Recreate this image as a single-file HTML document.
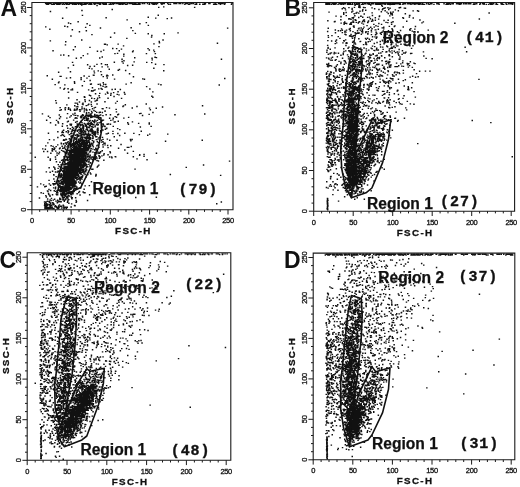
<!DOCTYPE html>
<html><head><meta charset="utf-8"><title>FSC-H / SSC-H scatter plots</title>
<style>
html,body{margin:0;padding:0;background:#fff}
svg{display:block}
text{font-family:"Liberation Sans",sans-serif;fill:#111}
.t text{font-size:7.5px;letter-spacing:-.3px;stroke:#111;stroke-width:.3px}
.ax{font-size:9.8px;font-weight:bold;letter-spacing:1.35px;stroke:#111;stroke-width:.3px}
.r{font-size:15.6px;font-weight:bold;stroke:#111;stroke-width:.25px}
.n{font-family:"Liberation Mono",monospace;font-size:15px;font-weight:bold;letter-spacing:.9px;stroke:#111;stroke-width:.35px}
.L{font-size:23px;font-weight:bold}
.d{fill:none;stroke:#111;stroke-width:1.38;stroke-linecap:square}
.g{fill:none;stroke:#111;stroke-width:1.6;stroke-linejoin:round}
</style></head><body>
<svg width="520" height="487" viewBox="0 0 520 487">
<rect width="520" height="487" fill="#fff"/>
<g fill="none" stroke="#1a1a1a" stroke-width="1.1">
<path d="M31.9 2.5V209.7H233.0V2.5Z"/>
<path stroke-width="1" d="M31.9 209.7v4.8M31.9 209.7h-4.8M39.7 209.7v2.2M31.9 201.6h-2.2M47.6 209.7v2.2M31.9 193.5h-2.2M55.4 209.7v2.2M31.9 185.4h-2.2M63.3 209.7v2.2M31.9 177.3h-2.2M71.1 209.7v4.8M31.9 169.3h-4.8M79.0 209.7v2.2M31.9 161.2h-2.2M86.8 209.7v2.2M31.9 153.1h-2.2M94.7 209.7v2.2M31.9 145.0h-2.2M102.5 209.7v2.2M31.9 136.9h-2.2M110.3 209.7v4.8M31.9 128.8h-4.8M118.2 209.7v2.2M31.9 120.7h-2.2M126.0 209.7v2.2M31.9 112.6h-2.2M133.9 209.7v2.2M31.9 104.6h-2.2M141.7 209.7v2.2M31.9 96.5h-2.2M149.6 209.7v4.8M31.9 88.4h-4.8M157.4 209.7v2.2M31.9 80.3h-2.2M165.2 209.7v2.2M31.9 72.2h-2.2M173.1 209.7v2.2M31.9 64.1h-2.2M180.9 209.7v2.2M31.9 56.0h-2.2M188.8 209.7v4.8M31.9 47.9h-4.8M196.6 209.7v2.2M31.9 39.9h-2.2M204.5 209.7v2.2M31.9 31.8h-2.2M212.3 209.7v2.2M31.9 23.7h-2.2M220.2 209.7v2.2M31.9 15.6h-2.2M228.0 209.7v4.8M31.9 7.5h-4.8"/>
</g>
<g class="t">
<text x="31.9" y="223.3" text-anchor="middle">0</text>
<text transform="translate(25.6 209.7) rotate(-90)" text-anchor="middle">0</text>
<text x="71.1" y="223.3" text-anchor="middle">50</text>
<text transform="translate(25.6 169.3) rotate(-90)" text-anchor="middle">50</text>
<text x="110.3" y="223.3" text-anchor="middle">100</text>
<text transform="translate(25.6 128.8) rotate(-90)" text-anchor="middle">100</text>
<text x="149.6" y="223.3" text-anchor="middle">150</text>
<text transform="translate(25.6 88.4) rotate(-90)" text-anchor="middle">150</text>
<text x="188.8" y="223.3" text-anchor="middle">200</text>
<text transform="translate(25.6 47.9) rotate(-90)" text-anchor="middle">200</text>
<text x="228.0" y="223.3" text-anchor="middle">250</text>
<text transform="translate(25.6 7.5) rotate(-90)" text-anchor="middle">250</text>
</g>
<text class="ax" x="133.4" y="234.3" text-anchor="middle">FSC-H</text>
<text class="ax" transform="translate(13.3 105.1) rotate(-90)" text-anchor="middle">SSC-H</text>
<path class="d" d="M81.5 170.4h.1M78.1 160.2h.1M83.7 146.9h.1M75.0 157.5h.1M68.2 172.6h.1M67.6 193.5h.1M68.2 164.6h.1M82.4 150.0h.1M84.5 160.4h.1M79.0 179.0h.1M70.5 158.8h.1M71.6 173.9h.1M76.4 166.9h.1M71.7 181.2h.1M77.4 169.3h.1M72.2 156.3h.1M66.1 189.2h.1M64.9 171.4h.1M64.9 193.7h.1M75.6 188.1h.1M61.5 191.5h.1M73.7 171.2h.1M76.0 163.5h.1M69.3 161.8h.1M81.0 150.1h.1M68.5 168.5h.1M61.1 201.8h.1M81.6 153.8h.1M71.6 167.5h.1M76.3 166.7h.1M61.6 186.8h.1M67.8 172.8h.1M76.5 158.7h.1M67.4 177.7h.1M76.5 153.2h.1M70.6 178.9h.1M70.2 166.8h.1M78.8 155.7h.1M68.5 174.7h.1M76.2 170.9h.1M73.8 165.9h.1M72.4 166.1h.1M70.3 185.2h.1M82.0 149.0h.1M79.1 158.3h.1M63.3 187.6h.1M80.4 156.7h.1M72.6 165.3h.1M65.0 174.3h.1M72.3 167.1h.1M83.1 159.2h.1M74.6 163.3h.1M70.2 165.1h.1M73.6 170.7h.1M77.6 144.0h.1M74.8 157.4h.1M71.7 167.8h.1M77.8 158.7h.1M82.5 148.6h.1M71.1 177.0h.1M70.9 174.3h.1M69.4 173.1h.1M70.8 170.5h.1M68.8 184.1h.1M70.5 175.3h.1M71.2 169.7h.1M79.4 169.5h.1M82.0 152.9h.1M75.8 170.3h.1M67.5 186.5h.1M67.0 188.6h.1M64.6 195.0h.1M74.4 174.9h.1M66.7 178.8h.1M72.3 167.7h.1M82.8 160.2h.1M76.2 160.2h.1M75.7 174.0h.1M73.6 148.4h.1M83.3 145.8h.1M72.8 173.8h.1M70.4 175.1h.1M82.0 146.5h.1M74.3 166.0h.1M67.0 168.2h.1M67.2 182.4h.1M62.1 189.6h.1M67.3 172.1h.1M74.9 174.5h.1M70.7 156.4h.1M71.0 166.9h.1M65.9 177.7h.1M74.9 173.2h.1M75.8 152.1h.1M68.4 176.9h.1M70.0 183.3h.1M59.0 182.1h.1M73.2 162.0h.1M66.0 190.8h.1M62.7 195.0h.1M68.8 170.4h.1M65.0 178.3h.1M72.3 164.5h.1M76.1 146.8h.1M68.5 165.0h.1M74.8 177.6h.1M76.3 165.3h.1M66.0 198.6h.1M70.7 174.2h.1M77.1 141.5h.1M74.7 157.1h.1M79.8 161.7h.1M69.5 181.9h.1M65.7 177.6h.1M75.6 167.7h.1M68.6 182.0h.1M73.7 163.5h.1M78.4 174.3h.1M75.6 153.2h.1M73.3 164.4h.1M70.6 169.1h.1M66.6 197.3h.1M75.7 170.1h.1M84.3 144.4h.1M67.0 182.6h.1M75.1 162.4h.1M62.5 196.3h.1M71.3 153.6h.1M60.2 189.6h.1M74.9 171.8h.1M71.7 179.8h.1M71.3 154.6h.1M75.3 166.1h.1M61.0 186.6h.1M74.0 148.4h.1M81.9 150.5h.1M74.2 168.7h.1M71.9 171.1h.1M79.4 161.0h.1M82.5 153.8h.1M76.7 163.1h.1M67.8 173.8h.1M73.5 172.6h.1M70.3 178.6h.1M72.1 176.6h.1M72.1 186.7h.1M74.5 148.4h.1M81.1 172.6h.1M81.8 152.0h.1M71.6 166.6h.1M84.8 152.1h.1M66.1 181.1h.1M66.3 173.5h.1M75.8 170.7h.1M70.9 172.3h.1M76.0 173.0h.1M64.9 185.6h.1M69.2 178.4h.1M81.0 144.7h.1M69.9 162.3h.1M66.6 181.2h.1M70.5 160.9h.1M65.4 182.8h.1M70.4 189.3h.1M71.6 170.0h.1M68.8 175.0h.1M75.4 178.4h.1M72.4 155.7h.1M64.2 192.5h.1M72.6 166.0h.1M73.0 178.9h.1M75.5 161.2h.1M69.8 174.4h.1M78.4 157.8h.1M77.3 156.3h.1M83.8 162.9h.1M73.8 151.6h.1M75.0 175.8h.1M82.8 166.3h.1M76.8 169.2h.1M74.3 174.6h.1M69.1 173.7h.1M72.0 181.8h.1M71.0 171.2h.1M82.5 153.5h.1M67.2 160.2h.1M77.4 150.7h.1M64.9 169.5h.1M82.6 154.0h.1M75.4 154.9h.1M70.1 187.5h.1M76.2 153.8h.1M73.6 159.8h.1M78.5 171.5h.1M82.7 154.9h.1M81.6 158.3h.1M83.0 158.1h.1M80.7 155.9h.1M74.7 174.9h.1M86.2 148.7h.1M67.0 184.3h.1M75.9 155.0h.1M68.5 195.9h.1M79.9 156.3h.1M76.0 160.7h.1M85.1 138.2h.1M73.6 175.2h.1M70.4 167.3h.1M74.6 155.3h.1M66.1 180.4h.1M74.2 167.9h.1M70.6 153.5h.1M64.2 173.9h.1M71.8 176.7h.1M75.3 164.1h.1M67.5 170.9h.1M75.2 171.9h.1M72.3 166.4h.1M79.4 150.9h.1M69.6 186.2h.1M73.6 170.1h.1M74.4 182.8h.1M67.4 190.6h.1M83.2 163.2h.1M69.6 152.9h.1M63.9 177.2h.1M65.8 175.2h.1M69.7 174.7h.1M65.0 179.8h.1M64.6 177.9h.1M70.9 163.5h.1M71.7 162.4h.1M73.7 177.4h.1M73.7 162.3h.1M85.5 140.6h.1M70.9 188.0h.1M73.4 180.6h.1M67.0 180.9h.1M69.7 166.3h.1M71.3 189.0h.1M68.3 162.6h.1M73.4 151.7h.1M78.7 157.6h.1M73.7 172.3h.1M72.4 171.6h.1M75.8 150.5h.1M74.8 168.3h.1M81.5 158.1h.1M67.7 179.9h.1M71.2 197.0h.1M68.8 167.7h.1M79.1 148.9h.1M71.0 165.8h.1M66.0 182.8h.1M66.3 179.4h.1M77.6 154.9h.1M77.3 166.4h.1M74.6 167.1h.1M73.6 168.3h.1M69.3 165.3h.1M61.0 184.1h.1M65.5 185.0h.1M70.4 184.6h.1M75.6 170.0h.1M78.3 156.6h.1M65.2 175.0h.1M62.8 193.5h.1M75.4 163.3h.1M75.6 170.4h.1M71.0 165.0h.1M78.1 151.9h.1M82.3 144.1h.1M80.5 147.5h.1M65.3 171.6h.1M66.9 187.8h.1M69.4 160.1h.1M68.9 166.5h.1M74.7 164.0h.1M70.1 167.2h.1M73.4 169.4h.1M75.9 170.5h.1M73.2 171.5h.1M73.2 178.7h.1M77.7 150.6h.1M75.2 162.9h.1M71.5 166.8h.1M78.2 145.6h.1M82.0 179.1h.1M70.6 172.4h.1M71.0 194.6h.1M82.2 142.1h.1M81.5 155.5h.1M78.9 151.9h.1M72.0 156.6h.1M80.2 168.2h.1M79.5 149.2h.1M73.8 167.8h.1M79.5 172.3h.1M71.6 165.9h.1M81.0 146.9h.1M78.2 160.6h.1M75.9 169.2h.1M59.3 171.2h.1M71.9 176.7h.1M89.6 143.7h.1M84.4 148.3h.1M72.3 175.1h.1M73.3 172.7h.1M72.9 170.2h.1M76.1 172.2h.1M67.8 177.5h.1M80.0 155.3h.1M77.3 172.4h.1M77.3 166.3h.1M77.7 160.4h.1M62.7 188.1h.1M70.7 170.1h.1M70.6 179.6h.1M77.9 155.4h.1M80.1 147.3h.1M69.2 157.0h.1M83.4 147.5h.1M70.4 171.2h.1M73.9 158.7h.1M71.5 183.9h.1M74.4 163.2h.1M65.9 186.9h.1M70.6 181.0h.1M81.6 139.3h.1M68.6 169.7h.1M68.9 167.9h.1M69.6 180.7h.1M77.9 153.5h.1M60.9 176.3h.1M72.1 184.0h.1M79.2 149.8h.1M71.7 162.7h.1M78.4 152.6h.1M78.8 145.9h.1M74.3 163.7h.1M73.7 159.0h.1M78.7 139.2h.1M73.4 170.5h.1M70.0 175.3h.1M67.1 186.0h.1M75.2 167.5h.1M76.5 159.7h.1M82.4 155.9h.1M66.5 178.7h.1M67.0 166.7h.1M73.1 149.8h.1M61.0 188.0h.1M74.7 175.1h.1M69.2 162.6h.1M77.6 164.4h.1M72.3 171.6h.1M60.5 183.0h.1M78.5 166.1h.1M70.2 167.6h.1M67.8 180.3h.1M82.5 144.6h.1M72.9 179.0h.1M72.4 166.2h.1M68.0 188.0h.1M71.8 160.9h.1M69.7 164.5h.1M71.5 188.5h.1M79.6 156.5h.1M78.2 158.3h.1M72.9 182.4h.1M69.1 192.3h.1M71.4 172.4h.1M71.0 177.0h.1M83.0 160.1h.1M86.7 137.4h.1M72.8 163.9h.1M81.9 158.1h.1M71.1 184.6h.1M67.7 166.2h.1M68.0 168.2h.1M78.6 171.7h.1M81.2 161.6h.1M68.7 176.7h.1M83.4 153.9h.1M79.8 153.3h.1M68.7 186.0h.1M69.2 173.2h.1M82.9 170.1h.1M89.6 148.0h.1M76.1 174.4h.1M70.7 164.3h.1M67.7 185.4h.1M83.9 158.1h.1M79.5 145.9h.1M70.1 169.2h.1M75.6 164.9h.1M79.4 155.3h.1M63.4 190.5h.1M69.2 166.1h.1M72.6 168.6h.1M73.6 161.5h.1M71.9 172.7h.1M80.1 154.0h.1M77.9 165.8h.1M74.5 162.3h.1M68.4 185.0h.1M78.5 156.8h.1M72.6 160.0h.1M80.3 143.7h.1M77.2 148.0h.1M82.2 161.4h.1M71.1 168.2h.1M80.0 156.4h.1M68.4 190.9h.1M71.1 184.0h.1M69.9 164.2h.1M69.1 170.7h.1M84.0 146.8h.1M74.5 177.8h.1M65.8 188.8h.1M67.0 190.9h.1M71.5 154.9h.1M83.7 156.0h.1M85.4 155.4h.1M79.8 153.2h.1M78.0 155.3h.1M67.9 181.6h.1M68.4 173.4h.1M61.8 177.0h.1M83.2 144.9h.1M72.9 175.5h.1M75.8 181.1h.1M71.2 171.3h.1M65.5 180.4h.1M68.1 185.4h.1M69.1 166.6h.1M77.9 155.4h.1M60.6 186.4h.1M72.4 167.0h.1M82.7 154.3h.1M68.0 189.9h.1M85.8 150.9h.1M88.7 145.4h.1M80.1 146.7h.1M70.1 167.3h.1M59.2 185.4h.1M72.7 170.7h.1M66.8 188.8h.1M84.8 148.9h.1M64.1 182.7h.1M75.2 158.8h.1M75.5 168.9h.1M65.8 181.4h.1M71.1 168.2h.1M80.5 169.2h.1M75.7 153.5h.1M68.6 179.7h.1M71.3 178.2h.1M66.6 191.5h.1M62.5 178.5h.1M59.1 190.3h.1M58.1 189.7h.1M77.4 169.8h.1M79.5 158.5h.1M62.8 187.1h.1M72.5 183.9h.1M72.5 178.6h.1M80.0 169.9h.1M68.9 159.9h.1M67.2 173.2h.1M82.6 137.8h.1M75.7 159.3h.1M71.3 178.3h.1M77.2 162.1h.1M66.6 179.9h.1M82.5 151.0h.1M64.6 178.5h.1M84.6 142.8h.1M76.5 169.1h.1M70.2 162.5h.1M82.9 143.5h.1M73.6 161.4h.1M77.9 160.3h.1M75.9 186.2h.1M66.5 180.9h.1M72.1 186.5h.1M64.7 179.9h.1M72.5 187.7h.1M89.3 145.0h.1M76.6 155.9h.1M67.3 180.0h.1M66.2 186.5h.1M76.2 173.9h.1M77.3 147.4h.1M64.8 207.8h.1M83.2 146.2h.1M71.1 183.2h.1M80.1 153.8h.1M70.1 167.5h.1M72.9 176.5h.1M64.1 187.3h.1M66.3 179.9h.1M83.7 158.7h.1M81.8 157.8h.1M68.7 185.1h.1M71.4 180.1h.1M65.1 187.3h.1M80.4 170.4h.1M71.6 165.0h.1M75.4 154.2h.1M73.7 169.0h.1M78.0 170.9h.1M73.3 168.4h.1M75.3 168.7h.1M74.9 157.6h.1M75.6 162.8h.1M70.3 168.4h.1M72.1 176.5h.1M68.1 166.5h.1M78.8 178.8h.1M80.2 160.7h.1M71.6 167.7h.1M73.8 183.7h.1M74.0 158.3h.1M84.4 151.2h.1M72.2 170.2h.1M65.7 199.5h.1M70.7 180.2h.1M76.3 158.1h.1M72.8 170.9h.1M72.2 175.5h.1M61.4 177.1h.1M73.5 167.5h.1M70.3 187.3h.1M65.2 180.2h.1M70.3 167.4h.1M66.2 174.3h.1M59.8 185.7h.1M66.7 197.0h.1M70.3 164.9h.1M78.7 140.8h.1M72.8 169.7h.1M77.5 154.1h.1M82.5 176.5h.1M70.8 181.6h.1M65.9 168.9h.1M77.2 177.4h.1M76.0 166.9h.1M66.6 183.5h.1M75.6 155.6h.1M68.5 163.4h.1M80.8 167.2h.1M70.7 175.0h.1M73.3 158.9h.1M70.0 191.9h.1M76.0 161.3h.1M74.7 143.5h.1M70.3 161.9h.1M74.7 158.4h.1M76.7 188.0h.1M72.8 171.2h.1M75.4 158.3h.1M76.8 162.0h.1M73.9 167.4h.1M55.1 184.1h.1M77.0 160.4h.1M84.2 149.1h.1M77.7 153.4h.1M75.9 164.7h.1M67.0 189.1h.1M78.6 154.8h.1M62.7 188.7h.1M60.2 201.7h.1M79.8 163.9h.1M80.9 148.9h.1M65.5 184.5h.1M72.1 176.8h.1M75.8 148.7h.1M69.6 169.7h.1M78.5 165.1h.1M81.1 143.3h.1M66.9 163.8h.1M67.5 166.9h.1M72.6 170.9h.1M69.8 168.0h.1M72.6 177.8h.1M80.9 163.6h.1M73.6 161.4h.1M73.3 165.7h.1M76.7 153.3h.1M74.7 164.8h.1M72.2 167.8h.1M79.1 158.2h.1M74.8 158.9h.1M73.1 159.7h.1M75.8 162.2h.1M69.2 170.7h.1M83.0 161.4h.1M71.4 182.2h.1M75.0 147.6h.1M59.9 185.5h.1M68.1 179.8h.1M80.9 148.6h.1M79.3 166.0h.1M70.5 172.0h.1M67.8 174.7h.1M74.6 181.2h.1M73.3 162.2h.1M63.5 189.7h.1M76.5 154.7h.1M79.5 163.8h.1M68.7 175.0h.1M78.9 169.6h.1M72.0 155.3h.1M59.4 204.9h.1M68.9 193.3h.1M71.5 158.4h.1M72.9 156.7h.1M83.9 146.5h.1M71.4 149.2h.1M78.7 164.5h.1M72.0 168.4h.1M73.3 155.2h.1M79.0 177.8h.1M69.8 166.7h.1M78.3 155.2h.1M69.2 179.7h.1M76.7 171.1h.1M72.2 167.7h.1M78.5 166.2h.1M83.7 150.5h.1M75.0 168.5h.1M72.2 185.0h.1M63.2 178.6h.1M77.4 171.8h.1M75.3 171.2h.1M78.6 157.2h.1M78.8 153.3h.1M63.3 187.0h.1M78.0 146.2h.1M76.4 163.3h.1M71.7 177.0h.1M65.9 188.2h.1M66.2 178.7h.1M73.6 159.9h.1M77.9 161.5h.1M75.2 186.0h.1M59.0 183.7h.1M69.0 169.5h.1M78.1 152.2h.1M72.7 166.2h.1M71.2 179.8h.1M80.9 158.6h.1M68.7 184.8h.1M77.7 158.6h.1M77.1 164.8h.1M74.2 182.0h.1M75.1 166.9h.1M79.9 143.9h.1M79.9 155.7h.1M70.4 176.1h.1M85.3 158.4h.1M80.3 151.3h.1M85.1 137.2h.1M87.9 141.9h.1M80.1 168.9h.1M69.0 175.5h.1M73.5 176.8h.1M71.2 168.6h.1M79.2 156.7h.1M72.0 165.1h.1M77.0 161.8h.1M80.5 165.3h.1M65.7 190.0h.1M67.6 187.5h.1M65.7 181.8h.1M68.5 186.4h.1M74.3 169.9h.1M71.6 163.5h.1M72.5 157.5h.1M69.2 171.1h.1M76.1 149.1h.1M67.6 179.0h.1M76.1 152.0h.1M65.4 180.3h.1M76.2 155.9h.1M64.8 191.1h.1M80.4 147.4h.1M73.4 141.3h.1M72.5 170.5h.1M77.9 158.3h.1M67.0 189.7h.1M68.6 181.7h.1M70.9 172.3h.1M90.2 134.5h.1M85.4 157.1h.1M72.0 168.6h.1M82.9 159.9h.1M69.3 176.5h.1M71.9 170.5h.1M67.7 171.0h.1M73.6 148.8h.1M74.7 160.3h.1M78.9 159.1h.1M72.8 182.7h.1M86.0 142.3h.1M74.1 165.8h.1M88.5 149.5h.1M73.2 167.9h.1M76.5 159.7h.1M74.5 158.0h.1M76.1 164.3h.1M76.5 158.3h.1M79.6 159.2h.1M73.6 172.8h.1M71.5 192.8h.1M68.4 180.4h.1M67.5 167.2h.1M71.4 171.8h.1M75.2 159.0h.1M71.7 183.6h.1M76.8 142.7h.1M82.4 151.9h.1M72.0 163.0h.1M78.7 152.2h.1M86.8 141.8h.1M70.0 165.9h.1M64.6 192.0h.1M68.5 179.4h.1M68.7 176.0h.1M70.5 176.4h.1M69.9 181.9h.1M62.0 194.2h.1M76.7 163.4h.1M65.9 188.0h.1M72.5 177.9h.1M78.4 170.9h.1M82.1 151.7h.1M75.0 169.1h.1M70.9 174.8h.1M66.3 174.3h.1M71.3 192.6h.1M73.0 167.7h.1M90.7 145.2h.1M72.4 182.3h.1M82.0 150.1h.1M74.1 191.2h.1M72.0 192.6h.1M75.1 161.7h.1M73.0 168.2h.1M72.6 171.6h.1M75.0 172.5h.1M64.9 167.3h.1M80.7 149.7h.1M76.3 169.8h.1M63.8 175.6h.1M69.6 171.8h.1M77.6 160.7h.1M62.7 184.1h.1M71.9 170.5h.1M73.9 159.4h.1M63.1 193.6h.1M71.7 184.0h.1M69.1 169.1h.1M77.6 154.8h.1M71.4 184.7h.1M77.1 166.2h.1M69.5 168.0h.1M81.3 150.4h.1M73.8 166.3h.1M66.0 181.2h.1M80.5 147.0h.1M69.4 196.1h.1M65.8 181.8h.1M68.4 171.4h.1M73.8 157.3h.1M70.8 157.1h.1M68.4 177.8h.1M63.0 187.9h.1M76.8 140.9h.1M73.2 171.9h.1M71.5 153.9h.1M70.1 157.9h.1M68.0 174.2h.1M61.8 179.5h.1M68.7 171.4h.1M69.3 189.1h.1M66.3 174.9h.1M74.3 162.0h.1M73.7 162.7h.1M63.7 193.0h.1M67.8 168.5h.1M74.4 159.2h.1M71.2 181.8h.1M67.3 179.4h.1M68.0 174.7h.1M71.0 182.6h.1M72.0 176.9h.1M65.2 194.9h.1M79.8 157.2h.1M71.8 168.5h.1M74.9 152.5h.1M67.4 163.6h.1M72.5 157.3h.1M70.1 165.7h.1M75.8 148.8h.1M70.9 160.0h.1M76.9 162.6h.1M67.1 177.8h.1M65.2 186.9h.1M73.2 169.9h.1M73.9 171.6h.1M69.8 183.6h.1M67.8 186.4h.1M86.1 146.8h.1M73.7 161.4h.1M67.7 184.0h.1M80.6 147.2h.1M71.0 170.9h.1M70.6 167.8h.1M78.6 160.5h.1M74.4 166.4h.1M76.2 178.3h.1M73.8 191.6h.1M76.9 179.9h.1M67.9 166.0h.1M87.0 150.9h.1M84.7 131.8h.1M63.3 179.3h.1M72.9 174.4h.1M63.6 176.8h.1M71.3 153.4h.1M76.5 149.0h.1M62.7 171.0h.1M71.2 167.1h.1M71.3 181.8h.1M67.0 179.9h.1M72.8 174.6h.1M67.8 197.8h.1M71.0 188.8h.1M69.0 154.5h.1M76.2 166.2h.1M72.7 170.1h.1M67.1 192.5h.1M74.5 163.3h.1M71.0 177.3h.1M81.5 150.3h.1M73.1 182.4h.1M74.2 181.4h.1M79.3 159.9h.1M69.6 175.0h.1M60.3 180.7h.1M79.3 140.0h.1M74.2 145.4h.1M72.9 163.9h.1M79.6 151.8h.1M75.9 175.7h.1M79.2 152.0h.1M84.2 162.2h.1M73.8 170.0h.1M80.1 131.5h.1M71.0 170.9h.1M74.1 153.5h.1M74.5 169.1h.1M78.3 169.6h.1M81.2 151.6h.1M73.1 173.2h.1M60.6 189.6h.1M58.5 186.8h.1M76.2 168.2h.1M75.3 166.4h.1M80.6 149.7h.1M76.3 163.6h.1M84.7 150.7h.1M67.7 182.4h.1M72.1 167.3h.1M82.5 138.4h.1M81.7 158.5h.1M75.2 164.2h.1M80.5 167.6h.1M79.1 141.9h.1M72.5 181.4h.1M76.4 162.7h.1M77.4 161.8h.1M79.3 158.1h.1M72.7 181.3h.1M74.0 185.7h.1M65.9 169.0h.1M73.2 165.5h.1M65.1 187.7h.1M60.3 180.3h.1M75.1 164.1h.1M75.9 154.8h.1M68.6 180.6h.1M68.1 169.2h.1M62.4 192.3h.1M80.8 144.0h.1M78.0 158.0h.1M67.2 181.5h.1M75.0 150.5h.1M92.4 138.6h.1M68.8 181.7h.1M73.9 171.0h.1M71.7 175.6h.1M81.1 168.4h.1M71.4 165.1h.1M80.0 159.0h.1M67.8 185.7h.1M80.5 153.7h.1M79.2 170.3h.1M82.1 148.8h.1M81.0 167.3h.1M73.5 177.8h.1M81.4 149.1h.1M77.1 157.4h.1M73.5 166.9h.1M67.9 184.5h.1M63.3 171.8h.1M78.6 148.6h.1M86.4 145.7h.1M72.8 176.1h.1M76.6 166.3h.1M68.0 184.4h.1M71.8 178.7h.1M79.7 159.8h.1M67.2 166.3h.1M72.4 170.0h.1M79.8 153.8h.1M67.5 186.7h.1M80.2 151.5h.1M64.8 175.8h.1M67.0 179.9h.1M75.7 148.8h.1M84.1 172.8h.1M65.9 184.7h.1M73.6 155.2h.1M71.0 152.2h.1M79.3 151.2h.1M86.9 149.7h.1M73.4 161.2h.1M79.2 158.5h.1M76.7 178.6h.1M80.8 154.2h.1M69.0 168.1h.1M66.5 173.2h.1M68.5 173.2h.1M77.5 167.9h.1M60.5 175.1h.1M74.8 176.7h.1M71.6 173.4h.1M84.2 154.2h.1M66.4 172.3h.1M67.9 177.8h.1M65.1 180.6h.1M75.6 160.4h.1M78.0 155.7h.1M68.7 178.5h.1M79.4 172.0h.1M68.3 170.5h.1M79.4 141.0h.1M83.3 144.8h.1M63.8 194.1h.1M67.2 181.3h.1M71.1 156.4h.1M75.8 156.1h.1M77.0 157.4h.1M74.9 169.1h.1M81.1 163.2h.1M78.8 159.3h.1M72.8 168.4h.1M79.4 153.8h.1M70.9 173.6h.1M73.9 157.8h.1M66.8 181.0h.1M77.2 154.0h.1M70.0 169.5h.1M68.4 179.3h.1M80.0 149.8h.1M67.2 179.2h.1M87.0 149.4h.1M62.4 183.7h.1M77.9 169.5h.1M65.9 178.9h.1M70.2 176.1h.1M64.8 178.9h.1M78.5 153.1h.1M69.9 187.7h.1M78.4 141.8h.1M75.6 159.4h.1M78.3 152.9h.1M71.4 172.0h.1M68.6 169.5h.1M64.9 181.8h.1M73.0 166.0h.1M74.5 181.7h.1M80.0 154.0h.1M71.1 172.8h.1M63.4 175.0h.1M72.0 167.1h.1M75.5 162.7h.1M71.1 160.5h.1M66.4 188.0h.1M75.3 162.7h.1M74.7 162.2h.1M73.1 185.0h.1M74.7 153.1h.1M77.8 150.5h.1M72.5 173.0h.1M73.6 179.6h.1M72.9 166.3h.1M67.0 169.5h.1M74.3 172.2h.1M68.2 193.4h.1M67.4 179.3h.1M68.1 199.7h.1M83.2 165.2h.1M68.7 185.3h.1M72.3 178.1h.1M75.0 166.1h.1M76.7 164.4h.1M75.8 157.1h.1M65.5 191.5h.1M71.8 178.5h.1M64.9 195.8h.1M65.9 180.9h.1M77.9 144.5h.1M64.9 180.6h.1M68.0 174.4h.1M85.6 170.5h.1M83.2 151.6h.1M72.9 172.2h.1M77.0 155.3h.1M82.0 161.8h.1M64.9 175.0h.1M65.1 186.9h.1M76.2 166.5h.1M68.0 180.5h.1M77.5 159.9h.1M74.9 171.8h.1M75.7 155.4h.1M81.1 151.3h.1M84.0 153.9h.1M65.8 195.3h.1M72.2 172.0h.1M84.8 148.1h.1M67.1 170.6h.1M73.3 179.6h.1M65.8 168.8h.1M74.5 154.3h.1M77.3 167.0h.1M85.0 134.0h.1M64.7 178.0h.1M68.6 182.8h.1M73.3 180.9h.1M71.0 172.8h.1M71.2 151.1h.1M74.6 180.5h.1M65.2 183.8h.1M77.7 155.3h.1M72.5 171.1h.1M72.9 173.0h.1M68.8 183.4h.1M71.7 160.6h.1M67.8 176.2h.1M69.0 190.5h.1M71.5 155.2h.1M74.9 177.7h.1M73.4 160.0h.1M82.0 141.7h.1M74.9 149.9h.1M66.4 182.6h.1M73.9 154.2h.1M79.2 151.7h.1M72.2 159.8h.1M79.3 147.3h.1M72.7 145.3h.1M69.2 186.6h.1M63.6 181.0h.1M59.8 199.6h.1M80.8 144.8h.1M78.7 159.1h.1M70.6 169.9h.1M77.2 173.2h.1M86.2 147.2h.1M69.7 169.4h.1M84.5 153.9h.1M57.6 194.7h.1M80.4 151.2h.1M79.2 148.5h.1M73.7 165.5h.1M72.9 163.8h.1M83.4 142.7h.1M71.5 176.6h.1M72.6 170.9h.1M71.3 161.3h.1M74.3 152.3h.1M76.1 145.6h.1M71.6 168.0h.1M71.7 174.1h.1M80.8 165.5h.1M83.5 132.4h.1M74.2 155.6h.1M75.9 164.9h.1M78.5 144.2h.1M74.1 150.9h.1M71.9 170.2h.1M66.8 173.5h.1M75.9 156.9h.1M77.5 175.1h.1M72.8 174.0h.1M68.8 184.3h.1M67.0 178.9h.1M72.0 180.7h.1M77.6 160.7h.1M81.9 154.5h.1M75.3 162.5h.1M69.5 177.2h.1M78.6 142.2h.1M70.8 165.6h.1M72.1 168.9h.1M70.9 171.3h.1M70.3 174.4h.1M71.1 172.2h.1M74.5 147.1h.1M82.4 170.2h.1M70.2 177.8h.1M66.9 181.6h.1M65.9 175.2h.1M78.0 166.6h.1M68.5 176.7h.1M75.9 150.7h.1M71.0 178.6h.1M74.6 185.1h.1M71.0 177.8h.1M67.7 196.3h.1M70.8 167.1h.1M75.9 169.9h.1M69.8 157.3h.1M70.7 172.9h.1M72.4 178.8h.1M83.9 143.8h.1M77.3 168.6h.1M72.0 166.8h.1M66.0 171.0h.1M86.3 134.3h.1M76.5 148.5h.1M78.6 163.4h.1M71.6 168.8h.1M62.5 171.4h.1M84.2 153.2h.1M63.7 180.2h.1M73.2 154.7h.1M75.3 182.7h.1M87.2 145.2h.1M77.3 167.4h.1M81.5 134.2h.1M76.4 163.7h.1M73.3 169.3h.1M70.0 168.7h.1M75.1 161.3h.1M77.7 152.8h.1M72.0 174.5h.1M62.7 184.2h.1M68.0 190.8h.1M62.8 177.8h.1M77.2 160.5h.1M78.5 162.1h.1M66.0 180.4h.1M69.9 171.9h.1M80.6 169.5h.1M75.0 160.3h.1M74.2 179.9h.1M75.1 171.9h.1M61.5 191.2h.1M70.7 184.2h.1M80.1 144.9h.1M63.8 197.7h.1M64.8 169.5h.1M74.8 164.5h.1M75.7 174.0h.1M75.4 174.2h.1M76.3 169.4h.1M69.8 175.6h.1M73.0 168.5h.1M60.6 191.7h.1M69.3 176.8h.1M68.7 178.9h.1M69.5 174.5h.1M68.8 181.4h.1M75.5 158.3h.1M75.0 154.2h.1M67.0 176.1h.1M75.1 168.8h.1M85.5 153.7h.1M74.3 173.7h.1M79.3 148.1h.1M86.0 160.5h.1M74.2 170.4h.1M81.4 140.5h.1M68.6 186.8h.1M78.4 166.0h.1M64.5 172.4h.1M60.5 187.5h.1M67.6 186.3h.1M64.2 177.8h.1M68.6 166.0h.1M81.8 156.8h.1M68.7 150.4h.1M76.3 169.7h.1M73.4 170.3h.1M73.2 180.2h.1M74.2 164.2h.1M76.9 172.5h.1M63.7 194.3h.1M78.2 142.2h.1M72.5 167.6h.1M71.9 174.6h.1M72.6 152.4h.1M73.3 177.7h.1M64.0 182.5h.1M81.0 150.0h.1M73.8 164.1h.1M65.8 188.1h.1M76.2 158.4h.1M80.2 149.4h.1M77.1 166.0h.1M72.1 177.4h.1M70.2 171.5h.1M79.8 151.2h.1M70.1 189.5h.1M81.8 152.2h.1M81.9 151.8h.1M79.5 151.4h.1M79.6 148.7h.1M76.4 158.3h.1M68.2 189.2h.1M75.3 162.2h.1M79.9 164.9h.1M81.8 176.4h.1M80.6 148.4h.1M77.6 174.5h.1M69.9 187.7h.1M84.9 149.3h.1M74.5 157.6h.1M78.9 166.0h.1M77.1 154.5h.1M80.5 153.6h.1M79.6 164.4h.1M86.9 148.2h.1M75.6 150.7h.1M84.3 155.6h.1M87.5 147.8h.1M90.8 124.2h.1M72.6 154.2h.1M79.6 156.5h.1M76.6 164.9h.1M70.6 157.4h.1M69.9 167.8h.1M65.9 179.1h.1M84.6 118.4h.1M67.4 202.4h.1M75.9 156.0h.1M82.4 153.9h.1M70.3 156.4h.1M63.2 179.8h.1M80.1 168.0h.1M63.8 168.4h.1M74.2 186.6h.1M67.9 160.2h.1M71.0 169.8h.1M76.3 175.2h.1M87.1 150.2h.1M69.1 184.5h.1M78.7 152.9h.1M74.9 176.2h.1M75.0 151.9h.1M84.1 163.6h.1M77.0 157.1h.1M67.8 182.3h.1M80.6 182.2h.1M66.9 179.1h.1M84.1 161.3h.1M95.8 152.2h.1M87.0 141.2h.1M72.8 173.0h.1M70.4 158.4h.1M65.9 196.6h.1M49.6 204.7h.1M60.0 176.9h.1M63.6 173.6h.1M55.5 191.4h.1M59.7 198.2h.1M82.5 152.5h.1M65.2 177.4h.1M56.7 194.8h.1M91.1 113.9h.1M77.9 159.3h.1M82.1 172.3h.1M76.1 146.9h.1M67.2 177.3h.1M94.8 132.5h.1M62.9 193.9h.1M60.9 187.8h.1M74.7 165.5h.1M64.6 176.5h.1M81.1 131.8h.1M71.9 198.8h.1M71.3 178.3h.1M73.9 156.6h.1M73.7 149.0h.1M74.0 138.9h.1M89.1 159.8h.1M91.9 117.4h.1M67.1 170.9h.1M68.9 156.4h.1M71.2 141.3h.1M78.2 171.3h.1M75.0 169.6h.1M77.8 174.6h.1M65.2 174.2h.1M74.4 188.9h.1M63.6 171.6h.1M57.7 192.7h.1M74.8 153.9h.1M76.1 200.4h.1M94.5 121.8h.1M83.1 126.2h.1M91.7 143.2h.1M74.7 167.8h.1M71.1 175.2h.1M78.7 135.8h.1M74.5 158.6h.1M77.4 150.8h.1M72.1 178.8h.1M82.8 141.0h.1M69.7 179.8h.1M71.3 159.2h.1M63.0 199.0h.1M63.7 174.2h.1M88.8 156.4h.1M64.2 169.7h.1M72.5 172.6h.1M73.9 144.3h.1M73.8 164.4h.1M79.0 135.6h.1M82.4 152.6h.1M78.1 152.5h.1M64.3 195.3h.1M63.8 189.4h.1M91.2 148.6h.1M67.8 185.5h.1M71.5 176.8h.1M84.0 152.5h.1M73.5 170.4h.1M87.7 156.7h.1M59.9 177.9h.1M74.3 156.1h.1M71.5 136.7h.1M82.5 158.4h.1M78.0 149.1h.1M85.3 165.6h.1M66.7 181.3h.1M89.5 136.0h.1M63.8 199.8h.1M87.3 124.0h.1M69.8 176.1h.1M75.4 126.7h.1M70.7 162.7h.1M72.6 193.4h.1M69.6 159.1h.1M85.4 159.3h.1M78.3 151.8h.1M90.3 144.1h.1M73.1 183.5h.1M70.6 150.2h.1M83.7 149.3h.1M76.7 170.2h.1M71.2 183.7h.1M69.5 183.6h.1M71.7 144.6h.1M87.9 149.3h.1M76.1 183.0h.1M61.3 189.5h.1M93.7 141.2h.1M65.4 196.0h.1M69.2 157.5h.1M68.8 179.8h.1M64.6 200.4h.1M80.0 162.2h.1M78.9 169.2h.1M89.2 134.9h.1M91.0 116.2h.1M65.9 164.4h.1M76.7 140.0h.1M86.1 143.0h.1M75.3 175.6h.1M64.2 179.6h.1M97.9 134.1h.1M74.8 171.7h.1M76.6 164.5h.1M79.4 171.7h.1M79.9 168.2h.1M68.2 174.9h.1M90.5 151.5h.1M89.8 139.4h.1M76.0 172.4h.1M64.1 191.5h.1M83.5 165.2h.1M57.2 191.5h.1M72.0 177.1h.1M85.7 138.5h.1M94.5 116.3h.1M81.8 157.0h.1M72.9 187.4h.1M73.9 144.7h.1M70.4 177.8h.1M80.4 129.8h.1M84.8 149.5h.1M60.8 190.3h.1M62.4 197.5h.1M86.7 147.7h.1M70.0 162.6h.1M79.5 178.8h.1M74.1 153.4h.1M76.0 177.1h.1M58.1 201.9h.1M72.7 143.7h.1M66.7 175.4h.1M71.1 185.3h.1M65.2 190.8h.1M79.1 159.0h.1M76.0 182.4h.1M86.4 152.9h.1M72.8 168.7h.1M79.9 139.9h.1M82.8 175.1h.1M70.6 176.9h.1M57.3 202.7h.1M66.2 185.7h.1M86.5 150.7h.1M91.7 98.2h.1M73.0 191.7h.1M63.4 183.3h.1M68.0 152.9h.1M90.9 158.0h.1M68.5 176.7h.1M73.8 161.0h.1M61.7 195.9h.1M77.5 171.1h.1M83.7 145.5h.1M95.7 132.8h.1M73.1 166.5h.1M70.0 167.5h.1M82.5 155.5h.1M89.0 142.6h.1M81.6 154.3h.1M69.6 178.8h.1M77.4 155.9h.1M83.0 143.7h.1M69.4 177.8h.1M73.0 193.7h.1M95.3 158.8h.1M74.2 154.5h.1M73.9 140.3h.1M84.3 164.6h.1M74.3 178.0h.1M70.1 171.7h.1M61.8 182.4h.1M64.2 181.4h.1M63.3 172.1h.1M71.9 173.4h.1M81.0 139.5h.1M63.5 187.6h.1M77.4 165.2h.1M63.6 172.8h.1M82.6 131.3h.1M71.3 155.7h.1M74.7 171.8h.1M75.1 144.3h.1M82.0 164.2h.1M69.3 172.2h.1M102.4 137.4h.1M86.6 150.8h.1M83.8 126.1h.1M86.6 140.4h.1M80.0 146.9h.1M85.9 164.0h.1M57.9 182.1h.1M77.0 147.3h.1M75.9 161.8h.1M77.8 148.4h.1M73.2 162.6h.1M61.6 174.3h.1M66.5 183.4h.1M89.3 152.0h.1M86.5 137.2h.1M65.4 166.3h.1M75.3 152.6h.1M88.1 135.6h.1M65.4 179.0h.1M72.0 169.9h.1M63.3 184.8h.1M93.6 142.3h.1M82.6 159.7h.1M67.9 171.1h.1M64.2 197.6h.1M71.8 166.0h.1M71.1 138.3h.1M74.9 169.8h.1M70.7 171.3h.1M83.4 151.1h.1M69.8 189.7h.1M76.1 162.2h.1M88.5 153.9h.1M82.0 183.6h.1M61.0 177.1h.1M77.8 158.2h.1M67.9 162.6h.1M72.8 167.6h.1M76.0 158.5h.1M73.0 157.0h.1M64.1 180.5h.1M77.5 179.3h.1M71.5 151.2h.1M89.5 142.1h.1M84.2 134.8h.1M53.7 174.8h.1M83.0 140.4h.1M71.0 143.8h.1M77.2 164.4h.1M75.3 151.6h.1M81.2 145.8h.1M86.2 125.4h.1M72.6 186.4h.1M85.3 152.6h.1M72.3 165.1h.1M83.1 170.6h.1M88.9 141.2h.1M77.6 144.7h.1M71.4 185.1h.1M78.5 170.6h.1M83.7 160.6h.1M63.9 191.5h.1M84.0 146.0h.1M73.9 164.1h.1M77.7 160.0h.1M66.8 152.0h.1M91.4 126.8h.1M87.3 166.4h.1M72.0 169.9h.1M88.3 127.2h.1M70.7 172.8h.1M81.0 177.1h.1M58.3 188.8h.1M83.6 140.8h.1M77.6 157.4h.1M88.3 156.6h.1M73.8 158.4h.1M74.8 165.8h.1M61.5 176.0h.1M72.0 179.7h.1M85.9 156.7h.1M75.5 160.0h.1M93.0 131.4h.1M67.2 177.5h.1M78.2 175.1h.1M68.5 184.0h.1M87.0 135.1h.1M66.4 188.1h.1M84.2 148.1h.1M90.9 135.1h.1M74.7 165.8h.1M84.2 149.2h.1M58.6 206.0h.1M74.1 171.3h.1M76.4 201.6h.1M77.0 159.4h.1M67.2 159.6h.1M67.9 177.8h.1M78.9 142.2h.1M75.3 154.5h.1M74.3 174.5h.1M79.5 176.1h.1M59.7 191.1h.1M67.8 164.3h.1M87.8 118.2h.1M67.6 176.4h.1M76.2 153.3h.1M71.5 174.0h.1M79.8 145.7h.1M78.6 153.7h.1M71.7 166.8h.1M67.7 201.2h.1M75.3 174.6h.1M81.0 137.0h.1M75.6 168.5h.1M94.4 155.1h.1M71.1 172.3h.1M75.0 205.8h.1M67.3 149.9h.1M73.5 154.6h.1M67.1 173.1h.1M76.6 171.7h.1M84.2 159.2h.1M72.2 175.3h.1M77.9 155.6h.1M78.4 168.5h.1M70.3 164.2h.1M67.4 173.6h.1M75.3 182.0h.1M91.1 159.1h.1M71.7 172.7h.1M83.3 153.1h.1M80.9 139.4h.1M66.8 156.3h.1M54.2 190.8h.1M68.3 177.0h.1M75.7 141.7h.1M63.8 164.4h.1M69.1 179.1h.1M73.1 163.9h.1M74.1 150.6h.1M77.5 157.4h.1M83.1 150.5h.1M73.6 181.1h.1M73.3 168.2h.1M77.1 169.1h.1M70.5 161.4h.1M61.7 206.2h.1M65.0 164.3h.1M58.3 187.5h.1M92.9 136.8h.1M80.6 128.5h.1M90.2 129.1h.1M73.4 143.1h.1M68.7 171.4h.1M82.7 143.1h.1M69.9 165.3h.1M83.1 151.3h.1M66.7 180.3h.1M68.7 173.7h.1M79.6 153.4h.1M86.3 125.5h.1M81.0 165.2h.1M88.8 115.3h.1M102.9 108.8h.1M62.2 187.4h.1M72.4 162.1h.1M64.1 180.5h.1M77.5 166.5h.1M53.7 167.0h.1M76.1 164.4h.1M81.6 142.5h.1M86.7 144.9h.1M68.9 154.1h.1M78.0 163.4h.1M70.4 158.0h.1M81.7 161.9h.1M77.7 150.1h.1M77.5 163.1h.1M73.6 150.2h.1M67.2 189.8h.1M86.2 148.1h.1M85.6 125.8h.1M83.5 161.2h.1M70.3 193.4h.1M80.8 133.2h.1M83.6 173.1h.1M75.9 167.7h.1M85.0 152.0h.1M76.7 154.0h.1M80.8 135.7h.1M83.2 150.9h.1M77.1 160.2h.1M55.9 201.1h.1M62.5 183.6h.1M76.8 158.8h.1M84.7 150.2h.1M73.0 185.4h.1M74.1 176.1h.1M74.7 151.3h.1M57.6 200.2h.1M58.9 201.5h.1M65.4 164.1h.1M78.8 157.8h.1M73.8 173.0h.1M64.3 157.9h.1M77.1 193.8h.1M78.3 148.4h.1M71.8 163.5h.1M76.7 156.8h.1M66.4 144.3h.1M64.4 170.6h.1M76.8 143.8h.1M89.5 138.8h.1M75.2 153.2h.1M87.1 135.9h.1M70.2 175.0h.1M80.7 143.2h.1M79.9 157.8h.1M64.1 181.2h.1M65.1 160.5h.1M65.1 171.0h.1M69.7 173.1h.1M86.8 164.6h.1M76.7 138.3h.1M66.5 166.5h.1M77.1 160.1h.1M66.8 193.3h.1M72.0 158.7h.1M88.3 140.4h.1M76.5 144.0h.1M84.8 154.8h.1M76.4 175.0h.1M67.7 182.2h.1M82.7 167.2h.1M65.0 189.7h.1M62.8 186.4h.1M89.6 145.7h.1M62.8 179.1h.1M91.6 126.7h.1M61.2 190.4h.1M77.0 153.0h.1M68.9 187.2h.1M79.3 159.8h.1M77.0 187.1h.1M79.3 162.9h.1M78.2 167.1h.1M62.2 168.1h.1M72.9 149.7h.1M94.1 134.2h.1M66.0 172.7h.1M80.3 143.7h.1M77.8 161.3h.1M72.1 161.9h.1M86.8 115.7h.1M62.0 207.9h.1M71.5 176.8h.1M60.5 199.0h.1M78.3 170.7h.1M72.2 166.6h.1M103.8 84.4h.1M81.4 156.6h.1M93.1 127.2h.1M82.9 135.0h.1M66.6 169.4h.1M76.6 151.7h.1M92.3 129.9h.1M71.9 157.1h.1M75.5 157.6h.1M75.3 150.7h.1M57.1 190.6h.1M74.0 180.8h.1M78.2 155.6h.1M82.4 152.3h.1M73.1 182.9h.1M61.1 164.7h.1M68.6 162.8h.1M83.9 169.0h.1M77.7 147.2h.1M78.9 161.2h.1M69.6 156.5h.1M63.9 191.1h.1M68.1 184.2h.1M76.5 155.4h.1M60.8 194.2h.1M76.7 156.7h.1M71.2 176.3h.1M69.6 179.2h.1M76.8 148.0h.1M76.3 178.5h.1M68.5 179.9h.1M70.5 176.4h.1M78.1 162.2h.1M91.2 104.5h.1M66.4 208.5h.1M76.8 163.5h.1M77.9 169.1h.1M78.9 141.7h.1M74.8 170.9h.1M82.6 134.4h.1M75.8 188.1h.1M71.8 162.7h.1M68.9 192.1h.1M68.1 185.4h.1M71.8 172.9h.1M76.6 143.2h.1M76.9 143.6h.1M60.3 171.1h.1M77.6 151.8h.1M74.8 171.1h.1M78.5 161.2h.1M72.3 158.0h.1M70.3 146.4h.1M68.3 174.4h.1M77.1 166.4h.1M74.9 157.5h.1M74.0 160.1h.1M68.7 178.8h.1M91.9 128.7h.1M85.8 177.3h.1M83.5 148.1h.1M70.3 156.2h.1M82.7 137.0h.1M90.1 120.4h.1M83.7 170.8h.1M54.2 183.7h.1M74.7 159.5h.1M98.5 118.7h.1M74.0 150.5h.1M70.0 189.5h.1M68.1 170.9h.1M84.6 135.1h.1M71.0 193.9h.1M69.6 164.9h.1M80.2 171.4h.1M83.3 115.3h.1M72.2 168.5h.1M90.5 137.8h.1M80.1 180.3h.1M59.5 175.8h.1M74.0 139.0h.1M86.6 152.4h.1M52.5 194.7h.1M78.6 149.1h.1M80.8 149.9h.1M70.7 175.4h.1M77.9 158.7h.1M68.6 154.1h.1M70.3 172.3h.1M80.9 178.5h.1M57.8 172.1h.1M67.7 166.4h.1M71.0 192.2h.1M76.5 164.3h.1M68.7 195.2h.1M75.1 161.0h.1M71.9 163.6h.1M65.7 183.4h.1M84.5 146.4h.1M93.8 124.6h.1M79.8 133.7h.1M65.1 190.9h.1M71.4 131.9h.1M81.0 159.9h.1M69.9 162.1h.1M70.0 174.8h.1M79.0 164.4h.1M77.4 131.4h.1M78.1 151.3h.1M76.8 173.0h.1M71.6 177.1h.1M65.8 169.1h.1M86.1 153.2h.1M80.8 121.5h.1M62.9 183.0h.1M76.3 163.3h.1M64.1 167.8h.1M59.1 174.5h.1M74.3 153.3h.1M77.9 151.0h.1M53.6 187.9h.1M58.5 180.8h.1M89.0 140.1h.1M78.3 156.6h.1M79.9 152.5h.1M73.3 173.8h.1M80.5 173.6h.1M73.0 151.4h.1M70.6 172.7h.1M65.9 185.2h.1M66.7 159.8h.1M84.7 145.3h.1M67.4 183.9h.1M81.1 140.5h.1M82.5 149.2h.1M68.9 180.6h.1M70.4 161.0h.1M74.5 163.6h.1M71.8 147.0h.1M84.0 150.6h.1M63.9 189.0h.1M72.9 193.3h.1M83.1 141.9h.1M79.6 161.9h.1M70.0 151.3h.1M73.0 154.3h.1M83.2 130.3h.1M55.2 183.6h.1M74.6 137.4h.1M64.5 178.0h.1M84.1 149.3h.1M93.0 138.3h.1M64.6 191.1h.1M79.8 155.2h.1M76.4 169.7h.1M74.2 169.3h.1M84.6 165.3h.1M58.3 181.1h.1M74.1 184.8h.1M83.5 150.7h.1M77.8 144.2h.1M79.9 177.7h.1M58.6 190.5h.1M86.6 113.4h.1M84.7 140.9h.1M83.6 157.6h.1M69.8 184.8h.1M81.1 178.5h.1M68.5 154.8h.1M67.3 182.2h.1M90.9 131.5h.1M81.0 161.8h.1M74.4 153.5h.1M58.4 180.6h.1M75.3 183.9h.1M72.2 180.0h.1M86.9 160.8h.1M68.9 166.7h.1M71.7 168.3h.1M64.0 151.5h.1M77.1 158.4h.1M88.3 133.4h.1M77.4 168.2h.1M62.3 181.6h.1M84.1 166.4h.1M81.3 131.3h.1M69.2 173.5h.1M78.0 162.8h.1M77.3 171.9h.1M71.6 152.2h.1M65.9 153.5h.1M71.3 180.1h.1M70.0 166.2h.1M71.6 139.9h.1M86.4 141.7h.1M83.0 144.4h.1M88.2 147.7h.1M73.1 169.8h.1M72.5 170.3h.1M84.1 144.7h.1M70.4 188.1h.1M83.5 167.2h.1M68.8 203.3h.1M77.6 172.5h.1M65.8 175.7h.1M68.8 188.3h.1M84.0 152.7h.1M65.5 176.2h.1M68.8 169.0h.1M77.2 169.5h.1M72.9 179.0h.1M81.4 132.4h.1M69.0 171.9h.1M81.1 160.4h.1M63.7 188.7h.1M71.4 172.4h.1M65.9 166.9h.1M77.5 170.7h.1M65.3 172.7h.1M73.3 158.8h.1M92.1 133.2h.1M67.6 163.1h.1M68.4 163.6h.1M79.5 173.4h.1M82.0 107.0h.1M93.4 132.3h.1M84.2 153.3h.1M81.8 149.0h.1M65.0 175.4h.1M70.2 164.5h.1M76.9 158.6h.1M67.7 157.3h.1M66.1 179.2h.1M60.9 175.5h.1M62.1 146.2h.1M75.9 155.9h.1M78.1 161.7h.1M90.4 139.1h.1M69.5 175.5h.1M76.0 157.6h.1M71.2 194.8h.1M87.7 148.2h.1M68.1 185.8h.1M66.7 188.4h.1M87.7 174.6h.1M86.5 112.5h.1M70.1 175.0h.1M65.5 188.3h.1M76.4 152.6h.1M82.5 160.2h.1M87.3 129.1h.1M59.3 186.1h.1M56.7 192.6h.1M69.7 168.0h.1M79.2 155.6h.1M82.3 157.2h.1M75.0 137.8h.1M60.7 191.8h.1M71.2 180.3h.1M86.6 170.0h.1M86.1 147.5h.1M89.7 157.1h.1M64.3 168.5h.1M66.1 182.9h.1M85.7 146.3h.1M83.4 144.0h.1M79.4 102.0h.1M66.2 163.6h.1M94.7 132.6h.1M66.6 187.4h.1M78.1 176.3h.1M80.1 180.1h.1M70.3 171.6h.1M53.9 175.1h.1M61.5 170.2h.1M74.1 163.6h.1M73.7 172.6h.1M78.4 148.8h.1M68.0 162.1h.1M83.5 165.8h.1M96.8 136.8h.1M65.8 152.1h.1M74.2 158.9h.1M65.0 159.5h.1M73.8 160.8h.1M70.1 147.8h.1M72.5 180.2h.1M80.2 138.3h.1M77.0 127.4h.1M77.1 137.0h.1M73.9 173.6h.1M57.7 192.9h.1M75.6 172.9h.1M84.5 162.6h.1M77.7 144.7h.1M65.0 163.2h.1M67.4 166.9h.1M93.6 134.6h.1M64.6 174.3h.1M78.5 139.5h.1M84.2 145.3h.1M80.0 195.0h.1M70.7 154.7h.1M65.3 171.9h.1M64.8 180.7h.1M71.6 203.9h.1M72.2 197.6h.1M71.7 152.0h.1M67.1 168.7h.1M73.8 156.0h.1M68.4 184.7h.1M70.0 168.2h.1M76.1 169.3h.1M65.3 194.6h.1M67.8 198.2h.1M76.5 153.1h.1M78.4 160.5h.1M62.1 179.4h.1M69.7 163.1h.1M84.6 151.0h.1M77.1 121.5h.1M75.1 183.1h.1M76.6 149.1h.1M83.8 117.3h.1M67.5 158.4h.1M99.0 137.8h.1M78.0 130.6h.1M66.0 159.6h.1M74.5 205.5h.1M84.6 148.3h.1M83.1 141.6h.1M86.4 139.1h.1M75.5 135.3h.1M78.7 164.7h.1M61.8 175.0h.1M68.0 170.7h.1M83.4 166.5h.1M83.8 156.6h.1M74.1 173.4h.1M74.5 161.4h.1M75.2 142.6h.1M78.3 156.4h.1M86.2 114.1h.1M100.3 122.4h.1M84.9 192.7h.1M72.6 174.9h.1M62.3 188.1h.1M68.4 187.0h.1M66.3 175.1h.1M107.6 145.5h.1M99.7 93.4h.1M87.0 154.2h.1M81.2 172.0h.1M62.4 168.2h.1M60.1 76.4h.1M75.7 147.6h.1M80.5 128.4h.1M94.7 114.4h.1M101.2 121.7h.1M66.9 172.5h.1M72.8 114.1h.1M87.5 123.7h.1M75.1 130.2h.1M94.4 121.2h.1M43.7 151.5h.1M99.4 158.2h.1M67.4 159.9h.1M82.3 124.4h.1M69.8 165.0h.1M98.2 142.6h.1M81.8 184.1h.1M81.8 152.7h.1M75.1 157.7h.1M93.7 157.2h.1M94.7 149.6h.1M71.6 150.5h.1M65.5 149.2h.1M63.9 208.5h.1M101.2 120.8h.1M82.2 169.0h.1M47.8 142.9h.1M65.2 168.8h.1M92.4 120.7h.1M58.1 168.4h.1M58.4 123.0h.1M79.5 109.7h.1M116.1 109.4h.1M94.8 115.5h.1M92.3 132.9h.1M71.1 183.1h.1M109.6 118.2h.1M98.5 117.0h.1M103.0 130.1h.1M85.4 124.2h.1M80.8 145.8h.1M91.8 169.3h.1M113.2 126.4h.1M100.6 115.0h.1M61.0 173.7h.1M84.8 120.2h.1M84.1 141.5h.1M130.4 139.5h.1M89.6 142.8h.1M102.0 120.7h.1M96.1 121.1h.1M105.3 129.3h.1M70.4 188.2h.1M97.9 128.3h.1M48.4 133.2h.1M59.5 175.6h.1M90.9 129.2h.1M65.9 185.9h.1M92.1 123.6h.1M97.3 100.0h.1M79.9 163.7h.1M91.2 122.4h.1M73.3 130.2h.1M77.9 125.7h.1M61.8 183.6h.1M71.4 124.3h.1M79.5 142.9h.1M100.8 132.0h.1M101.9 155.9h.1M101.4 120.7h.1M84.5 140.3h.1M83.5 126.9h.1M83.0 104.5h.1M89.7 145.3h.1M101.6 124.0h.1M74.0 137.5h.1M72.4 127.3h.1M80.7 164.3h.1M85.3 124.4h.1M77.8 106.9h.1M76.0 148.1h.1M90.3 125.8h.1M110.7 145.8h.1M52.5 171.3h.1M77.0 134.5h.1M93.9 110.5h.1M81.1 163.0h.1M76.1 202.4h.1M84.3 142.2h.1M75.0 165.5h.1M88.6 89.9h.1M95.0 154.3h.1M63.4 140.4h.1M73.5 164.3h.1M69.3 134.6h.1M86.3 167.5h.1M66.7 170.3h.1M65.4 143.0h.1M70.5 168.9h.1M113.2 118.3h.1M72.0 180.8h.1M73.6 146.6h.1M90.2 172.9h.1M83.1 192.0h.1M96.4 100.6h.1M88.7 104.2h.1M79.5 191.5h.1M104.1 153.7h.1M115.2 89.2h.1M39.4 198.0h.1M76.2 188.9h.1M95.4 111.4h.1M79.8 141.3h.1M86.3 166.8h.1M67.3 142.8h.1M68.1 172.7h.1M76.8 141.7h.1M117.7 114.7h.1M97.8 166.2h.1M115.7 156.9h.1M96.4 115.3h.1M105.5 94.1h.1M65.7 159.7h.1M66.2 131.8h.1M77.7 163.8h.1M77.0 166.1h.1M71.0 155.9h.1M55.4 157.0h.1M71.7 198.4h.1M51.4 198.4h.1M75.8 168.3h.1M86.3 145.2h.1M84.4 110.1h.1M84.5 165.5h.1M91.9 157.0h.1M80.1 125.9h.1M89.3 127.1h.1M82.8 151.6h.1M81.9 149.3h.1M95.5 93.7h.1M81.6 158.1h.1M66.2 156.8h.1M57.9 189.5h.1M67.7 128.2h.1M62.7 148.2h.1M91.5 91.0h.1M79.6 157.3h.1M88.3 124.5h.1M98.2 124.7h.1M64.6 88.4h.1M69.1 184.0h.1M91.3 101.9h.1M64.6 140.2h.1M96.1 156.7h.1M87.4 159.7h.1M81.2 159.9h.1M89.0 161.4h.1M92.6 135.8h.1M65.9 139.2h.1M61.6 169.5h.1M79.7 148.7h.1M105.7 84.5h.1M105.0 144.9h.1M68.1 154.3h.1M94.4 98.6h.1M85.1 174.1h.1M76.6 150.4h.1M77.0 163.2h.1M84.4 156.1h.1M100.7 132.1h.1M95.3 134.7h.1M84.1 171.7h.1M73.8 148.5h.1M77.3 143.1h.1M72.4 156.7h.1M82.6 149.1h.1M77.8 168.8h.1M48.1 157.2h.1M103.7 155.1h.1M55.0 169.4h.1M81.1 134.2h.1M77.8 152.2h.1M76.8 174.7h.1M76.7 164.9h.1M89.8 166.0h.1M95.7 158.4h.1M83.3 144.7h.1M98.4 161.0h.1M61.1 166.7h.1M82.9 103.1h.1M132.1 139.5h.1M100.6 151.8h.1M87.8 120.2h.1M81.7 137.4h.1M76.5 153.7h.1M76.5 142.9h.1M100.8 71.6h.1M81.1 116.2h.1M70.5 110.4h.1M76.0 157.8h.1M76.8 126.9h.1M124.9 94.2h.1M86.9 136.4h.1M107.1 124.2h.1M77.6 106.5h.1M59.5 118.5h.1M91.3 102.1h.1M98.8 147.4h.1M87.4 134.4h.1M73.4 164.1h.1M107.0 75.1h.1M70.8 133.8h.1M70.3 139.7h.1M127.7 122.7h.1M58.8 153.8h.1M86.6 149.9h.1M78.8 171.1h.1M63.8 139.8h.1M79.6 159.1h.1M103.0 139.4h.1M95.2 157.2h.1M73.4 163.2h.1M66.5 150.8h.1M61.2 143.2h.1M77.1 162.0h.1M96.4 124.4h.1M68.3 121.3h.1M87.7 145.7h.1M50.1 172.3h.1M83.4 132.3h.1M63.8 180.6h.1M85.4 143.5h.1M77.5 144.6h.1M79.8 165.5h.1M79.8 173.0h.1M74.7 166.7h.1M110.7 95.3h.1M74.0 153.0h.1M77.3 152.5h.1M94.2 122.8h.1M87.5 137.1h.1M94.8 120.0h.1M46.3 171.9h.1M68.9 176.7h.1M123.9 60.8h.1M83.7 149.9h.1M69.5 151.9h.1M84.7 144.0h.1M93.2 121.5h.1M70.8 180.6h.1M81.7 139.0h.1M75.6 146.2h.1M82.5 127.1h.1M102.2 150.7h.1M87.7 166.8h.1M102.9 183.4h.1M77.8 115.7h.1M49.0 180.4h.1M74.5 157.5h.1M84.8 97.2h.1M76.5 158.8h.1M88.7 131.6h.1M96.9 160.5h.1M97.6 132.5h.1M88.0 149.5h.1M64.0 156.6h.1M75.2 103.1h.1M83.4 156.8h.1M61.6 181.4h.1M73.7 154.8h.1M95.7 136.7h.1M89.3 185.6h.1M98.2 130.0h.1M106.2 133.9h.1M107.3 92.2h.1M75.4 165.2h.1M89.9 130.6h.1M64.6 192.9h.1M70.3 156.2h.1M92.9 149.1h.1M74.3 132.2h.1M100.1 157.0h.1M78.9 149.5h.1M69.3 161.9h.1M85.3 163.2h.1M103.1 147.0h.1M79.0 129.4h.1M95.6 133.6h.1M81.9 117.0h.1M84.2 111.9h.1M61.2 195.6h.1M75.0 161.4h.1M67.0 146.9h.1M69.1 162.8h.1M103.1 124.0h.1M86.7 126.6h.1M72.8 147.6h.1M79.5 143.2h.1M92.0 112.8h.1M78.6 157.4h.1M78.7 156.4h.1M101.6 127.8h.1M102.9 141.8h.1M82.4 104.1h.1M92.3 140.6h.1M86.0 126.4h.1M92.8 169.2h.1M68.6 171.7h.1M90.5 151.7h.1M97.2 141.5h.1M102.7 126.2h.1M70.1 140.8h.1M64.6 147.8h.1M117.6 128.6h.1M77.1 147.3h.1M80.6 117.0h.1M118.9 94.9h.1M80.2 124.8h.1M97.1 125.0h.1M97.9 139.1h.1M87.5 142.4h.1M89.1 142.3h.1M98.0 152.3h.1M65.5 107.7h.1M68.7 192.6h.1M86.7 158.1h.1M77.5 125.8h.1M72.4 170.2h.1M63.5 143.7h.1M76.4 167.2h.1M81.2 134.0h.1M88.8 124.0h.1M94.3 107.9h.1M88.5 135.0h.1M74.2 167.0h.1M63.3 132.6h.1M94.9 135.6h.1M102.3 112.5h.1M61.7 206.1h.1M77.8 134.8h.1M56.2 194.1h.1M77.1 123.9h.1M101.5 142.1h.1M82.9 132.9h.1M92.3 124.7h.1M88.2 138.5h.1M71.7 163.8h.1M108.0 147.6h.1M90.3 114.2h.1M77.7 149.8h.1M98.0 153.6h.1M68.8 180.1h.1M74.6 109.1h.1M79.9 162.7h.1M65.6 164.3h.1M78.5 160.4h.1M81.1 174.2h.1M88.9 158.5h.1M99.1 115.4h.1M73.6 120.1h.1M86.2 105.6h.1M105.0 111.3h.1M59.1 166.4h.1M87.3 135.3h.1M105.0 110.9h.1M100.1 84.3h.1M76.3 189.4h.1M84.1 192.8h.1M70.2 128.7h.1M98.8 165.1h.1M63.5 171.2h.1M102.9 144.7h.1M72.5 168.5h.1M58.6 208.6h.1M85.6 150.2h.1M108.0 154.7h.1M88.7 131.1h.1M91.1 122.7h.1M93.3 146.9h.1M78.9 154.1h.1M61.6 160.4h.1M71.5 194.7h.1M72.8 157.9h.1M105.0 126.5h.1M83.0 128.4h.1M95.0 89.9h.1M49.4 139.6h.1M50.6 190.5h.1M84.3 123.5h.1M74.9 113.2h.1M79.9 183.3h.1M50.5 185.2h.1M88.7 146.1h.1M95.5 131.6h.1M55.5 172.0h.1M74.1 155.4h.1M56.4 161.8h.1M85.1 185.9h.1M63.2 181.2h.1M88.3 146.4h.1M79.7 158.8h.1M96.0 174.5h.1M96.7 100.2h.1M82.1 177.4h.1M95.0 157.7h.1M78.6 182.0h.1M67.9 130.8h.1M65.4 188.2h.1M85.4 146.7h.1M72.5 150.3h.1M90.1 123.2h.1M65.9 175.6h.1M64.6 161.3h.1M73.9 152.3h.1M92.4 87.8h.1M78.7 192.5h.1M82.7 139.6h.1M77.5 166.8h.1M82.4 138.9h.1M87.8 130.5h.1M89.3 147.0h.1M87.3 142.4h.1M72.1 135.8h.1M80.5 166.0h.1M92.7 159.4h.1M55.4 188.9h.1M64.9 152.5h.1M75.2 169.4h.1M76.0 153.9h.1M98.0 132.2h.1M86.7 138.6h.1M72.2 130.0h.1M82.5 114.6h.1M88.0 137.7h.1M99.2 156.2h.1M75.4 148.9h.1M60.7 180.3h.1M73.6 128.2h.1M68.6 107.7h.1M86.7 118.7h.1M67.9 145.5h.1M100.1 136.2h.1M75.8 117.6h.1M89.4 95.3h.1M77.2 108.8h.1M73.6 140.8h.1M75.7 143.2h.1M64.4 136.4h.1M90.3 145.0h.1M67.1 158.0h.1M75.6 122.2h.1M81.9 170.0h.1M85.0 174.6h.1M78.7 136.4h.1M72.4 162.5h.1M70.2 151.4h.1M50.1 199.9h.1M97.5 130.4h.1M75.9 146.4h.1M65.3 145.9h.1M89.1 137.3h.1M85.5 143.6h.1M85.7 171.8h.1M91.8 90.8h.1M52.1 150.5h.1M106.5 128.5h.1M90.6 95.7h.1M62.6 160.0h.1M87.5 148.0h.1M75.5 171.3h.1M103.4 124.9h.1M85.5 160.5h.1M66.1 176.3h.1M86.3 109.8h.1M88.3 122.9h.1M60.3 167.4h.1M90.1 115.5h.1M95.7 148.2h.1M91.9 68.9h.1M84.3 96.7h.1M82.2 166.0h.1M56.1 146.6h.1M64.9 168.9h.1M79.7 143.7h.1M57.8 137.5h.1M117.0 140.2h.1M99.6 153.2h.1M55.7 183.5h.1M74.0 170.6h.1M106.1 114.8h.1M74.4 110.0h.1M72.3 149.8h.1M93.3 157.5h.1M85.7 155.5h.1M70.0 143.3h.1M40.7 183.9h.1M112.9 133.6h.1M69.7 164.1h.1M85.8 145.8h.1M84.2 142.4h.1M112.9 119.9h.1M77.0 99.8h.1M78.7 132.9h.1M62.6 163.6h.1M55.6 187.1h.1M88.0 115.3h.1M71.0 136.3h.1M99.7 137.6h.1M81.0 156.8h.1M61.1 165.0h.1M97.5 128.2h.1M74.5 175.3h.1M75.1 118.2h.1M43.6 184.9h.1M76.8 175.3h.1M73.6 190.3h.1M86.8 110.3h.1M57.6 193.1h.1M75.3 181.3h.1M79.6 127.4h.1M75.5 139.1h.1M102.1 89.2h.1M64.8 84.9h.1M70.2 124.9h.1M77.4 125.6h.1M47.9 191.5h.1M35.2 157.2h.1M63.1 151.3h.1M86.1 156.0h.1M61.0 182.9h.1M68.6 172.2h.1M77.1 173.0h.1M87.9 118.3h.1M81.1 135.3h.1M76.6 156.9h.1M82.3 157.5h.1M72.9 136.1h.1M90.8 174.0h.1M67.0 150.9h.1M60.9 193.6h.1M83.5 128.7h.1M117.8 133.5h.1M63.6 130.2h.1M105.0 143.3h.1M93.6 142.2h.1M93.8 90.4h.1M88.8 145.3h.1M70.1 184.9h.1M94.5 186.3h.1M92.3 130.9h.1M88.4 118.4h.1M79.8 124.1h.1M91.9 126.8h.1M78.9 141.8h.1M58.3 185.4h.1M79.8 169.9h.1M68.8 199.6h.1M52.2 148.8h.1M74.8 188.2h.1M65.9 139.4h.1M76.8 152.0h.1M41.1 192.8h.1M94.9 131.4h.1M81.5 125.1h.1M60.5 183.4h.1M83.7 145.1h.1M83.5 127.3h.1M85.4 159.3h.1M89.6 125.5h.1M86.2 144.8h.1M82.0 115.7h.1M82.5 143.4h.1M94.1 159.0h.1M89.3 136.1h.1M89.0 127.5h.1M92.7 145.6h.1M58.8 153.6h.1M66.1 167.2h.1M65.4 154.0h.1M82.2 167.0h.1M86.3 144.5h.1M69.3 138.7h.1M95.3 157.2h.1M75.0 146.4h.1M80.1 143.1h.1M102.2 108.6h.1M91.3 115.5h.1M85.8 168.7h.1M81.2 135.8h.1M90.1 162.8h.1M93.3 156.9h.1M60.1 148.0h.1M80.8 168.3h.1M89.6 194.7h.1M90.6 146.5h.1M133.8 133.4h.1M70.2 172.8h.1M73.8 130.2h.1M70.9 156.9h.1M61.9 132.5h.1M72.0 170.5h.1M69.7 151.6h.1M90.0 156.0h.1M63.5 135.2h.1M71.8 149.6h.1M109.7 140.3h.1M83.3 151.0h.1M96.7 149.0h.1M73.9 134.9h.1M83.5 163.1h.1M63.3 175.5h.1M86.2 165.1h.1M52.2 150.8h.1M117.2 94.4h.1M97.6 98.2h.1M42.7 148.9h.1M72.1 158.5h.1M93.0 143.9h.1M78.0 130.3h.1M59.9 162.3h.1M58.0 171.2h.1M123.5 105.9h.1M88.1 119.0h.1M87.5 200.5h.1M37.4 186.9h.1M69.3 170.4h.1M87.0 144.8h.1M77.1 130.5h.1M69.6 155.3h.1M75.6 197.7h.1M62.2 134.8h.1M88.6 133.5h.1M100.0 157.0h.1M57.1 155.2h.1M67.1 125.7h.1M63.6 144.1h.1M60.3 176.2h.1M90.7 150.3h.1M53.8 179.0h.1M67.5 113.6h.1M74.5 132.0h.1M49.1 167.8h.1M90.6 146.6h.1M80.6 109.9h.1M44.5 202.0h.1M95.3 159.5h.1M116.4 111.9h.1M70.7 194.0h.1M76.3 152.7h.1M58.1 185.0h.1M81.0 151.5h.1M62.6 193.1h.1M72.1 162.7h.1M73.6 142.0h.1M77.3 135.9h.1M84.4 137.3h.1M88.5 116.2h.1M92.1 131.8h.1M77.6 124.7h.1M74.3 177.6h.1M57.7 144.9h.1M114.3 62.2h.1M100.6 85.6h.1M97.2 129.7h.1M91.3 130.1h.1M87.9 120.9h.1M74.4 159.5h.1M108.0 98.2h.1M88.8 164.4h.1M77.6 150.6h.1M101.1 88.5h.1M49.5 202.6h.1M68.1 132.7h.1M63.8 197.1h.1M95.7 176.0h.1M79.7 151.8h.1M97.2 167.1h.1M96.3 150.0h.1M58.2 164.6h.1M71.1 148.7h.1M73.6 184.1h.1M82.3 162.2h.1M64.7 186.9h.1M107.3 139.1h.1M58.9 181.7h.1M90.9 131.3h.1M52.4 151.0h.1M88.3 162.0h.1M80.0 111.4h.1M88.4 148.9h.1M45.8 195.6h.1M96.3 139.6h.1M87.2 143.4h.1M84.4 163.6h.1M65.3 187.7h.1M74.2 144.1h.1M70.7 155.1h.1M82.3 85.8h.1M64.3 156.6h.1M132.2 108.0h.1M99.2 112.5h.1M96.1 175.0h.1M74.5 172.9h.1M86.2 109.2h.1M93.5 158.8h.1M94.9 149.9h.1M74.4 154.9h.1M69.0 183.3h.1M55.8 151.1h.1M64.4 173.4h.1M55.5 188.2h.1M54.7 148.2h.1M104.9 101.8h.1M97.0 104.0h.1M90.2 155.1h.1M77.4 143.6h.1M72.3 129.4h.1M77.7 104.4h.1M83.0 139.9h.1M82.2 165.2h.1M83.8 163.1h.1M108.4 124.0h.1M106.6 76.0h.1M55.6 159.2h.1M114.2 136.7h.1M61.3 143.8h.1M99.9 152.5h.1M88.8 112.7h.1M94.8 152.8h.1M54.7 181.4h.1M47.6 199.0h.1M76.4 149.0h.1M56.1 176.6h.1M81.6 140.2h.1M57.9 181.1h.1M53.0 149.4h.1M49.2 183.9h.1M82.8 161.8h.1M83.6 164.8h.1M88.4 133.2h.1M96.7 112.4h.1M76.0 153.2h.1M76.5 175.3h.1M92.9 91.1h.1M82.5 138.2h.1M81.4 129.8h.1M85.6 131.5h.1M87.8 105.1h.1M104.6 126.3h.1M67.4 121.9h.1M83.3 125.5h.1M63.8 170.0h.1M64.7 162.3h.1M64.6 146.1h.1M71.0 142.2h.1M76.2 146.7h.1M84.5 140.7h.1M98.9 155.6h.1M71.5 159.2h.1M64.4 194.9h.1M92.0 126.7h.1M56.5 120.4h.1M91.4 181.8h.1M83.7 134.3h.1M68.6 131.5h.1M68.1 141.7h.1M43.3 193.4h.1M80.6 188.0h.1M83.6 169.7h.1M89.4 100.5h.1M72.7 173.6h.1M54.3 149.6h.1M63.6 178.1h.1M70.9 161.0h.1M77.3 136.7h.1M58.8 207.2h.1M94.3 133.2h.1M79.6 147.5h.1M77.8 167.5h.1M86.5 120.2h.1M106.7 128.3h.1M71.3 150.7h.1M88.4 116.4h.1M82.8 171.6h.1M77.9 158.1h.1M102.0 126.9h.1M51.1 145.8h.1M84.1 189.2h.1M50.3 159.0h.1M73.7 189.1h.1M79.8 130.9h.1M62.5 197.5h.1M94.5 122.3h.1M48.9 189.5h.1M69.3 143.1h.1M65.7 190.5h.1M86.1 161.5h.1M65.2 109.8h.1M74.3 110.3h.1M91.6 111.4h.1M81.2 152.2h.1M76.3 143.9h.1M80.3 141.4h.1M71.1 125.4h.1M85.8 164.1h.1M90.7 117.6h.1M91.7 143.1h.1M75.7 110.1h.1M62.3 126.2h.1M87.3 129.9h.1M63.9 166.0h.1M57.0 153.0h.1M67.7 185.7h.1M86.6 161.1h.1M64.1 148.1h.1M81.9 122.6h.1M67.0 184.3h.1M97.4 51.2h.1M74.4 150.5h.1M114.2 122.0h.1M86.1 117.7h.1M53.0 146.4h.1M95.4 107.4h.1M82.0 124.8h.1M65.4 172.6h.1M90.3 168.1h.1M90.5 84.2h.1M100.2 112.2h.1M149.3 50.0h.1M163.7 6.9h.1M76.0 139.5h.1M42.4 113.9h.1M77.9 126.5h.1M60.1 107.6h.1M76.9 118.2h.1M139.6 113.6h.1M116.6 48.6h.1M87.9 155.2h.1M91.8 169.4h.1M80.5 178.8h.1M91.9 34.6h.1M156.4 57.6h.1M78.9 162.3h.1M45.3 149.3h.1M91.3 84.0h.1M153.8 68.2h.1M123.7 56.1h.1M113.6 92.6h.1M118.2 70.2h.1M93.9 75.3h.1M98.9 122.9h.1M146.3 22.6h.1M74.4 81.7h.1M109.6 157.0h.1M97.1 117.5h.1M59.4 152.2h.1M122.9 106.5h.1M134.7 57.8h.1M97.0 158.1h.1M121.4 49.1h.1M155.7 18.1h.1M94.4 72.9h.1M57.8 131.7h.1M81.5 128.9h.1M100.1 112.3h.1M68.7 143.9h.1M72.9 144.5h.1M116.5 117.2h.1M77.5 92.4h.1M109.2 69.2h.1M61.0 135.6h.1M164.2 33.8h.1M107.2 44.9h.1M81.7 40.0h.1M75.7 115.4h.1M163.0 40.0h.1M92.5 108.7h.1M139.8 23.8h.1M119.2 50.7h.1M85.6 133.2h.1M82.0 108.7h.1M148.3 25.4h.1M117.5 53.4h.1M109.4 108.1h.1M103.0 86.3h.1M86.9 78.1h.1M92.8 130.8h.1M84.3 97.0h.1M102.3 130.0h.1M98.0 116.0h.1M114.5 79.1h.1M58.0 121.7h.1M129.5 73.8h.1M81.1 79.5h.1M142.7 78.9h.1M122.1 61.5h.1M110.6 37.2h.1M101.4 63.8h.1M133.4 76.8h.1M118.5 114.2h.1M96.9 64.4h.1M103.9 143.2h.1M84.9 99.7h.1M125.6 70.5h.1M99.6 97.6h.1M68.6 55.7h.1M50.5 122.8h.1M114.5 33.0h.1M112.9 131.4h.1M103.2 76.6h.1M99.1 95.8h.1M122.0 59.2h.1M68.6 98.0h.1M110.0 151.6h.1M54.7 168.0h.1M91.8 106.4h.1M88.6 150.1h.1M81.0 57.8h.1M153.7 50.1h.1M52.9 183.8h.1M71.8 146.0h.1M146.2 104.0h.1M152.2 59.9h.1M124.3 92.5h.1M93.3 75.1h.1M94.4 66.3h.1M102.1 66.9h.1M131.1 27.7h.1M152.8 91.9h.1M70.4 142.9h.1M99.7 119.2h.1M84.1 76.0h.1M59.3 115.0h.1M55.1 84.6h.1M76.8 109.7h.1M71.1 115.7h.1M66.5 78.1h.1M156.2 108.3h.1M149.8 89.0h.1M126.8 38.4h.1M121.5 98.4h.1M148.2 33.7h.1M132.6 51.7h.1M136.9 106.5h.1M72.5 89.9h.1M152.9 112.5h.1M89.6 121.2h.1M68.3 67.9h.1M111.0 93.5h.1M149.2 123.0h.1M74.6 83.3h.1M74.7 105.7h.1M69.3 150.1h.1M73.4 65.3h.1M61.2 109.8h.1M68.5 23.0h.1M132.8 30.6h.1M74.7 149.8h.1M107.0 133.9h.1M101.5 74.8h.1M130.8 140.8h.1M73.4 49.7h.1M144.4 79.3h.1M148.2 17.2h.1M55.6 125.0h.1M61.0 76.4h.1M107.8 93.3h.1M70.4 77.7h.1M106.1 17.8h.1M93.3 124.9h.1M85.4 137.5h.1M114.9 53.6h.1M45.7 145.9h.1M77.0 103.2h.1M70.6 23.6h.1M105.4 44.3h.1M47.2 75.8h.1M93.1 160.2h.1M112.2 9.5h.1M149.1 114.4h.1M62.5 131.3h.1M71.2 154.7h.1M78.1 146.6h.1M111.6 156.9h.1M85.2 101.5h.1M132.4 121.9h.1M84.6 130.9h.1M133.2 50.9h.1M50.8 153.3h.1M50.0 117.6h.1M87.6 53.9h.1M148.0 48.6h.1M58.6 72.3h.1M76.4 106.9h.1M97.5 145.1h.1M97.4 120.4h.1M89.3 68.4h.1M76.3 58.2h.1M118.0 91.7h.1M86.3 30.7h.1M55.7 100.6h.1M118.1 44.1h.1M49.8 29.2h.1M70.3 144.1h.1M131.2 146.5h.1M158.7 7.4h.1M90.6 130.8h.1M110.4 114.8h.1M128.6 117.4h.1M153.9 43.9h.1M50.2 160.4h.1M59.9 110.4h.1M140.9 113.4h.1M133.3 151.4h.1M74.1 115.1h.1M151.5 37.1h.1M144.0 156.3h.1M119.6 135.5h.1M68.5 92.2h.1M125.3 104.8h.1M146.7 62.4h.1M95.2 125.9h.1M59.5 148.8h.1M97.2 123.0h.1M112.7 48.5h.1M48.4 116.2h.1M46.6 120.2h.1M99.7 58.0h.1M114.0 96.5h.1M127.3 147.4h.1M115.3 121.9h.1M100.4 28.0h.1M85.5 158.6h.1M134.1 61.9h.1M86.1 129.5h.1M105.4 64.6h.1M121.0 144.5h.1M58.5 82.7h.1M50.3 40.9h.1M139.7 154.8h.1M82.4 15.4h.1M69.1 150.6h.1M103.8 160.3h.1M103.6 50.1h.1M65.0 108.1h.1M94.0 158.0h.1M103.2 82.8h.1M84.2 108.5h.1M97.0 5.6h.1M81.9 10.5h.1M70.9 36.0h.1M162.5 107.0h.1M53.0 50.8h.1M107.8 66.9h.1M85.4 133.2h.1M107.2 64.7h.1M100.7 130.8h.1M81.1 117.8h.1M156.4 153.3h.1M128.8 147.4h.1M76.9 109.3h.1M158.9 46.6h.1M83.2 55.6h.1M70.4 145.3h.1M66.8 104.9h.1M119.8 129.6h.1M101.5 140.3h.1M138.6 123.4h.1M107.2 78.0h.1M87.1 23.8h.1M47.5 151.5h.1M97.4 131.1h.1M163.9 64.6h.1M89.6 109.7h.1M118.2 121.2h.1M123.8 54.2h.1M147.0 159.8h.1M62.6 18.3h.1M108.3 133.3h.1M104.5 44.3h.1M89.9 47.4h.1M75.2 46.7h.1M71.0 89.9h.1M126.1 84.1h.1M133.3 156.7h.1M69.8 117.1h.1M68.0 88.7h.1M124.8 133.2h.1M81.1 77.8h.1M56.3 103.0h.1M90.1 80.5h.1M65.7 41.8h.1M95.0 126.7h.1M72.4 88.9h.1M115.2 156.6h.1M63.7 55.0h.1M101.0 51.5h.1M89.0 76.4h.1M107.7 75.8h.1M117.2 101.4h.1M86.7 127.7h.1M60.8 55.1h.1M54.0 147.9h.1M152.8 97.3h.1M66.4 150.4h.1M132.6 65.2h.1M70.2 109.2h.1M105.1 87.1h.1M86.9 143.9h.1M87.2 118.2h.1M59.0 81.9h.1M102.9 115.6h.1M119.4 69.5h.1M110.3 152.8h.1M110.4 124.2h.1M61.6 150.4h.1M90.0 66.5h.1M110.8 120.4h.1M87.6 64.7h.1M123.2 63.1h.1M111.9 157.7h.1M112.1 89.5h.1M155.3 53.6h.1M64.8 26.3h.1M96.2 152.4h.1M92.9 152.1h.1M97.1 115.3h.1M155.5 64.2h.1M124.8 150.0h.1M81.7 5.1h.1M70.4 71.7h.1M82.0 160.2h.1M127.6 65.5h.1M60.5 116.8h.1M83.7 143.3h.1M84.3 81.4h.1M94.1 71.1h.1M120.3 89.5h.1M147.7 135.2h.1M67.1 142.7h.1M139.6 155.4h.1M92.0 144.2h.1M149.2 124.0h.1M151.1 126.4h.1M144.0 154.4h.1M65.4 44.9h.1M75.8 142.2h.1M127.5 153.3h.1M53.9 139.9h.1M142.5 115.5h.1M98.7 88.9h.1M66.3 153.2h.1M96.7 145.9h.1M137.0 158.9h.1M103.4 120.1h.1M58.7 4.4h.1M152.0 58.2h.1M159.4 42.7h.1M67.5 26.8h.1M87.6 138.6h.1M98.2 84.4h.1M66.8 118.1h.1M62.6 123.7h.1M151.7 62.6h.1M95.1 101.1h.1M63.9 89.3h.1M71.8 133.4h.1M127.1 19.9h.1M131.1 82.7h.1M60.2 87.9h.1M72.5 62.4h.1M45.7 26.9h.1M85.6 143.3h.1M149.7 134.1h.1M50.4 11.5h.1M52.3 79.2h.1M135.3 33.4h.1M140.3 127.0h.1M66.5 7.8h.1M115.1 116.6h.1M146.4 53.6h.1M85.6 27.4h.1M106.5 107.6h.1M123.8 118.1h.1M150.3 109.7h.1M118.5 148.2h.1M174.9 114.7h.1M221.3 202.0h.1M178.0 32.9h.1M78.5 150.9h.1M149.5 108.1h.1M216.7 203.7h.1M106.5 86.7h.1M75.1 170.4h.1M70.1 124.3h.1M203.5 165.0h.1M220.6 175.4h.1M139.3 134.6h.1M112.7 75.0h.1M128.4 124.2h.1M90.6 163.0h.1M135.0 169.1h.1M141.2 131.3h.1M151.8 96.2h.1M78.1 21.8h.1M227.6 28.1h.1M167.7 134.1h.1M158.5 84.1h.1M202.2 140.3h.1M68.4 109.2h.1M160.9 84.8h.1M123.5 45.9h.1M170.3 174.5h.1M221.4 59.3h.1M72.0 131.2h.1M89.8 25.4h.1M120.4 197.7h.1M151.8 35.5h.1M202.5 105.8h.1M186.2 167.4h.1M154.4 51.6h.1M93.2 134.0h.1M146.6 86.6h.1M135.7 197.5h.1M79.4 31.8h.1M217.4 43.3h.1M204.7 114.0h.1M165.5 141.3h.1M102.5 120.2h.1M159.2 41.5h.1M115.6 103.1h.1M171.5 18.0h.1M66.4 139.6h.1M163.7 70.8h.1M156.3 197.2h.1M219.2 85.0h.1M158.2 15.3h.1M194.6 7.4h.1M98.2 70.9h.1M155.0 57.3h.1M115.7 195.1h.1M229.5 161.1h.1M224.7 78.5h.1M102.2 57.0h.1M167.2 18.6h.1M72.3 29.7h.1M49.0 207.9h.1M46.0 205.0h.1M48.9 208.5h.1M57.7 207.6h.1M55.5 205.7h.1M46.8 206.1h.1M60.6 206.3h.1M46.8 206.8h.1M56.2 206.7h.1M47.6 207.6h.1M46.3 206.5h.1M46.7 203.6h.1M44.8 204.2h.1M46.2 207.8h.1M53.1 203.3h.1M49.4 201.8h.1M45.6 208.6h.1M65.6 207.2h.1M46.7 204.3h.1M46.3 208.2h.1M52.2 207.9h.1M49.4 202.6h.1M44.9 208.2h.1M52.0 207.0h.1M45.2 203.9h.1M46.6 208.6h.1M44.9 206.4h.1M51.4 205.2h.1M46.3 207.2h.1M47.2 207.6h.1M67.1 207.4h.1M44.9 207.2h.1M45.0 206.8h.1M53.9 208.5h.1M45.2 207.6h.1M54.9 206.5h.1M48.3 208.5h.1M44.5 205.4h.1M46.2 201.9h.1M46.3 207.2h.1M61.5 208.1h.1M63.8 207.6h.1M71.1 207.0h.1M53.2 200.1h.1M49.9 205.3h.1M58.5 201.2h.1M50.5 207.9h.1M45.1 208.2h.1M49.2 208.3h.1M46.6 206.7h.1M46.1 208.3h.1M49.2 201.5h.1M49.3 207.2h.1M47.6 207.7h.1M45.7 208.5h.1M49.8 207.0h.1M46.7 204.9h.1M45.4 207.8h.1M46.7 204.8h.1M50.4 207.8h.1M51.8 208.1h.1M44.9 208.3h.1M54.0 204.3h.1M47.4 208.4h.1M46.0 207.0h.1M46.7 208.5h.1M46.4 206.7h.1M45.6 205.4h.1M47.6 201.4h.1M46.0 207.7h.1M45.6 208.3h.1M47.5 205.4h.1M48.1 208.0h.1M46.0 205.1h.1M50.8 208.3h.1M50.4 207.3h.1M56.8 207.2h.1M57.2 208.6h.1M64.2 201.3h.1M53.7 184.9h.1M45.0 208.6h.1M46.2 201.9h.1M66.1 207.3h.1M44.9 204.8h.1M54.6 199.3h.1M56.5 206.9h.1M63.2 205.1h.1M64.2 191.7h.1M57.3 172.1h.1M45.7 202.2h.1M46.1 186.3h.1M53.3 204.0h.1M49.9 195.4h.1M47.4 190.9h.1M50.9 207.5h.1M63.8 206.2h.1M50.0 196.4h.1M59.1 207.0h.1M51.1 200.5h.1M61.3 194.1h.1M62.8 199.9h.1M60.4 201.8h.1M46.6 206.6h.1M47.2 208.4h.1M45.3 208.5h.1M68.4 195.6h.1M44.7 203.8h.1M47.4 201.3h.1M46.8 205.7h.1M50.5 203.5h.1M48.8 194.5h.1M53.0 204.8h.1M44.8 186.7h.1M64.5 192.0h.1M52.7 202.8h.1M49.8 204.6h.1M57.9 207.6h.1M46.3 197.0h.1M48.4 207.6h.1M57.4 202.2h.1M48.0 204.5h.1M53.0 208.6h.1M48.8 208.0h.1M46.3 206.5h.1M60.7 199.6h.1M67.2 207.3h.1M48.5 208.2h.1M55.5 206.7h.1M50.8 202.9h.1M50.4 206.4h.1M48.5 193.5h.1M54.0 204.5h.1M120.2 3.6h.1M117.8 3.6h.1M109.1 4.3h.1M116.5 3.6h.1M85.7 3.6h.1M59.8 3.6h.1M95.2 3.6h.1M88.9 4.3h.1M59.1 3.6h.1M111.1 4.3h.1M87.2 3.6h.1M109.2 4.3h.1M63.2 3.6h.1M67.2 3.6h.1M54.0 3.6h.1M131.2 3.6h.1M110.6 3.6h.1M74.3 4.3h.1M49.9 3.6h.1M77.0 3.6h.1M119.1 4.3h.1M130.4 3.6h.1M60.8 3.6h.1M132.8 4.3h.1M64.2 4.3h.1M48.3 4.3h.1M57.6 4.3h.1M46.8 4.3h.1M67.9 4.3h.1M118.1 3.6h.1M90.5 4.3h.1M120.3 3.6h.1M53.8 3.6h.1M116.1 3.6h.1M58.0 3.6h.1M75.7 4.3h.1M133.8 4.3h.1M114.4 3.6h.1M114.4 3.6h.1M106.3 3.6h.1M79.9 3.6h.1M104.6 4.3h.1M85.9 3.6h.1M120.1 4.3h.1M109.1 4.3h.1M129.5 3.6h.1M124.5 3.6h.1M124.7 3.6h.1M54.0 3.6h.1M47.0 3.6h.1M81.3 3.6h.1M134.8 3.6h.1M102.6 3.6h.1M99.9 3.6h.1M123.4 3.6h.1M105.2 4.3h.1M55.7 3.6h.1M90.0 3.6h.1M127.4 3.6h.1M121.6 3.6h.1M50.9 3.6h.1M139.9 3.6h.1M94.5 3.6h.1M72.5 3.6h.1M85.9 4.3h.1M134.6 4.3h.1M130.1 3.6h.1M78.8 3.6h.1M105.6 3.6h.1M51.8 4.3h.1M120.3 3.6h.1M52.2 4.3h.1M113.1 4.3h.1M75.1 3.6h.1M59.4 4.3h.1M58.7 3.6h.1M137.4 4.3h.1M66.1 3.6h.1M89.6 3.6h.1M59.8 4.3h.1M91.6 3.6h.1M122.9 4.3h.1M68.7 4.3h.1M112.8 3.6h.1M78.8 3.6h.1M56.8 4.3h.1M122.2 3.6h.1M77.7 3.6h.1M105.7 3.6h.1M135.5 3.6h.1M113.7 3.6h.1M76.4 4.3h.1M103.4 4.3h.1M116.2 3.6h.1M65.5 3.6h.1M135.7 3.6h.1M66.6 3.6h.1M48.5 3.6h.1M95.6 3.6h.1M90.0 3.6h.1M59.7 3.6h.1M90.9 3.6h.1M70.8 3.6h.1M122.3 4.3h.1M91.7 4.3h.1M94.8 4.3h.1M58.7 4.3h.1M134.9 4.3h.1M69.1 4.3h.1M100.4 3.6h.1M118.8 3.6h.1M94.4 4.3h.1M75.4 3.6h.1M106.1 3.6h.1M113.2 3.6h.1M58.2 3.6h.1M69.3 3.6h.1M62.4 4.3h.1M47.2 3.6h.1M104.0 3.6h.1M139.9 4.3h.1M70.9 3.6h.1M134.1 3.6h.1M81.6 3.6h.1M131.8 3.6h.1M53.9 4.3h.1M75.2 4.3h.1M125.4 4.3h.1M131.3 3.6h.1M121.2 3.6h.1M109.8 4.3h.1M74.5 3.6h.1M138.6 3.6h.1M99.5 4.3h.1M122.8 3.6h.1M82.9 4.3h.1M134.1 4.3h.1M104.2 4.3h.1M112.6 3.6h.1M58.6 3.6h.1M84.3 3.6h.1M54.2 4.3h.1M78.7 4.3h.1M98.9 3.6h.1M72.6 4.3h.1M45.6 3.6h.1M85.9 4.3h.1M117.0 3.6h.1M81.0 3.6h.1M118.8 3.6h.1M81.9 3.6h.1M97.2 3.6h.1M73.7 3.6h.1M53.2 4.3h.1M119.2 4.3h.1M93.8 3.6h.1M120.5 4.3h.1M119.5 4.3h.1M119.0 3.6h.1M81.2 4.3h.1M72.9 3.6h.1M66.4 3.6h.1M89.5 3.6h.1M102.3 3.6h.1M126.9 4.3h.1M139.8 4.3h.1M114.3 3.6h.1M98.9 3.6h.1M72.4 3.6h.1M100.4 4.3h.1M72.0 3.6h.1M127.7 3.6h.1M66.6 3.6h.1M83.9 4.3h.1M66.3 4.3h.1M65.7 3.6h.1M117.6 3.6h.1M64.2 4.3h.1M75.5 4.3h.1M49.1 3.6h.1M131.5 3.6h.1M130.4 3.6h.1M80.7 4.3h.1M132.4 3.6h.1M66.7 3.6h.1M69.0 4.3h.1M97.8 3.6h.1M65.6 3.6h.1M131.1 3.6h.1M137.2 4.3h.1M56.6 3.6h.1M87.5 3.6h.1M85.3 4.3h.1M138.9 4.3h.1M138.7 3.6h.1M50.9 3.6h.1M135.7 4.3h.1M106.4 4.3h.1M89.8 3.6h.1M86.5 3.6h.1M218.7 3.6h.1M151.8 3.6h.1M176.6 3.6h.1M149.2 4.3h.1M176.5 3.6h.1M213.6 4.3h.1M216.6 4.3h.1M153.0 4.3h.1M162.9 3.6h.1M204.5 3.6h.1M155.9 3.6h.1M144.6 3.6h.1M219.8 3.6h.1M142.2 3.6h.1M222.0 3.6h.1M195.1 4.3h.1M176.4 3.6h.1M167.6 3.6h.1M176.1 3.6h.1M222.5 3.6h.1M193.3 3.6h.1M153.3 3.6h.1M191.7 3.6h.1M168.7 4.3h.1M223.0 3.6h.1M154.7 3.6h.1M185.6 3.6h.1M142.2 3.6h.1M164.3 3.6h.1M205.2 3.6h.1M196.5 3.6h.1M224.5 4.3h.1M154.3 3.6h.1M182.8 3.6h.1M149.4 4.3h.1M204.0 4.3h.1M149.6 3.6h.1M225.0 3.6h.1M184.8 4.3h.1M189.6 4.3h.1M173.9 3.6h.1M176.7 3.6h.1M220.4 4.3h.1M209.9 3.6h.1M175.7 3.6h.1M215.1 3.6h.1M174.8 3.6h.1M147.4 3.6h.1M161.0 3.6h.1M179.0 3.6h.1M180.7 3.6h.1M156.1 4.3h.1M204.8 4.3h.1M161.9 4.3h.1M199.8 4.3h.1M188.5 4.3h.1M199.6 4.3h.1M222.1 3.6h.1M205.4 3.6h.1M196.6 4.3h.1M202.8 4.3h.1M187.5 3.6h.1M231.4 4.3h.1M215.1 4.3h.1M154.5 3.6h.1M154.2 4.3h.1M180.1 3.6h.1M224.8 3.6h.1M153.2 3.6h.1M161.9 3.6h.1M232.0 3.6h.1M208.8 3.6h.1M190.1 3.6h.1M155.3 3.6h.1M142.9 3.6h.1M170.4 4.3h.1M157.5 3.6h.1M221.3 3.6h.1M187.6 3.6h.1M186.5 3.6h.1"/>
<polygon class="g" points="86,115.4 100.9,117.7 101.6,130.7 98.5,147.2 90.2,168.5 80.8,187.4 65.4,194.5 56.5,182.7 60.7,168.5 69,144.9 77.2,126"/>
<text class="r" x="92.6" y="193.9">Region 1</text>
<text class="n" x="178.6" y="193.9">(79)</text>
<text class="L" x="0.6" y="16.3">A</text>
<g fill="none" stroke="#1a1a1a" stroke-width="1.1">
<path d="M313.7 2.5V211.2H514.6V2.5Z"/>
<path stroke-width="1" d="M313.7 211.2v4.8M313.7 211.2h-4.8M321.6 211.2v2.2M313.7 203.1h-2.2M329.5 211.2v2.2M313.7 194.9h-2.2M337.4 211.2v2.2M313.7 186.8h-2.2M345.3 211.2v2.2M313.7 178.7h-2.2M353.2 211.2v4.8M313.7 170.5h-4.8M361.1 211.2v2.2M313.7 162.4h-2.2M369.0 211.2v2.2M313.7 154.2h-2.2M376.9 211.2v2.2M313.7 146.1h-2.2M384.8 211.2v2.2M313.7 138.0h-2.2M392.7 211.2v4.8M313.7 129.8h-4.8M400.6 211.2v2.2M313.7 121.7h-2.2M408.5 211.2v2.2M313.7 113.6h-2.2M416.4 211.2v2.2M313.7 105.4h-2.2M424.3 211.2v2.2M313.7 97.3h-2.2M432.2 211.2v4.8M313.7 89.2h-4.8M440.1 211.2v2.2M313.7 81.0h-2.2M448.0 211.2v2.2M313.7 72.9h-2.2M455.9 211.2v2.2M313.7 64.8h-2.2M463.8 211.2v2.2M313.7 56.6h-2.2M471.7 211.2v4.8M313.7 48.5h-4.8M479.6 211.2v2.2M313.7 40.3h-2.2M487.5 211.2v2.2M313.7 32.2h-2.2M495.4 211.2v2.2M313.7 24.1h-2.2M503.3 211.2v2.2M313.7 15.9h-2.2M511.2 211.2v4.8M313.7 7.8h-4.8"/>
</g>
<g class="t">
<text x="313.7" y="224.8" text-anchor="middle">0</text>
<text transform="translate(307.4 211.2) rotate(-90)" text-anchor="middle">0</text>
<text x="353.2" y="224.8" text-anchor="middle">50</text>
<text transform="translate(307.4 170.5) rotate(-90)" text-anchor="middle">50</text>
<text x="392.7" y="224.8" text-anchor="middle">100</text>
<text transform="translate(307.4 129.8) rotate(-90)" text-anchor="middle">100</text>
<text x="432.2" y="224.8" text-anchor="middle">150</text>
<text transform="translate(307.4 89.2) rotate(-90)" text-anchor="middle">150</text>
<text x="471.7" y="224.8" text-anchor="middle">200</text>
<text transform="translate(307.4 48.5) rotate(-90)" text-anchor="middle">200</text>
<text x="511.2" y="224.8" text-anchor="middle">250</text>
<text transform="translate(307.4 7.8) rotate(-90)" text-anchor="middle">250</text>
</g>
<text class="ax" x="415.1" y="235.8" text-anchor="middle">FSC-H</text>
<text class="ax" transform="translate(295.1 105.8) rotate(-90)" text-anchor="middle">SSC-H</text>
<path class="d" d="M349.0 139.4h.1M350.3 91.5h.1M357.5 157.9h.1M355.8 162.1h.1M356.5 87.3h.1M353.1 84.9h.1M350.2 139.0h.1M351.1 184.9h.1M347.9 171.9h.1M354.3 156.0h.1M349.9 129.3h.1M351.2 184.1h.1M354.3 137.6h.1M356.2 92.4h.1M352.6 149.8h.1M352.7 82.2h.1M347.4 175.2h.1M350.9 140.5h.1M347.2 163.0h.1M356.2 173.9h.1M347.8 167.9h.1M346.2 168.1h.1M352.6 167.6h.1M349.3 128.2h.1M358.7 61.8h.1M350.8 112.0h.1M352.3 154.7h.1M358.4 120.2h.1M351.3 190.1h.1M356.5 120.1h.1M346.0 160.2h.1M348.9 89.0h.1M355.5 135.6h.1M354.6 169.2h.1M356.3 179.6h.1M358.6 76.6h.1M351.6 169.4h.1M347.7 186.1h.1M360.3 59.5h.1M351.7 170.3h.1M359.3 67.2h.1M352.6 157.3h.1M353.7 190.5h.1M358.1 80.2h.1M351.9 163.8h.1M352.5 86.3h.1M347.0 148.4h.1M357.3 123.8h.1M353.4 145.9h.1M355.4 164.9h.1M350.3 102.7h.1M348.2 118.1h.1M356.5 87.5h.1M356.8 130.6h.1M353.4 79.0h.1M352.9 61.8h.1M355.2 162.5h.1M358.3 159.8h.1M359.7 61.9h.1M349.5 155.0h.1M349.5 157.0h.1M353.8 123.5h.1M352.2 117.4h.1M355.3 108.5h.1M353.8 150.2h.1M358.0 91.3h.1M353.0 145.0h.1M350.6 130.4h.1M351.3 141.5h.1M348.1 165.0h.1M352.7 107.8h.1M352.4 119.8h.1M351.5 138.3h.1M357.5 121.3h.1M350.6 157.7h.1M351.8 93.2h.1M355.7 180.2h.1M349.4 183.1h.1M345.7 89.8h.1M356.0 138.9h.1M352.1 123.7h.1M352.5 123.5h.1M353.6 103.8h.1M347.6 144.0h.1M353.1 169.2h.1M348.6 109.6h.1M353.6 167.4h.1M345.5 164.0h.1M348.3 152.8h.1M357.6 177.4h.1M354.2 150.1h.1M349.0 168.9h.1M349.6 184.7h.1M356.0 174.2h.1M345.2 147.7h.1M353.1 117.1h.1M356.1 150.3h.1M355.2 161.4h.1M353.4 161.2h.1M347.5 129.5h.1M354.4 164.1h.1M358.6 122.1h.1M353.2 90.2h.1M355.8 185.1h.1M352.1 180.4h.1M348.9 132.3h.1M354.8 145.2h.1M357.6 56.0h.1M334.8 184.3h.1M361.7 124.6h.1M357.4 151.0h.1M349.1 91.7h.1M356.6 92.4h.1M353.9 148.7h.1M355.2 156.9h.1M352.6 188.5h.1M347.7 159.4h.1M355.2 151.0h.1M348.9 150.4h.1M359.8 114.9h.1M354.3 126.4h.1M353.9 152.3h.1M351.6 91.9h.1M354.3 118.4h.1M352.8 98.2h.1M359.1 64.7h.1M349.9 135.2h.1M356.5 126.8h.1M347.6 146.1h.1M355.4 129.6h.1M354.8 76.8h.1M353.0 174.8h.1M355.4 65.9h.1M361.9 58.8h.1M357.1 59.1h.1M348.2 167.9h.1M355.3 126.2h.1M351.4 183.5h.1M351.5 120.2h.1M354.4 130.7h.1M355.8 159.3h.1M357.3 183.7h.1M357.2 179.9h.1M347.9 127.1h.1M352.8 157.5h.1M354.4 73.3h.1M353.8 147.3h.1M352.9 154.3h.1M348.8 115.2h.1M356.9 155.2h.1M351.8 118.9h.1M348.9 165.7h.1M353.3 76.5h.1M349.3 142.4h.1M347.7 184.0h.1M353.7 152.7h.1M352.9 182.8h.1M350.4 183.6h.1M354.0 165.4h.1M349.4 169.3h.1M349.5 162.7h.1M356.9 141.3h.1M351.6 167.9h.1M356.7 167.8h.1M350.9 174.9h.1M353.1 51.7h.1M354.1 64.9h.1M347.3 136.5h.1M349.3 161.1h.1M350.7 131.8h.1M356.5 127.7h.1M361.1 58.2h.1M355.4 150.6h.1M346.5 184.7h.1M346.2 151.4h.1M347.5 110.8h.1M351.1 153.3h.1M349.6 126.4h.1M351.8 126.0h.1M349.6 71.7h.1M346.2 160.7h.1M353.2 48.1h.1M355.9 172.8h.1M353.4 51.4h.1M350.4 166.9h.1M349.6 124.1h.1M352.5 124.1h.1M346.3 139.2h.1M351.3 101.2h.1M354.9 105.0h.1M356.1 160.7h.1M357.2 179.5h.1M349.8 92.8h.1M351.8 114.9h.1M352.8 189.0h.1M346.6 158.2h.1M353.3 180.3h.1M348.7 128.2h.1M350.9 165.9h.1M348.1 160.4h.1M354.2 163.6h.1M352.5 137.8h.1M351.5 117.3h.1M350.9 125.8h.1M353.1 93.4h.1M352.4 78.4h.1M355.9 127.6h.1M350.5 174.4h.1M349.0 121.9h.1M356.7 146.2h.1M348.0 171.2h.1M350.3 85.1h.1M349.4 126.5h.1M350.2 126.4h.1M355.7 160.5h.1M353.2 179.0h.1M359.5 52.0h.1M352.8 144.6h.1M355.5 49.5h.1M352.5 118.2h.1M353.1 129.7h.1M348.0 115.7h.1M354.4 131.1h.1M354.3 125.5h.1M352.3 140.1h.1M354.5 111.5h.1M347.3 128.7h.1M353.9 106.9h.1M353.4 131.9h.1M350.5 160.2h.1M358.9 62.5h.1M347.4 194.7h.1M355.9 94.5h.1M347.7 168.2h.1M350.7 116.6h.1M355.6 76.3h.1M352.5 167.9h.1M349.8 146.6h.1M356.9 113.3h.1M352.5 127.6h.1M355.6 175.1h.1M351.0 160.0h.1M350.4 115.4h.1M355.0 109.6h.1M350.4 146.7h.1M352.9 88.6h.1M353.2 108.4h.1M353.7 169.5h.1M348.2 161.8h.1M356.8 60.5h.1M351.1 134.8h.1M350.0 129.6h.1M360.1 163.1h.1M357.7 132.5h.1M351.9 108.1h.1M357.8 173.0h.1M351.8 102.7h.1M356.5 154.4h.1M347.1 115.9h.1M351.2 151.7h.1M352.3 99.0h.1M349.5 176.3h.1M354.0 126.4h.1M348.1 157.5h.1M350.5 164.1h.1M351.3 136.9h.1M347.5 144.1h.1M354.6 88.2h.1M353.8 144.3h.1M349.0 143.4h.1M350.9 178.1h.1M350.1 124.4h.1M351.4 95.3h.1M349.1 130.4h.1M355.4 167.5h.1M353.4 54.0h.1M354.1 64.7h.1M350.7 194.8h.1M357.6 145.7h.1M353.5 161.1h.1M356.0 136.7h.1M351.8 103.0h.1M353.2 156.3h.1M351.1 110.2h.1M357.4 135.3h.1M348.5 105.5h.1M349.8 179.4h.1M358.6 129.0h.1M356.8 158.9h.1M352.8 100.8h.1M354.6 150.8h.1M353.4 117.6h.1M351.9 88.2h.1M354.7 120.2h.1M355.5 74.2h.1M353.2 150.2h.1M346.2 145.7h.1M349.5 174.1h.1M361.5 61.1h.1M350.0 130.6h.1M350.8 189.7h.1M353.3 123.8h.1M350.5 72.5h.1M350.3 168.9h.1M355.4 82.2h.1M348.9 160.7h.1M350.9 142.8h.1M355.1 176.4h.1M347.7 141.6h.1M353.3 157.4h.1M356.8 112.5h.1M352.4 189.4h.1M349.4 105.3h.1M346.4 172.5h.1M345.2 157.7h.1M348.8 138.4h.1M351.3 126.8h.1M352.8 80.2h.1M354.8 168.3h.1M350.4 108.2h.1M355.4 175.9h.1M352.5 177.4h.1M352.5 105.5h.1M355.5 117.0h.1M354.3 160.4h.1M346.0 165.5h.1M354.0 69.3h.1M357.2 171.4h.1M353.3 170.5h.1M348.6 152.1h.1M348.9 177.8h.1M356.9 187.9h.1M352.2 104.6h.1M347.7 183.1h.1M350.7 174.9h.1M350.2 148.8h.1M350.0 86.3h.1M354.6 185.6h.1M351.8 163.5h.1M349.5 126.4h.1M349.8 120.9h.1M358.2 184.1h.1M351.7 108.7h.1M356.7 170.9h.1M355.1 134.4h.1M349.3 159.1h.1M347.9 171.0h.1M353.9 83.7h.1M355.9 112.9h.1M356.2 87.1h.1M348.8 130.0h.1M355.9 93.1h.1M354.8 180.1h.1M350.4 167.8h.1M349.8 148.2h.1M349.6 102.3h.1M357.8 105.5h.1M346.4 149.2h.1M353.7 179.4h.1M350.0 181.9h.1M350.2 181.5h.1M349.7 121.0h.1M350.3 159.2h.1M348.5 142.1h.1M353.2 145.7h.1M351.7 157.2h.1M356.3 117.5h.1M351.5 113.9h.1M351.3 131.1h.1M356.0 109.0h.1M348.5 174.8h.1M355.8 126.0h.1M358.4 65.6h.1M348.9 153.0h.1M349.2 190.1h.1M345.9 145.1h.1M352.3 116.0h.1M347.1 178.8h.1M356.0 152.7h.1M349.6 151.7h.1M348.5 136.2h.1M355.6 166.2h.1M354.8 156.6h.1M353.9 144.8h.1M352.2 122.3h.1M352.0 167.4h.1M350.1 179.7h.1M352.6 81.7h.1M352.6 60.7h.1M355.8 83.7h.1M351.8 176.0h.1M348.5 151.6h.1M350.3 129.5h.1M350.7 187.8h.1M357.0 183.3h.1M356.2 132.3h.1M347.6 126.4h.1M356.3 143.5h.1M346.8 149.2h.1M350.9 173.0h.1M348.2 176.5h.1M351.9 116.2h.1M353.1 174.2h.1M346.6 78.0h.1M357.7 105.2h.1M352.1 131.9h.1M359.4 77.6h.1M351.8 123.8h.1M361.4 61.2h.1M350.6 169.5h.1M353.3 157.1h.1M350.7 112.9h.1M355.9 142.5h.1M349.6 128.6h.1M345.5 170.8h.1M352.0 117.4h.1M353.6 109.5h.1M348.9 166.7h.1M355.1 164.8h.1M353.0 159.7h.1M352.8 74.2h.1M354.5 66.6h.1M356.7 181.6h.1M350.7 187.3h.1M351.5 104.6h.1M349.5 139.4h.1M348.7 136.5h.1M356.2 116.1h.1M356.3 78.4h.1M351.5 111.9h.1M352.5 185.5h.1M354.1 134.3h.1M357.2 104.8h.1M360.8 77.6h.1M353.1 154.3h.1M348.9 172.8h.1M355.8 111.7h.1M355.8 164.6h.1M361.0 58.8h.1M357.6 90.5h.1M351.0 153.6h.1M354.0 82.4h.1M350.6 136.6h.1M349.7 138.7h.1M350.5 61.5h.1M353.1 171.1h.1M346.6 163.0h.1M354.9 168.1h.1M354.0 154.9h.1M352.7 115.8h.1M355.7 158.9h.1M348.8 147.2h.1M353.3 152.2h.1M353.8 164.4h.1M352.0 116.8h.1M357.6 180.0h.1M353.1 136.3h.1M356.6 120.1h.1M354.9 143.0h.1M349.5 187.4h.1M358.2 159.8h.1M349.2 82.7h.1M349.3 115.0h.1M348.5 156.9h.1M349.0 185.0h.1M352.1 144.1h.1M350.7 144.3h.1M360.7 48.1h.1M349.9 95.3h.1M354.0 169.5h.1M353.0 110.3h.1M346.6 143.8h.1M350.5 157.8h.1M349.2 149.5h.1M348.1 165.7h.1M348.4 154.1h.1M349.4 119.4h.1M360.4 148.6h.1M357.3 159.0h.1M355.2 75.8h.1M361.7 186.2h.1M350.2 151.8h.1M358.0 187.8h.1M349.5 175.0h.1M356.6 62.8h.1M358.7 79.4h.1M349.3 174.3h.1M356.2 110.9h.1M348.8 179.8h.1M349.9 188.6h.1M348.2 166.0h.1M352.7 152.3h.1M356.9 133.9h.1M357.5 179.5h.1M348.8 152.7h.1M354.7 82.3h.1M352.5 161.9h.1M350.7 122.0h.1M351.6 91.8h.1M350.0 126.0h.1M348.1 174.6h.1M353.4 163.4h.1M355.5 127.6h.1M350.5 171.2h.1M356.7 146.1h.1M350.9 122.9h.1M354.7 84.4h.1M354.7 157.7h.1M352.5 111.2h.1M352.4 140.8h.1M353.0 110.0h.1M355.9 152.9h.1M350.5 72.6h.1M347.6 115.4h.1M354.0 152.3h.1M354.3 173.1h.1M353.1 162.2h.1M349.7 116.6h.1M354.9 129.5h.1M352.0 140.3h.1M352.5 183.5h.1M347.4 99.9h.1M354.2 167.9h.1M354.8 87.0h.1M349.1 172.7h.1M353.0 86.4h.1M348.0 127.8h.1M358.9 126.4h.1M354.8 156.3h.1M358.2 120.2h.1M351.6 169.5h.1M350.1 189.9h.1M357.3 161.1h.1M358.4 58.6h.1M349.0 82.9h.1M346.5 169.3h.1M354.9 130.7h.1M354.1 141.5h.1M346.8 173.3h.1M352.0 160.7h.1M348.5 142.9h.1M354.8 118.2h.1M361.6 78.9h.1M349.5 86.9h.1M358.4 70.7h.1M350.0 129.7h.1M355.4 183.7h.1M352.5 86.3h.1M347.1 141.7h.1M356.8 151.4h.1M351.9 182.9h.1M350.2 192.7h.1M351.4 155.2h.1M358.8 148.0h.1M349.3 160.1h.1M347.3 133.6h.1M350.9 167.1h.1M352.2 172.5h.1M347.7 106.2h.1M351.7 143.1h.1M351.2 119.8h.1M349.6 89.6h.1M342.9 132.0h.1M351.0 150.4h.1M348.1 142.0h.1M348.7 128.0h.1M356.3 145.7h.1M349.2 140.7h.1M360.3 61.2h.1M351.0 158.4h.1M350.7 167.9h.1M349.3 136.3h.1M348.5 154.8h.1M349.3 110.3h.1M349.7 162.2h.1M350.5 135.6h.1M355.1 153.8h.1M350.3 156.8h.1M353.1 133.2h.1M351.0 101.7h.1M356.3 182.5h.1M354.3 171.7h.1M352.7 127.9h.1M349.2 127.4h.1M351.4 173.5h.1M356.0 164.4h.1M351.2 115.2h.1M347.4 171.0h.1M349.8 122.9h.1M348.1 173.0h.1M355.3 86.3h.1M352.8 183.7h.1M352.6 126.0h.1M352.6 180.7h.1M351.2 111.0h.1M352.9 126.8h.1M353.7 112.0h.1M354.1 148.7h.1M352.6 112.0h.1M356.3 157.0h.1M346.6 157.5h.1M346.9 165.8h.1M348.8 135.4h.1M347.2 132.8h.1M355.6 111.5h.1M348.2 138.8h.1M351.1 143.0h.1M347.4 115.2h.1M348.2 145.9h.1M356.8 98.9h.1M351.7 131.7h.1M351.8 121.2h.1M354.3 143.6h.1M352.6 166.6h.1M355.4 62.7h.1M355.7 134.0h.1M351.5 84.0h.1M354.3 124.7h.1M350.2 162.8h.1M350.3 153.3h.1M350.0 161.0h.1M355.9 170.3h.1M347.4 123.0h.1M354.9 126.8h.1M343.7 101.8h.1M356.6 121.6h.1M351.2 151.6h.1M348.5 156.6h.1M352.1 160.3h.1M358.8 143.9h.1M359.8 69.9h.1M344.7 154.2h.1M352.7 173.5h.1M349.2 176.0h.1M357.9 59.3h.1M349.0 127.2h.1M349.2 139.3h.1M355.6 152.2h.1M353.6 168.6h.1M360.0 61.3h.1M353.3 178.6h.1M349.2 133.6h.1M346.7 186.3h.1M353.0 167.9h.1M351.9 129.4h.1M347.7 184.1h.1M355.6 136.6h.1M358.7 85.9h.1M341.8 103.9h.1M347.3 143.8h.1M349.4 165.0h.1M349.3 119.5h.1M353.3 182.5h.1M349.3 112.4h.1M344.6 188.2h.1M351.5 154.5h.1M356.2 162.7h.1M353.8 128.3h.1M351.0 143.4h.1M351.5 124.5h.1M353.1 140.7h.1M360.7 173.0h.1M351.9 165.8h.1M347.7 171.3h.1M356.5 131.1h.1M350.8 117.8h.1M353.9 149.2h.1M350.0 184.3h.1M352.0 159.9h.1M354.1 108.9h.1M350.6 168.2h.1M354.7 177.2h.1M349.5 162.9h.1M351.5 161.8h.1M349.7 157.2h.1M352.1 146.7h.1M352.5 129.1h.1M349.9 161.1h.1M349.9 132.0h.1M352.5 99.9h.1M347.3 178.2h.1M355.5 180.2h.1M358.6 89.7h.1M351.5 169.4h.1M356.2 151.9h.1M357.2 121.9h.1M350.2 121.8h.1M348.2 93.9h.1M356.4 134.7h.1M350.8 105.8h.1M354.8 156.8h.1M355.7 183.4h.1M351.5 117.8h.1M351.8 112.6h.1M351.3 142.4h.1M353.8 87.5h.1M349.6 93.1h.1M353.2 99.9h.1M349.9 171.7h.1M351.9 140.5h.1M353.9 167.7h.1M348.8 172.1h.1M349.5 118.4h.1M354.3 99.5h.1M353.2 73.1h.1M354.0 162.6h.1M348.9 144.0h.1M356.6 173.9h.1M355.3 155.2h.1M354.3 98.5h.1M349.6 138.7h.1M355.1 130.4h.1M356.2 88.5h.1M353.8 93.0h.1M353.0 159.9h.1M347.1 155.7h.1M356.7 131.9h.1M356.7 89.5h.1M356.1 112.5h.1M347.1 134.0h.1M350.3 163.1h.1M350.7 131.4h.1M349.6 164.6h.1M345.8 125.8h.1M354.2 150.2h.1M348.7 164.0h.1M350.9 131.8h.1M353.8 137.1h.1M357.4 71.1h.1M347.7 86.8h.1M352.9 157.6h.1M353.6 83.0h.1M350.2 101.8h.1M348.3 138.7h.1M350.9 181.4h.1M350.9 193.7h.1M356.0 166.5h.1M356.4 125.5h.1M350.2 100.0h.1M349.6 130.6h.1M358.2 73.9h.1M352.3 116.2h.1M350.0 160.1h.1M362.5 151.7h.1M352.3 181.6h.1M350.5 119.9h.1M351.1 131.6h.1M349.0 162.7h.1M346.7 111.7h.1M356.9 110.0h.1M347.5 188.4h.1M350.7 123.9h.1M348.6 176.3h.1M349.8 130.1h.1M356.1 178.5h.1M355.4 171.7h.1M353.2 117.3h.1M353.5 69.8h.1M355.2 156.0h.1M355.7 123.1h.1M351.5 121.8h.1M347.6 160.9h.1M358.2 131.0h.1M353.3 115.2h.1M350.5 174.8h.1M349.3 168.5h.1M354.8 169.6h.1M352.3 121.4h.1M353.6 188.2h.1M346.0 141.3h.1M346.9 120.1h.1M356.0 92.5h.1M352.5 169.9h.1M353.7 159.9h.1M350.9 182.4h.1M355.1 82.2h.1M355.6 71.3h.1M345.6 177.6h.1M355.2 111.7h.1M351.4 122.0h.1M357.0 90.0h.1M346.1 140.4h.1M354.3 104.9h.1M350.5 72.9h.1M352.6 184.6h.1M358.6 92.4h.1M350.0 126.1h.1M349.6 103.9h.1M349.1 171.2h.1M349.2 167.1h.1M352.0 180.5h.1M356.9 137.7h.1M350.8 167.7h.1M351.2 170.0h.1M350.0 172.7h.1M356.6 96.0h.1M355.4 139.3h.1M344.9 155.1h.1M356.7 118.9h.1M349.8 167.5h.1M351.6 153.3h.1M347.7 169.2h.1M349.7 163.6h.1M355.6 133.6h.1M350.3 87.7h.1M353.9 110.3h.1M357.2 139.8h.1M354.4 184.3h.1M350.4 105.0h.1M354.0 170.5h.1M350.9 112.4h.1M355.4 148.8h.1M355.6 178.7h.1M357.0 134.9h.1M351.1 107.0h.1M356.0 119.4h.1M352.1 163.8h.1M356.7 156.5h.1M352.0 152.5h.1M350.7 105.9h.1M355.5 164.6h.1M354.8 172.6h.1M353.2 136.3h.1M357.4 114.9h.1M349.7 150.7h.1M355.4 167.6h.1M350.1 135.6h.1M346.7 146.2h.1M355.4 164.0h.1M355.7 180.3h.1M361.0 78.6h.1M351.1 158.3h.1M348.6 74.1h.1M355.2 114.1h.1M349.7 157.6h.1M354.9 99.4h.1M354.4 156.1h.1M348.0 167.3h.1M351.6 157.6h.1M349.2 171.2h.1M354.4 150.9h.1M355.9 140.5h.1M356.1 190.1h.1M356.6 123.1h.1M351.2 98.9h.1M349.9 139.7h.1M350.3 148.6h.1M352.8 125.5h.1M354.1 184.4h.1M346.2 122.1h.1M348.2 101.5h.1M355.0 143.8h.1M348.3 107.4h.1M353.9 152.6h.1M352.8 117.1h.1M357.0 126.0h.1M345.1 158.1h.1M356.7 157.4h.1M350.6 68.9h.1M357.7 146.6h.1M353.8 146.7h.1M350.6 125.3h.1M355.7 126.4h.1M348.2 150.5h.1M354.8 167.2h.1M354.1 167.1h.1M358.6 173.3h.1M355.3 143.4h.1M356.7 112.5h.1M358.0 162.5h.1M348.6 97.5h.1M350.3 57.8h.1M349.1 92.5h.1M357.0 71.0h.1M346.1 132.2h.1M351.7 129.3h.1M346.7 186.0h.1M354.3 174.0h.1M351.4 171.6h.1M353.7 162.8h.1M349.7 100.6h.1M348.4 95.8h.1M351.0 170.9h.1M350.3 165.3h.1M357.2 69.1h.1M356.0 131.4h.1M355.5 114.3h.1M347.6 145.5h.1M354.3 135.3h.1M349.5 136.8h.1M347.4 151.9h.1M347.3 166.5h.1M353.6 177.6h.1M348.4 138.7h.1M356.8 127.3h.1M353.1 174.3h.1M354.9 60.0h.1M356.2 166.1h.1M359.1 71.2h.1M350.3 117.6h.1M352.7 180.9h.1M349.7 119.5h.1M352.8 69.4h.1M355.0 89.9h.1M356.5 184.9h.1M354.3 130.8h.1M353.0 126.2h.1M345.6 179.1h.1M352.6 173.6h.1M357.4 111.0h.1M353.5 88.5h.1M349.2 178.1h.1M353.0 127.7h.1M350.2 136.2h.1M350.8 96.2h.1M344.6 130.9h.1M353.7 178.0h.1M351.2 179.5h.1M351.7 102.1h.1M356.9 153.9h.1M350.6 93.0h.1M356.9 140.8h.1M352.5 167.4h.1M355.7 112.7h.1M358.5 148.9h.1M353.5 102.9h.1M347.9 115.5h.1M348.8 153.8h.1M354.1 122.6h.1M354.9 106.6h.1M345.6 120.8h.1M344.7 165.3h.1M351.3 131.6h.1M360.1 150.0h.1M350.0 112.9h.1M353.5 152.2h.1M357.3 67.0h.1M350.3 72.0h.1M348.0 106.6h.1M355.6 168.0h.1M351.6 99.5h.1M348.5 131.9h.1M355.4 192.2h.1M351.7 109.0h.1M353.0 94.0h.1M352.7 115.1h.1M353.4 143.4h.1M347.9 178.3h.1M356.3 62.9h.1M355.7 143.4h.1M360.7 57.0h.1M354.0 191.6h.1M357.2 135.8h.1M351.5 157.1h.1M347.6 112.6h.1M351.6 137.6h.1M354.1 171.2h.1M354.9 88.0h.1M355.6 106.2h.1M355.0 118.6h.1M347.2 171.0h.1M347.2 178.6h.1M357.8 164.1h.1M348.5 110.8h.1M356.2 120.1h.1M350.2 162.8h.1M355.2 134.5h.1M344.5 123.9h.1M355.4 193.4h.1M352.7 112.4h.1M358.7 167.0h.1M353.6 99.7h.1M356.1 179.8h.1M361.0 116.2h.1M348.7 180.7h.1M346.6 160.4h.1M348.9 176.1h.1M350.1 153.4h.1M348.9 84.6h.1M354.0 129.4h.1M352.1 188.6h.1M353.8 89.4h.1M355.7 143.4h.1M352.4 142.4h.1M349.9 133.7h.1M351.3 115.7h.1M348.9 119.2h.1M347.0 104.4h.1M351.0 113.2h.1M359.2 65.1h.1M357.9 164.1h.1M352.7 178.0h.1M357.1 107.1h.1M356.8 72.2h.1M353.8 128.0h.1M352.6 85.8h.1M353.7 132.6h.1M353.5 112.2h.1M353.8 147.7h.1M349.4 163.4h.1M350.3 176.3h.1M355.7 160.9h.1M354.6 171.6h.1M355.5 192.8h.1M355.5 129.9h.1M352.4 96.0h.1M348.3 98.6h.1M354.5 136.6h.1M352.1 158.8h.1M348.3 172.0h.1M357.6 97.8h.1M348.7 142.6h.1M352.7 77.8h.1M348.7 147.4h.1M356.7 175.2h.1M352.3 123.5h.1M355.7 157.3h.1M350.6 153.0h.1M348.1 156.0h.1M350.0 100.8h.1M354.2 141.2h.1M356.7 71.4h.1M354.1 131.1h.1M351.0 70.9h.1M349.1 186.1h.1M356.8 123.7h.1M351.6 111.2h.1M354.8 178.9h.1M352.6 133.2h.1M354.5 141.4h.1M349.8 175.5h.1M354.7 142.5h.1M352.3 128.9h.1M352.4 163.0h.1M345.2 118.3h.1M353.6 95.0h.1M346.2 161.1h.1M350.1 140.0h.1M353.9 193.9h.1M351.2 144.8h.1M349.7 178.3h.1M354.4 67.2h.1M353.3 59.5h.1M353.8 124.3h.1M352.2 172.3h.1M348.3 137.7h.1M358.9 150.8h.1M349.7 125.6h.1M346.7 123.6h.1M355.7 121.9h.1M350.5 116.1h.1M355.4 64.7h.1M355.6 157.2h.1M353.0 119.2h.1M355.1 180.4h.1M353.2 149.0h.1M359.2 95.8h.1M356.5 117.4h.1M346.8 100.7h.1M348.3 164.6h.1M352.5 111.9h.1M351.3 146.0h.1M348.4 133.3h.1M352.8 126.2h.1M348.6 175.4h.1M356.4 141.4h.1M351.1 119.4h.1M349.7 98.6h.1M350.8 117.9h.1M352.4 102.0h.1M349.2 156.0h.1M348.4 163.5h.1M350.6 149.6h.1M352.0 160.5h.1M347.1 164.0h.1M351.9 147.4h.1M352.1 101.9h.1M353.7 153.7h.1M353.4 59.8h.1M353.5 137.8h.1M355.0 96.8h.1M353.5 159.1h.1M344.8 156.3h.1M358.5 122.0h.1M354.5 148.5h.1M357.5 160.5h.1M349.9 141.3h.1M352.4 112.1h.1M355.4 86.9h.1M353.3 175.8h.1M352.6 80.9h.1M352.6 103.6h.1M353.7 167.0h.1M350.4 69.6h.1M347.4 93.4h.1M349.0 126.6h.1M353.6 94.9h.1M355.3 66.4h.1M346.3 166.6h.1M358.0 99.1h.1M357.3 180.0h.1M357.3 69.5h.1M352.3 114.7h.1M350.5 147.2h.1M350.6 83.8h.1M347.0 138.0h.1M351.9 138.9h.1M353.3 149.9h.1M350.1 181.2h.1M348.2 130.7h.1M353.1 179.5h.1M354.8 106.8h.1M348.2 155.0h.1M348.8 132.8h.1M346.8 166.6h.1M352.9 142.3h.1M354.2 174.1h.1M356.5 95.7h.1M348.7 113.4h.1M349.1 144.6h.1M355.0 153.2h.1M354.4 127.4h.1M351.7 169.3h.1M350.7 127.4h.1M353.2 182.0h.1M353.0 181.7h.1M355.2 67.1h.1M355.7 153.8h.1M353.9 174.8h.1M350.4 69.9h.1M353.3 163.0h.1M354.0 148.3h.1M351.0 141.9h.1M349.3 114.7h.1M351.2 162.7h.1M354.9 107.1h.1M352.6 100.8h.1M352.6 124.1h.1M356.4 191.5h.1M353.3 130.4h.1M349.9 93.3h.1M351.9 129.7h.1M355.3 165.6h.1M354.5 152.2h.1M355.4 161.1h.1M352.5 171.5h.1M349.0 117.0h.1M354.7 123.8h.1M355.5 174.5h.1M356.1 127.8h.1M355.8 141.5h.1M350.3 172.1h.1M354.9 152.7h.1M353.4 179.9h.1M356.7 55.6h.1M350.3 151.8h.1M351.1 141.2h.1M351.9 130.9h.1M346.3 117.7h.1M351.4 127.2h.1M350.5 170.7h.1M346.8 137.8h.1M350.1 107.0h.1M352.1 158.8h.1M346.9 170.8h.1M351.0 130.4h.1M338.9 90.7h.1M354.1 163.6h.1M354.8 158.5h.1M352.0 158.8h.1M356.3 55.4h.1M356.1 88.4h.1M348.5 186.4h.1M356.8 145.6h.1M353.4 112.9h.1M359.6 69.6h.1M350.1 137.7h.1M352.5 121.1h.1M357.6 95.8h.1M347.3 153.5h.1M359.5 100.3h.1M354.4 183.7h.1M357.3 108.9h.1M353.2 177.5h.1M349.8 124.7h.1M352.1 117.2h.1M350.2 165.0h.1M352.5 140.8h.1M355.9 92.8h.1M354.9 172.8h.1M355.2 145.2h.1M351.2 147.0h.1M351.2 127.3h.1M352.6 171.4h.1M352.2 151.3h.1M356.9 77.0h.1M353.5 177.1h.1M356.7 146.7h.1M350.7 114.6h.1M353.9 66.6h.1M351.4 66.8h.1M352.1 89.0h.1M353.5 112.5h.1M347.2 143.0h.1M348.1 107.9h.1M349.4 167.8h.1M354.5 142.9h.1M357.6 132.8h.1M349.4 132.9h.1M347.2 110.1h.1M350.7 144.0h.1M355.4 109.0h.1M354.2 121.0h.1M348.7 141.3h.1M354.8 153.2h.1M347.7 121.6h.1M355.3 161.4h.1M351.2 125.0h.1M347.7 180.1h.1M347.4 94.5h.1M354.7 147.8h.1M350.5 124.7h.1M357.1 135.6h.1M351.1 87.5h.1M354.0 122.8h.1M355.1 101.9h.1M348.3 157.1h.1M353.7 166.6h.1M357.1 167.6h.1M350.2 179.8h.1M352.2 127.8h.1M359.6 153.7h.1M337.2 184.8h.1M357.4 140.2h.1M352.6 142.2h.1M353.6 155.2h.1M350.8 62.4h.1M357.3 173.7h.1M356.8 131.5h.1M347.5 164.6h.1M359.9 91.2h.1M353.5 139.4h.1M354.4 147.0h.1M347.5 166.3h.1M346.3 149.6h.1M349.2 152.0h.1M352.9 181.0h.1M356.3 114.3h.1M349.4 134.9h.1M353.7 176.8h.1M357.7 135.8h.1M352.4 149.2h.1M353.1 140.8h.1M347.9 187.6h.1M350.1 157.4h.1M356.3 166.4h.1M353.6 63.1h.1M359.4 129.2h.1M352.9 163.9h.1M355.7 98.2h.1M355.7 167.0h.1M350.9 180.7h.1M356.3 165.2h.1M356.1 161.6h.1M356.6 114.9h.1M357.7 88.7h.1M345.7 182.6h.1M351.8 132.1h.1M356.1 178.8h.1M358.0 156.3h.1M352.8 181.8h.1M354.7 60.4h.1M355.0 168.9h.1M355.1 163.1h.1M355.0 146.4h.1M360.1 97.2h.1M346.8 104.4h.1M355.5 181.5h.1M350.6 128.6h.1M358.2 164.4h.1M357.0 187.9h.1M357.9 108.3h.1M352.6 75.0h.1M352.8 64.4h.1M346.8 133.1h.1M357.9 171.3h.1M352.1 168.9h.1M349.7 149.0h.1M358.4 49.3h.1M355.3 111.0h.1M348.9 94.4h.1M351.5 96.0h.1M354.1 91.2h.1M358.3 64.1h.1M348.5 140.6h.1M350.6 123.2h.1M356.5 124.5h.1M355.6 115.0h.1M351.8 168.1h.1M351.8 116.9h.1M358.5 96.1h.1M362.1 115.9h.1M354.2 111.3h.1M350.0 123.8h.1M348.1 127.5h.1M346.6 108.2h.1M348.9 152.6h.1M359.6 95.7h.1M349.8 179.5h.1M349.6 177.0h.1M354.5 139.6h.1M349.5 162.3h.1M347.4 106.1h.1M357.2 117.1h.1M356.1 179.4h.1M353.3 137.5h.1M348.5 163.3h.1M357.4 170.1h.1M351.6 159.6h.1M355.0 135.4h.1M348.4 127.5h.1M356.4 73.0h.1M356.3 175.2h.1M350.4 158.7h.1M354.0 73.8h.1M354.5 172.2h.1M354.4 116.2h.1M347.2 173.9h.1M350.0 94.7h.1M351.8 59.0h.1M352.6 174.6h.1M348.5 177.6h.1M352.8 139.5h.1M345.3 179.9h.1M351.1 81.2h.1M359.3 94.7h.1M354.0 187.1h.1M350.4 182.7h.1M359.0 158.9h.1M355.4 122.4h.1M349.3 160.7h.1M355.9 48.0h.1M355.2 124.7h.1M353.3 174.0h.1M354.5 108.3h.1M358.0 90.4h.1M352.5 139.3h.1M353.5 156.9h.1M353.3 119.5h.1M348.2 170.7h.1M354.0 179.3h.1M354.5 106.5h.1M353.2 128.1h.1M353.6 172.3h.1M348.2 140.5h.1M348.0 163.8h.1M356.7 119.8h.1M350.7 170.7h.1M350.8 172.3h.1M353.5 166.6h.1M350.4 176.6h.1M355.9 128.8h.1M352.5 141.9h.1M349.8 169.6h.1M353.5 161.6h.1M352.9 143.9h.1M359.7 64.4h.1M349.4 106.6h.1M352.1 135.5h.1M353.5 164.4h.1M355.3 179.1h.1M350.5 190.2h.1M347.4 128.1h.1M356.9 186.3h.1M348.6 127.7h.1M351.6 100.7h.1M354.1 181.5h.1M360.4 85.2h.1M356.4 137.8h.1M351.9 166.6h.1M353.4 152.4h.1M348.6 173.8h.1M349.0 143.3h.1M355.4 134.6h.1M357.0 122.8h.1M348.6 152.1h.1M351.7 146.6h.1M350.5 141.1h.1M348.5 157.5h.1M356.7 140.8h.1M346.0 158.8h.1M356.6 140.2h.1M353.7 166.6h.1M354.2 104.4h.1M356.3 125.3h.1M353.4 118.8h.1M358.0 176.5h.1M352.0 148.1h.1M352.8 182.9h.1M353.8 145.9h.1M345.9 182.3h.1M354.6 163.1h.1M351.3 178.0h.1M351.8 118.0h.1M349.8 193.0h.1M357.0 118.2h.1M355.2 164.0h.1M348.7 151.8h.1M352.0 124.8h.1M350.1 84.8h.1M362.0 68.0h.1M352.7 53.6h.1M356.7 145.3h.1M348.9 146.2h.1M349.3 85.9h.1M351.7 65.5h.1M355.3 57.8h.1M346.7 148.0h.1M348.6 164.5h.1M348.4 178.5h.1M351.4 137.0h.1M353.7 163.4h.1M352.5 109.7h.1M355.7 69.3h.1M351.3 147.6h.1M353.9 121.3h.1M349.3 129.9h.1M351.0 87.3h.1M356.3 158.6h.1M352.7 177.0h.1M354.7 163.4h.1M350.8 91.9h.1M351.4 114.5h.1M356.4 103.2h.1M354.6 191.3h.1M349.8 128.6h.1M350.0 94.1h.1M354.7 170.3h.1M354.6 105.8h.1M359.1 78.4h.1M350.1 126.6h.1M359.8 65.0h.1M350.8 136.0h.1M356.6 133.6h.1M349.9 119.7h.1M354.5 145.8h.1M356.2 167.8h.1M349.1 123.2h.1M346.9 114.5h.1M346.9 153.4h.1M348.9 131.9h.1M359.2 112.8h.1M357.4 183.4h.1M349.3 105.4h.1M352.6 129.6h.1M355.3 117.1h.1M349.0 169.8h.1M349.0 156.0h.1M355.7 179.5h.1M353.6 114.3h.1M355.0 171.3h.1M355.2 156.3h.1M354.7 86.8h.1M346.0 111.6h.1M348.0 172.7h.1M352.0 133.5h.1M348.7 97.0h.1M354.4 90.7h.1M353.8 117.1h.1M348.1 154.4h.1M353.1 91.6h.1M355.8 96.0h.1M352.1 174.2h.1M355.7 113.4h.1M354.6 157.6h.1M350.7 172.1h.1M355.7 163.9h.1M349.7 152.5h.1M351.7 135.1h.1M353.6 159.8h.1M351.8 125.9h.1M352.9 165.4h.1M355.5 159.2h.1M354.7 87.1h.1M350.4 51.7h.1M350.6 156.0h.1M348.6 137.8h.1M356.8 150.7h.1M355.2 156.1h.1M355.9 137.0h.1M347.9 91.0h.1M352.6 148.1h.1M354.7 116.8h.1M354.7 140.3h.1M352.1 61.7h.1M351.0 185.3h.1M348.4 100.8h.1M346.4 192.0h.1M356.4 168.3h.1M353.4 128.2h.1M353.7 146.7h.1M349.8 106.8h.1M357.4 54.7h.1M352.9 139.6h.1M355.4 76.0h.1M354.9 99.9h.1M356.6 74.6h.1M358.1 145.4h.1M350.7 156.3h.1M350.9 185.5h.1M357.2 110.6h.1M354.8 172.6h.1M355.4 148.8h.1M361.8 54.9h.1M349.4 125.9h.1M358.1 188.7h.1M355.8 162.4h.1M353.9 156.5h.1M353.7 159.4h.1M351.1 185.0h.1M351.5 144.0h.1M353.2 91.9h.1M355.7 69.9h.1M352.3 146.9h.1M355.5 99.9h.1M346.4 182.2h.1M349.0 188.0h.1M350.4 146.6h.1M352.0 151.0h.1M352.0 90.6h.1M355.9 170.0h.1M351.8 132.5h.1M354.0 164.6h.1M346.0 132.8h.1M352.7 169.2h.1M357.2 88.8h.1M358.6 187.6h.1M350.9 157.9h.1M352.7 123.6h.1M351.0 131.0h.1M348.9 106.2h.1M351.8 141.2h.1M356.0 178.1h.1M347.1 137.9h.1M354.6 122.1h.1M356.9 136.4h.1M349.9 131.5h.1M353.1 132.3h.1M350.7 141.9h.1M347.1 161.2h.1M350.1 161.0h.1M354.4 61.5h.1M353.3 182.8h.1M348.1 124.5h.1M350.8 134.0h.1M352.0 141.8h.1M349.9 179.4h.1M352.5 66.6h.1M354.4 173.2h.1M347.0 157.3h.1M355.8 143.8h.1M362.6 130.1h.1M356.7 143.8h.1M351.8 159.5h.1M357.8 135.2h.1M352.5 181.2h.1M350.6 146.9h.1M351.6 135.9h.1M348.7 179.4h.1M353.7 61.4h.1M356.7 178.7h.1M354.0 138.9h.1M351.6 92.5h.1M355.4 158.9h.1M360.0 111.7h.1M350.0 138.1h.1M355.2 143.9h.1M350.2 186.9h.1M350.2 157.6h.1M346.7 135.4h.1M353.3 154.7h.1M354.1 155.1h.1M357.8 94.6h.1M350.9 127.9h.1M347.3 99.6h.1M353.0 88.1h.1M347.5 122.2h.1M352.8 65.5h.1M353.5 101.5h.1M351.6 101.2h.1M350.9 144.5h.1M352.4 132.6h.1M353.0 86.1h.1M351.6 192.7h.1M351.6 164.3h.1M356.8 158.0h.1M350.5 154.2h.1M349.3 162.2h.1M352.1 103.2h.1M356.5 162.2h.1M357.9 126.2h.1M348.3 104.3h.1M351.1 117.3h.1M347.9 171.7h.1M358.2 131.1h.1M356.9 176.4h.1M355.8 192.9h.1M351.9 182.8h.1M360.2 138.3h.1M353.7 146.7h.1M353.8 150.4h.1M354.9 81.9h.1M348.5 165.0h.1M352.7 169.4h.1M353.4 104.2h.1M348.1 123.1h.1M351.7 153.3h.1M348.1 184.8h.1M356.0 125.3h.1M356.1 176.7h.1M354.0 76.0h.1M353.3 145.2h.1M353.9 118.3h.1M356.7 175.1h.1M347.0 101.9h.1M353.7 82.9h.1M353.1 127.8h.1M356.5 164.9h.1M350.5 162.8h.1M346.6 123.4h.1M349.3 162.2h.1M353.5 94.8h.1M343.1 135.1h.1M348.5 176.4h.1M354.2 97.5h.1M356.2 110.5h.1M353.0 125.4h.1M350.9 106.2h.1M346.7 143.4h.1M354.5 132.1h.1M358.1 149.6h.1M355.5 58.3h.1M347.7 170.4h.1M356.4 129.5h.1M350.6 75.6h.1M356.0 151.9h.1M356.4 99.7h.1M353.0 106.4h.1M355.8 164.8h.1M356.3 76.8h.1M364.4 153.7h.1M373.5 150.5h.1M373.8 161.4h.1M370.6 153.2h.1M351.2 192.7h.1M378.6 141.1h.1M358.0 167.2h.1M381.1 133.6h.1M370.7 155.8h.1M365.8 166.0h.1M359.3 151.2h.1M360.6 162.9h.1M358.8 173.4h.1M364.7 176.5h.1M371.2 160.8h.1M366.8 166.6h.1M362.4 147.4h.1M359.5 158.7h.1M365.8 157.9h.1M363.8 174.7h.1M370.1 172.5h.1M360.1 180.9h.1M367.2 149.3h.1M354.1 182.9h.1M366.8 152.2h.1M377.9 137.9h.1M364.0 157.9h.1M360.2 176.7h.1M362.7 156.3h.1M363.8 161.7h.1M367.8 144.5h.1M365.9 155.3h.1M363.8 171.6h.1M360.9 156.9h.1M376.4 146.2h.1M355.2 178.7h.1M364.2 170.1h.1M357.5 186.6h.1M357.5 177.9h.1M365.5 167.7h.1M366.6 171.6h.1M366.2 171.4h.1M372.6 157.4h.1M362.2 168.9h.1M357.1 178.4h.1M362.6 169.4h.1M378.3 148.1h.1M373.2 138.8h.1M373.9 126.3h.1M357.2 197.7h.1M368.3 165.4h.1M366.2 146.5h.1M369.8 151.8h.1M366.0 145.0h.1M377.5 134.1h.1M365.0 181.3h.1M358.1 180.5h.1M357.4 182.4h.1M363.9 160.8h.1M361.9 181.3h.1M369.1 157.6h.1M354.9 161.0h.1M362.2 176.8h.1M356.6 162.6h.1M372.1 158.5h.1M359.0 174.6h.1M352.4 189.9h.1M356.5 172.5h.1M372.5 142.4h.1M374.8 145.2h.1M361.9 168.7h.1M372.3 162.7h.1M377.9 161.8h.1M361.4 192.0h.1M360.6 152.5h.1M357.3 171.0h.1M347.0 184.1h.1M354.1 183.9h.1M365.1 181.3h.1M374.7 149.9h.1M374.9 132.0h.1M361.6 182.0h.1M364.6 175.6h.1M375.1 150.0h.1M363.3 176.7h.1M384.0 138.0h.1M364.3 158.3h.1M358.3 189.1h.1M373.5 123.1h.1M354.4 167.7h.1M358.1 181.0h.1M366.2 145.1h.1M355.7 171.6h.1M369.9 146.6h.1M375.1 138.1h.1M359.8 158.4h.1M369.2 142.4h.1M370.4 150.2h.1M357.6 188.0h.1M373.2 140.6h.1M372.2 130.7h.1M367.7 145.9h.1M365.2 169.3h.1M361.6 172.8h.1M357.4 179.7h.1M359.4 182.0h.1M362.3 170.2h.1M374.1 151.2h.1M374.5 147.9h.1M366.5 154.3h.1M369.5 147.0h.1M357.0 186.9h.1M360.5 145.0h.1M368.5 155.2h.1M363.3 157.1h.1M354.0 186.8h.1M369.8 155.7h.1M365.7 151.2h.1M356.4 169.8h.1M362.2 169.2h.1M356.9 176.5h.1M347.3 170.6h.1M368.5 164.4h.1M366.0 162.1h.1M354.6 181.4h.1M363.2 166.5h.1M362.6 179.0h.1M363.5 172.1h.1M360.0 178.0h.1M366.7 161.2h.1M369.2 150.3h.1M349.6 181.2h.1M364.4 160.4h.1M373.5 144.7h.1M364.4 154.3h.1M364.4 154.8h.1M368.9 165.8h.1M372.6 150.2h.1M366.3 173.0h.1M359.7 171.2h.1M363.2 155.1h.1M371.4 148.2h.1M360.2 158.2h.1M363.1 174.4h.1M363.7 169.4h.1M375.8 134.6h.1M369.7 147.3h.1M352.1 173.5h.1M383.4 128.4h.1M354.6 181.6h.1M361.6 169.7h.1M360.3 158.5h.1M371.3 163.0h.1M379.7 138.8h.1M347.1 186.1h.1M353.2 176.1h.1M359.3 162.4h.1M370.8 148.4h.1M363.3 152.4h.1M361.3 171.3h.1M361.6 184.8h.1M361.5 172.6h.1M366.5 161.5h.1M380.2 135.7h.1M373.1 148.2h.1M368.4 162.1h.1M355.1 180.9h.1M357.8 167.9h.1M369.2 136.2h.1M361.6 156.4h.1M370.1 162.4h.1M359.7 168.0h.1M355.3 176.3h.1M368.6 147.1h.1M368.1 166.1h.1M379.3 162.8h.1M372.0 141.4h.1M377.5 140.3h.1M355.9 173.8h.1M372.7 161.1h.1M362.5 161.1h.1M361.4 176.8h.1M364.8 179.7h.1M364.4 169.3h.1M356.3 186.6h.1M365.3 150.2h.1M362.6 157.7h.1M366.2 142.6h.1M359.6 166.1h.1M367.1 162.3h.1M370.9 152.2h.1M379.2 122.8h.1M369.4 154.9h.1M363.0 188.9h.1M382.0 144.6h.1M361.3 161.6h.1M377.5 127.8h.1M346.0 185.5h.1M364.3 170.3h.1M365.0 148.3h.1M363.1 165.0h.1M368.7 146.0h.1M368.5 151.8h.1M363.7 150.7h.1M373.7 132.4h.1M366.6 164.0h.1M359.9 176.5h.1M361.0 175.4h.1M358.1 178.8h.1M358.6 175.6h.1M363.7 170.9h.1M370.8 154.3h.1M356.3 184.6h.1M368.8 175.2h.1M358.8 172.7h.1M361.0 167.4h.1M376.9 171.6h.1M369.2 165.3h.1M362.1 169.8h.1M377.7 158.3h.1M371.3 139.9h.1M348.8 191.1h.1M366.6 151.7h.1M367.4 143.2h.1M368.3 154.7h.1M367.9 143.1h.1M374.1 129.0h.1M358.1 181.7h.1M372.8 140.4h.1M378.8 147.8h.1M367.6 172.9h.1M361.9 156.8h.1M367.5 141.8h.1M373.3 151.1h.1M379.2 145.0h.1M379.3 150.7h.1M350.8 183.9h.1M367.4 151.3h.1M362.2 144.1h.1M351.5 180.4h.1M361.3 145.1h.1M350.2 189.6h.1M367.7 162.3h.1M363.1 171.4h.1M350.7 184.7h.1M377.2 149.1h.1M367.8 147.2h.1M371.2 151.2h.1M359.2 160.3h.1M372.7 149.3h.1M357.6 190.9h.1M354.3 177.3h.1M374.0 181.0h.1M351.7 182.6h.1M370.1 144.8h.1M363.6 173.6h.1M374.0 129.9h.1M370.7 153.6h.1M359.1 169.2h.1M360.3 173.1h.1M369.7 140.0h.1M380.3 134.8h.1M364.6 172.0h.1M351.7 172.6h.1M373.0 137.2h.1M361.0 174.8h.1M367.0 168.7h.1M365.9 166.6h.1M357.7 178.1h.1M364.0 180.5h.1M372.5 143.2h.1M364.3 167.2h.1M363.4 192.2h.1M363.8 165.3h.1M368.0 138.1h.1M366.4 164.2h.1M368.5 155.9h.1M372.9 138.1h.1M374.0 146.6h.1M373.9 161.9h.1M369.7 149.4h.1M366.8 163.3h.1M364.5 171.9h.1M359.8 157.4h.1M370.0 147.6h.1M378.4 137.1h.1M369.6 159.1h.1M361.4 150.5h.1M371.7 134.1h.1M377.0 154.4h.1M365.7 152.4h.1M357.2 189.1h.1M372.2 151.2h.1M360.7 158.5h.1M358.9 168.5h.1M362.0 181.1h.1M365.8 160.2h.1M372.5 134.1h.1M367.1 158.4h.1M358.5 173.6h.1M377.3 139.3h.1M358.9 160.9h.1M349.1 184.6h.1M361.5 180.0h.1M361.9 188.9h.1M373.2 147.0h.1M353.2 181.4h.1M372.1 141.0h.1M363.1 167.8h.1M371.4 143.2h.1M367.0 176.4h.1M373.2 141.3h.1M376.9 132.4h.1M370.2 156.9h.1M355.8 175.7h.1M366.8 166.2h.1M375.7 142.6h.1M353.6 182.7h.1M367.3 147.9h.1M364.9 161.4h.1M371.0 143.4h.1M353.8 186.2h.1M355.2 183.1h.1M366.0 172.3h.1M365.7 149.3h.1M348.5 178.7h.1M360.0 170.2h.1M370.0 152.5h.1M361.3 156.3h.1M362.5 160.3h.1M381.6 128.6h.1M359.6 177.3h.1M365.2 169.2h.1M364.9 148.9h.1M373.7 156.6h.1M354.3 173.5h.1M364.0 173.5h.1M355.4 183.1h.1M360.6 179.3h.1M364.0 159.7h.1M366.9 141.9h.1M374.0 130.4h.1M374.1 154.3h.1M361.9 173.6h.1M370.4 146.3h.1M362.7 143.3h.1M367.6 162.1h.1M361.2 177.2h.1M371.9 154.3h.1M366.6 158.6h.1M373.8 130.5h.1M368.3 166.6h.1M344.6 196.8h.1M363.6 149.1h.1M356.3 174.1h.1M353.1 184.9h.1M344.5 183.2h.1M375.7 148.2h.1M360.5 181.0h.1M365.4 132.8h.1M368.1 170.1h.1M361.0 168.2h.1M366.0 161.7h.1M364.9 174.6h.1M366.5 170.6h.1M373.6 142.6h.1M373.7 135.8h.1M360.2 168.1h.1M355.6 178.7h.1M368.3 152.6h.1M362.1 169.3h.1M355.6 178.6h.1M359.7 184.2h.1M360.0 192.8h.1M375.3 124.1h.1M374.1 165.8h.1M357.2 174.9h.1M354.8 171.8h.1M373.1 157.4h.1M367.5 185.0h.1M370.1 160.0h.1M371.5 141.1h.1M373.3 153.4h.1M356.8 169.7h.1M374.0 130.2h.1M364.5 176.4h.1M359.5 166.3h.1M365.8 178.9h.1M358.8 184.2h.1M372.4 139.8h.1M372.3 125.5h.1M352.8 183.4h.1M349.6 182.5h.1M377.0 150.1h.1M347.4 165.5h.1M374.1 150.2h.1M361.1 168.6h.1M358.1 159.4h.1M371.2 139.3h.1M355.7 170.3h.1M373.1 157.3h.1M379.3 139.7h.1M365.5 166.8h.1M372.3 150.6h.1M372.2 141.8h.1M377.9 132.9h.1M371.9 159.7h.1M355.6 183.8h.1M366.3 177.3h.1M368.8 161.5h.1M361.5 167.0h.1M371.2 157.9h.1M369.9 149.7h.1M360.5 165.1h.1M357.9 161.1h.1M369.8 133.8h.1M358.3 167.9h.1M369.7 143.3h.1M381.4 136.0h.1M366.9 168.6h.1M363.4 177.8h.1M369.4 157.9h.1M360.0 177.1h.1M357.7 194.0h.1M372.0 149.8h.1M366.6 143.4h.1M372.8 147.8h.1M380.2 148.3h.1M359.4 180.5h.1M369.2 153.1h.1M367.0 161.7h.1M363.7 137.2h.1M365.6 148.5h.1M351.2 175.8h.1M374.8 144.9h.1M371.6 135.0h.1M371.4 142.2h.1M358.0 181.6h.1M364.9 173.6h.1M364.1 161.8h.1M368.0 180.1h.1M362.8 155.3h.1M363.6 129.1h.1M360.0 155.6h.1M384.1 140.3h.1M364.9 160.1h.1M372.7 152.1h.1M371.9 152.4h.1M362.9 171.5h.1M363.0 152.1h.1M360.1 165.3h.1M364.0 176.2h.1M361.6 163.8h.1M364.3 162.3h.1M367.7 128.5h.1M371.3 165.4h.1M373.0 143.2h.1M368.6 165.5h.1M361.1 173.1h.1M371.1 173.2h.1M367.5 168.3h.1M362.4 170.8h.1M360.1 183.1h.1M373.2 152.7h.1M365.3 163.3h.1M378.5 134.8h.1M373.8 151.8h.1M360.5 177.4h.1M364.8 162.7h.1M359.3 173.1h.1M383.8 136.4h.1M365.0 167.8h.1M357.4 166.7h.1M364.4 183.2h.1M366.1 157.9h.1M369.9 156.3h.1M357.7 167.2h.1M352.9 177.8h.1M355.6 183.6h.1M358.0 187.2h.1M383.8 134.3h.1M361.8 177.8h.1M380.0 134.4h.1M360.1 174.8h.1M361.1 152.2h.1M364.5 138.8h.1M369.8 146.0h.1M356.0 184.2h.1M369.4 152.6h.1M355.8 182.6h.1M376.0 136.6h.1M367.8 132.1h.1M374.7 146.9h.1M358.9 176.8h.1M365.0 170.6h.1M358.1 168.0h.1M349.4 179.3h.1M355.8 177.6h.1M358.0 178.1h.1M363.5 165.5h.1M363.1 159.7h.1M363.0 173.7h.1M360.5 152.4h.1M353.6 168.9h.1M356.0 172.5h.1M355.8 175.4h.1M364.8 168.0h.1M358.7 154.6h.1M373.2 158.8h.1M361.8 179.9h.1M359.9 147.7h.1M367.7 160.5h.1M365.3 172.0h.1M370.5 169.4h.1M369.9 135.9h.1M368.1 138.5h.1M360.7 170.5h.1M377.0 151.9h.1M363.0 168.4h.1M378.7 136.6h.1M360.3 162.5h.1M360.5 154.5h.1M371.6 138.9h.1M372.3 137.4h.1M354.1 170.2h.1M364.4 141.4h.1M374.0 154.0h.1M372.6 136.2h.1M382.9 130.4h.1M372.9 151.1h.1M358.6 163.5h.1M373.4 154.5h.1M362.1 171.5h.1M358.5 162.3h.1M367.8 148.6h.1M370.0 170.0h.1M368.6 153.6h.1M362.6 170.9h.1M369.8 161.0h.1M367.2 129.2h.1M372.4 141.5h.1M364.8 161.3h.1M357.5 167.8h.1M369.4 147.9h.1M379.7 140.4h.1M359.7 175.4h.1M371.5 139.0h.1M372.3 140.4h.1M359.7 161.6h.1M352.1 183.7h.1M367.2 148.9h.1M372.6 143.6h.1M360.5 172.5h.1M352.2 169.5h.1M378.3 148.0h.1M362.5 153.3h.1M354.5 182.8h.1M364.2 172.4h.1M363.7 164.8h.1M359.1 168.6h.1M369.7 167.2h.1M370.6 144.5h.1M362.4 160.5h.1M363.3 177.3h.1M364.9 159.7h.1M359.5 157.3h.1M356.4 181.1h.1M369.0 161.8h.1M364.2 183.7h.1M374.4 159.4h.1M370.7 133.6h.1M368.4 154.9h.1M372.0 144.1h.1M361.0 174.4h.1M371.2 154.5h.1M349.8 177.9h.1M372.0 133.9h.1M372.5 122.4h.1M381.0 135.1h.1M366.9 148.4h.1M369.3 141.3h.1M374.3 151.6h.1M360.4 184.4h.1M375.0 145.7h.1M359.3 162.8h.1M362.2 165.5h.1M376.1 141.4h.1M360.8 163.2h.1M369.8 157.2h.1M359.7 173.3h.1M368.4 153.2h.1M364.2 174.2h.1M351.8 183.3h.1M371.3 144.1h.1M375.0 164.7h.1M373.0 142.6h.1M358.7 158.1h.1M381.9 146.1h.1M365.9 147.1h.1M369.2 147.2h.1M360.0 177.6h.1M373.1 154.7h.1M368.6 178.9h.1M357.2 183.6h.1M368.1 143.4h.1M369.5 146.3h.1M347.1 186.0h.1M367.2 164.4h.1M367.1 151.3h.1M361.8 186.5h.1M389.5 135.5h.1M359.2 166.1h.1M374.8 145.7h.1M369.5 137.9h.1M365.4 173.1h.1M381.3 149.5h.1M375.5 152.5h.1M373.7 145.2h.1M369.8 163.1h.1M378.0 133.7h.1M370.7 136.8h.1M380.7 121.5h.1M373.9 129.8h.1M359.2 180.3h.1M368.8 165.7h.1M378.4 146.3h.1M390.7 137.9h.1M359.5 165.2h.1M361.7 149.6h.1M377.5 148.8h.1M374.1 157.1h.1M382.1 134.4h.1M358.9 171.8h.1M372.1 142.1h.1M364.1 169.2h.1M372.4 144.1h.1M372.4 175.4h.1M367.4 158.6h.1M377.2 134.4h.1M358.2 170.7h.1M374.0 152.9h.1M377.2 141.0h.1M366.5 154.3h.1M349.3 151.4h.1M372.7 153.9h.1M348.7 165.4h.1M380.6 139.7h.1M374.0 137.9h.1M388.2 119.9h.1M362.1 143.5h.1M376.3 130.3h.1M363.6 162.1h.1M365.8 140.3h.1M353.2 167.8h.1M374.8 149.3h.1M364.6 158.3h.1M379.3 134.5h.1M345.5 190.5h.1M381.0 161.2h.1M352.2 153.2h.1M375.3 139.8h.1M376.6 172.1h.1M363.6 160.4h.1M383.8 129.3h.1M363.6 165.1h.1M364.9 160.0h.1M370.5 127.0h.1M364.3 199.3h.1M369.2 143.5h.1M363.8 142.8h.1M379.1 150.6h.1M350.1 186.5h.1M352.5 179.0h.1M365.8 170.5h.1M374.5 174.5h.1M372.8 138.8h.1M368.3 162.6h.1M369.5 120.2h.1M370.0 153.7h.1M368.8 138.5h.1M361.3 165.0h.1M362.8 164.0h.1M380.0 147.0h.1M380.1 136.8h.1M362.9 165.5h.1M379.1 127.0h.1M367.5 157.6h.1M375.7 119.3h.1M358.9 177.1h.1M361.3 157.7h.1M373.1 139.3h.1M365.7 153.0h.1M367.6 165.4h.1M383.3 143.3h.1M370.4 131.5h.1M360.0 158.4h.1M370.3 135.6h.1M370.6 163.1h.1M355.4 165.6h.1M377.9 126.5h.1M363.2 163.4h.1M369.2 164.0h.1M377.7 138.5h.1M365.2 173.7h.1M359.0 170.5h.1M371.1 159.4h.1M369.5 150.8h.1M379.3 135.3h.1M375.5 159.5h.1M363.3 165.4h.1M358.0 177.9h.1M365.7 158.8h.1M384.2 169.2h.1M370.4 127.9h.1M356.3 184.8h.1M361.2 190.5h.1M341.9 185.2h.1M366.6 157.4h.1M367.2 142.1h.1M380.2 120.0h.1M371.1 190.8h.1M362.0 146.6h.1M371.2 167.9h.1M374.0 117.6h.1M372.1 146.2h.1M385.8 124.4h.1M384.2 159.4h.1M379.8 132.5h.1M377.8 148.1h.1M363.5 165.5h.1M382.9 136.7h.1M361.6 157.2h.1M354.7 199.2h.1M370.7 156.0h.1M346.3 172.5h.1M367.5 140.3h.1M384.6 123.6h.1M368.5 145.9h.1M383.3 145.7h.1M363.9 179.4h.1M363.6 169.2h.1M368.8 166.5h.1M390.1 116.0h.1M361.2 159.7h.1M374.6 148.8h.1M359.6 191.8h.1M368.5 164.5h.1M373.7 152.1h.1M362.4 153.8h.1M364.4 158.1h.1M381.6 147.9h.1M363.7 139.9h.1M352.3 174.6h.1M360.1 180.5h.1M379.2 144.2h.1M374.6 136.7h.1M361.7 181.8h.1M370.4 138.1h.1M358.0 181.3h.1M359.1 153.3h.1M388.8 131.4h.1M359.9 187.5h.1M366.7 152.5h.1M370.0 158.7h.1M362.4 177.0h.1M381.8 140.6h.1M349.0 167.4h.1M364.5 167.1h.1M355.5 173.7h.1M376.9 146.3h.1M375.8 143.1h.1M379.5 125.9h.1M356.0 154.1h.1M353.3 166.6h.1M366.7 118.0h.1M353.9 162.0h.1M364.2 135.9h.1M382.3 121.2h.1M379.0 139.0h.1M345.9 186.9h.1M364.9 176.2h.1M358.9 167.9h.1M378.8 137.9h.1M369.1 171.7h.1M374.0 137.7h.1M375.8 151.2h.1M371.6 150.9h.1M362.6 151.8h.1M363.7 169.2h.1M372.6 123.4h.1M372.2 152.1h.1M377.8 122.2h.1M367.7 174.5h.1M346.7 184.7h.1M392.3 130.2h.1M357.4 176.6h.1M365.6 150.0h.1M382.0 167.7h.1M377.6 160.9h.1M375.4 164.2h.1M360.3 176.3h.1M360.6 178.8h.1M372.1 150.4h.1M358.8 166.9h.1M367.1 113.4h.1M375.3 154.8h.1M376.8 124.7h.1M364.2 163.5h.1M367.5 135.1h.1M377.1 171.4h.1M371.2 177.1h.1M373.2 161.6h.1M373.6 160.8h.1M386.9 100.7h.1M360.8 182.4h.1M375.9 172.4h.1M378.5 141.5h.1M377.2 161.5h.1M374.2 153.1h.1M375.4 138.9h.1M405.3 13.7h.1M346.4 91.5h.1M397.0 72.2h.1M354.0 137.2h.1M387.0 34.0h.1M374.9 36.9h.1M352.5 111.5h.1M345.0 87.3h.1M352.2 159.2h.1M399.1 35.8h.1M357.3 135.8h.1M370.2 137.3h.1M345.7 90.3h.1M334.4 21.7h.1M366.9 137.3h.1M332.4 129.0h.1M343.4 96.1h.1M356.3 66.9h.1M335.6 164.9h.1M372.5 101.0h.1M359.5 123.5h.1M354.5 125.4h.1M356.1 124.3h.1M374.4 67.6h.1M360.9 131.8h.1M382.2 128.7h.1M391.8 47.2h.1M358.7 13.1h.1M369.3 85.9h.1M379.5 16.0h.1M425.4 71.1h.1M391.0 119.6h.1M354.1 13.8h.1M386.7 132.1h.1M335.4 32.8h.1M403.2 27.0h.1M331.6 107.2h.1M359.5 167.4h.1M363.1 28.6h.1M363.8 87.2h.1M377.2 110.4h.1M351.3 75.1h.1M349.0 18.6h.1M390.1 51.9h.1M353.4 41.1h.1M399.5 73.6h.1M367.8 100.4h.1M349.3 29.2h.1M359.2 89.9h.1M361.3 67.2h.1M390.3 117.3h.1M379.3 58.6h.1M342.0 105.5h.1M331.6 41.0h.1M372.1 12.9h.1M399.1 72.6h.1M337.2 102.4h.1M405.7 107.9h.1M377.3 155.6h.1M394.9 106.7h.1M372.5 111.6h.1M339.9 112.4h.1M353.8 102.6h.1M350.0 123.5h.1M393.6 46.9h.1M352.3 88.0h.1M349.4 51.0h.1M348.5 145.2h.1M383.7 28.9h.1M352.8 126.2h.1M349.6 117.3h.1M360.1 62.0h.1M374.3 43.5h.1M407.9 64.5h.1M388.4 81.2h.1M346.1 123.8h.1M329.3 141.6h.1M374.3 119.9h.1M345.9 129.7h.1M385.3 81.9h.1M357.2 57.2h.1M378.6 64.5h.1M342.9 123.9h.1M345.7 82.9h.1M375.9 25.7h.1M328.9 79.3h.1M364.1 131.3h.1M387.9 42.4h.1M364.2 116.7h.1M358.2 23.0h.1M392.1 53.0h.1M383.8 134.2h.1M341.2 148.3h.1M348.7 116.5h.1M342.2 8.7h.1M342.0 79.9h.1M332.5 138.1h.1M361.0 89.0h.1M376.8 33.5h.1M335.3 78.2h.1M327.2 150.8h.1M351.2 83.4h.1M400.5 7.5h.1M358.2 149.4h.1M331.6 121.9h.1M409.2 41.2h.1M351.9 56.2h.1M356.0 20.4h.1M365.2 140.3h.1M329.1 86.0h.1M389.5 80.7h.1M412.6 76.3h.1M334.3 138.2h.1M369.5 17.1h.1M349.2 113.1h.1M392.8 17.9h.1M371.9 84.4h.1M389.5 55.7h.1M395.7 40.5h.1M362.6 31.2h.1M379.2 86.6h.1M374.9 125.8h.1M361.0 119.2h.1M346.3 134.8h.1M332.4 165.9h.1M393.1 12.0h.1M401.7 66.1h.1M349.9 119.4h.1M372.3 107.9h.1M377.0 130.6h.1M340.8 19.8h.1M366.8 105.5h.1M393.0 21.8h.1M336.1 143.9h.1M351.3 122.8h.1M328.2 147.3h.1M342.7 105.2h.1M378.8 53.3h.1M340.9 133.7h.1M376.6 64.5h.1M368.9 59.1h.1M362.6 32.9h.1M385.1 10.8h.1M354.7 138.0h.1M360.7 132.6h.1M380.7 111.7h.1M337.5 83.5h.1M387.7 41.0h.1M397.4 31.7h.1M341.0 16.7h.1M352.1 120.8h.1M389.6 87.5h.1M358.9 6.3h.1M390.7 81.9h.1M350.3 52.1h.1M360.5 41.4h.1M370.0 129.1h.1M389.3 66.0h.1M360.2 112.0h.1M358.0 87.3h.1M359.9 11.2h.1M370.7 113.2h.1M350.3 30.4h.1M409.5 65.6h.1M352.8 185.7h.1M373.7 138.5h.1M339.4 88.1h.1M340.9 62.2h.1M366.1 31.7h.1M400.1 103.8h.1M364.3 97.4h.1M375.3 20.2h.1M334.8 145.4h.1M362.2 78.5h.1M348.0 48.2h.1M383.9 116.7h.1M412.2 31.1h.1M407.5 64.9h.1M336.6 125.3h.1M399.2 59.2h.1M331.6 154.4h.1M349.9 123.3h.1M376.6 145.5h.1M370.9 135.1h.1M383.1 49.4h.1M341.9 99.7h.1M375.4 135.3h.1M379.5 69.0h.1M343.8 146.6h.1M356.4 127.5h.1M403.6 53.0h.1M371.8 103.0h.1M377.8 151.2h.1M345.9 132.6h.1M354.2 93.6h.1M352.2 92.4h.1M423.8 56.0h.1M388.9 61.4h.1M343.8 104.7h.1M381.3 11.8h.1M385.1 106.0h.1M381.2 121.6h.1M347.6 153.4h.1M328.6 85.4h.1M403.3 70.4h.1M343.2 54.6h.1M402.6 62.8h.1M359.5 51.7h.1M363.4 20.6h.1M371.4 77.2h.1M404.3 8.1h.1M352.2 47.8h.1M343.9 137.8h.1M353.4 100.2h.1M348.5 58.9h.1M367.0 129.7h.1M362.2 29.8h.1M384.0 43.8h.1M366.2 71.1h.1M329.9 124.9h.1M352.1 69.1h.1M353.6 35.6h.1M387.9 62.8h.1M386.9 123.7h.1M388.7 9.5h.1M404.2 86.0h.1M383.7 37.5h.1M357.5 30.7h.1M404.4 118.2h.1M335.2 162.8h.1M345.9 34.7h.1M336.2 66.3h.1M342.3 114.3h.1M368.3 115.5h.1M357.0 88.7h.1M353.0 21.0h.1M352.9 133.7h.1M351.0 19.4h.1M338.3 105.2h.1M389.1 35.7h.1M333.7 120.8h.1M389.1 62.3h.1M394.4 72.8h.1M352.9 31.6h.1M405.4 8.3h.1M344.3 64.2h.1M395.2 47.6h.1M396.1 112.1h.1M357.9 129.0h.1M415.0 63.6h.1M351.8 135.4h.1M333.4 125.4h.1M376.9 72.6h.1M379.9 146.9h.1M354.1 142.9h.1M361.1 63.5h.1M348.4 88.9h.1M340.6 140.2h.1M337.3 76.2h.1M374.0 50.4h.1M332.7 90.4h.1M330.4 141.2h.1M344.7 131.4h.1M371.1 48.1h.1M363.1 136.4h.1M345.5 9.9h.1M346.6 23.5h.1M381.8 123.5h.1M371.0 120.0h.1M345.0 8.4h.1M342.3 32.6h.1M343.5 7.7h.1M377.7 57.8h.1M370.9 84.9h.1M354.2 114.1h.1M373.8 137.3h.1M410.3 61.7h.1M341.7 112.1h.1M370.0 55.7h.1M369.4 57.7h.1M351.8 101.6h.1M332.2 147.2h.1M365.1 7.6h.1M341.8 70.6h.1M331.0 153.9h.1M368.8 71.3h.1M357.5 81.9h.1M378.9 102.4h.1M350.4 63.0h.1M351.2 24.2h.1M391.5 22.5h.1M346.6 143.9h.1M362.4 144.0h.1M359.3 107.8h.1M348.4 56.8h.1M381.0 140.5h.1M352.2 129.6h.1M332.2 121.3h.1M363.8 84.8h.1M419.9 20.0h.1M387.7 67.5h.1M343.2 82.2h.1M412.3 82.7h.1M358.5 70.4h.1M327.0 50.2h.1M383.8 94.4h.1M336.0 70.3h.1M372.5 46.1h.1M353.7 109.1h.1M331.5 105.5h.1M341.1 145.9h.1M379.7 128.1h.1M360.5 73.4h.1M367.9 33.9h.1M368.1 98.1h.1M383.9 81.3h.1M357.2 64.7h.1M384.8 93.7h.1M353.1 51.6h.1M343.2 137.9h.1M374.2 137.5h.1M356.9 12.5h.1M398.7 65.7h.1M368.2 172.2h.1M368.1 85.1h.1M376.1 34.1h.1M345.9 32.1h.1M358.0 95.0h.1M348.3 146.4h.1M369.2 28.4h.1M413.1 10.9h.1M344.5 145.6h.1M348.4 121.1h.1M345.5 115.2h.1M360.1 112.2h.1M367.7 34.1h.1M339.9 111.6h.1M351.5 162.5h.1M386.7 51.7h.1M369.0 87.3h.1M352.6 42.2h.1M352.9 65.4h.1M362.5 11.0h.1M345.2 88.9h.1M346.3 87.9h.1M409.8 15.5h.1M383.1 133.0h.1M389.6 104.9h.1M365.7 10.2h.1M372.0 7.9h.1M347.1 43.1h.1M377.2 60.4h.1M371.9 39.8h.1M368.2 29.4h.1M344.2 69.0h.1M358.4 90.4h.1M369.6 84.0h.1M344.8 114.6h.1M365.4 105.7h.1M377.9 160.1h.1M390.9 31.7h.1M335.3 119.0h.1M375.7 76.9h.1M387.5 132.7h.1M377.0 42.5h.1M360.7 51.9h.1M356.2 132.5h.1M346.6 90.8h.1M391.3 87.8h.1M380.2 75.0h.1M331.9 164.2h.1M382.7 47.1h.1M335.2 60.2h.1M360.8 71.8h.1M335.8 109.5h.1M343.9 70.6h.1M347.4 77.0h.1M335.6 119.6h.1M407.3 101.4h.1M358.7 17.5h.1M385.5 115.9h.1M363.1 89.6h.1M357.7 109.7h.1M369.4 64.1h.1M362.8 103.0h.1M351.9 22.4h.1M371.8 138.1h.1M353.7 116.8h.1M369.0 65.7h.1M398.8 55.3h.1M331.6 94.9h.1M334.3 155.0h.1M362.8 160.0h.1M330.2 49.2h.1M417.5 10.7h.1M383.9 91.4h.1M377.6 58.0h.1M340.6 111.0h.1M423.4 51.9h.1M351.2 121.1h.1M339.2 105.8h.1M390.9 48.3h.1M411.6 87.7h.1M359.5 85.8h.1M366.4 165.5h.1M339.1 115.8h.1M337.0 122.2h.1M359.1 98.8h.1M358.7 134.2h.1M423.3 21.9h.1M380.2 41.5h.1M391.1 44.8h.1M368.7 101.6h.1M348.6 67.6h.1M336.6 110.7h.1M344.9 119.2h.1M381.5 24.4h.1M380.6 47.0h.1M358.2 33.4h.1M357.9 69.2h.1M386.3 63.7h.1M390.0 8.2h.1M367.1 77.7h.1M336.5 120.9h.1M387.3 129.8h.1M391.4 22.6h.1M331.8 130.1h.1M339.4 155.5h.1M390.4 78.3h.1M328.5 148.1h.1M394.3 93.7h.1M349.3 114.7h.1M342.2 111.7h.1M394.3 51.2h.1M342.4 112.0h.1M386.8 41.7h.1M376.8 37.0h.1M370.1 120.8h.1M359.0 111.0h.1M381.6 120.8h.1M394.0 101.3h.1M363.2 118.1h.1M389.3 102.7h.1M352.2 70.7h.1M392.5 74.6h.1M402.4 50.8h.1M365.5 38.4h.1M340.3 104.7h.1M378.0 26.4h.1M346.1 102.0h.1M378.8 128.0h.1M337.5 103.8h.1M380.9 119.5h.1M381.3 123.1h.1M366.9 144.4h.1M400.5 30.5h.1M363.1 124.3h.1M394.3 26.5h.1M373.8 24.4h.1M375.8 108.9h.1M349.4 167.1h.1M357.3 47.8h.1M394.0 46.1h.1M344.1 24.3h.1M349.7 84.4h.1M405.2 35.8h.1M347.1 113.1h.1M337.0 156.9h.1M342.8 126.6h.1M326.8 52.3h.1M349.2 137.9h.1M341.7 110.6h.1M350.2 92.2h.1M367.7 22.5h.1M344.2 41.0h.1M362.5 126.4h.1M339.2 122.5h.1M349.8 24.3h.1M397.2 52.0h.1M410.3 103.9h.1M332.8 133.5h.1M353.4 165.4h.1M378.6 19.1h.1M352.2 144.0h.1M338.9 175.0h.1M368.2 41.7h.1M362.0 91.8h.1M371.6 21.2h.1M332.6 92.2h.1M376.8 69.2h.1M374.8 95.2h.1M345.7 83.9h.1M356.6 122.8h.1M358.7 148.9h.1M397.6 90.1h.1M344.8 92.5h.1M356.6 69.0h.1M377.6 146.2h.1M356.5 120.4h.1M337.7 145.7h.1M339.0 175.2h.1M373.0 122.3h.1M337.1 143.7h.1M357.8 131.1h.1M398.4 79.2h.1M347.3 83.5h.1M359.0 118.8h.1M343.8 167.6h.1M376.1 110.4h.1M377.5 72.4h.1M334.3 139.5h.1M372.8 67.1h.1M341.0 131.4h.1M352.5 85.0h.1M375.3 17.8h.1M374.7 50.6h.1M348.4 118.8h.1M365.7 32.5h.1M343.0 117.7h.1M355.2 61.3h.1M355.3 124.5h.1M382.0 32.2h.1M333.4 140.4h.1M335.4 129.2h.1M367.6 67.7h.1M346.3 161.3h.1M411.7 53.4h.1M348.9 112.5h.1M391.7 36.7h.1M371.7 119.0h.1M362.8 68.2h.1M363.8 85.2h.1M390.6 42.5h.1M384.7 118.8h.1M347.0 165.1h.1M363.4 24.1h.1M345.9 120.3h.1M353.1 36.0h.1M347.7 111.0h.1M364.2 113.5h.1M330.5 120.2h.1M345.1 136.6h.1M375.1 62.4h.1M378.1 90.9h.1M358.2 81.8h.1M350.9 36.1h.1M331.0 176.5h.1M369.9 62.7h.1M387.5 74.9h.1M348.1 123.1h.1M339.0 175.3h.1M377.2 74.6h.1M355.0 5.3h.1M366.5 76.7h.1M396.2 102.6h.1M414.1 69.8h.1M329.9 131.1h.1M382.9 8.8h.1M359.0 111.2h.1M330.7 91.4h.1M337.9 81.6h.1M333.0 141.7h.1M338.4 123.6h.1M381.1 111.5h.1M374.6 116.1h.1M357.7 166.2h.1M392.7 30.6h.1M334.2 119.8h.1M356.0 173.4h.1M354.6 72.8h.1M367.0 92.8h.1M336.2 144.3h.1M372.0 28.7h.1M354.0 72.6h.1M355.5 44.1h.1M370.5 145.1h.1M398.4 99.4h.1M365.6 69.0h.1M338.7 99.9h.1M343.7 40.6h.1M353.2 18.9h.1M354.3 47.9h.1M360.1 107.3h.1M388.6 103.0h.1M388.5 82.3h.1M354.3 140.7h.1M394.9 72.0h.1M331.4 52.9h.1M336.4 151.1h.1M366.5 50.9h.1M370.1 69.8h.1M361.8 56.9h.1M382.9 138.1h.1M359.6 58.1h.1M367.8 128.8h.1M349.9 97.5h.1M410.0 30.3h.1M432.1 58.8h.1M377.6 103.5h.1M351.3 24.0h.1M329.1 143.8h.1M353.8 141.1h.1M354.9 43.0h.1M329.8 107.3h.1M361.8 49.8h.1M337.4 160.0h.1M332.5 151.8h.1M397.2 91.0h.1M345.2 100.9h.1M407.2 63.4h.1M351.7 81.5h.1M394.9 25.9h.1M362.4 182.9h.1M351.4 98.8h.1M375.3 66.1h.1M356.5 156.3h.1M382.2 27.9h.1M363.4 58.3h.1M360.9 98.5h.1M381.2 70.9h.1M365.0 121.6h.1M354.3 91.1h.1M384.2 134.5h.1M335.2 159.5h.1M352.0 130.9h.1M399.1 49.5h.1M352.3 112.9h.1M374.2 27.1h.1M342.8 137.8h.1M360.9 56.9h.1M361.0 96.6h.1M384.1 68.4h.1M341.1 23.1h.1M348.9 47.1h.1M336.5 40.0h.1M334.7 135.9h.1M382.5 40.9h.1M403.4 18.3h.1M366.5 44.6h.1M339.9 38.4h.1M380.1 79.1h.1M350.0 18.9h.1M350.8 53.2h.1M366.3 147.8h.1M351.4 107.3h.1M335.7 144.5h.1M356.2 22.4h.1M343.2 187.5h.1M343.7 88.2h.1M376.7 58.9h.1M346.4 100.1h.1M345.3 23.4h.1M379.6 110.6h.1M356.7 105.1h.1M376.2 125.9h.1M361.3 34.2h.1M388.0 70.8h.1M369.7 54.5h.1M367.9 74.1h.1M339.5 99.4h.1M340.8 177.2h.1M389.1 50.8h.1M392.3 15.0h.1M352.2 129.7h.1M334.5 67.5h.1M330.0 159.7h.1M361.0 81.3h.1M367.2 64.3h.1M370.1 41.2h.1M388.6 83.6h.1M337.9 190.2h.1M339.7 84.7h.1M362.7 17.3h.1M356.3 83.4h.1M384.0 67.0h.1M344.5 176.5h.1M382.3 40.1h.1M328.2 107.8h.1M345.5 148.2h.1M381.3 32.6h.1M332.1 114.9h.1M392.5 29.6h.1M337.0 112.8h.1M353.0 130.9h.1M350.1 172.4h.1M343.0 94.6h.1M384.7 69.4h.1M352.7 17.7h.1M392.8 80.1h.1M362.5 94.0h.1M371.2 123.1h.1M383.3 117.6h.1M343.5 120.5h.1M330.4 90.7h.1M341.3 153.0h.1M391.5 41.1h.1M353.9 26.0h.1M413.9 104.3h.1M364.0 65.7h.1M346.1 12.5h.1M412.9 45.7h.1M335.5 89.9h.1M381.7 151.7h.1M360.8 102.4h.1M360.3 123.2h.1M344.9 152.4h.1M346.0 144.7h.1M359.1 87.3h.1M399.9 57.0h.1M334.6 162.9h.1M384.5 122.9h.1M369.8 151.8h.1M357.3 59.5h.1M362.2 62.0h.1M360.0 131.4h.1M384.7 57.7h.1M387.0 92.4h.1M361.5 31.5h.1M356.4 33.5h.1M352.0 36.7h.1M381.7 56.1h.1M381.7 5.4h.1M347.6 71.9h.1M396.5 63.1h.1M368.7 156.0h.1M354.4 87.2h.1M402.1 54.4h.1M327.7 141.2h.1M388.2 13.5h.1M355.5 117.7h.1M353.8 134.5h.1M328.4 171.6h.1M384.6 115.8h.1M358.8 38.7h.1M360.3 165.6h.1M378.7 101.5h.1M368.6 90.2h.1M355.4 49.9h.1M369.9 67.9h.1M332.3 126.1h.1M368.5 61.0h.1M373.1 77.6h.1M354.9 152.5h.1M344.2 60.8h.1M352.4 66.3h.1M351.0 34.5h.1M429.9 71.1h.1M409.8 45.7h.1M331.4 110.1h.1M371.4 61.3h.1M360.1 171.2h.1M350.6 58.0h.1M333.2 189.9h.1M364.0 78.2h.1M372.2 82.7h.1M372.9 147.8h.1M374.1 99.9h.1M372.4 127.3h.1M364.0 48.0h.1M353.3 101.6h.1M350.5 86.2h.1M344.3 145.7h.1M390.6 66.9h.1M378.9 122.4h.1M345.0 34.3h.1M366.2 39.4h.1M371.1 152.8h.1M383.4 127.5h.1M333.8 145.6h.1M350.2 28.5h.1M408.8 63.6h.1M345.9 169.5h.1M396.1 74.7h.1M356.9 53.1h.1M354.0 170.5h.1M362.4 128.9h.1M370.0 129.4h.1M344.9 139.6h.1M341.0 146.5h.1M381.3 71.1h.1M347.3 139.9h.1M402.8 60.9h.1M369.1 95.4h.1M353.6 139.9h.1M377.1 90.3h.1M370.7 27.2h.1M383.7 27.2h.1M374.6 8.7h.1M339.3 77.4h.1M382.2 139.9h.1M368.3 136.6h.1M387.5 46.8h.1M392.8 78.6h.1M350.7 22.9h.1M375.8 29.9h.1M346.1 63.1h.1M354.5 37.8h.1M388.2 86.6h.1M386.0 22.4h.1M369.1 89.1h.1M367.0 74.5h.1M348.9 7.6h.1M400.9 44.3h.1M349.4 77.1h.1M331.3 136.9h.1M360.5 139.6h.1M392.0 28.7h.1M332.9 181.8h.1M365.8 70.1h.1M391.0 64.9h.1M406.6 109.9h.1M337.1 127.9h.1M339.9 75.0h.1M386.9 12.1h.1M408.2 86.8h.1M363.1 69.5h.1M354.8 98.8h.1M366.2 125.9h.1M372.2 70.3h.1M371.4 55.1h.1M371.4 82.7h.1M376.1 32.3h.1M358.8 7.2h.1M340.1 140.8h.1M375.7 120.7h.1M333.7 79.7h.1M341.5 151.4h.1M330.7 106.9h.1M362.4 109.4h.1M343.7 14.3h.1M367.4 143.8h.1M378.3 29.2h.1M370.3 18.7h.1M374.7 111.2h.1M352.1 81.5h.1M338.3 77.4h.1M352.2 17.8h.1M391.1 121.5h.1M385.5 83.4h.1M329.9 95.1h.1M415.4 26.5h.1M327.3 133.2h.1M403.3 73.1h.1M362.3 79.0h.1M339.9 139.9h.1M361.1 90.4h.1M335.7 137.2h.1M332.3 121.7h.1M346.0 96.2h.1M333.4 147.2h.1M398.1 120.4h.1M347.2 109.3h.1M362.7 166.0h.1M367.0 25.6h.1M392.1 13.5h.1M359.2 63.0h.1M376.4 49.5h.1M372.4 134.3h.1M334.6 89.4h.1M354.0 160.3h.1M356.8 125.9h.1M332.4 151.9h.1M384.1 43.7h.1M340.5 30.7h.1M344.6 136.8h.1M371.8 147.9h.1M351.8 142.5h.1M364.3 19.9h.1M397.6 121.3h.1M387.4 99.8h.1M428.2 30.1h.1M358.6 180.0h.1M357.6 75.6h.1M388.1 85.6h.1M345.6 135.3h.1M419.6 71.3h.1M375.5 34.7h.1M362.8 138.2h.1M363.4 138.0h.1M369.4 78.0h.1M375.5 55.9h.1M366.3 43.1h.1M351.7 12.0h.1M349.9 35.7h.1M371.2 86.3h.1M331.3 88.7h.1M362.9 80.6h.1M348.2 102.7h.1M365.7 42.2h.1M339.9 142.4h.1M380.8 53.0h.1M365.4 140.4h.1M349.6 120.6h.1M353.6 89.6h.1M387.8 22.6h.1M409.5 15.4h.1M360.1 41.6h.1M386.8 82.2h.1M360.3 63.4h.1M347.8 135.8h.1M342.3 69.4h.1M350.2 30.9h.1M339.0 70.0h.1M354.9 89.5h.1M333.7 108.9h.1M384.1 97.9h.1M341.3 102.7h.1M364.4 78.6h.1M348.6 103.4h.1M341.2 83.9h.1M338.4 53.3h.1M389.1 129.9h.1M368.9 72.8h.1M386.7 46.0h.1M360.1 58.0h.1M366.2 168.9h.1M395.4 118.3h.1M328.8 170.9h.1M378.9 64.1h.1M372.2 73.9h.1M376.2 38.4h.1M363.9 27.1h.1M339.2 112.8h.1M349.5 36.1h.1M336.9 85.8h.1M327.8 20.7h.1M344.9 157.1h.1M334.0 139.9h.1M369.2 64.7h.1M371.0 136.3h.1M337.3 64.8h.1M342.1 141.1h.1M414.4 33.9h.1M395.9 83.2h.1M351.4 166.3h.1M332.8 116.2h.1M407.8 89.5h.1M379.4 57.5h.1M373.3 118.5h.1M389.8 59.4h.1M377.0 64.8h.1M342.3 30.3h.1M362.3 103.2h.1M339.3 143.0h.1M362.0 127.9h.1M426.3 41.6h.1M356.2 89.7h.1M342.2 78.5h.1M334.8 113.7h.1M345.6 39.9h.1M335.1 158.4h.1M359.8 6.0h.1M350.3 52.4h.1M374.3 127.6h.1M332.1 60.3h.1M355.8 125.6h.1M373.0 119.4h.1M392.9 75.9h.1M403.2 80.6h.1M380.3 44.5h.1M361.0 65.1h.1M344.6 196.9h.1M354.6 135.2h.1M343.3 174.1h.1M392.3 56.8h.1M372.4 15.5h.1M335.2 81.9h.1M362.5 71.0h.1M370.7 60.9h.1M356.3 128.7h.1M327.5 99.0h.1M389.8 61.9h.1M390.1 99.8h.1M384.0 82.4h.1M333.7 173.4h.1M336.4 105.1h.1M369.3 101.8h.1M378.3 50.0h.1M399.9 59.0h.1M339.9 92.3h.1M368.7 63.5h.1M389.8 88.9h.1M337.4 96.4h.1M345.9 108.9h.1M380.3 33.2h.1M363.6 123.5h.1M340.7 151.7h.1M365.8 167.1h.1M331.2 119.8h.1M343.6 159.8h.1M405.2 53.0h.1M337.8 137.2h.1M354.2 121.1h.1M330.5 60.1h.1M398.9 32.8h.1M391.9 50.9h.1M354.3 68.7h.1M359.4 57.4h.1M382.5 113.7h.1M356.0 13.2h.1M354.6 99.2h.1M400.8 63.9h.1M333.7 87.5h.1M339.9 99.1h.1M359.4 129.3h.1M418.5 11.3h.1M408.3 67.1h.1M353.0 79.8h.1M344.6 111.3h.1M352.5 81.7h.1M351.6 70.9h.1M355.9 108.6h.1M332.2 162.5h.1M357.8 32.9h.1M332.5 113.6h.1M372.4 19.4h.1M371.4 31.9h.1M327.3 156.6h.1M365.7 76.4h.1M367.1 142.2h.1M379.0 69.8h.1M355.9 33.5h.1M414.6 43.7h.1M351.1 36.2h.1M339.9 137.3h.1M405.3 79.7h.1M349.1 99.3h.1M366.8 60.6h.1M348.8 50.8h.1M354.9 54.8h.1M370.7 5.0h.1M372.9 81.6h.1M389.6 35.2h.1M349.7 68.4h.1M348.8 65.0h.1M344.8 144.1h.1M363.7 55.8h.1M391.6 44.0h.1M352.8 118.1h.1M342.7 69.7h.1M368.0 150.4h.1M347.5 107.7h.1M398.1 53.7h.1M335.0 138.4h.1M335.6 92.7h.1M366.2 66.1h.1M364.1 66.6h.1M376.8 125.9h.1M342.8 100.6h.1M426.1 58.4h.1M358.4 72.9h.1M372.0 48.8h.1M377.2 69.6h.1M386.0 52.0h.1M373.8 112.9h.1M360.7 62.4h.1M357.8 50.6h.1M399.1 98.6h.1M368.8 142.0h.1M352.3 67.6h.1M391.4 78.7h.1M354.4 124.7h.1M403.4 66.4h.1M347.3 129.2h.1M417.9 32.4h.1M366.5 146.6h.1M414.8 29.1h.1M335.8 183.7h.1M355.1 32.8h.1M330.8 130.9h.1M337.4 147.2h.1M369.5 132.1h.1M382.4 51.6h.1M362.8 145.6h.1M371.8 103.0h.1M344.1 126.2h.1M364.9 54.1h.1M340.4 71.4h.1M344.7 22.0h.1M344.9 60.9h.1M379.3 16.5h.1M336.4 127.6h.1M360.8 148.4h.1M368.3 108.3h.1M352.9 63.7h.1M328.1 124.9h.1M372.5 36.8h.1M366.0 118.6h.1M364.5 141.5h.1M371.3 30.4h.1M354.9 128.4h.1M345.8 136.3h.1M357.0 56.7h.1M368.7 50.1h.1M367.3 84.5h.1M357.1 107.6h.1M378.9 9.5h.1M365.4 161.1h.1M340.1 69.3h.1M363.3 130.1h.1M345.5 100.2h.1M368.9 106.2h.1M370.9 108.8h.1M361.2 122.7h.1M377.1 55.3h.1M336.7 77.4h.1M383.2 31.0h.1M395.5 52.6h.1M398.4 94.5h.1M346.4 78.2h.1M387.9 40.8h.1M375.8 142.4h.1M347.4 187.7h.1M352.9 86.6h.1M361.0 93.4h.1M378.8 76.3h.1M342.6 82.4h.1M353.8 128.5h.1M378.8 23.5h.1M361.0 16.2h.1M354.1 124.3h.1M335.3 105.1h.1M362.6 21.5h.1M418.1 76.8h.1M355.0 76.4h.1M417.9 31.7h.1M364.4 132.2h.1M347.5 138.5h.1M362.9 65.2h.1M383.4 101.4h.1M343.7 124.0h.1M350.9 134.7h.1M326.5 128.7h.1M376.0 102.6h.1M351.6 141.7h.1M332.3 116.6h.1M344.5 135.7h.1M355.6 20.2h.1M361.2 122.7h.1M329.2 107.7h.1M388.9 103.1h.1M348.9 182.3h.1M345.2 113.9h.1M343.9 104.6h.1M363.2 114.7h.1M382.7 130.3h.1M346.9 93.6h.1M406.7 21.3h.1M399.2 7.8h.1M397.8 90.5h.1M346.4 42.8h.1M331.4 127.2h.1M388.4 30.6h.1M342.1 76.4h.1M355.4 112.7h.1M389.0 55.5h.1M352.0 80.2h.1M365.1 98.2h.1M352.3 80.3h.1M359.1 5.3h.1M381.1 114.3h.1M384.8 126.2h.1M346.8 71.3h.1M339.6 71.2h.1M355.9 127.5h.1M341.1 110.2h.1M399.2 102.2h.1M394.8 118.4h.1M338.5 201.1h.1M356.5 165.5h.1M355.0 116.8h.1M367.9 22.3h.1M386.6 78.4h.1M391.6 24.4h.1M343.5 86.9h.1M410.1 77.1h.1M382.7 102.1h.1M389.2 54.6h.1M412.3 67.4h.1M337.4 154.0h.1M342.9 108.7h.1M375.6 83.7h.1M408.4 88.3h.1M338.9 159.7h.1M356.9 115.2h.1M353.1 57.5h.1M376.8 98.6h.1M352.7 45.7h.1M335.9 121.9h.1M366.2 61.7h.1M331.8 160.5h.1M389.4 49.0h.1M382.9 80.3h.1M384.1 8.2h.1M379.7 76.6h.1M347.1 81.2h.1M348.8 137.8h.1M359.1 28.1h.1M370.3 135.1h.1M334.6 100.4h.1M389.8 15.9h.1M371.2 145.4h.1M394.7 35.3h.1M386.2 61.6h.1M381.3 141.4h.1M385.1 73.1h.1M346.2 15.6h.1M327.7 139.3h.1M387.9 7.7h.1M357.1 139.5h.1M396.1 44.1h.1M338.8 98.6h.1M330.5 95.2h.1M366.1 160.3h.1M387.2 112.4h.1M363.8 58.5h.1M375.2 29.9h.1M356.3 109.6h.1M336.1 59.6h.1M349.4 110.2h.1M352.4 38.4h.1M385.3 7.9h.1M370.8 128.2h.1M353.4 41.9h.1M336.0 16.1h.1M333.8 105.3h.1M340.1 143.7h.1M382.1 76.0h.1M374.7 60.1h.1M354.6 116.9h.1M342.6 184.6h.1M345.3 75.4h.1M383.0 134.8h.1M359.2 105.4h.1M373.1 53.7h.1M336.4 140.5h.1M345.9 85.4h.1M336.5 130.3h.1M397.5 66.6h.1M337.6 97.1h.1M335.6 68.2h.1M362.8 122.3h.1M376.7 64.6h.1M373.6 142.9h.1M369.8 74.5h.1M330.7 163.3h.1M385.6 61.5h.1M333.5 75.8h.1M349.8 91.3h.1M359.5 21.7h.1M335.8 53.1h.1M374.7 67.6h.1M338.2 106.8h.1M360.7 16.1h.1M361.1 28.0h.1M355.6 120.5h.1M341.7 132.8h.1M337.9 88.3h.1M354.6 35.4h.1M343.3 155.4h.1M328.6 58.2h.1M357.4 96.6h.1M397.2 40.8h.1M329.7 167.0h.1M377.3 117.4h.1M331.5 66.1h.1M337.9 152.4h.1M360.0 7.5h.1M388.1 20.2h.1M356.1 105.3h.1M373.0 95.1h.1M355.1 19.8h.1M355.1 53.6h.1M367.2 89.0h.1M366.9 144.6h.1M338.1 120.3h.1M353.4 68.7h.1M365.3 133.1h.1M395.0 66.6h.1M351.9 102.9h.1M414.7 35.4h.1M337.2 148.2h.1M344.9 163.6h.1M361.9 54.4h.1M359.5 145.6h.1M367.5 38.2h.1M372.8 20.7h.1M386.7 61.3h.1M350.4 65.5h.1M363.6 20.2h.1M348.8 19.0h.1M369.1 156.2h.1M334.5 150.7h.1M358.7 163.4h.1M350.4 59.4h.1M363.5 7.5h.1M367.8 33.8h.1M362.9 136.7h.1M352.1 8.5h.1M368.1 31.8h.1M373.8 142.5h.1M389.7 125.3h.1M338.6 146.2h.1M377.0 50.1h.1M335.3 30.0h.1M332.5 128.7h.1M384.0 20.5h.1M365.3 102.6h.1M343.2 53.2h.1M413.9 63.1h.1M341.9 115.8h.1M354.0 27.3h.1M349.9 117.4h.1M359.1 33.0h.1M352.4 112.5h.1M344.4 116.1h.1M386.8 140.1h.1M388.5 97.8h.1M345.5 79.8h.1M349.4 101.9h.1M369.3 39.3h.1M390.6 12.3h.1M378.7 136.1h.1M384.8 68.9h.1M334.5 153.4h.1M338.3 30.8h.1M356.7 129.9h.1M335.8 100.3h.1M346.9 123.4h.1M384.4 116.5h.1M371.4 34.6h.1M337.9 116.2h.1M357.9 125.0h.1M376.6 37.6h.1M333.2 89.2h.1M362.0 54.5h.1M345.3 61.7h.1M327.5 151.4h.1M337.3 56.7h.1M353.6 163.4h.1M390.5 65.3h.1M340.9 55.3h.1M367.6 69.9h.1M373.1 78.3h.1M354.6 49.6h.1M341.5 28.9h.1M333.4 112.2h.1M352.8 54.4h.1M370.4 57.7h.1M330.0 94.7h.1M345.0 31.3h.1M354.4 7.4h.1M351.6 94.8h.1M388.4 101.0h.1M410.6 53.5h.1M348.6 159.8h.1M346.1 43.3h.1M331.3 132.8h.1M360.2 30.1h.1M355.3 156.2h.1M349.2 73.5h.1M334.1 186.1h.1M333.0 88.5h.1M359.1 95.9h.1M364.2 14.0h.1M361.8 23.1h.1M389.8 67.4h.1M392.9 76.1h.1M410.8 28.6h.1M383.5 81.4h.1M363.0 94.8h.1M346.4 155.0h.1M381.2 34.4h.1M331.5 92.7h.1M355.7 126.3h.1M361.4 138.1h.1M329.8 107.4h.1M353.7 76.9h.1M397.5 42.0h.1M348.0 99.3h.1M353.6 17.4h.1M343.4 183.7h.1M403.0 98.4h.1M376.1 141.5h.1M332.4 123.2h.1M341.4 148.7h.1M353.4 26.2h.1M339.0 121.2h.1M384.3 85.9h.1M365.3 131.9h.1M340.7 116.9h.1M346.5 30.1h.1M339.2 115.6h.1M359.0 129.6h.1M354.9 128.5h.1M359.0 52.6h.1M377.7 134.1h.1M386.9 101.8h.1M333.0 130.0h.1M366.3 48.9h.1M348.5 173.1h.1M364.1 84.5h.1M328.1 165.0h.1M361.3 122.9h.1M344.3 107.2h.1M339.0 61.4h.1M396.3 45.9h.1M360.2 70.7h.1M383.3 72.3h.1M388.8 64.0h.1M350.4 88.0h.1M333.1 82.9h.1M365.8 53.3h.1M363.2 101.9h.1M358.6 153.9h.1M405.9 52.1h.1M383.4 68.3h.1M370.5 83.3h.1M346.7 167.9h.1M376.7 48.2h.1M353.8 74.2h.1M358.7 22.1h.1M339.5 126.0h.1M392.3 48.2h.1M348.4 115.4h.1M415.5 77.3h.1M355.9 125.7h.1M382.4 95.4h.1M388.2 119.6h.1M370.3 73.3h.1M356.9 90.4h.1M396.1 66.6h.1M383.0 112.8h.1M398.9 52.1h.1M381.6 154.7h.1M335.0 80.5h.1M339.3 130.1h.1M358.2 129.6h.1M358.8 120.9h.1M358.1 113.6h.1M387.4 90.7h.1M348.4 125.9h.1M335.3 98.9h.1M357.3 57.2h.1M349.9 129.8h.1M374.5 114.8h.1M338.2 36.6h.1M345.9 45.5h.1M345.2 115.6h.1M347.5 54.9h.1M382.0 60.8h.1M377.6 64.2h.1M342.9 42.9h.1M327.7 146.4h.1M366.4 130.6h.1M362.8 9.6h.1M389.3 94.8h.1M329.8 152.6h.1M354.0 63.2h.1M330.0 162.4h.1M351.8 148.3h.1M416.5 73.6h.1M378.4 88.5h.1M365.1 152.8h.1M395.3 9.9h.1M361.7 131.0h.1M377.8 70.5h.1M345.0 169.4h.1M355.4 96.4h.1M413.2 18.0h.1M341.5 118.0h.1M365.3 157.7h.1M345.8 117.4h.1M376.4 68.4h.1M377.7 118.8h.1M343.7 159.6h.1M345.2 105.4h.1M342.6 81.3h.1M362.9 129.9h.1M342.0 144.6h.1M333.6 139.8h.1M342.5 58.3h.1M344.1 104.7h.1M347.8 131.8h.1M339.8 128.2h.1M347.6 137.8h.1M353.6 124.9h.1M397.4 72.9h.1M368.5 21.0h.1M376.4 87.6h.1M338.5 152.8h.1M355.7 54.1h.1M382.5 76.1h.1M384.5 136.1h.1M349.0 150.2h.1M337.3 179.3h.1M390.1 4.6h.1M330.8 74.1h.1M348.4 141.3h.1M367.6 17.4h.1M392.2 107.4h.1M388.3 71.6h.1M380.3 103.2h.1M374.7 46.6h.1M345.0 139.1h.1M373.8 63.3h.1M371.7 60.8h.1M402.8 17.6h.1M399.1 82.8h.1M379.3 102.8h.1M329.5 102.8h.1M392.8 31.5h.1M353.3 100.2h.1M358.7 78.7h.1M343.4 151.0h.1M390.8 14.0h.1M346.7 116.6h.1M388.2 41.3h.1M367.0 164.8h.1M408.6 35.0h.1M350.9 164.8h.1M384.5 98.0h.1M382.9 119.9h.1M358.1 88.5h.1M366.6 105.8h.1M343.2 67.3h.1M382.3 6.4h.1M358.4 28.9h.1M359.8 70.9h.1M376.8 55.7h.1M341.6 87.9h.1M373.2 54.4h.1M334.1 160.6h.1M394.2 76.1h.1M389.7 107.8h.1M382.5 91.4h.1M345.5 116.3h.1M404.0 95.7h.1M421.9 22.9h.1M354.8 15.8h.1M384.6 139.3h.1M386.3 119.4h.1M352.8 11.1h.1M339.3 143.5h.1M342.7 138.1h.1M369.9 98.9h.1M361.0 79.9h.1M363.4 106.4h.1M361.3 121.3h.1M373.8 127.5h.1M340.2 143.5h.1M358.6 139.1h.1M340.8 63.6h.1M414.0 91.6h.1M340.9 16.5h.1M363.5 44.6h.1M350.1 140.4h.1M356.2 177.7h.1M359.4 70.0h.1M352.1 9.5h.1M378.0 136.2h.1M350.7 91.4h.1M344.7 143.0h.1M350.0 67.1h.1M350.2 51.1h.1M343.7 48.7h.1M365.6 44.0h.1M336.3 168.8h.1M378.7 120.2h.1M330.9 148.1h.1M340.6 97.0h.1M346.5 136.8h.1M351.8 97.8h.1M354.6 137.8h.1M340.5 158.8h.1M352.9 155.3h.1M382.4 65.2h.1M367.8 89.0h.1M343.7 12.8h.1M368.3 56.8h.1M354.5 55.4h.1M356.6 95.6h.1M355.7 151.9h.1M345.7 50.9h.1M409.3 17.1h.1M381.6 75.5h.1M361.6 122.9h.1M335.0 47.9h.1M356.9 81.1h.1M326.9 138.0h.1M355.3 51.8h.1M357.2 81.9h.1M357.7 51.3h.1M408.7 89.7h.1M343.9 51.5h.1M358.6 112.5h.1M334.3 52.5h.1M359.4 141.0h.1M363.1 137.1h.1M330.3 53.1h.1M390.6 13.1h.1M339.2 154.9h.1M349.1 147.2h.1M389.3 26.4h.1M380.1 82.2h.1M331.4 101.9h.1M336.4 93.5h.1M377.0 64.4h.1M371.6 150.4h.1M364.5 21.5h.1M386.8 103.0h.1M349.8 109.0h.1M389.3 92.6h.1M359.8 79.9h.1M341.1 167.5h.1M343.1 119.6h.1M374.0 58.4h.1M358.1 120.6h.1M353.6 22.3h.1M397.8 45.9h.1M327.7 136.0h.1M384.0 125.8h.1M370.0 85.9h.1M364.3 104.8h.1M417.7 143.6h.1M401.9 104.2h.1M512.2 156.7h.1M472.2 120.5h.1M381.5 55.6h.1M454.8 23.2h.1M388.7 107.5h.1M489.1 13.0h.1M411.5 48.4h.1M409.7 29.4h.1M348.4 119.5h.1M398.3 10.7h.1M373.6 147.6h.1M465.1 47.3h.1M478.9 79.4h.1M415.3 97.1h.1M479.3 19.0h.1M490.8 122.6h.1M365.9 31.9h.1M466.6 51.7h.1M344.7 32.1h.1M382.4 9.7h.1M328.5 105.7h.1M326.5 138.4h.1M330.8 89.5h.1M328.4 118.9h.1M327.8 142.8h.1M326.3 143.1h.1M334.8 127.0h.1M326.5 123.8h.1M329.0 105.8h.1M329.6 74.7h.1M338.0 128.4h.1M326.6 90.9h.1M328.0 90.0h.1M329.2 139.6h.1M332.5 117.2h.1M331.8 110.2h.1M333.8 73.0h.1M328.3 97.3h.1M335.1 127.1h.1M328.7 105.8h.1M333.7 76.6h.1M330.4 106.9h.1M330.5 97.2h.1M326.5 107.8h.1M328.7 161.8h.1M332.1 108.8h.1M334.7 133.8h.1M332.0 106.4h.1M330.4 184.6h.1M334.0 92.9h.1M329.0 110.6h.1M328.4 124.8h.1M334.6 133.1h.1M328.8 83.4h.1M332.7 106.7h.1M332.0 92.3h.1M326.6 102.6h.1M333.5 136.9h.1M329.3 107.7h.1M329.6 88.3h.1M333.4 136.0h.1M327.0 101.7h.1M329.7 113.9h.1M330.5 72.0h.1M338.7 119.1h.1M334.4 122.9h.1M331.1 145.1h.1M329.0 140.3h.1M329.5 103.9h.1M326.7 76.7h.1M343.2 179.6h.1M326.8 137.9h.1M330.0 108.4h.1M327.4 100.5h.1M326.4 147.4h.1M332.5 153.9h.1M332.6 126.8h.1M326.7 99.6h.1M331.8 101.4h.1M328.3 136.6h.1M332.4 104.7h.1M340.0 131.0h.1M329.7 130.5h.1M330.5 88.4h.1M327.8 119.7h.1M326.8 94.5h.1M327.1 100.2h.1M332.8 134.2h.1M326.8 141.0h.1M334.9 112.1h.1M336.6 121.2h.1M328.1 64.6h.1M329.8 104.9h.1M329.4 114.5h.1M340.2 157.6h.1M327.9 132.4h.1M330.3 96.9h.1M327.0 169.4h.1M328.8 166.5h.1M327.3 98.6h.1M332.3 102.4h.1M329.2 138.9h.1M333.7 120.9h.1M327.2 136.8h.1M327.2 122.9h.1M349.2 84.4h.1M327.9 90.6h.1M328.4 37.4h.1M329.3 65.4h.1M330.0 103.9h.1M329.4 125.2h.1M328.4 81.3h.1M332.5 106.3h.1M332.1 107.4h.1M327.3 90.2h.1M327.2 116.8h.1M332.5 139.5h.1M327.0 98.1h.1M334.6 129.8h.1M328.7 141.5h.1M327.7 96.0h.1M328.1 152.6h.1M333.4 164.7h.1M328.0 48.3h.1M332.7 89.8h.1M333.6 127.6h.1M327.4 107.8h.1M330.5 116.9h.1M334.8 142.6h.1M328.6 142.8h.1M338.9 161.2h.1M327.2 101.3h.1M335.9 71.1h.1M330.6 65.6h.1M331.9 111.0h.1M326.8 64.2h.1M341.9 110.8h.1M327.3 76.9h.1M328.6 63.5h.1M331.7 131.2h.1M335.1 109.3h.1M328.5 122.5h.1M329.3 138.6h.1M332.1 110.3h.1M329.4 73.9h.1M327.9 64.9h.1M331.2 134.3h.1M326.7 115.8h.1M328.1 47.5h.1M328.5 135.4h.1M329.1 119.4h.1M336.6 42.9h.1M327.9 122.4h.1M331.3 86.8h.1M328.3 117.9h.1M327.8 170.4h.1M336.5 94.2h.1M330.5 178.5h.1M330.5 169.7h.1M335.9 69.7h.1M329.7 90.9h.1M333.6 120.2h.1M335.2 81.4h.1M327.7 71.4h.1M336.3 101.1h.1M332.1 161.6h.1M327.9 154.1h.1M334.7 77.0h.1M326.4 118.2h.1M331.3 72.2h.1M336.4 149.8h.1M331.5 93.5h.1M326.7 181.8h.1M327.9 92.0h.1M336.2 102.8h.1M328.9 75.4h.1M329.5 186.1h.1M329.0 162.3h.1M335.7 142.4h.1M334.3 100.6h.1M326.5 57.9h.1M326.3 74.3h.1M331.9 166.2h.1M332.2 135.0h.1M327.4 66.2h.1M337.8 91.7h.1M331.2 164.9h.1M330.5 94.5h.1M330.3 94.4h.1M333.1 85.8h.1M327.8 114.6h.1M329.6 101.9h.1M329.1 80.1h.1M327.5 103.8h.1M326.7 77.4h.1M328.2 85.1h.1M329.0 90.1h.1M331.2 128.2h.1M335.3 90.2h.1M329.4 81.6h.1M333.7 135.8h.1M334.9 148.0h.1M326.9 99.2h.1M328.0 91.8h.1M328.1 143.5h.1M327.7 101.9h.1M335.6 41.3h.1M326.4 187.5h.1M330.1 101.2h.1M332.7 107.1h.1M326.4 113.3h.1M327.4 118.4h.1M326.7 100.2h.1M329.0 120.4h.1M326.7 133.4h.1M333.5 88.4h.1M327.6 45.4h.1M337.5 121.1h.1M333.2 88.7h.1M326.5 72.9h.1M331.1 155.2h.1M328.4 129.5h.1M333.5 144.0h.1M330.1 124.2h.1M327.0 78.7h.1M334.0 142.0h.1M339.3 69.0h.1M327.8 40.6h.1M329.2 144.1h.1M338.3 108.9h.1M327.7 88.3h.1M328.5 157.3h.1M335.0 187.8h.1M328.3 115.6h.1M335.4 149.1h.1M328.1 115.2h.1M330.1 145.1h.1M330.4 135.2h.1M328.7 139.7h.1M330.9 113.5h.1M327.4 84.3h.1M329.9 112.6h.1M328.7 100.6h.1M331.2 159.7h.1M329.0 59.1h.1M329.1 76.6h.1M331.3 58.1h.1M327.4 118.0h.1M330.7 143.5h.1M332.0 98.8h.1M330.0 157.2h.1M329.9 119.2h.1M331.0 125.3h.1M333.8 124.9h.1M337.3 173.8h.1M330.8 87.9h.1M328.1 167.4h.1M328.2 114.9h.1M327.5 125.0h.1M328.1 188.1h.1M327.2 93.7h.1M327.2 118.6h.1M334.1 53.7h.1M330.0 53.8h.1M326.9 148.9h.1M328.1 119.5h.1M330.0 86.2h.1M326.8 125.7h.1M328.2 54.3h.1M329.4 114.3h.1M333.4 145.2h.1M328.3 127.8h.1M326.9 112.2h.1M330.8 79.5h.1M327.2 138.9h.1M335.5 117.1h.1M328.9 94.2h.1M328.6 131.0h.1M329.5 115.2h.1M328.9 86.1h.1M332.8 100.4h.1M327.5 91.1h.1M329.7 139.0h.1M327.9 170.7h.1M328.1 151.5h.1M331.0 134.0h.1M339.0 101.3h.1M333.7 134.6h.1M331.2 147.6h.1M328.2 135.5h.1M328.2 108.1h.1M327.6 135.3h.1M330.0 79.6h.1M331.1 98.2h.1M329.1 108.2h.1M328.3 142.4h.1M332.5 57.2h.1M331.6 105.5h.1M328.2 84.1h.1M335.1 99.5h.1M338.9 133.7h.1M328.8 133.1h.1M334.7 131.7h.1M329.8 89.3h.1M335.7 101.6h.1M330.5 178.9h.1M329.2 98.1h.1M330.6 176.8h.1M335.0 21.5h.1M329.0 78.5h.1M331.1 122.7h.1M332.1 160.8h.1M328.2 28.3h.1M327.1 132.6h.1M332.8 194.6h.1M327.6 31.5h.1M334.1 87.3h.1M328.0 112.0h.1M331.9 35.6h.1M344.1 22.8h.1M331.3 149.3h.1M329.0 66.0h.1M326.4 140.2h.1M330.9 102.5h.1M335.0 127.5h.1M328.1 66.9h.1M329.0 12.1h.1M328.2 35.6h.1M332.4 141.0h.1M329.7 85.9h.1M334.4 132.7h.1M335.2 43.6h.1M329.3 146.9h.1M327.7 149.7h.1M327.5 109.8h.1M331.5 87.2h.1M326.7 73.5h.1M331.3 186.3h.1M328.4 119.0h.1M327.3 115.8h.1M327.8 206.0h.1M327.3 201.6h.1M327.4 198.4h.1M327.4 206.5h.1M327.5 209.3h.1M327.5 207.6h.1M327.4 207.7h.1M327.7 204.5h.1M327.6 198.8h.1M327.7 203.8h.1M327.4 206.8h.1M327.4 204.5h.1M327.5 209.4h.1M327.7 204.7h.1M327.5 208.3h.1M327.7 209.9h.1M327.9 200.5h.1M327.6 208.6h.1M327.2 201.5h.1M327.5 206.8h.1M327.9 205.9h.1M327.4 202.9h.1M327.6 209.1h.1M327.4 207.1h.1M327.6 206.2h.1M327.1 208.6h.1M327.3 203.2h.1M327.4 200.0h.1M327.6 202.8h.1M327.5 200.5h.1M327.3 208.3h.1M327.4 204.0h.1M327.2 208.9h.1M327.3 200.6h.1M327.4 207.4h.1M369.0 3.7h.1M352.2 4.4h.1M387.6 3.7h.1M372.2 3.7h.1M325.9 3.7h.1M365.5 3.7h.1M418.8 3.7h.1M412.0 3.7h.1M358.1 3.7h.1M383.5 3.7h.1M428.3 3.7h.1M370.6 4.4h.1M350.2 3.7h.1M420.7 3.7h.1M397.8 3.7h.1M400.1 4.4h.1M377.9 3.7h.1M383.8 3.7h.1M388.6 4.4h.1M357.4 4.4h.1M428.4 3.7h.1M405.6 3.7h.1M348.5 4.4h.1M338.0 4.4h.1M393.3 3.7h.1M430.8 3.7h.1M429.0 4.4h.1M375.9 4.4h.1M365.5 3.7h.1M334.7 3.7h.1M332.2 3.7h.1M328.9 3.7h.1M361.4 4.4h.1M410.9 4.4h.1M392.3 3.7h.1M348.4 4.4h.1M349.6 4.4h.1M414.6 3.7h.1M426.5 3.7h.1M331.3 4.4h.1M422.1 4.4h.1M385.8 3.7h.1M345.6 3.7h.1M385.0 4.4h.1M362.8 4.4h.1M400.5 4.4h.1M354.6 3.7h.1M333.7 4.4h.1M393.2 4.4h.1M419.8 3.7h.1M407.7 3.7h.1M376.0 3.7h.1M368.2 3.7h.1M384.7 3.7h.1M327.7 4.4h.1M408.3 3.7h.1M348.0 3.7h.1M393.4 3.7h.1M341.1 3.7h.1M334.4 3.7h.1M405.6 3.7h.1M383.2 3.7h.1M422.6 3.7h.1M334.7 3.7h.1M399.1 3.7h.1M379.4 4.4h.1M378.6 4.4h.1M430.5 3.7h.1M371.7 3.7h.1M349.6 4.4h.1M410.3 3.7h.1M389.8 3.7h.1M394.0 3.7h.1M384.0 3.7h.1M390.7 3.7h.1M389.3 4.4h.1M395.6 3.7h.1M347.6 4.4h.1M373.6 3.7h.1M412.8 3.7h.1M419.8 4.4h.1M414.1 3.7h.1M327.1 3.7h.1M356.5 3.7h.1M355.6 4.4h.1M342.4 3.7h.1M327.6 3.7h.1M388.1 3.7h.1M335.0 4.4h.1M349.4 3.7h.1M403.4 3.7h.1M429.2 4.4h.1M325.9 4.4h.1M340.3 3.7h.1M409.5 3.7h.1M381.8 3.7h.1M377.4 3.7h.1M379.1 3.7h.1M392.0 4.4h.1M380.0 3.7h.1M329.3 4.4h.1M380.6 4.4h.1M431.8 3.7h.1M336.1 3.7h.1M423.1 4.4h.1M345.2 3.7h.1M343.3 3.7h.1M356.2 4.4h.1M387.5 3.7h.1M431.6 3.7h.1M418.6 4.4h.1M365.0 3.7h.1M373.2 3.7h.1M385.1 4.4h.1M377.3 4.4h.1M396.4 3.7h.1M326.1 3.7h.1M368.9 4.4h.1M333.1 3.7h.1M339.7 3.7h.1M390.5 4.4h.1M394.1 3.7h.1M377.6 3.7h.1M363.1 4.4h.1M409.9 3.7h.1M378.4 3.7h.1M399.8 3.7h.1M329.7 3.7h.1M388.9 3.7h.1M395.7 3.7h.1M418.0 3.7h.1M367.3 3.7h.1M382.8 3.7h.1M352.6 4.4h.1M404.6 3.7h.1M376.4 3.7h.1M343.5 4.4h.1M379.5 4.4h.1M404.6 3.7h.1M402.8 4.4h.1M380.5 3.7h.1M410.2 3.7h.1M403.6 3.7h.1M414.8 4.4h.1M381.4 3.7h.1M359.4 3.7h.1M348.5 4.4h.1M364.5 3.7h.1M350.6 4.4h.1M399.8 3.7h.1M327.6 4.4h.1M342.2 3.7h.1M342.0 3.7h.1M429.5 4.4h.1M416.8 3.7h.1M326.9 4.4h.1M347.6 3.7h.1M398.0 3.7h.1M370.3 4.4h.1M399.6 4.4h.1M394.4 4.4h.1M412.7 3.7h.1M332.4 3.7h.1M370.4 4.4h.1M377.6 3.7h.1M375.6 3.7h.1M416.2 3.7h.1M397.1 3.7h.1M344.8 3.7h.1M369.3 4.4h.1M418.0 3.7h.1M409.4 3.7h.1M328.1 3.7h.1M328.2 3.7h.1M390.6 3.7h.1M423.5 4.4h.1M362.7 3.7h.1M342.4 3.7h.1M378.5 4.4h.1M389.2 3.7h.1M414.5 3.7h.1M339.1 3.7h.1M333.6 3.7h.1M424.4 4.4h.1M430.7 3.7h.1M403.1 3.7h.1M341.6 4.4h.1M358.9 3.7h.1M385.1 3.7h.1M326.7 3.7h.1M340.9 4.4h.1M369.6 3.7h.1M415.4 3.7h.1M394.3 3.7h.1M387.8 4.4h.1M424.4 4.4h.1M352.4 3.7h.1M400.1 3.7h.1M408.8 3.7h.1M409.7 3.7h.1M446.8 3.7h.1M459.6 3.7h.1M506.7 4.4h.1M468.2 3.7h.1M466.0 3.7h.1M510.3 3.7h.1M476.7 3.7h.1M506.0 3.7h.1M470.0 3.7h.1M488.5 4.4h.1M461.5 3.7h.1M463.7 3.7h.1M480.2 3.7h.1M511.5 3.7h.1M492.1 4.4h.1M483.8 3.7h.1M460.0 4.4h.1M503.6 4.4h.1M451.9 3.7h.1M484.0 4.4h.1M501.0 3.7h.1M447.1 3.7h.1M501.9 4.4h.1M484.2 3.7h.1M469.0 3.7h.1M446.0 4.4h.1M449.9 3.7h.1M511.8 3.7h.1M436.8 3.7h.1M493.0 3.7h.1M491.4 3.7h.1M453.2 3.7h.1M465.4 3.7h.1M460.2 3.7h.1M482.4 3.7h.1M503.0 4.4h.1M491.2 3.7h.1M474.0 3.7h.1M460.7 3.7h.1M501.1 3.7h.1M496.2 3.7h.1M479.7 4.4h.1M466.4 3.7h.1M448.1 4.4h.1M438.7 3.7h.1M490.7 4.4h.1M470.7 3.7h.1M510.6 3.7h.1M450.3 4.4h.1M433.9 4.4h.1M496.0 4.4h.1M493.6 3.7h.1M456.5 3.7h.1M501.7 3.7h.1M444.0 3.7h.1M497.5 4.4h.1M446.7 4.4h.1M439.1 4.4h.1M475.9 3.7h.1M502.1 3.7h.1M489.9 3.7h.1M473.4 4.4h.1M510.1 3.7h.1M459.3 4.4h.1M448.5 3.7h.1M473.3 4.4h.1M512.8 3.7h.1M512.4 4.4h.1M469.3 3.7h.1M474.6 4.4h.1M486.2 4.4h.1M458.0 3.7h.1M459.3 3.7h.1M508.5 3.7h.1M437.4 3.7h.1"/>
<polygon class="g" points="353.4,46.6 361.2,49.5 362.2,65 359.2,94.3 357.3,121.6 355.3,154.8 353.6,175 351.4,197.7 345.6,188 341.7,168.5 340.7,149 343.3,123.6 344,108 346.6,80.7 349.5,61.2"/>
<polygon class="g" points="372.9,118.2 376.8,124 390.8,119.7 388.5,139.2 382.6,162.6 371.9,188 366,192.8 351.4,197.7 353.6,175 355.3,154.8 363.1,139.2"/>
<polyline class="g" style="stroke-width:1" points="353.6,46.6 354.8,38 356,33.5 358.5,33.2"/>
<text class="r" x="382.7" y="42.5">Region 2</text>
<text class="n" x="465.0" y="42.3">(41)</text>
<text class="r" x="367.0" y="208.6">Region 1</text>
<text class="n" x="440.1" y="205.8">(27)</text>
<text class="L" x="284.4" y="16.3">B</text>
<g fill="none" stroke="#1a1a1a" stroke-width="1.1">
<path d="M27.2 252.7V460.3H230.8V252.7Z"/>
<path stroke-width="1" d="M27.2 460.3v4.8M27.2 460.3h-4.8M35.2 460.3v2.2M27.2 452.2h-2.2M43.1 460.3v2.2M27.2 444.1h-2.2M51.1 460.3v2.2M27.2 435.9h-2.2M59.0 460.3v2.2M27.2 427.8h-2.2M67.0 460.3v4.8M27.2 419.7h-4.8M75.0 460.3v2.2M27.2 411.6h-2.2M82.9 460.3v2.2M27.2 403.4h-2.2M90.9 460.3v2.2M27.2 395.3h-2.2M98.8 460.3v2.2M27.2 387.2h-2.2M106.8 460.3v4.8M27.2 379.1h-4.8M114.8 460.3v2.2M27.2 370.9h-2.2M122.7 460.3v2.2M27.2 362.8h-2.2M130.7 460.3v2.2M27.2 354.7h-2.2M138.6 460.3v2.2M27.2 346.6h-2.2M146.6 460.3v4.8M27.2 338.4h-4.8M154.6 460.3v2.2M27.2 330.3h-2.2M162.5 460.3v2.2M27.2 322.2h-2.2M170.5 460.3v2.2M27.2 314.1h-2.2M178.4 460.3v2.2M27.2 305.9h-2.2M186.4 460.3v4.8M27.2 297.8h-4.8M194.4 460.3v2.2M27.2 289.7h-2.2M202.3 460.3v2.2M27.2 281.6h-2.2M210.3 460.3v2.2M27.2 273.4h-2.2M218.2 460.3v2.2M27.2 265.3h-2.2M226.2 460.3v4.8M27.2 257.2h-4.8"/>
</g>
<g class="t">
<text x="27.2" y="473.9" text-anchor="middle">0</text>
<text transform="translate(20.9 460.3) rotate(-90)" text-anchor="middle">0</text>
<text x="67.0" y="473.9" text-anchor="middle">50</text>
<text transform="translate(20.9 419.7) rotate(-90)" text-anchor="middle">50</text>
<text x="106.8" y="473.9" text-anchor="middle">100</text>
<text transform="translate(20.9 379.1) rotate(-90)" text-anchor="middle">100</text>
<text x="146.6" y="473.9" text-anchor="middle">150</text>
<text transform="translate(20.9 338.4) rotate(-90)" text-anchor="middle">150</text>
<text x="186.4" y="473.9" text-anchor="middle">200</text>
<text transform="translate(20.9 297.8) rotate(-90)" text-anchor="middle">200</text>
<text x="226.2" y="473.9" text-anchor="middle">250</text>
<text transform="translate(20.9 257.2) rotate(-90)" text-anchor="middle">250</text>
</g>
<text class="ax" x="130.0" y="484.9" text-anchor="middle">FSC-H</text>
<text class="ax" transform="translate(8.6 355.5) rotate(-90)" text-anchor="middle">SSC-H</text>
<path class="d" d="M65.1 362.6h.1M69.8 366.1h.1M59.4 412.1h.1M69.4 316.7h.1M55.0 419.5h.1M72.2 362.1h.1M63.6 418.3h.1M65.9 335.8h.1M68.4 379.7h.1M63.2 381.0h.1M62.8 360.8h.1M63.4 389.5h.1M71.5 381.6h.1M65.3 350.9h.1M71.3 309.4h.1M67.2 336.1h.1M68.2 393.0h.1M66.4 308.9h.1M65.5 355.2h.1M65.2 352.6h.1M68.4 360.4h.1M63.9 366.0h.1M67.7 358.3h.1M62.7 359.8h.1M66.8 378.3h.1M63.5 417.8h.1M66.9 403.7h.1M79.6 298.3h.1M71.1 314.9h.1M61.7 408.5h.1M67.4 381.8h.1M72.8 307.7h.1M65.4 327.5h.1M69.0 349.5h.1M72.8 327.9h.1M61.5 354.1h.1M62.5 342.2h.1M61.2 408.7h.1M71.1 331.1h.1M72.4 323.5h.1M68.2 324.7h.1M65.0 388.3h.1M66.8 375.4h.1M58.6 419.3h.1M67.1 363.3h.1M70.8 311.2h.1M61.3 392.0h.1M64.9 334.9h.1M61.4 391.6h.1M67.5 401.3h.1M71.7 308.0h.1M70.2 306.2h.1M53.4 422.2h.1M65.5 403.4h.1M61.2 398.3h.1M70.3 369.1h.1M61.9 372.0h.1M63.5 400.8h.1M73.7 325.1h.1M64.8 396.6h.1M58.9 391.6h.1M64.5 342.7h.1M72.7 305.1h.1M64.8 396.0h.1M67.8 325.9h.1M58.4 417.3h.1M79.1 337.6h.1M64.4 367.2h.1M55.6 420.4h.1M74.1 309.8h.1M65.2 408.5h.1M56.1 410.9h.1M63.2 312.3h.1M67.7 375.7h.1M62.9 391.5h.1M64.1 383.4h.1M72.4 307.5h.1M64.9 329.6h.1M62.9 347.1h.1M62.7 412.7h.1M76.2 313.5h.1M59.7 418.7h.1M71.0 319.1h.1M69.9 301.4h.1M74.9 331.8h.1M64.3 325.4h.1M64.7 376.5h.1M63.1 404.6h.1M74.6 339.4h.1M65.2 390.2h.1M69.6 304.3h.1M74.5 299.3h.1M62.2 362.6h.1M72.6 310.7h.1M66.8 345.4h.1M65.5 330.1h.1M69.4 334.7h.1M75.4 323.8h.1M59.1 415.8h.1M70.7 339.4h.1M69.1 338.7h.1M72.6 367.5h.1M67.8 374.6h.1M71.3 359.7h.1M70.7 330.3h.1M70.3 325.6h.1M74.2 320.2h.1M70.5 303.9h.1M57.5 402.6h.1M68.7 310.5h.1M65.2 416.0h.1M60.2 399.1h.1M63.8 398.9h.1M61.4 351.8h.1M72.5 314.9h.1M59.0 391.0h.1M62.8 345.5h.1M67.5 402.5h.1M72.1 344.7h.1M65.4 335.7h.1M67.9 333.9h.1M64.0 314.0h.1M62.9 417.3h.1M68.3 319.4h.1M78.2 313.6h.1M74.4 345.9h.1M67.9 385.6h.1M62.2 413.4h.1M62.7 416.6h.1M63.7 338.7h.1M67.3 363.1h.1M61.5 372.6h.1M57.6 402.0h.1M65.3 379.8h.1M61.7 380.8h.1M61.5 403.4h.1M61.8 369.7h.1M70.1 347.2h.1M66.1 412.1h.1M65.2 385.6h.1M60.0 421.2h.1M54.1 421.3h.1M65.3 356.4h.1M58.0 409.9h.1M68.4 300.2h.1M66.0 378.9h.1M61.6 423.6h.1M68.0 380.7h.1M68.2 337.8h.1M66.5 333.3h.1M80.9 365.6h.1M64.7 312.4h.1M73.6 300.4h.1M62.2 355.6h.1M67.3 346.0h.1M67.2 370.2h.1M68.0 350.8h.1M69.7 335.2h.1M61.5 412.9h.1M64.8 312.3h.1M69.0 328.5h.1M74.1 313.2h.1M63.7 418.8h.1M61.8 367.4h.1M65.9 379.5h.1M69.6 338.1h.1M66.9 349.4h.1M63.4 396.1h.1M67.4 382.0h.1M68.9 327.9h.1M65.6 389.3h.1M65.4 313.9h.1M72.1 307.2h.1M75.7 300.1h.1M66.3 353.2h.1M63.5 407.3h.1M66.4 409.0h.1M71.8 319.4h.1M65.3 361.0h.1M53.9 412.0h.1M65.0 325.1h.1M71.0 324.2h.1M61.0 409.0h.1M67.5 355.2h.1M76.5 378.3h.1M64.3 404.0h.1M74.5 315.0h.1M63.7 355.3h.1M82.4 316.2h.1M69.6 338.7h.1M68.0 365.3h.1M72.0 324.2h.1M71.2 343.4h.1M70.3 351.2h.1M70.3 327.0h.1M72.7 326.8h.1M59.4 405.4h.1M59.3 401.7h.1M67.1 368.7h.1M64.4 412.9h.1M70.1 322.1h.1M60.7 415.1h.1M70.7 328.8h.1M60.6 366.7h.1M63.6 412.4h.1M65.0 311.9h.1M69.1 299.8h.1M67.5 375.2h.1M63.0 419.1h.1M58.6 399.7h.1M71.1 332.5h.1M62.3 369.2h.1M60.7 417.0h.1M59.4 396.1h.1M68.3 354.5h.1M63.1 396.9h.1M72.1 357.4h.1M59.4 400.5h.1M67.1 354.9h.1M66.5 318.4h.1M72.8 317.0h.1M75.9 299.2h.1M65.1 337.9h.1M66.0 386.7h.1M67.5 336.6h.1M70.4 374.8h.1M66.2 320.3h.1M70.6 328.0h.1M59.3 386.2h.1M56.7 424.5h.1M68.0 398.4h.1M60.8 389.2h.1M66.1 320.7h.1M67.8 333.8h.1M59.5 417.5h.1M67.7 344.0h.1M64.6 417.9h.1M68.7 321.0h.1M70.2 337.5h.1M61.1 379.1h.1M65.1 332.6h.1M67.1 310.7h.1M57.2 381.7h.1M66.9 329.4h.1M69.7 338.6h.1M69.4 312.7h.1M60.9 387.2h.1M63.9 304.2h.1M75.1 324.1h.1M72.8 345.7h.1M64.2 387.6h.1M67.7 350.5h.1M68.9 392.2h.1M61.4 380.3h.1M71.1 320.7h.1M64.2 347.2h.1M58.0 401.1h.1M69.8 376.7h.1M69.7 364.4h.1M71.4 305.1h.1M71.8 412.2h.1M69.6 384.8h.1M62.9 331.7h.1M58.1 418.4h.1M73.6 355.1h.1M71.8 311.2h.1M75.6 355.5h.1M64.9 349.4h.1M64.8 382.5h.1M74.8 333.9h.1M70.8 326.4h.1M64.8 395.6h.1M72.6 311.6h.1M61.9 363.5h.1M74.0 338.1h.1M72.0 342.2h.1M70.3 304.5h.1M61.6 407.0h.1M68.1 335.5h.1M60.6 405.3h.1M67.2 338.3h.1M56.4 425.4h.1M65.7 401.9h.1M71.9 348.4h.1M60.2 380.3h.1M63.5 388.2h.1M63.4 379.8h.1M65.3 400.9h.1M73.2 313.0h.1M65.6 398.3h.1M67.0 400.1h.1M62.1 409.4h.1M67.2 331.3h.1M66.0 400.9h.1M67.1 318.1h.1M60.6 381.9h.1M71.4 303.6h.1M62.7 379.5h.1M61.8 417.4h.1M68.1 383.4h.1M74.3 343.0h.1M67.5 321.0h.1M62.9 401.7h.1M69.8 338.9h.1M64.3 369.3h.1M61.6 402.3h.1M62.3 339.3h.1M66.7 406.8h.1M65.8 367.8h.1M68.0 337.9h.1M70.5 345.0h.1M72.6 332.9h.1M74.5 303.6h.1M66.4 391.5h.1M69.8 353.0h.1M63.6 351.6h.1M66.2 363.8h.1M67.2 344.4h.1M65.3 384.3h.1M66.8 369.8h.1M60.2 412.9h.1M61.6 339.2h.1M67.7 342.8h.1M63.8 352.2h.1M66.3 343.3h.1M69.0 311.0h.1M66.6 392.5h.1M63.6 345.9h.1M62.0 398.6h.1M72.4 333.5h.1M71.7 310.0h.1M64.5 368.0h.1M67.2 363.2h.1M65.1 367.8h.1M57.8 386.2h.1M65.3 377.6h.1M69.1 358.9h.1M53.8 416.8h.1M64.0 361.3h.1M70.6 320.6h.1M60.4 407.1h.1M63.6 385.3h.1M70.0 355.9h.1M66.9 373.5h.1M67.1 332.5h.1M77.9 305.1h.1M69.7 322.3h.1M68.8 375.8h.1M62.5 346.7h.1M75.3 302.0h.1M69.2 315.5h.1M73.2 344.9h.1M70.8 304.2h.1M67.2 362.2h.1M64.5 383.9h.1M76.1 326.5h.1M69.2 410.2h.1M64.2 363.9h.1M70.9 369.7h.1M56.4 396.6h.1M63.5 390.1h.1M71.9 351.2h.1M67.2 354.7h.1M61.9 382.8h.1M65.3 322.7h.1M61.7 409.7h.1M64.5 357.2h.1M65.1 345.6h.1M67.7 363.5h.1M65.8 374.6h.1M61.6 406.4h.1M65.2 338.1h.1M67.3 410.9h.1M65.9 371.2h.1M57.1 408.5h.1M68.4 378.1h.1M67.8 398.6h.1M75.5 304.8h.1M63.9 356.2h.1M68.7 324.6h.1M62.7 324.8h.1M65.9 371.3h.1M72.4 299.4h.1M66.2 298.8h.1M65.0 378.7h.1M69.6 323.8h.1M64.2 382.5h.1M69.3 356.2h.1M57.6 408.3h.1M64.0 386.9h.1M61.4 366.9h.1M67.7 328.3h.1M59.6 408.9h.1M66.2 353.8h.1M64.9 422.1h.1M70.9 338.4h.1M82.4 350.6h.1M69.2 384.6h.1M66.9 326.4h.1M73.6 302.9h.1M63.3 367.5h.1M64.9 329.2h.1M65.0 400.7h.1M63.5 376.8h.1M63.6 332.0h.1M66.6 365.9h.1M57.3 410.0h.1M67.6 369.5h.1M66.1 366.2h.1M66.1 301.2h.1M67.6 380.7h.1M65.5 364.7h.1M68.3 381.8h.1M73.4 339.3h.1M58.1 416.5h.1M54.4 412.7h.1M73.1 339.1h.1M62.3 355.4h.1M67.8 370.6h.1M68.3 381.9h.1M73.3 323.1h.1M62.8 400.6h.1M61.0 418.2h.1M84.3 338.1h.1M73.7 323.2h.1M63.0 361.5h.1M60.3 383.3h.1M65.2 421.2h.1M61.0 358.3h.1M56.3 417.0h.1M65.8 321.2h.1M70.7 327.7h.1M62.0 414.5h.1M64.4 416.9h.1M70.1 298.3h.1M62.7 367.2h.1M63.6 389.0h.1M68.2 391.6h.1M60.6 375.4h.1M70.3 351.2h.1M62.5 350.2h.1M72.0 329.1h.1M69.0 356.3h.1M67.0 353.6h.1M49.3 320.9h.1M56.3 425.2h.1M68.4 352.4h.1M66.5 316.8h.1M61.1 384.2h.1M58.2 386.9h.1M58.2 407.0h.1M72.5 349.7h.1M64.8 413.4h.1M61.6 409.9h.1M58.8 404.8h.1M68.9 359.8h.1M53.8 415.4h.1M63.3 404.2h.1M58.8 394.3h.1M72.8 325.3h.1M65.2 364.0h.1M62.7 341.6h.1M63.6 414.0h.1M72.6 299.7h.1M64.9 390.3h.1M73.0 351.8h.1M66.9 407.3h.1M61.5 389.8h.1M65.9 298.5h.1M66.9 315.1h.1M70.7 311.2h.1M63.9 365.1h.1M66.6 347.6h.1M61.3 402.2h.1M61.3 396.7h.1M69.3 346.4h.1M59.6 398.2h.1M62.3 398.0h.1M66.6 394.4h.1M73.8 319.5h.1M57.1 393.4h.1M63.1 387.6h.1M66.9 378.5h.1M64.7 351.7h.1M63.3 403.3h.1M69.8 373.8h.1M63.1 342.4h.1M64.4 391.2h.1M72.6 316.0h.1M64.3 365.5h.1M70.2 344.3h.1M63.4 370.6h.1M66.8 402.8h.1M65.8 327.0h.1M60.0 412.4h.1M64.1 400.3h.1M68.9 305.7h.1M70.2 316.1h.1M65.6 317.0h.1M60.6 395.3h.1M60.3 386.9h.1M56.6 409.9h.1M59.8 388.5h.1M66.8 407.1h.1M72.3 360.9h.1M67.2 360.1h.1M65.5 370.5h.1M65.4 334.1h.1M73.0 327.8h.1M69.2 365.6h.1M54.6 424.2h.1M65.7 347.9h.1M63.5 394.7h.1M62.1 373.7h.1M59.2 416.1h.1M65.4 375.5h.1M66.9 321.3h.1M67.5 405.6h.1M73.1 340.2h.1M58.0 383.8h.1M75.8 315.1h.1M61.0 352.0h.1M59.7 382.9h.1M64.2 358.5h.1M66.6 351.5h.1M67.6 364.8h.1M70.3 348.9h.1M57.5 417.3h.1M66.2 387.2h.1M60.1 409.7h.1M61.3 401.5h.1M62.0 418.3h.1M56.8 413.9h.1M65.1 392.7h.1M69.6 319.8h.1M61.5 401.2h.1M61.8 388.0h.1M66.3 405.0h.1M58.1 413.4h.1M67.7 300.2h.1M64.9 377.9h.1M68.9 318.4h.1M70.3 314.4h.1M60.6 365.9h.1M75.5 304.6h.1M72.4 329.0h.1M65.9 368.5h.1M66.8 392.7h.1M69.8 328.1h.1M69.8 376.9h.1M65.5 377.4h.1M65.3 302.1h.1M62.5 350.7h.1M67.2 312.6h.1M64.4 327.1h.1M61.4 323.9h.1M71.5 314.5h.1M71.5 334.2h.1M70.3 339.9h.1M64.2 384.4h.1M66.2 359.0h.1M69.5 373.9h.1M63.1 393.8h.1M74.2 319.3h.1M67.9 330.4h.1M73.0 322.1h.1M76.4 308.0h.1M67.3 364.1h.1M60.2 416.2h.1M56.4 395.7h.1M67.0 411.4h.1M75.2 311.9h.1M60.0 395.1h.1M76.1 309.6h.1M61.4 397.1h.1M68.0 320.5h.1M70.1 336.6h.1M59.0 382.9h.1M64.7 334.5h.1M63.9 340.7h.1M75.1 305.5h.1M61.6 405.9h.1M68.4 317.8h.1M60.2 377.8h.1M64.3 376.5h.1M35.2 383.3h.1M69.9 319.4h.1M67.4 384.9h.1M68.0 380.1h.1M64.0 362.1h.1M65.6 344.3h.1M64.8 422.0h.1M71.2 338.1h.1M73.2 345.4h.1M70.3 316.1h.1M66.8 326.8h.1M72.5 346.3h.1M66.4 338.2h.1M66.7 349.2h.1M76.1 319.0h.1M61.2 379.8h.1M69.6 388.2h.1M74.0 303.9h.1M63.3 364.9h.1M60.3 405.5h.1M76.9 309.7h.1M61.9 330.3h.1M61.8 370.2h.1M70.1 320.5h.1M60.7 336.4h.1M67.5 347.4h.1M55.0 383.3h.1M65.5 382.7h.1M63.9 330.0h.1M56.1 395.1h.1M63.0 367.4h.1M65.2 351.3h.1M58.9 408.4h.1M73.2 323.2h.1M69.8 322.5h.1M67.4 387.5h.1M66.4 323.8h.1M69.5 325.4h.1M66.6 356.9h.1M66.2 316.6h.1M68.2 376.9h.1M70.2 377.6h.1M66.8 316.6h.1M71.8 313.8h.1M68.7 334.8h.1M58.4 314.4h.1M62.0 423.2h.1M73.1 384.7h.1M64.4 382.4h.1M63.7 405.1h.1M59.9 388.6h.1M69.1 378.3h.1M68.8 323.8h.1M65.4 384.3h.1M61.7 393.0h.1M66.8 324.8h.1M66.4 313.5h.1M71.3 324.2h.1M69.1 384.0h.1M70.3 358.6h.1M73.7 369.6h.1M62.3 393.9h.1M58.3 412.6h.1M64.0 386.4h.1M72.6 360.8h.1M68.4 371.3h.1M66.8 332.7h.1M62.5 372.9h.1M66.0 391.3h.1M64.9 400.0h.1M67.8 377.2h.1M55.6 417.2h.1M64.9 373.6h.1M50.4 406.9h.1M68.7 317.8h.1M76.4 419.3h.1M84.3 417.6h.1M77.5 416.2h.1M58.3 428.3h.1M73.3 436.0h.1M93.8 385.7h.1M65.0 427.5h.1M69.6 410.7h.1M68.9 425.8h.1M76.9 398.1h.1M70.3 429.9h.1M83.5 398.6h.1M89.9 393.8h.1M90.3 407.3h.1M72.3 419.8h.1M86.6 418.7h.1M73.1 402.6h.1M82.5 381.6h.1M71.5 411.6h.1M75.4 425.4h.1M92.8 388.5h.1M64.7 431.3h.1M59.7 433.0h.1M90.3 392.8h.1M82.0 409.3h.1M72.3 419.9h.1M60.5 429.4h.1M90.9 393.7h.1M57.4 433.4h.1M78.5 409.8h.1M77.0 419.3h.1M90.5 391.5h.1M81.5 412.0h.1M66.3 430.4h.1M69.8 429.9h.1M96.9 386.5h.1M64.1 434.5h.1M91.1 394.9h.1M82.2 405.4h.1M83.0 393.2h.1M80.4 398.5h.1M77.4 412.7h.1M80.2 407.1h.1M70.6 425.8h.1M98.4 407.5h.1M86.6 402.1h.1M87.1 399.0h.1M69.6 419.2h.1M65.8 421.3h.1M81.6 410.1h.1M67.8 439.0h.1M89.4 405.2h.1M83.1 398.5h.1M66.8 426.1h.1M86.2 403.7h.1M66.2 422.3h.1M64.6 425.9h.1M72.9 423.0h.1M74.7 421.5h.1M93.2 389.0h.1M71.8 422.2h.1M87.1 418.0h.1M100.0 390.5h.1M71.7 425.9h.1M90.6 386.5h.1M70.3 415.4h.1M97.9 400.2h.1M75.0 403.2h.1M74.5 437.6h.1M74.1 414.6h.1M67.6 428.8h.1M86.9 410.3h.1M76.0 412.9h.1M72.0 425.6h.1M90.0 392.9h.1M78.0 410.5h.1M79.2 422.8h.1M93.9 395.1h.1M99.9 390.9h.1M72.6 416.3h.1M72.7 416.8h.1M71.6 433.9h.1M76.4 426.5h.1M84.6 400.5h.1M82.4 413.6h.1M73.4 417.0h.1M78.6 404.3h.1M76.3 428.1h.1M75.8 415.3h.1M77.5 418.9h.1M66.1 425.1h.1M91.3 407.5h.1M63.1 427.9h.1M84.2 403.4h.1M63.6 437.5h.1M71.3 429.8h.1M95.6 401.4h.1M75.8 413.8h.1M79.5 399.4h.1M67.3 423.1h.1M81.4 406.9h.1M96.5 392.6h.1M83.8 417.2h.1M64.1 429.4h.1M81.6 407.1h.1M83.9 399.1h.1M74.2 423.7h.1M84.5 408.6h.1M86.6 392.5h.1M79.6 422.4h.1M67.4 422.2h.1M85.3 395.6h.1M69.9 419.2h.1M83.2 397.2h.1M79.5 396.5h.1M82.4 405.2h.1M76.9 407.0h.1M82.0 400.1h.1M77.1 409.5h.1M84.0 401.3h.1M82.5 417.4h.1M83.5 391.7h.1M59.8 427.7h.1M77.5 409.0h.1M60.0 433.6h.1M83.2 405.8h.1M71.9 437.3h.1M52.1 439.0h.1M81.6 405.2h.1M91.2 397.5h.1M60.2 439.2h.1M81.6 415.1h.1M78.1 403.5h.1M73.4 412.9h.1M70.5 427.6h.1M75.2 411.6h.1M73.5 433.3h.1M88.1 385.4h.1M72.5 422.6h.1M81.5 414.5h.1M68.2 427.4h.1M77.4 415.5h.1M83.9 398.9h.1M83.7 393.3h.1M82.5 399.6h.1M68.4 430.2h.1M89.7 392.3h.1M75.1 417.7h.1M80.6 397.7h.1M72.5 437.5h.1M87.3 389.3h.1M87.6 391.4h.1M78.1 430.2h.1M86.4 402.2h.1M67.2 431.4h.1M64.4 422.3h.1M77.9 410.0h.1M84.8 405.5h.1M77.7 408.7h.1M65.1 430.0h.1M87.1 391.1h.1M58.2 421.8h.1M87.9 391.2h.1M79.3 422.8h.1M74.8 406.4h.1M87.7 402.8h.1M68.1 410.5h.1M65.1 428.9h.1M81.9 406.2h.1M82.3 403.5h.1M69.5 424.7h.1M61.7 428.7h.1M76.2 406.8h.1M68.6 426.4h.1M92.4 395.9h.1M81.7 402.9h.1M69.5 418.4h.1M63.5 435.8h.1M87.5 397.0h.1M67.4 442.0h.1M67.4 410.8h.1M80.5 406.5h.1M90.1 389.1h.1M70.4 424.9h.1M88.4 397.3h.1M91.0 395.1h.1M59.4 421.0h.1M70.5 434.9h.1M62.2 444.6h.1M97.3 390.9h.1M74.0 421.5h.1M75.5 412.5h.1M93.2 388.2h.1M70.3 409.2h.1M74.6 407.8h.1M76.4 420.2h.1M75.9 424.7h.1M80.8 387.6h.1M79.7 412.1h.1M74.3 419.8h.1M72.1 409.2h.1M80.7 396.2h.1M85.1 398.3h.1M75.0 414.4h.1M68.7 427.6h.1M81.7 403.9h.1M78.7 414.9h.1M66.5 422.9h.1M83.0 400.5h.1M75.3 412.7h.1M90.8 391.2h.1M76.7 424.3h.1M71.1 413.4h.1M76.6 411.0h.1M70.0 432.0h.1M59.5 443.3h.1M86.8 413.4h.1M76.3 415.4h.1M81.3 395.2h.1M84.7 395.0h.1M82.9 406.0h.1M68.1 430.9h.1M68.1 432.9h.1M89.6 392.6h.1M81.7 406.2h.1M83.0 416.8h.1M92.1 395.5h.1M85.7 397.7h.1M70.1 425.1h.1M84.2 392.3h.1M68.6 424.7h.1M80.7 405.2h.1M93.2 396.2h.1M54.3 447.0h.1M88.6 408.2h.1M77.1 418.6h.1M80.6 405.7h.1M69.1 436.4h.1M80.3 397.0h.1M59.5 433.4h.1M89.8 400.7h.1M84.8 409.5h.1M70.7 422.0h.1M66.4 432.8h.1M84.0 379.5h.1M83.8 393.6h.1M56.5 427.2h.1M79.9 421.9h.1M90.2 400.9h.1M78.7 419.0h.1M96.3 391.6h.1M74.0 431.1h.1M77.0 396.2h.1M69.5 422.8h.1M83.5 392.1h.1M66.4 425.7h.1M75.9 415.2h.1M76.1 421.0h.1M72.8 411.4h.1M67.9 412.8h.1M81.7 421.7h.1M75.9 402.1h.1M81.0 400.0h.1M88.3 401.2h.1M82.2 416.2h.1M84.8 399.2h.1M72.2 425.2h.1M69.0 422.0h.1M88.5 393.6h.1M82.9 415.0h.1M71.9 421.7h.1M73.0 425.6h.1M61.2 430.8h.1M73.0 409.4h.1M68.1 425.3h.1M54.8 442.7h.1M86.4 396.3h.1M85.5 399.7h.1M78.3 389.8h.1M70.9 442.0h.1M73.7 409.3h.1M74.0 398.3h.1M76.8 400.2h.1M79.8 414.7h.1M71.3 412.6h.1M76.5 412.7h.1M74.0 413.1h.1M67.8 434.4h.1M65.9 436.6h.1M75.6 403.5h.1M79.0 416.9h.1M95.5 391.1h.1M77.5 421.7h.1M82.5 416.5h.1M65.0 429.7h.1M61.2 426.2h.1M58.7 428.0h.1M81.0 426.3h.1M77.6 418.8h.1M69.1 420.7h.1M82.1 398.5h.1M71.9 423.1h.1M62.4 427.5h.1M62.7 429.6h.1M72.4 424.3h.1M99.9 390.5h.1M70.6 426.7h.1M85.3 390.8h.1M78.3 404.8h.1M58.8 436.9h.1M61.8 434.8h.1M93.2 404.8h.1M72.5 433.3h.1M70.2 409.2h.1M82.2 394.0h.1M67.0 420.2h.1M72.6 409.5h.1M83.9 402.4h.1M60.2 432.8h.1M87.3 402.0h.1M80.0 400.9h.1M90.0 389.5h.1M87.4 407.6h.1M78.5 428.3h.1M68.1 440.8h.1M83.5 396.3h.1M83.9 398.7h.1M88.2 394.3h.1M87.2 395.8h.1M72.5 420.2h.1M66.3 415.0h.1M81.4 408.7h.1M73.6 429.1h.1M93.8 384.6h.1M75.7 425.1h.1M75.6 407.4h.1M77.8 408.5h.1M71.3 420.7h.1M84.9 389.8h.1M78.1 423.0h.1M100.5 378.9h.1M84.2 403.2h.1M72.9 431.4h.1M92.0 385.1h.1M67.1 442.4h.1M88.0 404.7h.1M66.3 442.8h.1M65.8 422.8h.1M80.5 396.4h.1M72.9 409.0h.1M76.2 408.8h.1M87.1 390.1h.1M80.8 409.2h.1M71.5 425.3h.1M81.7 403.8h.1M62.5 429.4h.1M76.7 433.4h.1M78.0 400.7h.1M80.3 397.0h.1M70.3 425.2h.1M79.1 391.2h.1M68.9 420.3h.1M77.9 409.0h.1M73.0 418.4h.1M72.5 412.7h.1M92.8 393.3h.1M51.5 443.8h.1M96.9 396.7h.1M94.7 387.8h.1M76.2 414.1h.1M90.3 395.7h.1M92.3 403.2h.1M84.2 389.7h.1M89.4 416.9h.1M61.3 433.0h.1M64.8 437.0h.1M83.1 399.0h.1M66.7 426.1h.1M93.1 397.8h.1M87.5 401.1h.1M80.1 433.0h.1M80.1 429.1h.1M87.7 391.8h.1M79.3 388.1h.1M68.6 425.5h.1M71.0 430.6h.1M62.3 431.2h.1M65.2 429.2h.1M55.5 440.4h.1M72.5 406.9h.1M66.6 424.2h.1M62.4 437.4h.1M80.8 422.3h.1M66.9 436.2h.1M79.5 412.6h.1M88.2 397.5h.1M64.2 431.5h.1M79.4 407.3h.1M87.1 401.6h.1M74.3 410.2h.1M63.0 436.9h.1M75.5 423.0h.1M73.5 415.5h.1M80.6 410.3h.1M76.6 407.8h.1M72.6 406.9h.1M78.5 425.8h.1M66.2 430.6h.1M88.5 395.0h.1M85.3 394.1h.1M61.9 426.9h.1M81.5 384.6h.1M87.1 394.6h.1M85.8 404.5h.1M53.7 435.2h.1M81.0 396.1h.1M74.2 414.2h.1M81.9 391.9h.1M68.1 439.3h.1M73.8 410.1h.1M74.7 411.5h.1M72.8 418.7h.1M70.3 435.2h.1M84.2 394.6h.1M58.9 420.1h.1M85.2 412.9h.1M65.1 418.4h.1M72.0 417.9h.1M86.3 388.7h.1M81.9 407.8h.1M50.1 437.4h.1M84.6 397.5h.1M73.7 423.7h.1M79.4 413.6h.1M80.9 394.7h.1M62.9 425.7h.1M90.1 407.3h.1M72.9 433.9h.1M95.6 384.7h.1M94.8 406.4h.1M78.3 418.6h.1M83.7 408.1h.1M74.2 410.2h.1M75.1 403.8h.1M87.2 396.6h.1M66.0 423.1h.1M93.0 411.8h.1M79.6 414.5h.1M88.1 400.5h.1M70.2 420.5h.1M81.3 406.8h.1M64.0 422.5h.1M68.5 431.7h.1M79.2 410.1h.1M94.7 396.1h.1M88.1 379.3h.1M90.4 401.5h.1M51.2 442.0h.1M65.8 432.3h.1M66.1 412.5h.1M74.0 408.7h.1M91.0 401.7h.1M75.9 418.2h.1M77.2 419.7h.1M87.3 402.3h.1M71.0 423.0h.1M64.6 433.7h.1M79.0 415.8h.1M89.5 398.1h.1M84.4 392.4h.1M63.1 440.0h.1M77.7 414.5h.1M76.2 393.2h.1M81.2 403.7h.1M81.7 408.6h.1M68.8 423.7h.1M63.1 429.5h.1M79.0 400.7h.1M75.9 413.6h.1M92.0 399.3h.1M83.7 398.9h.1M85.6 377.5h.1M67.2 430.4h.1M86.5 395.6h.1M89.4 401.6h.1M70.3 431.5h.1M86.1 399.6h.1M92.8 394.5h.1M85.9 391.1h.1M81.0 411.6h.1M96.5 391.6h.1M90.8 400.7h.1M84.8 401.0h.1M81.7 432.5h.1M71.1 406.9h.1M71.4 414.0h.1M79.7 406.2h.1M87.2 404.1h.1M70.6 434.4h.1M75.6 420.6h.1M83.8 383.9h.1M70.1 420.6h.1M61.0 432.6h.1M74.3 406.1h.1M93.4 394.6h.1M88.2 410.3h.1M83.6 403.9h.1M93.2 396.9h.1M65.5 429.9h.1M70.8 425.3h.1M90.9 387.1h.1M72.3 425.7h.1M86.8 405.5h.1M88.3 387.5h.1M83.6 410.6h.1M82.2 401.6h.1M81.2 420.8h.1M95.1 390.3h.1M82.2 410.3h.1M73.8 408.2h.1M60.2 426.3h.1M80.6 404.3h.1M57.3 437.9h.1M68.8 425.6h.1M68.5 411.7h.1M90.6 403.9h.1M77.1 414.8h.1M73.7 413.7h.1M61.9 428.0h.1M88.7 397.8h.1M76.8 422.8h.1M63.5 438.8h.1M85.8 405.5h.1M72.2 435.1h.1M92.0 401.1h.1M77.7 419.1h.1M83.0 395.3h.1M76.0 410.6h.1M77.3 410.0h.1M86.5 391.6h.1M73.9 424.2h.1M78.7 397.4h.1M81.4 417.3h.1M83.1 409.0h.1M86.3 396.9h.1M78.5 430.5h.1M88.4 392.3h.1M62.8 421.7h.1M72.1 422.0h.1M70.5 416.6h.1M69.0 434.8h.1M92.5 386.8h.1M87.1 404.3h.1M70.8 431.1h.1M85.7 420.3h.1M70.2 414.1h.1M77.4 401.1h.1M87.1 392.3h.1M67.1 427.4h.1M84.9 397.0h.1M72.4 416.0h.1M69.7 417.5h.1M61.4 428.9h.1M76.5 416.4h.1M81.7 405.5h.1M86.0 386.5h.1M74.3 415.3h.1M79.3 401.0h.1M71.3 419.0h.1M88.1 385.4h.1M83.1 407.6h.1M82.4 406.0h.1M92.0 388.6h.1M78.6 411.3h.1M71.7 410.7h.1M83.8 399.9h.1M74.2 411.3h.1M72.3 415.9h.1M65.7 424.6h.1M68.5 404.8h.1M76.7 414.2h.1M76.7 422.7h.1M85.1 406.0h.1M77.5 412.9h.1M86.2 386.0h.1M74.7 423.8h.1M72.2 419.3h.1M66.3 434.6h.1M74.3 430.8h.1M90.2 403.7h.1M85.4 410.4h.1M83.8 404.6h.1M62.2 435.3h.1M70.7 429.4h.1M67.2 413.6h.1M83.1 405.0h.1M78.1 415.2h.1M90.2 400.3h.1M79.4 408.5h.1M84.6 395.8h.1M82.2 394.9h.1M78.5 408.8h.1M83.0 402.1h.1M78.3 411.4h.1M80.2 396.2h.1M82.6 412.7h.1M83.3 414.7h.1M79.3 421.0h.1M86.3 402.9h.1M74.4 406.1h.1M82.1 399.6h.1M82.9 394.0h.1M81.1 398.5h.1M90.2 390.5h.1M62.4 424.4h.1M82.2 414.2h.1M88.3 392.7h.1M68.2 432.3h.1M83.7 410.3h.1M79.3 412.8h.1M71.9 419.3h.1M78.8 404.7h.1M62.9 425.1h.1M88.6 403.6h.1M86.4 401.0h.1M68.4 421.7h.1M81.9 404.6h.1M84.1 391.9h.1M96.7 393.8h.1M86.1 391.3h.1M79.4 409.9h.1M66.4 431.8h.1M80.7 398.9h.1M76.3 417.3h.1M99.3 387.0h.1M89.4 396.2h.1M74.3 429.7h.1M62.2 419.9h.1M96.3 397.4h.1M75.9 411.1h.1M83.4 415.1h.1M69.9 420.8h.1M73.3 427.6h.1M77.9 428.4h.1M69.6 432.1h.1M59.9 436.2h.1M68.3 413.0h.1M62.3 421.6h.1M77.3 390.8h.1M76.5 411.9h.1M67.2 425.2h.1M78.1 408.1h.1M88.8 391.8h.1M56.1 457.4h.1M72.7 423.0h.1M66.3 430.8h.1M77.0 423.3h.1M77.6 418.5h.1M68.5 437.7h.1M64.9 432.0h.1M81.2 405.3h.1M89.7 387.1h.1M76.1 412.4h.1M83.9 394.2h.1M79.2 422.3h.1M85.7 402.2h.1M65.5 433.7h.1M76.8 394.6h.1M93.3 399.4h.1M90.0 390.8h.1M89.6 408.0h.1M62.8 426.6h.1M67.7 434.3h.1M93.5 382.9h.1M71.3 422.0h.1M83.1 401.4h.1M71.5 416.0h.1M62.4 429.4h.1M68.4 417.9h.1M92.8 398.6h.1M76.5 426.9h.1M68.0 428.6h.1M84.1 398.9h.1M84.6 393.0h.1M80.7 416.9h.1M75.4 417.6h.1M77.0 419.2h.1M78.7 406.1h.1M68.8 432.9h.1M74.6 398.8h.1M76.0 413.3h.1M86.5 398.9h.1M88.6 390.1h.1M62.8 425.0h.1M69.0 432.3h.1M76.6 425.6h.1M72.0 418.6h.1M64.9 432.2h.1M66.5 435.4h.1M81.2 399.7h.1M69.2 417.4h.1M83.1 400.8h.1M55.6 426.9h.1M67.7 434.5h.1M88.0 395.5h.1M98.8 389.6h.1M57.5 432.0h.1M68.4 419.0h.1M66.1 424.2h.1M91.8 395.4h.1M77.1 392.3h.1M60.0 419.8h.1M73.3 420.0h.1M96.5 396.0h.1M83.9 395.7h.1M69.7 436.5h.1M89.6 393.2h.1M67.9 416.4h.1M69.5 430.5h.1M74.1 410.9h.1M86.0 392.1h.1M65.4 426.2h.1M65.1 427.1h.1M70.4 424.2h.1M72.5 423.3h.1M88.5 393.6h.1M68.8 445.3h.1M65.4 425.0h.1M99.3 380.4h.1M89.4 396.4h.1M92.6 398.8h.1M72.6 423.0h.1M71.8 431.5h.1M67.8 425.7h.1M89.6 397.7h.1M87.7 388.8h.1M72.1 424.2h.1M77.2 410.5h.1M85.0 411.4h.1M70.9 422.7h.1M77.0 427.2h.1M65.4 434.1h.1M71.2 442.1h.1M76.3 415.0h.1M72.8 421.1h.1M68.8 420.7h.1M67.5 429.1h.1M72.5 415.1h.1M66.7 425.9h.1M75.3 425.2h.1M69.6 431.3h.1M87.2 420.9h.1M60.5 435.7h.1M77.1 398.3h.1M87.5 408.3h.1M71.0 425.4h.1M92.2 386.5h.1M98.5 383.5h.1M70.9 431.5h.1M75.6 406.6h.1M83.3 406.3h.1M75.3 413.1h.1M71.3 430.5h.1M75.1 424.8h.1M61.1 429.8h.1M95.2 391.5h.1M77.3 412.6h.1M75.8 412.9h.1M91.6 387.8h.1M78.9 383.7h.1M85.4 405.8h.1M81.3 404.2h.1M84.6 410.8h.1M68.3 427.7h.1M95.9 402.8h.1M75.0 427.9h.1M91.3 400.5h.1M88.6 386.8h.1M72.7 427.0h.1M58.6 435.2h.1M100.0 401.7h.1M65.2 434.4h.1M84.8 410.0h.1M88.1 397.2h.1M87.1 388.0h.1M77.2 411.2h.1M90.1 386.3h.1M79.7 417.1h.1M61.4 448.2h.1M88.9 388.2h.1M74.2 428.6h.1M64.9 437.1h.1M85.0 394.9h.1M67.9 427.0h.1M80.2 416.1h.1M88.6 393.4h.1M79.7 414.3h.1M75.0 425.2h.1M74.1 413.0h.1M65.1 435.0h.1M74.6 410.9h.1M66.5 414.1h.1M92.4 385.7h.1M75.8 400.9h.1M90.2 388.4h.1M77.3 416.5h.1M81.7 396.8h.1M77.2 412.6h.1M77.1 416.9h.1M69.3 418.5h.1M91.8 391.1h.1M92.1 384.2h.1M69.9 418.6h.1M83.2 409.2h.1M80.9 408.4h.1M83.5 406.7h.1M90.0 405.3h.1M67.6 433.5h.1M90.9 400.7h.1M82.7 420.1h.1M73.6 420.2h.1M79.1 415.7h.1M81.3 407.0h.1M72.7 423.0h.1M67.0 423.2h.1M67.0 418.5h.1M82.2 397.1h.1M91.6 385.6h.1M66.8 426.5h.1M93.2 401.2h.1M72.5 416.4h.1M88.6 388.8h.1M59.5 442.7h.1M68.0 436.0h.1M78.2 405.7h.1M66.9 420.0h.1M81.3 418.3h.1M70.6 423.0h.1M91.6 398.3h.1M87.6 413.8h.1M79.7 410.1h.1M85.9 395.6h.1M81.9 403.9h.1M82.0 406.1h.1M77.2 409.9h.1M75.4 409.3h.1M82.3 415.9h.1M78.3 425.3h.1M90.6 389.5h.1M77.0 404.4h.1M58.9 434.7h.1M81.2 413.6h.1M71.7 429.9h.1M75.3 402.0h.1M87.4 385.5h.1M87.0 393.4h.1M83.2 403.6h.1M81.0 405.6h.1M91.6 394.8h.1M53.0 429.0h.1M66.0 438.1h.1M91.5 396.9h.1M71.0 425.9h.1M65.7 424.3h.1M68.6 431.1h.1M84.4 416.7h.1M65.8 424.6h.1M93.3 386.7h.1M70.6 416.3h.1M71.1 430.9h.1M87.0 392.7h.1M84.1 387.2h.1M72.3 415.1h.1M77.3 401.4h.1M77.1 415.5h.1M65.0 429.9h.1M90.1 388.2h.1M87.7 400.2h.1M82.6 392.6h.1M73.3 417.1h.1M92.5 400.1h.1M84.3 412.2h.1M79.7 398.3h.1M86.2 393.2h.1M86.1 403.2h.1M60.3 436.0h.1M93.5 388.1h.1M85.9 400.2h.1M76.6 409.3h.1M54.4 446.5h.1M65.8 414.0h.1M81.9 389.2h.1M78.4 407.8h.1M85.3 404.7h.1M82.6 398.9h.1M63.9 435.7h.1M68.9 409.6h.1M63.6 428.2h.1M77.3 418.5h.1M83.3 411.1h.1M61.0 432.0h.1M64.0 423.1h.1M85.3 397.2h.1M59.5 456.3h.1M71.4 427.8h.1M69.5 426.4h.1M80.4 413.6h.1M82.4 416.8h.1M85.5 409.8h.1M66.1 422.3h.1M92.5 398.5h.1M70.8 419.2h.1M70.1 438.5h.1M95.4 398.6h.1M92.7 396.5h.1M77.7 406.2h.1M76.9 398.9h.1M82.5 410.9h.1M76.2 435.5h.1M80.4 387.8h.1M78.9 402.7h.1M77.3 399.5h.1M84.7 412.0h.1M83.2 394.5h.1M95.0 391.3h.1M71.7 409.5h.1M77.0 416.6h.1M71.4 430.9h.1M89.0 403.0h.1M65.7 424.6h.1M77.1 422.3h.1M73.7 430.2h.1M85.4 401.4h.1M82.2 407.1h.1M78.2 420.7h.1M71.7 407.4h.1M65.1 424.0h.1M73.0 410.5h.1M82.6 423.6h.1M75.2 434.8h.1M91.4 403.5h.1M83.5 403.0h.1M83.1 403.1h.1M67.8 419.6h.1M70.9 426.3h.1M76.6 392.3h.1M78.3 412.6h.1M76.2 399.8h.1M93.8 390.1h.1M92.6 398.4h.1M91.0 386.5h.1M72.6 416.9h.1M79.6 407.4h.1M81.7 399.4h.1M61.2 434.9h.1M80.2 405.9h.1M74.0 422.1h.1M60.4 431.3h.1M88.4 397.7h.1M75.2 417.9h.1M59.9 446.1h.1M77.4 429.4h.1M83.7 400.9h.1M71.0 433.2h.1M72.4 424.7h.1M62.9 442.3h.1M65.6 431.5h.1M69.8 412.3h.1M82.9 393.2h.1M70.7 422.0h.1M76.2 402.4h.1M83.4 415.7h.1M72.5 413.1h.1M69.1 411.8h.1M71.2 434.2h.1M58.6 439.1h.1M68.8 437.3h.1M87.3 398.8h.1M89.4 390.4h.1M65.1 434.3h.1M69.7 428.5h.1M87.0 410.3h.1M85.3 403.7h.1M63.9 429.9h.1M73.6 419.8h.1M78.5 408.1h.1M81.0 426.0h.1M104.6 371.6h.1M75.9 399.6h.1M68.6 413.3h.1M74.3 418.4h.1M81.0 420.1h.1M92.3 388.0h.1M66.9 419.9h.1M92.5 385.5h.1M86.9 387.6h.1M75.8 429.1h.1M89.2 388.4h.1M68.1 423.7h.1M81.2 411.1h.1M77.4 419.7h.1M71.0 411.1h.1M63.2 440.1h.1M78.4 413.8h.1M93.0 387.8h.1M81.9 404.3h.1M71.4 436.2h.1M80.2 412.2h.1M75.1 400.9h.1M65.7 437.2h.1M62.5 430.5h.1M81.5 402.1h.1M79.3 409.7h.1M80.0 400.5h.1M65.8 425.6h.1M77.3 404.9h.1M82.8 408.2h.1M87.5 393.9h.1M65.7 426.1h.1M92.7 389.6h.1M81.5 384.0h.1M79.9 424.2h.1M94.8 391.8h.1M79.8 418.9h.1M78.1 406.2h.1M77.6 416.9h.1M70.8 415.4h.1M89.6 394.1h.1M91.5 393.2h.1M89.1 397.5h.1M86.0 395.2h.1M68.5 414.0h.1M77.4 415.8h.1M79.9 404.9h.1M70.0 432.5h.1M77.3 416.2h.1M64.6 430.1h.1M59.6 437.0h.1M74.1 426.7h.1M83.1 408.7h.1M65.3 419.9h.1M87.5 408.3h.1M66.3 427.9h.1M92.0 394.6h.1M74.3 411.8h.1M82.4 386.4h.1M89.6 397.8h.1M71.1 418.7h.1M93.3 394.8h.1M86.5 391.6h.1M83.5 397.0h.1M76.5 413.2h.1M75.9 408.3h.1M85.2 396.1h.1M87.0 390.8h.1M82.5 403.8h.1M98.1 401.9h.1M87.6 408.9h.1M62.6 437.1h.1M74.8 413.0h.1M82.0 403.8h.1M63.3 424.4h.1M70.3 428.1h.1M87.0 400.7h.1M85.5 402.4h.1M84.9 387.2h.1M68.8 420.7h.1M72.9 398.9h.1M73.0 411.4h.1M58.6 431.6h.1M95.7 386.7h.1M77.9 397.9h.1M73.4 422.9h.1M73.3 416.5h.1M72.2 420.4h.1M91.3 384.5h.1M67.4 430.7h.1M83.4 403.4h.1M81.0 413.6h.1M71.3 423.0h.1M75.4 403.1h.1M77.9 403.3h.1M77.8 418.6h.1M68.9 410.2h.1M76.9 414.7h.1M84.8 414.9h.1M79.8 418.8h.1M81.4 425.7h.1M73.1 412.7h.1M69.4 426.1h.1M72.6 425.0h.1M74.9 415.0h.1M73.5 418.7h.1M70.8 407.2h.1M98.8 382.2h.1M88.1 392.8h.1M70.2 427.2h.1M68.2 414.0h.1M76.7 424.1h.1M80.7 404.0h.1M81.6 399.0h.1M83.6 408.1h.1M84.1 401.1h.1M83.9 406.1h.1M65.1 420.5h.1M85.4 404.9h.1M79.3 396.4h.1M69.8 428.9h.1M81.2 418.6h.1M68.9 426.5h.1M82.0 415.4h.1M82.1 414.3h.1M84.3 392.6h.1M71.8 416.2h.1M77.0 394.7h.1M69.9 426.5h.1M74.9 419.5h.1M78.9 416.7h.1M82.3 393.3h.1M84.0 406.0h.1M78.0 412.9h.1M75.3 414.5h.1M75.5 434.2h.1M84.0 402.4h.1M79.0 407.8h.1M59.8 439.3h.1M73.6 427.4h.1M57.4 444.2h.1M100.5 396.2h.1M92.4 390.0h.1M63.5 435.0h.1M61.6 432.3h.1M76.1 398.8h.1M90.1 382.7h.1M89.4 392.0h.1M80.8 399.4h.1M68.8 411.3h.1M86.7 392.5h.1M81.0 396.7h.1M59.1 433.9h.1M81.6 415.9h.1M79.5 412.4h.1M87.7 393.1h.1M86.6 407.0h.1M70.0 428.5h.1M82.3 390.0h.1M76.3 412.3h.1M73.6 420.3h.1M80.7 410.1h.1M85.7 393.4h.1M82.0 405.1h.1M71.5 433.4h.1M69.3 423.0h.1M71.1 437.8h.1M76.2 424.0h.1M78.1 399.3h.1M86.4 396.4h.1M73.0 413.9h.1M80.1 409.4h.1M89.8 404.1h.1M73.4 419.7h.1M73.2 437.8h.1M71.0 400.2h.1M103.2 380.6h.1M69.5 421.7h.1M87.6 396.2h.1M76.4 427.0h.1M67.0 422.6h.1M73.0 423.1h.1M89.1 400.9h.1M82.3 428.1h.1M67.8 433.0h.1M55.6 433.4h.1M61.1 427.9h.1M77.6 427.3h.1M58.9 434.0h.1M88.3 390.6h.1M85.9 392.5h.1M70.6 413.2h.1M86.9 407.7h.1M70.5 431.9h.1M77.2 394.7h.1M67.3 434.4h.1M78.0 414.5h.1M82.9 415.8h.1M76.8 414.5h.1M84.7 391.1h.1M64.0 418.3h.1M75.0 409.0h.1M78.4 410.7h.1M75.4 418.6h.1M74.6 408.0h.1M78.6 410.4h.1M79.6 411.3h.1M80.8 425.6h.1M66.2 440.4h.1M72.4 423.4h.1M84.6 401.7h.1M70.7 425.5h.1M80.2 395.9h.1M56.7 451.9h.1M84.4 396.9h.1M78.0 406.8h.1M58.4 440.6h.1M93.4 403.6h.1M79.6 406.3h.1M58.4 441.5h.1M90.6 408.8h.1M85.2 396.3h.1M75.6 410.9h.1M98.4 399.4h.1M60.1 411.8h.1M79.5 401.2h.1M72.3 400.7h.1M88.3 394.5h.1M66.2 427.6h.1M114.4 357.9h.1M65.3 436.4h.1M98.5 374.9h.1M78.5 399.8h.1M71.5 397.7h.1M104.8 387.6h.1M73.4 421.1h.1M56.7 429.6h.1M94.8 382.2h.1M112.6 367.3h.1M101.8 344.4h.1M77.5 384.5h.1M46.0 453.5h.1M84.9 392.2h.1M90.6 385.1h.1M86.9 397.2h.1M84.5 385.6h.1M85.9 379.4h.1M96.6 393.8h.1M70.9 402.3h.1M67.7 433.3h.1M71.5 416.2h.1M89.5 389.9h.1M92.6 376.6h.1M96.6 373.1h.1M76.4 387.9h.1M72.8 425.5h.1M85.6 389.0h.1M61.6 422.5h.1M79.7 385.8h.1M79.9 430.0h.1M80.0 381.6h.1M81.5 384.8h.1M68.9 412.5h.1M90.4 395.2h.1M99.7 398.0h.1M76.6 410.0h.1M80.8 398.2h.1M91.6 410.3h.1M63.1 439.7h.1M77.5 413.8h.1M110.0 352.3h.1M78.7 387.8h.1M71.7 447.0h.1M87.7 395.5h.1M92.8 393.4h.1M78.8 395.6h.1M79.7 382.5h.1M83.6 374.1h.1M106.4 361.1h.1M83.0 364.3h.1M81.9 397.1h.1M45.6 430.2h.1M69.1 442.6h.1M96.3 390.3h.1M85.8 397.2h.1M83.9 405.2h.1M110.7 380.6h.1M67.5 426.5h.1M81.9 436.5h.1M77.1 421.6h.1M81.0 398.3h.1M77.3 430.7h.1M82.2 402.8h.1M80.6 411.7h.1M83.5 408.9h.1M74.2 406.3h.1M70.1 439.6h.1M81.9 386.3h.1M101.0 389.4h.1M57.3 439.3h.1M77.7 416.8h.1M85.7 394.4h.1M90.3 403.0h.1M65.8 438.4h.1M83.4 405.1h.1M72.9 419.8h.1M97.1 377.2h.1M78.2 382.5h.1M97.1 372.2h.1M80.9 424.3h.1M81.2 386.6h.1M67.6 415.3h.1M99.5 395.7h.1M68.8 400.5h.1M69.0 425.2h.1M71.4 417.3h.1M81.3 409.1h.1M92.1 388.0h.1M65.3 432.7h.1M107.4 350.8h.1M76.8 390.3h.1M77.9 397.1h.1M81.5 395.0h.1M76.9 412.1h.1M86.8 409.0h.1M100.5 377.4h.1M58.6 430.0h.1M82.5 394.6h.1M96.8 385.7h.1M96.2 376.6h.1M52.0 431.5h.1M81.1 393.7h.1M57.2 439.4h.1M65.7 409.7h.1M81.4 400.5h.1M89.6 406.8h.1M78.5 410.2h.1M90.0 391.8h.1M86.8 382.5h.1M85.1 399.6h.1M73.7 420.7h.1M76.9 411.6h.1M89.9 398.1h.1M94.9 393.0h.1M92.6 406.1h.1M62.8 427.7h.1M74.7 414.1h.1M85.0 400.0h.1M62.0 430.7h.1M75.4 408.2h.1M90.0 421.5h.1M93.0 387.2h.1M106.4 388.3h.1M58.6 418.8h.1M104.8 377.8h.1M91.0 365.8h.1M80.2 416.3h.1M82.2 409.4h.1M80.8 419.7h.1M84.9 426.4h.1M54.9 430.4h.1M85.3 402.5h.1M103.4 371.8h.1M67.8 429.3h.1M79.9 387.4h.1M85.0 424.5h.1M82.0 401.1h.1M82.7 411.3h.1M85.0 393.2h.1M88.2 393.8h.1M92.9 393.8h.1M82.1 382.5h.1M95.6 375.8h.1M70.4 427.2h.1M75.3 416.2h.1M96.7 381.9h.1M67.2 421.5h.1M91.9 382.0h.1M85.0 402.1h.1M98.5 381.3h.1M96.8 405.9h.1M87.1 409.1h.1M81.1 401.7h.1M61.2 437.7h.1M91.6 396.1h.1M72.4 395.8h.1M86.4 378.4h.1M91.7 395.1h.1M64.6 420.7h.1M89.1 407.7h.1M84.3 391.5h.1M82.9 402.7h.1M104.0 389.8h.1M74.5 397.4h.1M95.1 406.2h.1M62.2 432.7h.1M91.1 388.1h.1M88.9 374.7h.1M68.3 412.7h.1M68.8 422.3h.1M98.1 420.5h.1M110.5 368.3h.1M86.1 355.6h.1M78.5 397.3h.1M76.1 427.0h.1M65.7 413.3h.1M58.4 424.2h.1M71.2 423.3h.1M84.5 390.2h.1M78.5 394.3h.1M63.3 406.1h.1M91.2 397.5h.1M85.0 392.0h.1M111.3 371.6h.1M67.4 416.2h.1M103.5 369.0h.1M110.2 386.7h.1M68.5 413.4h.1M82.3 386.4h.1M63.7 405.3h.1M93.7 376.2h.1M97.9 399.5h.1M86.5 416.5h.1M86.9 372.9h.1M84.6 396.1h.1M80.0 423.9h.1M82.9 404.2h.1M97.4 382.4h.1M76.9 392.0h.1M70.2 410.1h.1M86.8 410.0h.1M87.9 385.5h.1M91.8 367.5h.1M79.5 414.8h.1M89.9 390.0h.1M98.1 389.3h.1M90.4 377.2h.1M109.4 376.0h.1M72.7 424.3h.1M82.6 402.2h.1M87.6 397.3h.1M86.2 386.7h.1M92.9 380.8h.1M87.6 382.2h.1M65.4 415.0h.1M61.6 421.6h.1M65.1 392.5h.1M91.9 392.2h.1M56.9 428.1h.1M83.0 411.7h.1M89.0 398.9h.1M87.1 403.0h.1M89.4 379.8h.1M74.3 425.3h.1M88.8 396.9h.1M81.2 407.1h.1M105.6 361.1h.1M49.1 430.2h.1M95.1 378.7h.1M65.7 436.7h.1M86.8 392.6h.1M88.7 402.2h.1M72.9 431.8h.1M71.6 419.7h.1M80.1 396.4h.1M94.6 386.2h.1M88.9 398.3h.1M61.0 425.3h.1M86.8 419.0h.1M108.5 374.3h.1M78.9 407.7h.1M43.3 440.8h.1M74.6 421.7h.1M54.6 427.4h.1M66.7 431.7h.1M108.4 387.8h.1M63.7 410.6h.1M69.0 412.6h.1M86.3 404.1h.1M79.9 413.1h.1M65.7 411.2h.1M61.8 437.7h.1M64.5 417.1h.1M81.7 390.1h.1M88.0 395.4h.1M76.2 416.7h.1M60.9 426.8h.1M56.0 415.7h.1M84.4 394.1h.1M83.7 420.0h.1M77.0 406.5h.1M99.3 391.0h.1M65.7 431.5h.1M68.1 421.3h.1M73.8 423.5h.1M100.8 376.8h.1M79.8 414.5h.1M73.9 410.0h.1M58.7 435.0h.1M89.9 388.9h.1M85.0 402.3h.1M92.6 408.1h.1M92.2 416.1h.1M61.6 443.7h.1M80.1 393.9h.1M105.4 388.1h.1M74.1 413.4h.1M80.0 402.2h.1M83.0 388.5h.1M66.3 416.2h.1M81.6 402.4h.1M86.1 369.7h.1M65.1 429.7h.1M111.0 370.1h.1M94.0 384.6h.1M63.2 435.1h.1M58.4 429.0h.1M84.7 394.4h.1M81.2 399.7h.1M79.9 423.8h.1M98.8 377.1h.1M89.5 380.4h.1M103.4 391.0h.1M57.0 436.5h.1M72.6 409.7h.1M109.5 361.3h.1M60.9 433.0h.1M78.6 395.2h.1M82.2 389.4h.1M83.4 383.4h.1M80.5 415.6h.1M64.4 440.5h.1M82.2 417.6h.1M105.9 388.4h.1M86.3 383.7h.1M73.0 413.5h.1M96.5 396.9h.1M86.6 383.3h.1M69.3 417.5h.1M74.6 421.5h.1M102.7 419.8h.1M84.6 400.8h.1M105.5 366.4h.1M79.8 392.6h.1M79.2 408.8h.1M100.9 378.2h.1M70.4 412.9h.1M64.1 421.7h.1M72.7 399.2h.1M62.4 424.0h.1M63.2 459.3h.1M86.4 397.9h.1M65.0 425.1h.1M79.5 429.9h.1M87.9 405.4h.1M101.4 382.4h.1M79.1 401.1h.1M84.2 415.3h.1M57.0 430.4h.1M71.4 413.0h.1M73.1 399.2h.1M92.4 384.4h.1M87.9 381.3h.1M97.9 389.7h.1M81.6 413.8h.1M68.4 421.6h.1M69.0 424.1h.1M80.1 394.8h.1M62.9 428.9h.1M75.8 408.5h.1M103.3 398.4h.1M74.1 391.5h.1M86.4 406.6h.1M61.5 423.4h.1M91.9 400.0h.1M80.2 393.0h.1M82.2 387.2h.1M80.4 411.8h.1M79.0 414.3h.1M75.6 433.2h.1M67.5 436.0h.1M83.2 403.0h.1M85.4 408.0h.1M85.5 414.1h.1M85.4 431.1h.1M101.4 375.8h.1M65.1 432.2h.1M76.7 387.6h.1M82.0 417.4h.1M91.1 408.0h.1M82.0 404.0h.1M72.4 421.0h.1M80.4 382.8h.1M74.8 399.9h.1M80.3 401.5h.1M78.4 404.1h.1M71.2 422.0h.1M106.2 349.2h.1M68.0 408.2h.1M91.7 425.6h.1M110.3 357.2h.1M62.6 424.4h.1M96.1 394.9h.1M118.2 362.5h.1M81.6 393.7h.1M92.9 400.0h.1M89.5 399.3h.1M60.9 436.1h.1M81.4 382.9h.1M102.5 384.9h.1M76.7 399.6h.1M71.3 422.5h.1M93.1 395.3h.1M94.2 374.4h.1M87.1 401.1h.1M73.7 421.3h.1M70.1 391.5h.1M69.5 419.1h.1M59.3 438.9h.1M80.1 388.5h.1M84.2 427.9h.1M50.4 436.4h.1M81.9 396.6h.1M79.1 405.6h.1M87.7 404.7h.1M83.8 385.4h.1M79.2 414.7h.1M88.3 402.8h.1M95.8 400.8h.1M81.8 383.9h.1M75.4 426.0h.1M75.5 421.9h.1M89.8 382.5h.1M98.3 364.1h.1M73.6 393.5h.1M87.0 402.1h.1M68.9 444.9h.1M97.9 379.9h.1M89.9 401.7h.1M78.2 421.5h.1M94.4 396.0h.1M73.0 413.1h.1M72.3 405.8h.1M77.4 402.1h.1M101.4 400.0h.1M115.7 371.4h.1M75.4 398.1h.1M80.6 427.5h.1M79.0 394.6h.1M79.5 421.7h.1M71.5 427.1h.1M52.3 417.6h.1M70.4 414.2h.1M58.3 451.6h.1M69.2 395.7h.1M75.2 421.4h.1M96.5 386.6h.1M62.4 430.1h.1M67.8 406.3h.1M61.4 429.2h.1M67.5 402.3h.1M67.0 409.2h.1M80.9 384.2h.1M81.6 398.6h.1M87.0 398.1h.1M75.8 424.3h.1M78.7 409.8h.1M74.8 424.6h.1M73.3 422.1h.1M80.4 431.9h.1M85.7 424.6h.1M59.9 401.6h.1M50.1 435.4h.1M82.3 400.2h.1M69.6 410.1h.1M73.2 406.2h.1M98.0 374.7h.1M124.7 343.7h.1M49.8 442.9h.1M68.9 417.8h.1M83.9 416.3h.1M64.6 423.4h.1M84.6 400.8h.1M64.5 400.2h.1M98.6 409.1h.1M82.2 394.6h.1M94.9 393.5h.1M84.7 397.4h.1M94.6 407.8h.1M73.4 414.6h.1M84.8 400.1h.1M100.7 394.1h.1M63.7 361.2h.1M108.7 286.3h.1M66.6 380.4h.1M118.9 302.2h.1M100.7 367.2h.1M65.2 446.4h.1M72.6 390.5h.1M76.5 396.5h.1M64.2 423.0h.1M60.5 360.4h.1M109.8 294.6h.1M75.3 395.9h.1M68.7 363.0h.1M158.5 264.9h.1M128.6 275.0h.1M72.8 346.6h.1M101.4 377.3h.1M84.8 293.1h.1M54.6 379.3h.1M156.8 270.9h.1M83.7 412.7h.1M105.3 258.4h.1M54.1 363.5h.1M51.3 292.4h.1M98.8 288.8h.1M63.5 408.6h.1M59.2 410.1h.1M68.4 374.3h.1M46.4 408.6h.1M73.2 323.1h.1M141.7 310.3h.1M84.0 406.7h.1M107.1 311.4h.1M44.9 396.0h.1M62.0 390.7h.1M85.8 364.3h.1M72.5 336.9h.1M106.7 317.8h.1M111.2 343.7h.1M64.7 348.2h.1M112.7 354.2h.1M74.7 340.2h.1M127.8 312.4h.1M71.9 364.0h.1M75.6 386.5h.1M113.3 295.2h.1M149.9 288.2h.1M69.7 407.1h.1M80.0 348.8h.1M65.2 445.1h.1M70.9 403.0h.1M107.9 264.6h.1M116.3 292.0h.1M158.5 269.3h.1M123.3 292.1h.1M110.7 347.6h.1M50.4 433.8h.1M104.8 319.7h.1M114.7 314.8h.1M57.6 370.9h.1M85.0 345.0h.1M47.6 279.3h.1M69.1 257.7h.1M46.7 326.9h.1M117.5 316.4h.1M159.2 309.2h.1M49.1 259.4h.1M87.3 395.0h.1M51.1 331.5h.1M76.7 315.8h.1M59.1 354.3h.1M41.4 370.5h.1M107.7 347.0h.1M65.0 296.6h.1M71.7 407.4h.1M74.5 430.9h.1M94.3 315.0h.1M81.1 319.1h.1M90.2 367.3h.1M89.4 295.8h.1M99.5 368.2h.1M96.3 317.7h.1M115.5 371.2h.1M47.4 301.0h.1M74.4 371.2h.1M68.4 269.5h.1M57.6 416.7h.1M101.1 387.0h.1M55.7 317.4h.1M109.8 310.8h.1M77.1 342.9h.1M103.3 298.4h.1M124.6 286.0h.1M63.9 301.6h.1M67.0 400.4h.1M58.3 372.1h.1M111.8 329.0h.1M103.3 258.4h.1M132.7 333.2h.1M100.9 260.6h.1M104.8 260.9h.1M89.5 376.3h.1M48.9 289.9h.1M47.3 366.7h.1M144.6 275.5h.1M139.3 272.7h.1M83.9 334.4h.1M94.9 272.6h.1M101.7 376.9h.1M95.6 318.6h.1M66.8 333.9h.1M81.2 363.6h.1M59.6 347.9h.1M61.1 349.7h.1M136.9 320.8h.1M89.9 389.8h.1M74.0 264.5h.1M58.0 369.7h.1M70.5 337.7h.1M46.6 254.9h.1M77.9 302.7h.1M121.9 298.0h.1M83.6 410.9h.1M73.9 284.6h.1M64.8 350.6h.1M78.1 279.1h.1M85.5 349.6h.1M94.0 388.6h.1M61.9 366.7h.1M75.4 294.2h.1M114.0 361.9h.1M69.0 383.0h.1M124.1 280.5h.1M91.3 324.7h.1M113.9 352.8h.1M68.6 370.4h.1M59.8 354.7h.1M55.2 327.8h.1M96.3 347.5h.1M57.9 410.3h.1M77.5 271.6h.1M58.2 331.5h.1M148.0 330.5h.1M55.9 377.6h.1M60.9 300.0h.1M69.8 393.2h.1M83.6 346.9h.1M69.0 315.2h.1M93.2 378.5h.1M66.0 346.4h.1M92.3 380.4h.1M52.4 304.7h.1M113.7 272.9h.1M97.6 401.9h.1M57.0 356.3h.1M131.2 300.1h.1M66.7 375.8h.1M96.2 393.4h.1M100.4 357.0h.1M91.4 365.5h.1M94.0 288.6h.1M96.8 261.5h.1M69.7 421.7h.1M130.6 274.7h.1M121.7 348.6h.1M87.3 405.8h.1M87.8 340.5h.1M69.6 403.6h.1M51.9 353.2h.1M45.1 264.9h.1M57.4 343.8h.1M54.0 358.8h.1M67.4 375.3h.1M117.1 303.4h.1M71.0 379.0h.1M88.7 326.7h.1M84.7 381.1h.1M114.9 281.5h.1M87.7 336.8h.1M90.9 377.5h.1M58.6 413.0h.1M129.8 326.3h.1M54.7 345.9h.1M97.5 341.5h.1M119.8 316.4h.1M50.7 308.4h.1M110.0 280.2h.1M70.3 356.9h.1M42.4 302.8h.1M70.3 340.9h.1M56.4 366.8h.1M68.7 386.8h.1M43.3 263.3h.1M57.1 289.1h.1M122.0 313.0h.1M58.3 271.0h.1M83.9 391.9h.1M58.8 338.3h.1M63.5 297.7h.1M59.6 368.8h.1M125.3 309.1h.1M101.7 310.4h.1M89.3 265.8h.1M63.2 371.1h.1M56.3 361.5h.1M80.1 337.5h.1M60.4 375.9h.1M69.9 320.9h.1M67.1 296.4h.1M44.9 359.9h.1M48.0 356.7h.1M59.7 372.5h.1M81.4 368.9h.1M68.3 343.8h.1M50.9 332.5h.1M56.8 404.7h.1M62.4 339.5h.1M55.0 368.1h.1M109.5 313.1h.1M68.6 311.3h.1M43.9 369.8h.1M104.3 341.7h.1M59.2 360.3h.1M62.2 367.0h.1M59.3 359.5h.1M68.5 343.3h.1M67.7 341.6h.1M70.9 417.4h.1M126.7 323.2h.1M85.7 352.4h.1M113.0 256.4h.1M55.4 309.6h.1M51.0 338.0h.1M62.3 402.3h.1M60.0 404.7h.1M52.5 290.1h.1M94.4 328.2h.1M79.6 297.3h.1M75.7 359.2h.1M75.8 395.1h.1M124.5 331.8h.1M155.5 310.1h.1M73.6 375.3h.1M51.9 405.1h.1M100.6 338.3h.1M132.2 321.5h.1M118.9 305.5h.1M152.2 280.0h.1M103.1 270.0h.1M86.9 373.0h.1M84.8 276.7h.1M80.2 372.3h.1M57.8 337.3h.1M57.8 427.1h.1M86.7 419.2h.1M120.5 338.1h.1M74.9 384.9h.1M64.9 337.9h.1M71.2 388.0h.1M72.6 407.8h.1M57.2 359.5h.1M54.9 357.2h.1M62.1 361.0h.1M68.5 387.0h.1M130.8 298.5h.1M79.4 320.5h.1M95.8 277.7h.1M41.9 302.8h.1M62.4 271.4h.1M92.1 381.2h.1M52.8 284.6h.1M60.0 396.4h.1M49.4 355.6h.1M68.1 425.6h.1M75.6 351.1h.1M76.8 260.9h.1M43.8 386.9h.1M87.8 402.2h.1M76.9 375.6h.1M86.5 367.9h.1M64.1 275.9h.1M41.4 435.6h.1M109.2 351.4h.1M63.8 441.9h.1M107.9 343.1h.1M48.6 362.6h.1M56.6 384.3h.1M50.9 304.2h.1M124.9 329.5h.1M58.3 405.3h.1M64.7 351.9h.1M103.3 281.6h.1M76.2 297.5h.1M123.8 319.9h.1M66.2 353.6h.1M82.5 327.0h.1M48.5 325.1h.1M69.6 401.0h.1M49.7 350.8h.1M52.5 312.1h.1M100.2 284.9h.1M141.3 280.8h.1M48.5 298.4h.1M52.0 386.1h.1M117.6 358.3h.1M69.5 413.6h.1M134.5 268.2h.1M97.0 345.7h.1M101.5 268.7h.1M120.3 350.8h.1M91.1 297.5h.1M77.2 266.3h.1M48.6 372.3h.1M77.0 408.2h.1M105.2 278.7h.1M80.4 341.8h.1M48.5 360.4h.1M116.9 334.1h.1M128.0 286.4h.1M74.1 340.7h.1M94.3 255.7h.1M105.7 257.9h.1M85.4 340.2h.1M70.4 319.4h.1M52.1 339.4h.1M46.9 424.9h.1M113.5 327.5h.1M72.5 293.7h.1M60.8 352.5h.1M47.5 409.6h.1M56.5 389.5h.1M118.9 264.6h.1M105.7 310.9h.1M102.2 373.3h.1M43.2 262.3h.1M80.5 257.7h.1M126.5 259.9h.1M64.4 259.8h.1M50.1 365.2h.1M159.1 267.0h.1M105.7 254.9h.1M70.8 331.0h.1M43.0 273.2h.1M70.6 268.2h.1M57.1 388.1h.1M53.5 384.9h.1M59.4 384.8h.1M73.4 306.2h.1M78.6 325.1h.1M74.5 314.8h.1M72.0 352.2h.1M48.5 255.2h.1M57.8 365.5h.1M95.5 383.9h.1M133.0 316.9h.1M99.0 275.2h.1M49.9 401.2h.1M115.8 319.1h.1M93.5 343.0h.1M80.2 375.7h.1M69.2 260.3h.1M62.6 295.9h.1M160.2 261.5h.1M56.4 290.8h.1M51.2 287.4h.1M49.5 322.4h.1M86.6 339.3h.1M123.9 261.0h.1M63.6 405.7h.1M42.6 282.2h.1M97.4 320.2h.1M47.4 327.1h.1M139.5 259.0h.1M66.1 259.5h.1M82.0 273.8h.1M95.2 315.8h.1M52.6 417.1h.1M47.6 406.4h.1M78.8 358.7h.1M103.9 364.2h.1M82.6 414.1h.1M75.2 260.4h.1M44.3 375.4h.1M52.4 364.5h.1M91.3 267.9h.1M61.7 397.9h.1M64.1 340.0h.1M73.5 284.6h.1M64.0 378.2h.1M71.0 300.8h.1M89.7 372.7h.1M85.2 289.0h.1M138.0 343.2h.1M83.0 309.8h.1M122.7 270.2h.1M86.2 362.6h.1M142.5 281.3h.1M48.7 361.4h.1M52.8 443.6h.1M77.8 382.5h.1M69.0 380.7h.1M75.2 354.1h.1M53.2 352.9h.1M89.7 373.6h.1M59.3 367.8h.1M79.2 274.9h.1M84.1 270.2h.1M73.7 299.5h.1M52.5 285.5h.1M112.2 375.2h.1M72.6 397.4h.1M86.9 379.5h.1M94.2 296.8h.1M69.7 284.3h.1M90.1 378.9h.1M64.8 322.3h.1M166.2 271.8h.1M69.1 318.0h.1M107.0 328.2h.1M57.7 295.4h.1M76.9 417.1h.1M48.7 383.1h.1M127.4 340.9h.1M49.0 271.9h.1M113.3 260.0h.1M75.2 400.4h.1M103.5 282.5h.1M44.4 405.9h.1M65.7 400.0h.1M130.8 277.4h.1M58.0 309.9h.1M48.6 418.6h.1M105.3 293.5h.1M46.1 402.1h.1M56.2 398.4h.1M83.6 336.9h.1M69.2 370.9h.1M127.8 258.0h.1M84.7 266.4h.1M66.7 303.6h.1M69.6 275.9h.1M61.8 398.6h.1M100.6 314.7h.1M57.7 302.6h.1M45.8 372.0h.1M74.3 283.0h.1M81.7 319.8h.1M107.3 338.1h.1M90.2 334.8h.1M51.5 354.8h.1M78.2 282.7h.1M47.4 413.9h.1M102.8 395.4h.1M47.3 264.6h.1M63.9 371.1h.1M107.5 332.8h.1M49.5 366.5h.1M149.7 273.8h.1M76.7 279.2h.1M140.2 307.7h.1M55.9 295.9h.1M68.2 310.9h.1M123.6 272.1h.1M84.0 344.9h.1M86.2 308.7h.1M59.6 397.2h.1M47.0 257.1h.1M47.9 308.1h.1M49.3 280.1h.1M103.5 311.5h.1M63.2 374.3h.1M116.9 332.2h.1M80.3 380.2h.1M72.2 342.9h.1M79.3 274.6h.1M146.0 296.7h.1M97.7 259.2h.1M87.3 341.7h.1M53.0 339.6h.1M55.8 289.7h.1M143.9 295.3h.1M112.5 289.7h.1M51.8 324.8h.1M61.7 266.1h.1M107.5 324.9h.1M47.3 290.1h.1M43.8 364.8h.1M114.6 268.2h.1M119.2 282.4h.1M102.5 351.9h.1M68.2 412.2h.1M84.4 386.1h.1M45.3 387.8h.1M46.4 295.4h.1M62.7 368.4h.1M111.6 295.1h.1M78.4 386.9h.1M78.6 304.5h.1M105.8 292.9h.1M68.0 291.3h.1M62.2 380.1h.1M47.8 325.1h.1M114.2 271.6h.1M100.9 293.5h.1M128.3 363.4h.1M83.5 301.3h.1M107.7 308.0h.1M58.6 382.7h.1M58.5 388.4h.1M60.4 275.9h.1M110.9 288.5h.1M81.0 376.1h.1M96.5 265.5h.1M92.8 290.9h.1M55.0 351.6h.1M68.7 320.1h.1M111.1 319.1h.1M90.0 358.6h.1M78.4 327.9h.1M51.6 255.8h.1M55.1 360.4h.1M69.7 285.6h.1M134.5 268.6h.1M100.3 329.7h.1M93.9 391.2h.1M58.0 388.3h.1M80.8 280.5h.1M117.8 258.5h.1M94.6 381.5h.1M112.4 290.9h.1M110.4 263.5h.1M89.3 298.9h.1M99.6 323.2h.1M110.5 356.0h.1M92.5 288.2h.1M80.3 292.0h.1M58.7 360.0h.1M49.9 301.9h.1M76.2 355.0h.1M97.1 275.2h.1M69.6 413.0h.1M132.6 306.7h.1M90.3 331.9h.1M48.8 321.0h.1M51.2 417.3h.1M103.0 356.9h.1M47.6 284.8h.1M76.2 314.8h.1M63.4 291.5h.1M52.5 433.3h.1M76.7 383.7h.1M51.5 302.3h.1M106.7 301.3h.1M106.2 277.4h.1M57.1 391.0h.1M78.2 398.9h.1M79.4 362.6h.1M87.6 293.9h.1M61.5 329.0h.1M113.7 322.8h.1M71.2 275.3h.1M85.6 374.4h.1M51.3 420.6h.1M91.0 277.0h.1M57.5 341.4h.1M101.9 321.5h.1M109.4 313.0h.1M107.0 267.2h.1M82.1 388.6h.1M121.0 299.7h.1M106.6 385.6h.1M84.4 357.3h.1M57.7 256.3h.1M63.7 362.2h.1M106.8 285.3h.1M43.5 403.6h.1M129.1 294.2h.1M56.8 421.0h.1M108.3 371.5h.1M49.2 373.3h.1M83.7 375.6h.1M110.2 364.5h.1M90.3 369.3h.1M69.0 303.1h.1M55.7 378.4h.1M87.0 350.0h.1M55.1 387.4h.1M56.6 404.6h.1M115.4 363.4h.1M54.3 325.2h.1M132.4 269.5h.1M96.0 358.4h.1M60.7 269.8h.1M63.6 378.7h.1M63.9 287.4h.1M62.7 310.4h.1M65.4 263.9h.1M148.9 315.5h.1M96.0 294.1h.1M95.9 359.8h.1M138.0 276.0h.1M67.7 355.3h.1M90.7 257.2h.1M136.5 285.4h.1M47.7 392.8h.1M65.4 350.7h.1M104.9 345.7h.1M102.0 259.1h.1M78.2 416.2h.1M111.1 330.4h.1M54.5 418.0h.1M136.3 264.9h.1M72.5 398.5h.1M81.0 292.7h.1M69.6 265.6h.1M59.5 294.8h.1M92.9 303.3h.1M53.3 311.9h.1M74.6 339.4h.1M48.1 371.1h.1M59.3 372.9h.1M105.1 262.6h.1M142.9 308.8h.1M85.4 337.4h.1M68.4 297.0h.1M71.7 323.0h.1M58.1 319.9h.1M57.7 360.1h.1M97.4 357.1h.1M110.5 287.0h.1M96.2 381.9h.1M47.9 382.6h.1M85.7 314.2h.1M44.5 267.7h.1M47.2 382.4h.1M60.9 298.8h.1M99.1 293.5h.1M60.9 269.5h.1M50.5 415.8h.1M93.4 256.4h.1M67.9 331.4h.1M69.2 323.6h.1M93.3 392.1h.1M82.1 335.6h.1M57.4 280.8h.1M76.2 289.7h.1M59.3 265.6h.1M114.3 361.5h.1M56.4 307.6h.1M122.7 361.4h.1M51.8 382.6h.1M92.4 294.2h.1M54.1 362.6h.1M73.2 353.4h.1M51.4 255.5h.1M80.3 346.0h.1M122.6 331.6h.1M99.9 291.6h.1M90.1 305.9h.1M144.1 315.5h.1M127.7 355.5h.1M60.7 398.0h.1M101.8 298.0h.1M69.3 275.8h.1M67.3 298.8h.1M142.8 297.2h.1M78.0 335.6h.1M138.8 340.8h.1M102.4 400.3h.1M48.8 379.8h.1M80.3 407.8h.1M81.2 371.1h.1M74.6 380.1h.1M86.9 304.6h.1M87.5 345.7h.1M53.2 389.4h.1M83.8 407.3h.1M65.3 266.7h.1M73.3 353.9h.1M134.8 274.0h.1M57.3 255.2h.1M89.8 371.5h.1M77.5 357.1h.1M101.7 254.6h.1M95.4 371.3h.1M64.8 296.9h.1M69.4 387.5h.1M139.7 329.8h.1M64.3 433.8h.1M89.1 401.8h.1M77.1 344.6h.1M42.6 413.6h.1M59.3 364.5h.1M42.3 388.6h.1M63.0 395.8h.1M110.1 337.6h.1M49.5 391.4h.1M57.4 414.9h.1M86.2 295.0h.1M55.6 284.2h.1M51.2 382.3h.1M52.8 264.5h.1M70.6 366.3h.1M97.3 316.5h.1M73.6 343.6h.1M75.2 382.2h.1M81.4 263.3h.1M135.5 358.9h.1M86.2 418.1h.1M112.5 262.0h.1M100.0 254.3h.1M98.1 275.5h.1M60.1 383.0h.1M47.5 349.9h.1M67.6 339.7h.1M94.0 275.5h.1M97.4 317.4h.1M129.2 317.2h.1M56.9 317.1h.1M100.9 272.0h.1M70.7 342.5h.1M140.6 269.9h.1M171.3 296.3h.1M64.8 409.0h.1M96.6 278.2h.1M60.6 271.6h.1M72.7 362.9h.1M130.1 302.8h.1M82.0 399.1h.1M95.7 322.6h.1M95.1 373.3h.1M56.9 294.2h.1M84.4 320.3h.1M129.7 335.3h.1M68.0 373.4h.1M55.1 302.4h.1M89.9 329.0h.1M119.7 341.7h.1M131.6 335.3h.1M65.7 349.4h.1M55.4 456.2h.1M56.2 256.8h.1M124.0 273.9h.1M142.8 322.0h.1M81.0 411.7h.1M111.1 324.7h.1M65.9 285.4h.1M61.9 291.5h.1M82.1 405.9h.1M59.5 268.6h.1M60.4 296.6h.1M96.9 298.5h.1M58.0 382.6h.1M103.3 270.4h.1M129.9 293.5h.1M99.8 301.6h.1M87.4 344.6h.1M119.3 261.9h.1M80.0 267.7h.1M60.0 368.6h.1M100.9 380.6h.1M121.1 298.4h.1M86.4 367.1h.1M79.9 331.7h.1M78.2 411.0h.1M41.4 365.3h.1M132.8 277.9h.1M60.5 366.4h.1M59.4 446.7h.1M98.0 325.9h.1M59.7 346.0h.1M88.8 272.5h.1M137.5 288.4h.1M118.5 300.5h.1M74.3 256.6h.1M115.6 272.2h.1M56.6 405.4h.1M63.5 367.4h.1M78.8 324.0h.1M71.5 347.6h.1M84.4 301.1h.1M68.8 391.7h.1M64.5 257.3h.1M84.9 404.5h.1M105.8 360.8h.1M128.8 308.7h.1M76.4 310.2h.1M93.2 323.4h.1M104.6 335.8h.1M54.2 307.7h.1M71.7 291.7h.1M134.2 286.1h.1M48.3 348.1h.1M123.3 324.0h.1M101.4 256.3h.1M40.3 359.9h.1M64.3 275.0h.1M138.3 288.5h.1M49.0 360.5h.1M44.4 272.2h.1M49.3 280.1h.1M78.7 319.9h.1M147.5 308.0h.1M92.5 349.8h.1M54.8 330.2h.1M134.1 286.7h.1M65.5 347.8h.1M85.7 328.4h.1M71.7 345.9h.1M57.9 356.7h.1M58.8 419.9h.1M52.8 420.4h.1M104.9 290.9h.1M49.3 305.0h.1M44.8 350.6h.1M102.0 400.3h.1M91.3 356.9h.1M124.9 258.6h.1M93.5 393.9h.1M96.7 314.4h.1M68.4 368.9h.1M75.1 376.2h.1M115.6 312.8h.1M99.2 254.0h.1M116.6 321.4h.1M83.7 386.2h.1M131.9 325.5h.1M84.3 371.7h.1M50.2 372.2h.1M86.3 267.0h.1M60.7 277.3h.1M62.4 308.9h.1M65.8 325.8h.1M72.4 376.0h.1M40.2 355.9h.1M64.5 403.8h.1M74.6 390.4h.1M79.0 382.6h.1M95.4 380.0h.1M144.6 256.1h.1M92.4 309.1h.1M75.7 324.9h.1M54.2 390.4h.1M78.6 376.1h.1M102.5 313.9h.1M52.6 307.4h.1M45.9 405.0h.1M99.8 329.0h.1M66.8 272.7h.1M65.4 300.8h.1M65.5 330.5h.1M47.0 432.7h.1M91.1 268.2h.1M56.3 278.3h.1M82.7 269.5h.1M64.5 427.0h.1M79.8 351.9h.1M72.0 305.6h.1M58.0 396.0h.1M72.2 330.0h.1M68.8 384.5h.1M42.4 312.6h.1M74.2 399.3h.1M123.7 287.4h.1M76.0 385.2h.1M132.4 262.5h.1M83.2 260.3h.1M85.2 301.0h.1M90.1 281.2h.1M103.0 337.2h.1M78.4 375.2h.1M85.0 342.4h.1M57.2 397.4h.1M118.8 325.3h.1M78.0 295.6h.1M137.4 351.9h.1M54.8 311.3h.1M84.5 386.8h.1M75.0 355.7h.1M80.8 305.3h.1M77.8 357.8h.1M87.2 291.2h.1M98.6 316.8h.1M91.9 279.6h.1M57.8 292.4h.1M42.6 306.5h.1M105.6 304.6h.1M98.3 307.4h.1M55.1 340.3h.1M47.1 365.5h.1M88.2 309.8h.1M63.3 273.3h.1M76.3 351.6h.1M82.3 265.8h.1M111.5 358.6h.1M108.4 310.7h.1M94.3 360.1h.1M71.8 272.6h.1M93.6 317.1h.1M74.0 366.7h.1M60.6 405.4h.1M51.0 388.3h.1M120.1 259.5h.1M69.6 268.5h.1M56.5 311.0h.1M128.2 295.9h.1M47.2 352.2h.1M130.9 314.5h.1M116.3 256.6h.1M110.1 312.1h.1M52.9 263.8h.1M74.2 359.5h.1M50.3 400.1h.1M68.0 283.7h.1M109.1 336.3h.1M150.2 265.8h.1M106.5 278.8h.1M42.0 289.2h.1M53.2 410.3h.1M109.5 351.5h.1M74.6 271.0h.1M140.0 319.7h.1M53.4 378.8h.1M104.1 306.0h.1M91.8 300.6h.1M123.2 281.1h.1M85.4 360.9h.1M106.7 265.7h.1M73.7 388.1h.1M118.5 264.7h.1M110.8 260.8h.1M154.9 257.0h.1M51.2 425.7h.1M88.1 284.9h.1M60.1 358.3h.1M52.5 348.5h.1M152.0 287.9h.1M111.4 313.2h.1M48.3 382.9h.1M136.7 268.1h.1M76.8 385.3h.1M148.9 267.6h.1M86.4 263.8h.1M103.8 388.8h.1M85.6 372.6h.1M62.5 376.7h.1M68.4 347.6h.1M121.4 292.4h.1M58.8 407.3h.1M68.0 286.4h.1M43.4 399.6h.1M107.2 300.2h.1M68.3 268.4h.1M69.8 309.2h.1M80.0 362.7h.1M71.0 391.1h.1M106.6 304.9h.1M132.6 303.1h.1M106.5 282.7h.1M64.3 307.0h.1M116.8 274.2h.1M67.3 350.0h.1M46.9 344.1h.1M59.7 270.6h.1M50.6 289.5h.1M55.2 262.3h.1M76.2 278.7h.1M73.8 414.8h.1M71.2 304.2h.1M97.2 380.0h.1M72.3 398.1h.1M62.2 343.9h.1M60.1 344.0h.1M167.6 266.1h.1M84.8 395.5h.1M94.6 378.0h.1M92.9 255.2h.1M84.8 334.7h.1M66.8 395.6h.1M71.9 315.3h.1M85.9 311.3h.1M139.4 268.3h.1M114.6 294.8h.1M46.0 341.5h.1M42.4 255.8h.1M46.2 411.0h.1M111.9 262.0h.1M127.1 318.2h.1M70.4 393.8h.1M68.5 263.6h.1M62.9 262.1h.1M67.3 291.3h.1M84.9 364.9h.1M118.8 379.8h.1M162.1 302.8h.1M98.6 309.9h.1M169.1 304.1h.1M86.1 399.6h.1M91.0 328.3h.1M52.2 354.6h.1M61.6 319.0h.1M124.1 303.2h.1M86.0 355.4h.1M70.8 257.6h.1M89.4 333.8h.1M138.2 285.6h.1M53.4 277.1h.1M69.7 269.9h.1M73.1 377.2h.1M59.8 352.3h.1M112.7 308.9h.1M47.1 378.7h.1M81.4 310.1h.1M64.1 318.7h.1M102.9 315.4h.1M70.2 362.3h.1M143.8 312.8h.1M56.4 273.6h.1M119.1 268.5h.1M95.4 336.4h.1M97.4 356.8h.1M49.7 331.7h.1M98.0 255.7h.1M73.7 361.7h.1M53.3 402.8h.1M147.2 311.4h.1M85.4 309.8h.1M109.5 364.0h.1M99.5 301.2h.1M85.2 266.3h.1M63.6 352.9h.1M57.5 391.9h.1M68.6 371.2h.1M93.9 362.1h.1M50.9 305.3h.1M134.9 309.1h.1M79.4 304.6h.1M78.2 273.1h.1M52.7 256.9h.1M69.4 282.5h.1M100.4 318.0h.1M73.1 302.3h.1M82.6 281.3h.1M110.9 373.2h.1M113.2 318.3h.1M83.9 292.3h.1M91.5 286.4h.1M46.1 367.3h.1M98.3 344.3h.1M54.9 312.9h.1M69.6 327.6h.1M43.9 259.2h.1M71.2 353.6h.1M87.5 416.2h.1M69.8 363.8h.1M84.4 322.2h.1M98.0 330.5h.1M76.4 372.0h.1M72.1 274.2h.1M111.7 273.1h.1M135.1 262.4h.1M124.9 262.1h.1M46.0 362.2h.1M79.4 300.6h.1M51.9 325.0h.1M60.5 276.0h.1M80.1 399.9h.1M87.9 403.7h.1M110.8 378.3h.1M104.7 319.8h.1M82.9 295.9h.1M65.2 308.4h.1M142.9 280.8h.1M74.6 291.7h.1M50.9 358.8h.1M49.0 365.4h.1M77.5 298.2h.1M98.0 389.7h.1M64.7 294.4h.1M82.7 383.5h.1M142.4 315.2h.1M101.7 263.8h.1M119.7 299.6h.1M61.2 303.9h.1M71.5 259.0h.1M96.7 320.0h.1M117.1 276.0h.1M55.5 320.7h.1M136.8 277.3h.1M120.6 299.8h.1M61.5 360.3h.1M69.5 366.0h.1M90.6 268.1h.1M63.3 281.4h.1M72.0 270.5h.1M90.4 359.2h.1M57.1 390.4h.1M74.7 366.6h.1M61.8 325.1h.1M52.5 377.8h.1M101.7 281.9h.1M64.3 408.8h.1M77.9 279.8h.1M89.7 338.0h.1M76.1 313.3h.1M54.4 313.2h.1M78.0 339.6h.1M101.2 274.0h.1M57.0 364.4h.1M147.8 297.6h.1M116.4 261.9h.1M51.7 378.5h.1M64.7 355.1h.1M110.1 337.7h.1M63.2 332.7h.1M63.7 297.6h.1M43.7 297.2h.1M64.4 339.4h.1M90.3 261.9h.1M61.3 334.9h.1M56.4 304.3h.1M73.9 392.6h.1M41.5 347.6h.1M46.8 390.7h.1M60.9 315.7h.1M70.6 361.4h.1M90.2 401.0h.1M133.4 275.8h.1M102.9 381.7h.1M41.2 411.8h.1M81.9 352.2h.1M67.8 349.9h.1M76.0 353.0h.1M116.5 360.3h.1M62.3 297.7h.1M130.0 280.5h.1M70.2 378.8h.1M54.3 421.3h.1M48.2 410.7h.1M135.2 340.7h.1M83.6 286.2h.1M123.0 272.0h.1M83.3 286.2h.1M137.0 341.6h.1M65.3 346.5h.1M122.4 291.3h.1M42.7 315.0h.1M97.1 342.5h.1M119.0 375.7h.1M63.2 363.4h.1M59.7 366.6h.1M64.9 375.6h.1M60.7 390.1h.1M87.9 289.1h.1M136.3 261.6h.1M95.9 388.2h.1M111.2 322.0h.1M61.9 380.1h.1M87.9 337.3h.1M110.2 260.8h.1M92.2 342.6h.1M128.9 297.3h.1M46.1 298.3h.1M124.0 263.1h.1M51.4 316.3h.1M60.3 411.3h.1M126.5 316.6h.1M51.5 382.1h.1M54.9 382.1h.1M59.6 410.0h.1M60.9 333.8h.1M87.8 270.8h.1M57.0 388.7h.1M95.3 335.5h.1M70.7 285.1h.1M73.2 314.6h.1M101.4 346.6h.1M88.4 296.3h.1M75.5 321.8h.1M60.9 311.5h.1M65.6 336.3h.1M133.2 314.3h.1M140.2 269.0h.1M126.5 348.5h.1M72.8 317.9h.1M130.6 327.2h.1M86.4 401.4h.1M66.7 300.3h.1M63.5 350.6h.1M106.2 281.0h.1M60.9 285.0h.1M75.9 334.6h.1M73.6 400.8h.1M69.1 404.0h.1M65.1 294.7h.1M68.8 295.4h.1M64.2 401.4h.1M61.1 321.2h.1M61.6 268.4h.1M97.0 345.0h.1M43.3 332.6h.1M66.9 327.9h.1M62.8 321.2h.1M53.2 408.9h.1M64.4 278.5h.1M117.2 307.1h.1M140.5 334.6h.1M126.3 362.6h.1M74.0 347.3h.1M108.8 256.5h.1M49.7 346.1h.1M55.3 355.8h.1M104.8 326.6h.1M98.8 358.0h.1M44.5 355.9h.1M63.9 392.3h.1M97.8 279.9h.1M96.9 304.4h.1M44.0 404.8h.1M63.6 304.2h.1M127.1 299.3h.1M53.1 308.7h.1M65.0 270.0h.1M101.0 315.0h.1M42.1 455.1h.1M98.5 297.0h.1M67.9 379.6h.1M132.6 315.0h.1M109.0 299.1h.1M41.6 348.7h.1M74.5 300.1h.1M59.0 257.6h.1M54.6 388.7h.1M86.0 281.1h.1M51.2 295.8h.1M173.8 290.7h.1M55.6 287.1h.1M53.8 322.5h.1M69.3 343.2h.1M77.0 431.4h.1M71.3 281.4h.1M73.7 312.1h.1M67.5 290.1h.1M129.1 298.8h.1M124.4 288.4h.1M141.0 340.5h.1M73.8 367.0h.1M61.5 389.6h.1M70.0 374.5h.1M63.5 259.2h.1M49.9 283.0h.1M122.6 367.1h.1M83.2 366.6h.1M65.9 422.4h.1M62.3 331.3h.1M57.0 316.2h.1M73.4 326.8h.1M67.0 297.1h.1M63.6 295.6h.1M89.4 263.0h.1M47.8 272.2h.1M80.3 274.0h.1M63.3 274.1h.1M113.7 325.0h.1M68.6 408.6h.1M144.3 311.3h.1M81.6 343.5h.1M86.4 404.0h.1M82.3 385.4h.1M68.0 366.0h.1M44.1 381.7h.1M74.3 348.4h.1M67.0 256.0h.1M93.9 359.3h.1M42.4 408.4h.1M144.6 329.8h.1M81.4 396.9h.1M52.9 384.9h.1M64.7 386.9h.1M102.2 259.9h.1M67.3 357.3h.1M45.3 359.0h.1M123.1 273.4h.1M93.8 406.8h.1M40.9 306.8h.1M82.4 348.9h.1M70.1 257.3h.1M135.3 356.3h.1M47.3 392.8h.1M84.2 335.1h.1M107.7 346.3h.1M78.7 318.5h.1M49.4 367.5h.1M74.6 359.4h.1M109.1 257.7h.1M69.0 260.2h.1M65.5 277.5h.1M135.0 277.8h.1M94.1 342.1h.1M55.0 261.7h.1M73.5 394.0h.1M55.4 336.8h.1M122.9 338.1h.1M50.3 395.5h.1M128.2 275.8h.1M115.5 345.1h.1M57.3 352.1h.1M96.0 374.2h.1M54.4 304.8h.1M42.6 332.5h.1M80.6 260.1h.1M62.5 309.3h.1M91.8 269.7h.1M94.2 343.6h.1M97.7 343.0h.1M71.5 414.6h.1M91.8 404.9h.1M75.5 380.0h.1M59.3 346.0h.1M54.7 315.3h.1M91.9 302.3h.1M92.0 374.4h.1M84.7 293.0h.1M104.9 312.9h.1M82.3 343.5h.1M55.9 359.3h.1M70.9 401.0h.1M96.3 368.4h.1M93.0 371.7h.1M50.0 365.8h.1M51.2 372.7h.1M73.1 394.4h.1M102.2 374.6h.1M52.9 378.4h.1M69.7 341.4h.1M71.6 330.4h.1M48.9 415.6h.1M62.8 396.0h.1M80.0 394.5h.1M50.8 295.7h.1M42.3 374.3h.1M52.0 397.6h.1M146.4 302.7h.1M83.8 393.3h.1M91.5 363.8h.1M82.6 317.1h.1M92.2 293.2h.1M96.5 258.9h.1M52.3 415.7h.1M89.9 269.5h.1M129.0 325.9h.1M52.7 380.7h.1M90.1 289.3h.1M70.7 267.7h.1M52.0 317.2h.1M55.1 369.7h.1M69.8 309.1h.1M76.6 354.3h.1M44.2 389.3h.1M42.7 257.3h.1M166.8 297.5h.1M103.9 341.6h.1M60.5 323.6h.1M46.5 285.0h.1M123.4 265.7h.1M51.5 357.3h.1M134.4 301.0h.1M81.0 401.9h.1M133.0 271.2h.1M94.1 334.5h.1M90.5 400.6h.1M71.1 346.9h.1M90.4 328.5h.1M41.0 321.5h.1M99.9 374.2h.1M52.2 340.4h.1M97.7 341.3h.1M62.3 393.0h.1M170.2 303.0h.1M66.9 298.1h.1M45.5 403.7h.1M45.1 269.9h.1M41.9 384.3h.1M81.2 271.7h.1M84.5 338.1h.1M73.4 351.3h.1M54.4 259.7h.1M127.8 345.6h.1M93.4 259.2h.1M73.9 312.3h.1M79.7 318.4h.1M91.0 260.9h.1M56.5 294.9h.1M77.8 303.6h.1M55.5 269.4h.1M78.9 351.8h.1M57.1 385.8h.1M85.1 412.1h.1M63.1 261.7h.1M135.6 266.7h.1M74.4 387.6h.1M47.2 275.0h.1M58.2 378.5h.1M72.6 300.8h.1M90.7 290.5h.1M101.3 283.5h.1M68.9 345.9h.1M56.9 311.6h.1M49.9 283.4h.1M76.4 325.9h.1M69.2 281.0h.1M76.6 284.9h.1M89.9 339.9h.1M67.1 394.1h.1M75.6 381.2h.1M56.3 393.7h.1M78.5 258.7h.1M80.8 380.6h.1M68.8 278.6h.1M42.0 326.4h.1M73.1 366.2h.1M88.8 289.4h.1M60.6 335.8h.1M136.2 303.5h.1M107.5 285.7h.1M54.7 280.3h.1M82.0 294.9h.1M61.9 392.9h.1M51.9 330.0h.1M115.2 373.4h.1M85.4 375.5h.1M41.2 319.4h.1M56.5 408.6h.1M78.1 307.8h.1M59.2 256.5h.1M81.8 302.2h.1M67.3 335.7h.1M91.1 312.0h.1M62.3 314.7h.1M50.6 326.9h.1M66.4 265.1h.1M50.2 386.7h.1M112.8 348.2h.1M98.4 268.0h.1M97.6 296.5h.1M129.0 349.4h.1M52.2 338.4h.1M66.4 272.2h.1M110.6 361.5h.1M52.9 377.2h.1M70.5 355.0h.1M78.4 328.0h.1M99.0 312.9h.1M45.7 393.3h.1M97.4 319.0h.1M43.8 265.1h.1M53.5 389.0h.1M58.9 300.4h.1M123.8 262.0h.1M106.3 343.0h.1M93.4 292.8h.1M85.6 394.4h.1M90.6 361.1h.1M74.0 268.0h.1M73.6 314.1h.1M113.6 351.0h.1M50.3 382.1h.1M63.6 397.9h.1M73.3 400.2h.1M88.7 366.9h.1M91.0 366.1h.1M77.1 329.5h.1M74.4 404.0h.1M88.4 381.9h.1M43.0 399.4h.1M99.6 360.5h.1M49.7 260.6h.1M93.6 280.0h.1M47.1 266.8h.1M130.1 321.8h.1M66.6 367.9h.1M45.8 352.7h.1M105.7 351.6h.1M45.4 339.7h.1M124.0 343.6h.1M83.6 299.3h.1M54.7 390.3h.1M70.8 293.7h.1M44.4 335.2h.1M105.8 261.5h.1M55.8 379.7h.1M80.7 299.1h.1M48.9 417.7h.1M87.4 257.2h.1M125.3 320.8h.1M90.8 275.4h.1M53.4 349.3h.1M155.3 285.7h.1M113.1 305.8h.1M134.0 261.6h.1M43.0 269.9h.1M153.1 254.1h.1M105.4 332.1h.1M74.6 365.9h.1M55.4 428.2h.1M57.0 389.2h.1M95.5 262.5h.1M95.9 292.6h.1M80.2 421.1h.1M108.5 272.2h.1M134.7 314.2h.1M90.9 308.1h.1M116.1 339.8h.1M69.2 314.2h.1M94.0 380.3h.1M98.7 359.8h.1M65.8 396.7h.1M141.2 278.2h.1M104.3 331.5h.1M68.9 362.6h.1M111.0 349.7h.1M92.2 256.5h.1M118.9 365.2h.1M80.6 254.1h.1M101.9 315.2h.1M108.1 265.7h.1M54.4 383.5h.1M86.5 299.4h.1M55.8 306.2h.1M67.2 309.8h.1M158.6 311.1h.1M95.9 287.3h.1M105.5 314.2h.1M80.6 313.0h.1M45.1 334.3h.1M108.4 261.1h.1M93.9 256.2h.1M122.3 301.8h.1M121.6 287.5h.1M113.9 317.1h.1M62.0 366.8h.1M48.1 340.9h.1M69.9 385.5h.1M72.7 363.1h.1M51.0 388.8h.1M85.5 297.1h.1M59.1 341.7h.1M96.3 363.9h.1M99.5 274.1h.1M114.9 320.7h.1M77.7 352.3h.1M57.4 380.7h.1M87.5 281.7h.1M94.5 273.5h.1M70.1 391.4h.1M44.8 346.8h.1M48.3 374.4h.1M139.1 294.6h.1M48.5 414.8h.1M123.4 324.8h.1M41.2 319.4h.1M142.0 343.0h.1M47.5 343.3h.1M50.8 334.1h.1M95.3 262.3h.1M120.4 285.5h.1M118.1 310.0h.1M110.3 330.0h.1M64.8 393.7h.1M103.1 294.0h.1M49.4 401.4h.1M103.9 393.2h.1M96.2 373.7h.1M59.6 342.6h.1M49.9 302.9h.1M126.0 338.9h.1M97.9 336.2h.1M49.5 338.3h.1M54.4 377.5h.1M152.2 291.6h.1M56.8 431.9h.1M143.2 279.0h.1M164.6 262.4h.1M71.4 354.3h.1M125.2 261.7h.1M79.3 331.6h.1M55.5 366.9h.1M72.7 393.5h.1M82.8 254.6h.1M48.6 290.6h.1M91.4 355.3h.1M111.6 256.0h.1M136.6 262.9h.1M150.4 262.7h.1M64.8 330.6h.1M86.4 330.6h.1M62.3 420.4h.1M112.6 265.1h.1M136.7 286.6h.1M66.7 394.4h.1M105.3 342.6h.1M86.0 312.8h.1M132.0 387.6h.1M59.3 338.9h.1M86.2 303.4h.1M130.4 287.5h.1M190.2 407.2h.1M213.3 292.6h.1M102.8 262.2h.1M156.2 360.9h.1M178.5 358.6h.1M150.1 405.1h.1M65.7 366.4h.1M97.0 398.7h.1M223.6 274.2h.1M83.5 277.4h.1M225.4 347.5h.1M120.0 271.8h.1M156.9 289.0h.1M188.9 345.7h.1M61.2 400.9h.1M125.0 285.5h.1M45.2 389.4h.1M43.0 391.1h.1M42.0 399.1h.1M43.0 349.2h.1M42.5 400.9h.1M41.5 335.5h.1M44.0 329.5h.1M45.9 400.9h.1M40.1 403.1h.1M51.1 406.9h.1M45.1 339.8h.1M46.8 354.1h.1M47.5 371.6h.1M44.3 333.7h.1M42.0 419.8h.1M41.2 369.0h.1M47.8 410.8h.1M42.6 392.7h.1M43.8 352.6h.1M47.7 333.9h.1M56.4 322.8h.1M40.4 392.7h.1M40.2 364.6h.1M42.4 367.9h.1M47.3 370.2h.1M44.8 355.6h.1M44.3 347.9h.1M43.4 364.0h.1M55.9 333.6h.1M41.2 359.7h.1M47.9 389.1h.1M40.6 386.5h.1M41.7 426.6h.1M43.9 343.3h.1M43.5 371.2h.1M43.2 335.9h.1M40.0 368.6h.1M43.6 361.5h.1M44.9 351.9h.1M40.2 313.6h.1M41.7 377.8h.1M44.9 365.6h.1M41.2 348.7h.1M44.8 364.6h.1M40.1 374.8h.1M46.4 373.9h.1M46.4 380.4h.1M41.0 347.6h.1M41.8 341.8h.1M45.0 379.1h.1M45.1 337.0h.1M44.2 433.3h.1M40.1 372.7h.1M56.5 304.1h.1M41.1 371.6h.1M45.8 431.6h.1M42.4 330.2h.1M45.5 326.9h.1M44.3 340.5h.1M42.2 324.5h.1M40.7 355.0h.1M44.3 277.6h.1M45.3 309.8h.1M47.8 375.7h.1M40.3 366.2h.1M43.9 370.2h.1M40.5 398.8h.1M46.3 386.6h.1M40.5 384.4h.1M48.7 352.0h.1M48.3 437.4h.1M53.5 377.6h.1M40.7 326.7h.1M41.9 349.0h.1M41.8 368.2h.1M45.8 355.0h.1M42.3 390.4h.1M48.6 376.2h.1M44.2 356.9h.1M43.6 320.5h.1M55.7 392.8h.1M40.8 388.6h.1M45.2 386.4h.1M42.2 349.4h.1M41.4 361.0h.1M40.5 402.6h.1M44.0 379.2h.1M41.4 270.8h.1M41.0 400.4h.1M40.7 345.4h.1M42.9 426.5h.1M41.1 370.6h.1M43.7 321.3h.1M44.8 339.5h.1M42.1 378.2h.1M45.3 381.1h.1M42.2 403.4h.1M40.7 341.7h.1M44.4 314.5h.1M44.6 379.2h.1M43.5 398.2h.1M41.8 370.4h.1M47.9 345.1h.1M41.3 438.0h.1M43.4 329.6h.1M43.4 403.0h.1M42.2 377.9h.1M41.5 330.1h.1M47.1 323.8h.1M41.6 337.8h.1M43.7 409.0h.1M46.2 348.8h.1M43.5 344.6h.1M44.4 347.0h.1M42.9 337.4h.1M41.7 333.9h.1M49.9 438.5h.1M40.8 343.2h.1M45.0 411.3h.1M44.9 335.4h.1M41.1 376.9h.1M39.9 352.7h.1M43.0 356.8h.1M42.0 343.5h.1M46.9 367.2h.1M44.0 408.6h.1M42.0 376.5h.1M40.2 424.4h.1M40.7 380.4h.1M46.4 343.2h.1M42.2 315.6h.1M52.8 349.2h.1M49.5 380.9h.1M40.1 345.0h.1M42.0 372.5h.1M41.1 383.6h.1M41.5 375.6h.1M43.4 364.9h.1M44.1 388.5h.1M43.0 356.7h.1M41.7 401.6h.1M48.4 352.7h.1M47.6 393.2h.1M40.0 397.9h.1M41.6 374.3h.1M40.1 395.7h.1M41.7 427.1h.1M40.2 394.9h.1M40.5 345.0h.1M45.8 360.3h.1M45.0 417.1h.1M46.3 393.4h.1M40.5 409.9h.1M48.9 406.5h.1M49.7 372.5h.1M50.5 283.0h.1M42.4 261.4h.1M41.9 403.3h.1M43.9 405.3h.1M42.8 274.6h.1M44.0 403.1h.1M43.5 284.8h.1M48.8 371.6h.1M41.1 436.1h.1M47.6 420.2h.1M41.9 393.1h.1M42.2 332.3h.1M41.2 439.5h.1M44.3 392.1h.1M57.7 444.0h.1M41.8 340.2h.1M43.8 324.8h.1M53.1 421.8h.1M43.8 425.2h.1M44.9 312.2h.1M47.8 272.3h.1M45.0 440.0h.1M40.8 395.2h.1M47.0 319.6h.1M39.8 285.4h.1M41.5 345.8h.1M43.4 266.6h.1M43.9 422.2h.1M41.7 403.3h.1M43.7 390.6h.1M43.2 288.9h.1M49.7 321.2h.1M44.4 416.9h.1M56.7 363.3h.1M53.6 308.4h.1M40.8 456.4h.1M40.7 427.8h.1M41.0 433.9h.1M40.9 455.7h.1M41.3 455.0h.1M40.9 439.4h.1M40.5 444.5h.1M41.2 443.2h.1M41.1 437.6h.1M40.8 447.3h.1M40.7 427.7h.1M41.5 446.5h.1M41.1 444.2h.1M40.9 457.9h.1M41.2 450.0h.1M40.8 453.3h.1M41.0 432.3h.1M40.9 455.9h.1M40.9 456.9h.1M41.1 455.5h.1M41.2 456.1h.1M40.9 442.6h.1M41.0 444.2h.1M41.1 438.3h.1M40.7 438.6h.1M40.8 455.3h.1M41.2 436.2h.1M41.0 456.7h.1M41.2 458.6h.1M40.6 433.6h.1M41.3 447.4h.1M41.0 437.7h.1M40.7 458.6h.1M41.1 427.7h.1M41.3 451.3h.1M41.2 450.9h.1M41.0 436.6h.1M41.0 440.9h.1M41.1 447.2h.1M40.9 432.2h.1M41.3 446.0h.1M41.1 447.6h.1M41.1 429.0h.1M40.8 438.3h.1M40.6 441.0h.1M41.2 457.1h.1M41.0 441.7h.1M40.8 454.7h.1M84.9 253.9h.1M44.5 253.9h.1M141.2 253.9h.1M63.4 254.6h.1M100.7 254.6h.1M124.0 253.9h.1M50.1 253.9h.1M140.6 253.9h.1M127.0 253.9h.1M69.8 253.9h.1M68.2 254.6h.1M102.8 254.6h.1M102.7 253.9h.1M65.7 253.9h.1M42.2 253.9h.1M132.3 254.6h.1M66.4 254.6h.1M66.6 254.6h.1M45.1 253.9h.1M118.1 253.9h.1M134.1 253.9h.1M60.8 253.9h.1M54.9 253.9h.1M91.0 253.9h.1M126.9 253.9h.1M100.7 254.6h.1M42.8 253.9h.1M139.9 254.6h.1M60.7 253.9h.1M143.3 253.9h.1M123.9 253.9h.1M53.2 253.9h.1M62.4 254.6h.1M56.1 253.9h.1M40.2 254.6h.1M101.3 254.6h.1M111.1 253.9h.1M95.5 254.6h.1M92.8 253.9h.1M78.6 254.6h.1M52.8 253.9h.1M92.2 253.9h.1M146.9 253.9h.1M81.0 253.9h.1M104.6 253.9h.1M67.6 253.9h.1M61.3 253.9h.1M140.7 253.9h.1M77.1 254.6h.1M120.3 253.9h.1M94.7 253.9h.1M68.1 254.6h.1M90.4 253.9h.1M67.8 253.9h.1M43.6 254.6h.1M51.9 253.9h.1M69.0 253.9h.1M52.4 253.9h.1M121.7 253.9h.1M113.8 253.9h.1M136.3 253.9h.1M60.2 253.9h.1M62.4 254.6h.1M97.3 253.9h.1M78.8 254.6h.1M80.1 254.6h.1M50.8 254.6h.1M46.1 253.9h.1M127.8 254.6h.1M135.3 254.6h.1M54.3 254.6h.1M52.9 253.9h.1M49.5 254.6h.1M69.6 253.9h.1M94.4 254.6h.1M136.1 253.9h.1M44.9 253.9h.1M71.3 253.9h.1M123.4 253.9h.1M134.9 253.9h.1M98.3 254.6h.1M97.1 253.9h.1M69.0 253.9h.1M45.9 253.9h.1M95.5 253.9h.1M133.2 253.9h.1M106.5 253.9h.1M131.1 253.9h.1M102.6 254.6h.1M75.1 253.9h.1M83.8 253.9h.1M88.9 254.6h.1M50.3 254.6h.1M118.9 254.6h.1M82.5 253.9h.1M89.3 254.6h.1M82.9 253.9h.1M48.7 254.6h.1M49.1 253.9h.1M130.4 253.9h.1M87.7 253.9h.1M132.3 253.9h.1M58.9 253.9h.1M96.2 253.9h.1M110.9 253.9h.1M135.4 253.9h.1M93.3 253.9h.1M86.5 253.9h.1M50.5 253.9h.1M95.6 254.6h.1M44.1 253.9h.1M77.2 253.9h.1M119.9 253.9h.1M52.2 253.9h.1M126.2 253.9h.1M140.1 253.9h.1M46.0 253.9h.1M43.8 254.6h.1M98.5 253.9h.1M54.0 254.6h.1M123.8 253.9h.1M73.8 253.9h.1M49.9 254.6h.1M109.1 254.6h.1M58.5 253.9h.1M102.9 253.9h.1M92.1 254.6h.1M99.4 253.9h.1M146.1 253.9h.1M47.1 253.9h.1M121.9 253.9h.1M57.4 253.9h.1M125.0 253.9h.1M74.3 254.6h.1M105.5 253.9h.1M136.6 253.9h.1M96.3 253.9h.1M112.7 253.9h.1M42.6 253.9h.1M48.1 253.9h.1M68.9 253.9h.1M62.3 253.9h.1M106.9 253.9h.1M75.7 253.9h.1M142.3 254.6h.1M93.5 253.9h.1M67.7 253.9h.1M135.1 253.9h.1M70.5 253.9h.1M106.5 253.9h.1M135.3 254.6h.1M118.1 253.9h.1M60.1 254.6h.1M109.5 254.6h.1M124.5 253.9h.1M61.1 253.9h.1M96.7 254.6h.1M82.2 253.9h.1M50.7 254.6h.1M103.2 253.9h.1M101.0 253.9h.1M120.4 254.6h.1M105.7 253.9h.1M121.7 253.9h.1M114.7 253.9h.1M111.2 253.9h.1M117.4 253.9h.1M89.7 254.6h.1M103.9 254.6h.1M78.7 253.9h.1M125.0 253.9h.1M103.8 253.9h.1M77.3 253.9h.1M138.2 253.9h.1M146.0 253.9h.1M130.0 253.9h.1M89.2 254.6h.1M62.2 253.9h.1M134.7 253.9h.1M47.9 253.9h.1M140.1 253.9h.1M141.0 254.6h.1M101.7 254.6h.1M52.9 253.9h.1M64.2 253.9h.1M114.6 253.9h.1M64.4 254.6h.1M126.8 253.9h.1M66.7 253.9h.1M66.8 254.6h.1M117.1 253.9h.1M137.2 253.9h.1M128.8 253.9h.1M66.7 254.6h.1M135.9 253.9h.1M99.2 254.6h.1M140.5 253.9h.1M144.7 253.9h.1M61.4 253.9h.1M70.9 254.6h.1M174.2 253.9h.1M200.4 254.6h.1M216.3 253.9h.1M219.6 254.6h.1M172.3 253.9h.1M187.7 253.9h.1M174.7 253.9h.1M189.4 253.9h.1M163.9 253.9h.1M156.4 254.6h.1M208.8 253.9h.1M191.4 254.6h.1M176.5 254.6h.1M157.4 253.9h.1M155.1 254.6h.1M227.1 253.9h.1M211.2 253.9h.1M167.0 253.9h.1M217.6 253.9h.1M188.9 253.9h.1M181.4 253.9h.1M205.1 253.9h.1M217.6 253.9h.1M199.4 253.9h.1M202.7 254.6h.1M203.4 253.9h.1M208.6 253.9h.1M203.1 253.9h.1M191.0 253.9h.1M207.6 253.9h.1M155.1 254.6h.1M185.5 253.9h.1M222.4 254.6h.1M189.0 253.9h.1M177.2 253.9h.1M203.3 253.9h.1M200.1 253.9h.1M159.1 253.9h.1M218.6 253.9h.1M195.3 253.9h.1M187.1 253.9h.1M164.0 253.9h.1M177.3 253.9h.1M203.2 253.9h.1M177.0 253.9h.1M164.4 253.9h.1M167.9 254.6h.1M186.7 253.9h.1M179.5 254.6h.1M225.0 253.9h.1M149.8 253.9h.1M208.0 253.9h.1M193.5 253.9h.1M189.2 253.9h.1M185.2 253.9h.1M208.8 254.6h.1M173.2 253.9h.1M170.2 253.9h.1M192.1 253.9h.1M222.2 253.9h.1M164.1 253.9h.1M187.7 254.6h.1M212.3 253.9h.1M189.5 253.9h.1M195.0 254.6h.1M186.0 253.9h.1M222.9 253.9h.1M188.7 253.9h.1M200.8 254.6h.1M207.3 253.9h.1M151.9 253.9h.1M147.5 253.9h.1M165.2 253.9h.1M217.7 253.9h.1M204.6 254.6h.1"/>
<polygon class="g" points="67.3,296.6 76.1,298.5 76.6,319 75.1,344.3 72.2,373.6 69.2,389.2 65.3,412.6 61.4,424.3 59.5,424.3 55.2,408.7 54.6,383.4 56,375 57.2,361.9 59.5,338.5 61,319 64.4,305.3"/>
<polygon class="g" points="86.8,368.8 90.3,371.3 104.3,368.2 103.4,383.4 98.5,404.8 86.8,436 81.9,439.9 64.4,446.7 58.5,438 57.5,432.1 63.4,418.5 69.2,404.8 79,381.4"/>
<text class="r" x="94.0" y="293.1">Region 2</text>
<text class="n" x="184.4" y="288.7">(22)</text>
<text class="r" x="80.4" y="454.5">Region 1</text>
<text class="n" x="170.8" y="454.5">(48)</text>
<text class="L" x="-0.4" y="267.5">C</text>
<g fill="none" stroke="#1a1a1a" stroke-width="1.1">
<path d="M313.2 253.1V459.8H514.8V253.1Z"/>
<path stroke-width="1" d="M313.2 459.8v4.8M313.2 459.8h-4.8M321.1 459.8v2.2M313.2 451.7h-2.2M329.0 459.8v2.2M313.2 443.6h-2.2M337.0 459.8v2.2M313.2 435.5h-2.2M344.9 459.8v2.2M313.2 427.4h-2.2M352.8 459.8v4.8M313.2 419.3h-4.8M360.7 459.8v2.2M313.2 411.2h-2.2M368.6 459.8v2.2M313.2 403.2h-2.2M376.6 459.8v2.2M313.2 395.1h-2.2M384.5 459.8v2.2M313.2 387.0h-2.2M392.4 459.8v4.8M313.2 378.9h-4.8M400.3 459.8v2.2M313.2 370.8h-2.2M408.2 459.8v2.2M313.2 362.7h-2.2M416.2 459.8v2.2M313.2 354.6h-2.2M424.1 459.8v2.2M313.2 346.5h-2.2M432.0 459.8v4.8M313.2 338.4h-4.8M439.9 459.8v2.2M313.2 330.3h-2.2M447.8 459.8v2.2M313.2 322.2h-2.2M455.8 459.8v2.2M313.2 314.1h-2.2M463.7 459.8v2.2M313.2 306.1h-2.2M471.6 459.8v4.8M313.2 298.0h-4.8M479.5 459.8v2.2M313.2 289.9h-2.2M487.4 459.8v2.2M313.2 281.8h-2.2M495.4 459.8v2.2M313.2 273.7h-2.2M503.3 459.8v2.2M313.2 265.6h-2.2M511.2 459.8v4.8M313.2 257.5h-4.8"/>
</g>
<g class="t">
<text x="313.2" y="473.4" text-anchor="middle">0</text>
<text transform="translate(306.9 459.8) rotate(-90)" text-anchor="middle">0</text>
<text x="352.8" y="473.4" text-anchor="middle">50</text>
<text transform="translate(306.9 419.3) rotate(-90)" text-anchor="middle">50</text>
<text x="392.4" y="473.4" text-anchor="middle">100</text>
<text transform="translate(306.9 378.9) rotate(-90)" text-anchor="middle">100</text>
<text x="432.0" y="473.4" text-anchor="middle">150</text>
<text transform="translate(306.9 338.4) rotate(-90)" text-anchor="middle">150</text>
<text x="471.6" y="473.4" text-anchor="middle">200</text>
<text transform="translate(306.9 298.0) rotate(-90)" text-anchor="middle">200</text>
<text x="511.2" y="473.4" text-anchor="middle">250</text>
<text transform="translate(306.9 257.5) rotate(-90)" text-anchor="middle">250</text>
</g>
<text class="ax" x="415.0" y="484.4" text-anchor="middle">FSC-H</text>
<text class="ax" transform="translate(294.6 355.4) rotate(-90)" text-anchor="middle">SSC-H</text>
<path class="d" d="M352.4 392.5h.1M353.3 353.1h.1M350.4 381.9h.1M360.2 321.0h.1M353.6 342.2h.1M349.9 343.2h.1M348.0 377.9h.1M349.1 426.5h.1M355.6 320.4h.1M347.0 400.8h.1M348.9 400.1h.1M349.0 349.7h.1M350.5 393.9h.1M346.9 345.6h.1M359.5 316.4h.1M349.5 394.5h.1M347.0 351.2h.1M351.8 422.1h.1M351.2 383.4h.1M345.0 368.4h.1M347.5 420.5h.1M348.7 373.7h.1M353.9 388.1h.1M354.6 369.9h.1M354.3 350.0h.1M354.8 338.8h.1M345.5 346.5h.1M355.0 423.5h.1M352.7 387.3h.1M350.4 401.1h.1M348.3 352.9h.1M351.0 392.3h.1M351.2 350.0h.1M354.5 303.7h.1M353.1 418.2h.1M355.2 394.5h.1M347.3 386.0h.1M351.6 338.4h.1M357.2 347.7h.1M349.0 409.6h.1M350.5 355.1h.1M349.3 384.7h.1M352.0 323.3h.1M358.5 421.9h.1M354.6 382.6h.1M357.5 342.4h.1M348.0 367.5h.1M351.9 364.6h.1M347.1 432.1h.1M358.2 431.3h.1M347.2 414.4h.1M356.3 381.1h.1M354.6 422.9h.1M359.9 307.5h.1M354.8 311.4h.1M350.0 363.6h.1M358.7 412.3h.1M354.9 359.4h.1M354.5 338.5h.1M347.4 401.1h.1M352.2 357.8h.1M347.1 429.3h.1M346.1 330.3h.1M348.5 410.1h.1M350.2 370.8h.1M356.7 428.4h.1M353.1 395.3h.1M342.2 402.8h.1M351.2 327.9h.1M357.8 347.5h.1M353.9 389.3h.1M352.8 350.5h.1M342.8 429.7h.1M345.8 368.1h.1M355.7 408.7h.1M348.5 354.0h.1M348.5 310.6h.1M355.9 302.8h.1M356.4 338.8h.1M344.2 410.9h.1M349.8 408.0h.1M351.4 408.5h.1M346.8 335.6h.1M344.2 409.8h.1M353.1 327.8h.1M353.3 414.2h.1M358.9 325.2h.1M350.8 438.5h.1M349.7 399.6h.1M350.7 418.8h.1M345.0 396.5h.1M354.9 364.0h.1M359.7 315.9h.1M352.7 437.3h.1M352.6 387.2h.1M356.8 302.3h.1M357.0 351.9h.1M357.0 432.8h.1M347.5 367.4h.1M356.1 360.8h.1M347.4 351.3h.1M351.7 407.1h.1M344.9 382.0h.1M360.6 311.3h.1M352.7 411.2h.1M349.9 364.6h.1M351.3 342.7h.1M355.6 344.7h.1M352.4 436.7h.1M355.0 392.2h.1M350.3 338.0h.1M352.0 415.2h.1M361.1 422.5h.1M351.4 399.8h.1M358.1 344.9h.1M350.6 419.9h.1M349.4 428.6h.1M355.5 408.6h.1M351.2 410.0h.1M349.3 364.9h.1M346.4 367.6h.1M348.1 412.6h.1M350.6 371.5h.1M353.2 342.9h.1M356.9 407.3h.1M346.4 369.3h.1M346.3 386.7h.1M354.4 408.6h.1M348.3 311.2h.1M344.8 405.6h.1M346.8 401.7h.1M351.8 304.6h.1M353.2 356.0h.1M350.3 400.7h.1M350.4 405.1h.1M356.3 434.0h.1M346.5 386.9h.1M351.3 428.7h.1M356.0 419.6h.1M347.2 412.5h.1M355.2 429.6h.1M353.6 422.2h.1M352.4 377.5h.1M350.7 363.9h.1M352.9 349.5h.1M359.8 365.1h.1M348.2 370.2h.1M353.6 344.3h.1M348.0 376.0h.1M348.7 351.2h.1M351.6 370.5h.1M361.2 313.6h.1M348.5 411.0h.1M353.6 386.4h.1M350.1 360.2h.1M351.6 377.9h.1M357.0 412.6h.1M346.6 401.2h.1M352.6 347.9h.1M351.7 427.2h.1M358.1 326.5h.1M352.7 361.0h.1M353.5 376.6h.1M349.0 398.9h.1M352.8 331.7h.1M353.6 330.1h.1M356.9 434.0h.1M354.0 373.8h.1M345.3 395.9h.1M349.9 356.8h.1M346.1 362.7h.1M347.7 384.8h.1M357.5 412.1h.1M352.2 382.8h.1M356.7 389.4h.1M359.8 317.7h.1M356.1 324.7h.1M351.3 406.9h.1M353.3 435.8h.1M351.6 434.1h.1M355.3 390.1h.1M355.0 300.0h.1M350.2 339.9h.1M346.7 340.9h.1M350.6 439.9h.1M351.3 379.2h.1M353.9 377.9h.1M354.5 377.2h.1M351.2 312.2h.1M350.1 370.7h.1M358.6 366.3h.1M347.1 328.4h.1M353.3 365.1h.1M352.5 413.8h.1M353.7 413.6h.1M349.7 343.0h.1M351.9 376.3h.1M354.6 404.6h.1M359.9 406.4h.1M349.0 309.1h.1M349.4 409.1h.1M344.9 387.7h.1M358.4 316.1h.1M347.9 355.8h.1M347.0 305.0h.1M350.5 365.3h.1M351.4 396.1h.1M343.4 382.4h.1M353.5 360.6h.1M355.7 311.0h.1M360.8 322.1h.1M351.3 416.3h.1M358.4 353.8h.1M350.4 368.6h.1M355.7 354.7h.1M350.3 376.5h.1M361.4 317.3h.1M346.4 422.4h.1M356.8 334.4h.1M350.8 345.1h.1M354.3 402.5h.1M351.0 333.9h.1M357.7 338.4h.1M354.2 368.2h.1M354.7 373.9h.1M355.5 338.9h.1M358.9 341.3h.1M359.2 316.7h.1M348.1 405.1h.1M354.0 402.4h.1M352.8 418.2h.1M353.8 344.3h.1M352.2 407.8h.1M349.8 333.9h.1M352.5 360.6h.1M357.1 365.5h.1M355.9 411.7h.1M351.2 389.8h.1M353.2 312.0h.1M348.2 320.7h.1M351.4 422.5h.1M351.8 359.1h.1M353.6 428.0h.1M351.4 417.2h.1M352.4 413.9h.1M352.6 413.7h.1M349.8 396.5h.1M346.8 385.6h.1M344.4 366.2h.1M349.8 357.7h.1M349.7 396.7h.1M348.9 391.9h.1M356.7 341.4h.1M349.0 393.3h.1M357.8 435.0h.1M356.2 413.1h.1M351.2 403.5h.1M355.9 359.6h.1M343.8 404.6h.1M360.1 325.5h.1M346.7 337.6h.1M359.5 305.5h.1M351.5 410.6h.1M362.6 322.4h.1M352.5 368.4h.1M347.7 419.0h.1M349.6 439.5h.1M351.6 381.6h.1M349.1 404.3h.1M342.3 361.5h.1M354.6 303.5h.1M355.7 304.9h.1M351.2 375.6h.1M352.0 369.0h.1M370.7 398.2h.1M348.1 379.3h.1M352.5 401.2h.1M348.3 362.9h.1M354.5 302.2h.1M355.6 360.5h.1M360.5 352.0h.1M351.7 345.2h.1M348.9 434.6h.1M361.0 319.2h.1M355.0 347.2h.1M350.8 384.8h.1M345.6 372.0h.1M355.9 366.5h.1M353.7 324.1h.1M351.9 397.7h.1M349.8 413.1h.1M358.8 324.7h.1M354.7 392.9h.1M353.6 360.7h.1M348.4 376.6h.1M354.2 397.5h.1M348.0 416.0h.1M349.7 360.2h.1M349.2 362.7h.1M344.0 390.9h.1M354.4 354.1h.1M343.9 414.1h.1M353.3 415.0h.1M349.1 340.9h.1M353.9 407.2h.1M345.0 387.0h.1M349.3 345.8h.1M344.2 391.8h.1M352.0 359.4h.1M346.9 411.8h.1M354.6 333.2h.1M345.0 366.4h.1M351.3 377.0h.1M350.9 396.5h.1M350.6 374.7h.1M354.5 392.9h.1M359.7 317.5h.1M357.2 365.5h.1M349.0 348.8h.1M360.5 333.6h.1M353.8 414.1h.1M350.8 374.1h.1M355.9 361.8h.1M359.1 310.7h.1M356.7 438.0h.1M347.2 372.7h.1M352.9 363.3h.1M354.9 421.4h.1M345.7 338.6h.1M347.1 416.1h.1M349.6 362.3h.1M352.0 422.1h.1M354.0 371.2h.1M345.2 403.4h.1M358.3 424.1h.1M355.8 377.1h.1M345.5 368.7h.1M351.4 399.3h.1M346.8 425.5h.1M353.7 416.6h.1M349.1 431.1h.1M354.1 339.3h.1M352.3 412.7h.1M348.6 389.8h.1M352.6 402.2h.1M348.9 370.2h.1M355.9 368.5h.1M348.2 396.7h.1M348.7 384.9h.1M354.4 401.1h.1M352.0 327.2h.1M350.3 421.6h.1M356.7 423.7h.1M344.2 385.8h.1M351.8 410.4h.1M350.8 372.1h.1M356.5 338.3h.1M348.9 370.1h.1M348.0 402.2h.1M355.2 349.6h.1M352.3 358.7h.1M359.1 316.0h.1M352.0 431.5h.1M357.3 363.2h.1M359.4 299.6h.1M351.5 383.5h.1M357.2 324.5h.1M348.0 410.3h.1M348.5 336.8h.1M351.4 413.5h.1M353.4 374.3h.1M355.3 386.3h.1M350.1 338.9h.1M349.7 389.0h.1M352.2 415.5h.1M345.7 393.9h.1M351.7 364.3h.1M348.1 346.8h.1M352.3 339.5h.1M356.8 367.6h.1M349.3 423.9h.1M355.9 306.8h.1M352.2 302.8h.1M353.5 370.6h.1M354.0 432.3h.1M348.9 379.1h.1M349.4 329.4h.1M358.9 314.9h.1M349.4 356.3h.1M347.9 369.5h.1M344.3 397.0h.1M351.1 386.5h.1M357.1 322.0h.1M347.3 409.5h.1M354.9 404.9h.1M347.6 426.5h.1M356.9 395.4h.1M350.1 331.5h.1M349.7 348.5h.1M344.5 368.6h.1M348.8 376.8h.1M345.1 413.5h.1M355.1 310.1h.1M353.2 391.9h.1M346.5 363.6h.1M352.3 332.2h.1M347.6 414.8h.1M353.0 354.0h.1M348.0 374.4h.1M348.6 333.1h.1M353.6 384.2h.1M352.3 398.2h.1M359.6 302.2h.1M347.0 394.2h.1M357.3 324.8h.1M347.4 343.1h.1M349.7 409.6h.1M355.1 428.5h.1M358.7 319.4h.1M359.5 325.7h.1M349.4 426.2h.1M355.3 370.2h.1M353.9 353.0h.1M346.3 356.6h.1M351.4 417.4h.1M359.7 302.3h.1M349.2 433.5h.1M354.7 390.6h.1M350.0 393.4h.1M359.3 299.0h.1M348.5 397.1h.1M357.9 420.8h.1M360.4 364.6h.1M348.3 358.1h.1M348.3 412.8h.1M350.7 394.9h.1M346.4 413.3h.1M352.6 372.2h.1M345.8 384.5h.1M350.4 338.4h.1M351.7 347.4h.1M353.8 432.0h.1M351.4 429.1h.1M351.4 425.9h.1M355.4 410.8h.1M351.0 381.9h.1M355.2 423.9h.1M347.6 352.9h.1M356.0 368.3h.1M349.2 419.1h.1M354.8 427.7h.1M355.5 352.9h.1M352.1 407.2h.1M349.3 401.2h.1M348.7 398.1h.1M348.6 364.1h.1M359.8 307.2h.1M329.8 388.5h.1M354.0 412.1h.1M357.6 421.5h.1M350.0 369.3h.1M349.3 371.9h.1M354.8 424.2h.1M347.3 408.3h.1M350.4 333.6h.1M345.9 380.2h.1M354.0 404.6h.1M346.8 418.0h.1M353.2 340.0h.1M349.1 414.1h.1M353.3 400.8h.1M352.6 414.0h.1M355.4 413.7h.1M357.8 436.5h.1M350.8 438.5h.1M343.9 391.0h.1M351.9 354.8h.1M350.2 301.7h.1M359.8 420.2h.1M356.1 421.7h.1M357.9 322.5h.1M355.8 416.1h.1M350.4 356.9h.1M350.1 317.0h.1M344.2 387.2h.1M349.1 383.1h.1M348.5 438.5h.1M351.0 416.1h.1M347.0 398.1h.1M351.9 393.9h.1M344.9 370.9h.1M356.3 362.1h.1M353.3 386.7h.1M358.0 415.0h.1M353.7 311.3h.1M352.8 424.0h.1M354.9 323.5h.1M355.2 404.2h.1M347.1 367.2h.1M354.0 336.6h.1M348.4 363.4h.1M346.3 403.4h.1M347.3 433.6h.1M350.2 390.8h.1M345.7 401.3h.1M347.8 323.1h.1M352.9 428.5h.1M354.6 403.4h.1M343.4 345.1h.1M356.1 339.4h.1M349.0 345.5h.1M355.5 306.5h.1M353.7 359.6h.1M350.6 383.6h.1M346.6 345.8h.1M356.3 330.3h.1M351.6 421.9h.1M355.3 410.5h.1M357.4 428.7h.1M352.1 386.5h.1M349.7 361.4h.1M352.0 424.1h.1M347.1 376.4h.1M341.2 404.9h.1M346.6 353.7h.1M352.3 374.9h.1M348.6 362.0h.1M358.4 427.5h.1M351.6 317.8h.1M344.2 390.5h.1M351.3 366.4h.1M343.8 384.7h.1M357.7 333.9h.1M350.9 419.5h.1M359.3 330.4h.1M355.6 430.7h.1M351.3 336.3h.1M355.1 409.0h.1M350.7 362.9h.1M350.8 308.7h.1M351.4 318.9h.1M352.1 404.2h.1M341.8 403.8h.1M351.1 415.6h.1M349.1 358.7h.1M350.1 329.3h.1M350.7 327.9h.1M355.9 338.2h.1M344.8 359.1h.1M345.2 368.4h.1M345.7 333.7h.1M350.8 383.2h.1M351.9 344.0h.1M350.8 437.4h.1M352.6 348.9h.1M351.4 395.7h.1M356.3 350.7h.1M342.9 360.8h.1M351.8 347.9h.1M353.8 313.5h.1M345.9 401.0h.1M347.6 387.1h.1M350.5 390.8h.1M352.2 380.8h.1M352.1 395.4h.1M347.5 345.5h.1M347.0 393.7h.1M352.9 300.5h.1M351.5 389.1h.1M352.7 337.0h.1M347.2 366.0h.1M355.4 383.1h.1M353.1 341.9h.1M355.8 321.9h.1M347.7 396.7h.1M347.4 371.1h.1M353.5 398.7h.1M351.0 366.6h.1M355.4 356.2h.1M343.1 404.4h.1M349.1 356.9h.1M355.5 312.4h.1M354.1 390.9h.1M350.1 432.3h.1M352.7 377.9h.1M353.6 348.6h.1M353.0 354.6h.1M353.8 342.5h.1M348.0 389.6h.1M350.8 319.6h.1M357.7 415.6h.1M354.7 354.0h.1M361.0 319.4h.1M358.6 341.9h.1M353.1 337.0h.1M354.0 352.7h.1M358.6 309.3h.1M357.1 327.3h.1M352.8 393.7h.1M356.8 362.1h.1M350.7 420.5h.1M352.5 347.0h.1M340.6 350.6h.1M353.3 318.5h.1M357.2 301.9h.1M359.9 302.0h.1M347.3 435.5h.1M353.2 426.4h.1M356.3 341.0h.1M346.7 338.1h.1M349.2 364.1h.1M354.3 303.9h.1M358.8 362.0h.1M352.1 382.0h.1M353.5 431.2h.1M355.9 416.6h.1M345.7 391.0h.1M352.3 408.7h.1M347.8 429.0h.1M347.9 355.1h.1M357.7 346.8h.1M352.5 303.0h.1M356.1 353.3h.1M349.6 421.6h.1M347.8 405.4h.1M348.6 389.8h.1M351.7 358.4h.1M355.8 431.1h.1M347.8 419.2h.1M353.6 352.0h.1M359.8 321.7h.1M355.2 367.7h.1M357.8 313.7h.1M347.1 406.1h.1M346.8 399.7h.1M351.5 409.8h.1M352.6 424.8h.1M348.4 417.9h.1M347.5 386.8h.1M351.1 388.1h.1M349.2 423.7h.1M346.3 428.4h.1M344.8 395.2h.1M355.5 347.8h.1M341.2 402.1h.1M357.5 376.4h.1M351.9 420.2h.1M349.6 411.0h.1M350.3 393.5h.1M348.5 374.7h.1M351.3 407.3h.1M346.8 364.9h.1M348.9 424.1h.1M357.8 366.4h.1M350.9 365.2h.1M355.0 432.9h.1M356.7 325.4h.1M357.5 407.3h.1M351.3 417.7h.1M351.6 360.2h.1M345.2 365.7h.1M354.9 432.0h.1M358.7 408.7h.1M352.3 370.0h.1M362.0 313.3h.1M351.6 319.2h.1M347.0 402.8h.1M350.1 392.9h.1M354.6 329.2h.1M346.4 379.5h.1M347.0 364.8h.1M357.7 378.5h.1M351.1 390.6h.1M348.7 393.0h.1M347.4 400.7h.1M349.4 377.9h.1M353.8 385.7h.1M344.2 377.9h.1M352.3 332.2h.1M344.1 434.3h.1M354.8 376.1h.1M355.9 424.7h.1M347.3 396.1h.1M355.3 413.1h.1M349.6 365.6h.1M350.3 382.1h.1M349.7 344.0h.1M357.0 336.1h.1M351.9 369.4h.1M358.0 432.9h.1M356.6 362.0h.1M350.8 301.6h.1M354.3 394.7h.1M357.2 431.2h.1M351.1 345.7h.1M348.8 435.9h.1M346.7 373.7h.1M351.4 337.6h.1M353.0 332.8h.1M345.8 392.3h.1M348.0 395.5h.1M351.5 389.7h.1M348.8 392.3h.1M348.9 418.4h.1M353.8 417.9h.1M347.2 431.4h.1M353.6 426.7h.1M349.5 413.7h.1M350.1 365.9h.1M350.9 309.9h.1M350.3 366.7h.1M346.6 394.3h.1M351.3 358.5h.1M351.7 405.2h.1M351.7 397.7h.1M348.7 412.5h.1M347.3 388.0h.1M348.4 388.7h.1M344.0 409.1h.1M355.1 325.6h.1M356.0 335.9h.1M347.2 380.5h.1M350.0 366.8h.1M354.7 349.7h.1M354.9 419.1h.1M345.9 389.9h.1M349.7 389.4h.1M359.0 428.1h.1M353.8 366.3h.1M349.3 391.6h.1M353.1 363.1h.1M355.0 424.0h.1M354.7 375.3h.1M352.3 438.4h.1M351.1 357.0h.1M351.4 330.8h.1M345.9 382.0h.1M344.1 351.1h.1M344.9 391.6h.1M359.1 438.7h.1M347.4 381.1h.1M350.8 362.6h.1M347.6 375.2h.1M349.0 342.7h.1M353.1 402.2h.1M349.2 436.5h.1M351.8 430.3h.1M346.2 427.0h.1M348.0 379.5h.1M354.2 423.0h.1M347.4 340.5h.1M359.0 330.5h.1M356.8 408.0h.1M354.0 356.7h.1M355.6 414.3h.1M348.4 372.1h.1M350.8 437.5h.1M345.4 432.8h.1M356.0 362.0h.1M346.8 366.0h.1M356.3 321.2h.1M357.7 312.5h.1M347.0 325.0h.1M347.3 361.2h.1M355.4 386.3h.1M358.4 317.4h.1M352.6 394.9h.1M356.5 355.9h.1M352.7 434.4h.1M351.2 385.8h.1M354.5 305.7h.1M354.0 411.2h.1M350.8 398.0h.1M346.3 363.0h.1M355.2 374.2h.1M354.9 387.8h.1M348.3 348.2h.1M353.3 354.2h.1M353.2 332.9h.1M350.4 336.4h.1M352.7 414.1h.1M346.8 367.2h.1M348.7 392.5h.1M353.0 396.6h.1M357.5 309.2h.1M347.6 366.0h.1M352.9 349.8h.1M348.6 408.9h.1M351.7 361.9h.1M352.2 376.9h.1M355.6 419.6h.1M350.3 390.9h.1M347.9 420.0h.1M348.3 352.4h.1M348.5 375.0h.1M346.6 371.9h.1M349.1 436.2h.1M346.0 415.6h.1M349.5 381.1h.1M369.4 329.8h.1M354.2 410.4h.1M353.4 378.6h.1M343.4 370.1h.1M350.7 361.3h.1M351.8 409.3h.1M350.6 426.4h.1M354.8 382.7h.1M347.1 407.8h.1M346.9 396.0h.1M346.5 342.1h.1M357.6 438.4h.1M357.7 312.6h.1M348.3 353.8h.1M348.0 366.9h.1M353.0 372.6h.1M351.2 428.7h.1M349.1 431.7h.1M351.1 384.7h.1M349.1 365.5h.1M356.4 339.2h.1M360.5 339.4h.1M352.7 354.7h.1M359.3 428.7h.1M348.7 354.9h.1M345.8 340.8h.1M353.3 349.6h.1M345.0 395.7h.1M353.1 429.0h.1M341.7 415.6h.1M354.3 374.0h.1M353.6 323.9h.1M353.1 409.3h.1M352.0 359.2h.1M357.0 393.1h.1M351.6 343.3h.1M354.8 383.7h.1M345.1 400.7h.1M351.3 346.8h.1M360.6 322.3h.1M355.0 354.8h.1M358.4 396.2h.1M351.1 366.7h.1M352.7 417.6h.1M350.5 382.1h.1M348.6 349.1h.1M357.3 343.3h.1M346.7 335.7h.1M356.6 346.1h.1M358.2 322.8h.1M351.5 394.8h.1M355.1 322.6h.1M354.2 398.3h.1M364.4 397.0h.1M348.9 394.5h.1M353.7 333.2h.1M348.2 415.0h.1M349.9 412.1h.1M356.2 378.6h.1M350.2 307.9h.1M351.8 423.6h.1M356.0 413.6h.1M353.0 425.2h.1M350.2 340.2h.1M345.9 423.7h.1M347.9 393.0h.1M349.0 390.5h.1M349.2 422.9h.1M347.7 403.5h.1M348.4 371.4h.1M352.9 320.2h.1M351.4 358.9h.1M350.1 345.6h.1M352.3 397.7h.1M351.9 355.2h.1M355.1 361.1h.1M351.4 387.8h.1M349.9 387.7h.1M349.3 375.0h.1M350.0 350.2h.1M347.8 384.4h.1M349.9 393.0h.1M354.3 331.9h.1M354.8 410.6h.1M348.2 330.0h.1M351.9 398.8h.1M349.1 358.8h.1M353.3 396.0h.1M358.0 382.8h.1M347.0 418.9h.1M349.9 400.7h.1M351.3 395.6h.1M352.3 390.1h.1M354.4 372.3h.1M348.8 399.5h.1M355.2 424.7h.1M351.5 384.6h.1M352.3 407.1h.1M352.0 362.9h.1M343.0 375.4h.1M356.5 427.1h.1M358.6 392.4h.1M354.6 332.8h.1M356.9 388.3h.1M351.3 403.5h.1M353.3 409.4h.1M351.4 367.9h.1M352.2 413.6h.1M348.1 383.1h.1M348.1 405.1h.1M350.4 338.6h.1M351.0 435.2h.1M356.0 412.5h.1M346.9 416.9h.1M347.6 426.1h.1M352.3 308.2h.1M357.7 417.3h.1M352.3 370.4h.1M349.7 385.3h.1M350.4 306.8h.1M350.7 408.2h.1M342.6 386.9h.1M355.3 376.2h.1M356.5 327.1h.1M355.6 349.2h.1M355.2 347.6h.1M342.7 403.7h.1M349.8 360.0h.1M354.6 355.0h.1M358.4 303.8h.1M353.8 402.0h.1M354.1 428.7h.1M352.6 420.3h.1M352.9 382.0h.1M352.2 403.3h.1M345.2 366.2h.1M348.2 379.0h.1M343.9 399.8h.1M348.1 342.5h.1M353.4 421.0h.1M350.2 370.4h.1M349.5 417.8h.1M356.5 305.4h.1M356.3 305.1h.1M351.0 352.7h.1M351.1 404.6h.1M352.5 404.1h.1M345.9 428.7h.1M346.5 407.2h.1M353.5 330.9h.1M341.1 379.5h.1M355.6 426.0h.1M351.3 323.8h.1M349.5 341.3h.1M350.4 431.1h.1M352.2 355.4h.1M344.4 421.9h.1M354.1 399.3h.1M343.4 385.8h.1M350.6 423.9h.1M353.0 336.2h.1M359.9 336.1h.1M345.3 404.4h.1M347.4 426.0h.1M358.2 321.3h.1M357.4 386.8h.1M353.7 388.8h.1M350.8 367.5h.1M349.5 343.5h.1M351.0 389.1h.1M355.9 384.7h.1M346.2 402.4h.1M355.6 328.9h.1M357.9 327.4h.1M359.6 353.0h.1M357.0 304.6h.1M348.0 328.7h.1M355.9 353.9h.1M356.0 423.1h.1M350.7 337.8h.1M349.7 423.6h.1M353.8 350.3h.1M352.9 366.7h.1M345.9 434.8h.1M349.6 432.0h.1M346.1 415.1h.1M355.3 317.6h.1M345.0 402.6h.1M358.4 310.6h.1M359.0 425.9h.1M356.8 421.2h.1M355.0 351.8h.1M358.8 429.8h.1M358.7 418.4h.1M352.0 398.7h.1M348.1 416.8h.1M357.2 401.1h.1M351.2 417.7h.1M352.6 387.5h.1M348.7 419.8h.1M353.1 350.5h.1M353.3 355.3h.1M353.4 398.2h.1M360.9 422.2h.1M349.6 406.3h.1M347.2 365.8h.1M356.4 418.1h.1M348.0 408.6h.1M350.1 394.1h.1M357.1 372.2h.1M351.1 360.9h.1M350.6 373.2h.1M361.6 392.3h.1M353.1 394.5h.1M348.5 390.5h.1M355.6 328.1h.1M356.5 370.7h.1M352.7 411.6h.1M351.1 417.0h.1M351.3 372.1h.1M351.5 423.7h.1M358.2 322.2h.1M352.7 325.5h.1M357.1 415.1h.1M354.2 328.7h.1M351.9 360.1h.1M355.2 320.1h.1M355.1 366.2h.1M346.9 348.3h.1M348.1 355.2h.1M347.4 331.6h.1M348.3 344.3h.1M352.1 332.2h.1M350.7 370.9h.1M349.1 362.9h.1M353.8 310.1h.1M354.4 377.3h.1M354.5 427.7h.1M356.9 392.2h.1M357.0 381.3h.1M346.7 363.1h.1M354.4 302.9h.1M355.2 325.7h.1M350.8 336.2h.1M354.7 345.4h.1M355.1 362.0h.1M356.3 421.1h.1M351.7 405.7h.1M347.9 380.2h.1M350.8 440.9h.1M352.3 335.3h.1M348.5 390.1h.1M349.7 373.9h.1M349.6 342.3h.1M347.6 421.1h.1M353.0 310.1h.1M346.7 434.8h.1M358.7 324.6h.1M352.4 357.7h.1M353.8 437.4h.1M349.5 352.5h.1M354.7 304.0h.1M358.6 311.8h.1M351.8 308.2h.1M353.1 327.4h.1M353.9 341.8h.1M348.0 386.6h.1M352.1 395.6h.1M351.9 316.2h.1M350.1 430.5h.1M352.6 332.7h.1M355.7 311.2h.1M351.4 408.4h.1M351.9 395.7h.1M351.1 338.4h.1M351.0 397.5h.1M353.1 342.2h.1M357.7 388.5h.1M357.3 300.7h.1M346.5 412.2h.1M357.2 418.5h.1M358.6 322.4h.1M343.5 389.9h.1M349.1 430.0h.1M353.9 412.5h.1M352.9 382.8h.1M351.3 362.7h.1M351.4 389.2h.1M347.4 402.5h.1M356.1 321.2h.1M349.5 392.1h.1M347.6 396.3h.1M357.9 300.1h.1M349.8 437.5h.1M353.3 371.0h.1M350.9 367.4h.1M351.0 357.8h.1M354.7 333.3h.1M356.5 401.1h.1M348.8 440.4h.1M354.2 414.2h.1M351.1 336.2h.1M355.6 433.8h.1M351.2 390.1h.1M355.9 327.7h.1M354.2 346.2h.1M348.2 366.3h.1M351.4 369.6h.1M366.2 300.0h.1M355.1 399.9h.1M352.3 306.9h.1M356.6 358.4h.1M355.8 324.4h.1M352.0 405.1h.1M351.6 413.6h.1M349.6 397.7h.1M350.0 391.3h.1M348.2 413.0h.1M355.3 387.6h.1M349.2 418.0h.1M357.8 423.7h.1M344.8 403.4h.1M353.7 386.9h.1M347.1 411.3h.1M353.8 383.0h.1M348.1 404.5h.1M345.5 389.5h.1M359.4 313.6h.1M352.0 357.2h.1M354.1 397.6h.1M369.2 402.4h.1M354.0 400.7h.1M351.7 365.2h.1M349.3 349.6h.1M348.1 381.8h.1M348.2 418.9h.1M347.0 358.4h.1M353.8 411.8h.1M352.3 324.7h.1M355.0 347.9h.1M348.8 398.8h.1M346.2 371.7h.1M343.2 409.5h.1M358.7 426.6h.1M355.9 351.2h.1M346.7 371.4h.1M353.5 342.9h.1M349.4 383.0h.1M356.8 432.2h.1M355.1 430.9h.1M357.6 303.7h.1M353.1 372.8h.1M352.4 353.3h.1M345.4 357.2h.1M349.7 424.3h.1M348.7 403.9h.1M349.6 344.5h.1M347.6 353.6h.1M355.7 361.7h.1M361.8 322.5h.1M357.6 331.6h.1M347.4 348.6h.1M355.2 324.3h.1M349.6 358.0h.1M349.8 366.6h.1M352.9 416.4h.1M355.4 300.8h.1M350.2 404.3h.1M347.9 329.4h.1M352.3 435.5h.1M352.1 408.1h.1M350.6 344.2h.1M359.7 328.2h.1M354.2 314.4h.1M353.6 391.3h.1M345.6 409.8h.1M355.8 300.1h.1M351.5 377.9h.1M351.1 366.3h.1M352.7 410.8h.1M353.8 350.4h.1M351.2 395.4h.1M356.6 431.1h.1M355.8 391.2h.1M352.4 380.0h.1M357.6 337.0h.1M353.6 339.2h.1M353.6 424.6h.1M355.4 301.6h.1M348.8 408.7h.1M355.5 400.1h.1M357.7 386.9h.1M353.8 428.5h.1M357.0 356.2h.1M349.3 337.5h.1M346.3 350.2h.1M353.1 421.3h.1M351.7 341.0h.1M345.9 425.8h.1M354.7 368.5h.1M347.5 398.6h.1M348.1 381.4h.1M348.1 381.1h.1M355.9 416.0h.1M359.0 429.0h.1M349.9 401.7h.1M345.1 422.2h.1M345.0 414.3h.1M345.2 370.2h.1M353.1 363.3h.1M350.0 330.2h.1M344.7 370.6h.1M358.5 314.0h.1M350.4 416.7h.1M355.8 388.5h.1M350.3 317.8h.1M347.0 340.7h.1M349.6 420.2h.1M347.3 364.6h.1M351.7 414.7h.1M355.2 374.5h.1M350.9 386.8h.1M349.0 384.2h.1M355.4 314.3h.1M357.7 324.7h.1M357.8 412.8h.1M355.6 419.8h.1M350.5 362.2h.1M356.8 364.9h.1M354.2 359.3h.1M346.5 388.7h.1M356.4 335.9h.1M351.5 370.1h.1M351.2 336.9h.1M352.0 393.1h.1M348.6 395.4h.1M346.3 385.8h.1M346.2 366.1h.1M343.9 404.1h.1M353.5 427.2h.1M356.3 382.9h.1M350.1 392.7h.1M349.5 393.1h.1M352.9 372.6h.1M348.9 365.3h.1M353.2 385.5h.1M345.5 368.1h.1M346.4 380.8h.1M356.1 329.7h.1M350.7 340.5h.1M352.2 358.0h.1M350.4 426.5h.1M350.5 421.1h.1M350.1 409.1h.1M358.0 431.2h.1M351.9 427.5h.1M356.6 420.8h.1M352.9 421.4h.1M359.3 412.9h.1M361.6 407.7h.1M348.3 411.4h.1M353.5 419.6h.1M351.7 436.9h.1M350.7 410.5h.1M350.7 431.4h.1M358.8 430.0h.1M350.3 419.5h.1M355.0 422.3h.1M353.2 404.4h.1M351.0 426.9h.1M349.7 419.8h.1M348.2 416.7h.1M355.3 414.4h.1M357.7 435.5h.1M359.9 416.1h.1M354.9 416.6h.1M355.2 415.8h.1M352.5 415.1h.1M347.6 430.7h.1M351.0 418.6h.1M358.2 411.4h.1M352.5 432.4h.1M359.8 414.6h.1M361.4 423.6h.1M359.4 422.9h.1M353.3 426.4h.1M354.6 422.5h.1M348.0 409.1h.1M357.2 423.7h.1M353.7 419.6h.1M354.2 431.7h.1M355.9 421.8h.1M352.6 429.5h.1M357.6 418.4h.1M356.4 423.1h.1M354.7 410.0h.1M345.6 428.8h.1M358.9 410.4h.1M351.9 421.4h.1M357.0 421.0h.1M356.2 436.2h.1M354.3 422.7h.1M365.6 420.4h.1M356.7 436.1h.1M351.4 417.0h.1M349.6 415.9h.1M354.1 421.1h.1M360.8 405.5h.1M353.0 415.3h.1M350.6 424.3h.1M353.5 416.6h.1M353.9 421.9h.1M357.5 415.0h.1M350.6 422.9h.1M350.2 426.8h.1M352.9 431.7h.1M353.1 405.9h.1M354.9 417.4h.1M356.7 406.7h.1M361.4 419.9h.1M350.8 435.5h.1M354.5 431.4h.1M357.1 412.6h.1M355.2 420.6h.1M351.6 427.0h.1M356.6 424.8h.1M354.1 432.8h.1M351.7 422.5h.1M359.0 416.9h.1M355.1 418.3h.1M347.7 427.8h.1M359.5 410.2h.1M362.3 421.4h.1M357.9 420.2h.1M358.4 425.8h.1M359.8 414.3h.1M353.0 413.2h.1M357.1 435.7h.1M358.0 419.6h.1M355.5 419.4h.1M356.1 413.2h.1M356.3 406.9h.1M353.3 422.4h.1M355.0 428.1h.1M354.2 429.9h.1M360.6 417.4h.1M352.5 414.2h.1M353.8 427.8h.1M353.3 397.0h.1M352.9 426.8h.1M358.4 433.7h.1M352.8 414.2h.1M361.1 399.7h.1M357.8 406.5h.1M357.4 405.2h.1M356.0 432.1h.1M351.6 423.0h.1M353.9 428.2h.1M347.7 429.2h.1M359.0 420.0h.1M357.7 425.9h.1M353.1 416.1h.1M357.9 418.9h.1M357.3 411.4h.1M354.1 409.6h.1M359.0 409.7h.1M358.7 420.6h.1M351.9 431.0h.1M354.8 420.2h.1M353.8 424.7h.1M359.9 405.5h.1M361.4 405.9h.1M356.0 416.8h.1M358.2 405.5h.1M353.8 422.2h.1M348.1 412.1h.1M353.6 426.5h.1M357.2 409.8h.1M354.7 410.9h.1M355.0 425.1h.1M362.6 407.6h.1M361.7 408.6h.1M361.5 409.0h.1M350.9 431.7h.1M352.0 422.2h.1M352.5 416.9h.1M352.0 414.8h.1M352.5 421.2h.1M355.0 399.5h.1M353.1 413.7h.1M350.7 423.9h.1M353.8 418.4h.1M347.7 424.6h.1M351.8 393.2h.1M364.9 404.9h.1M353.7 419.6h.1M349.2 432.1h.1M355.4 424.4h.1M356.1 415.5h.1M356.7 421.0h.1M357.3 412.6h.1M352.7 435.0h.1M346.4 435.0h.1M356.6 417.8h.1M357.3 425.0h.1M355.9 404.0h.1M356.0 425.2h.1M350.6 428.9h.1M347.2 419.9h.1M355.9 429.9h.1M350.4 420.0h.1M353.1 406.8h.1M358.6 423.3h.1M345.5 429.6h.1M343.8 423.0h.1M353.8 412.7h.1M352.6 424.0h.1M351.7 413.4h.1M354.7 411.4h.1M350.5 423.8h.1M354.5 412.3h.1M357.1 408.9h.1M359.4 415.4h.1M350.1 412.5h.1M355.4 423.0h.1M352.7 417.2h.1M353.2 408.5h.1M360.4 410.3h.1M353.8 415.9h.1M358.7 395.0h.1M351.3 427.7h.1M351.2 410.0h.1M353.1 420.2h.1M355.2 423.2h.1M355.2 405.5h.1M349.5 414.6h.1M354.2 426.5h.1M356.4 426.4h.1M350.0 422.6h.1M352.5 416.8h.1M358.7 420.7h.1M359.6 421.3h.1M359.2 417.0h.1M357.5 411.0h.1M352.7 416.3h.1M353.3 399.7h.1M349.9 407.1h.1M347.9 423.4h.1M354.4 418.2h.1M349.7 411.9h.1M348.5 428.3h.1M358.2 420.0h.1M351.3 405.7h.1M354.5 427.9h.1M361.2 403.4h.1M358.7 417.2h.1M361.0 407.9h.1M353.8 419.0h.1M348.0 434.9h.1M356.6 423.4h.1M357.9 408.9h.1M352.0 408.1h.1M361.6 408.2h.1M351.8 422.5h.1M359.5 416.1h.1M352.9 407.9h.1M351.4 427.5h.1M352.0 423.9h.1M357.1 427.2h.1M352.6 403.8h.1M352.7 417.2h.1M344.2 416.1h.1M350.4 439.4h.1M358.9 409.4h.1M351.8 426.2h.1M353.3 418.9h.1M351.8 421.2h.1M357.2 418.5h.1M360.8 412.1h.1M354.9 418.0h.1M350.6 431.1h.1M352.6 416.8h.1M355.4 405.4h.1M343.6 409.9h.1M352.2 412.3h.1M351.1 426.4h.1M351.4 418.3h.1M352.6 412.9h.1M353.8 418.4h.1M364.3 406.9h.1M360.8 400.2h.1M354.7 420.6h.1M350.3 437.5h.1M350.9 444.1h.1M360.9 420.1h.1M353.0 423.5h.1M348.1 419.4h.1M354.7 418.7h.1M350.0 416.5h.1M358.3 417.0h.1M354.7 423.8h.1M358.9 412.3h.1M360.9 405.2h.1M349.0 431.9h.1M355.0 422.9h.1M355.1 416.2h.1M357.8 429.9h.1M354.4 422.2h.1M356.7 421.7h.1M356.0 416.5h.1M354.0 399.5h.1M356.0 414.9h.1M352.8 423.2h.1M355.7 410.4h.1M363.1 402.2h.1M359.9 408.8h.1M350.0 423.0h.1M350.5 425.2h.1M353.7 418.2h.1M354.2 424.8h.1M354.9 421.7h.1M352.3 442.0h.1M348.3 415.4h.1M352.7 429.5h.1M346.9 427.1h.1M353.4 422.7h.1M359.3 424.6h.1M350.6 420.2h.1M365.4 415.3h.1M359.9 417.7h.1M366.6 392.8h.1M359.8 427.8h.1M355.9 414.8h.1M356.0 416.3h.1M344.9 435.8h.1M358.6 409.7h.1M357.4 411.6h.1M353.9 426.3h.1M359.4 417.6h.1M357.5 420.8h.1M365.0 408.5h.1M349.6 425.1h.1M359.5 421.2h.1M352.9 428.5h.1M358.3 419.0h.1M350.7 427.1h.1M345.2 440.6h.1M355.1 430.5h.1M344.5 435.7h.1M354.3 413.2h.1M356.1 419.8h.1M354.3 422.4h.1M352.7 420.1h.1M347.8 417.4h.1M355.2 428.0h.1M362.1 419.5h.1M360.5 410.1h.1M352.6 426.4h.1M354.4 430.3h.1M362.1 408.5h.1M360.8 417.8h.1M354.8 404.6h.1M356.0 413.1h.1M352.8 422.7h.1M360.1 405.1h.1M357.9 405.5h.1M363.3 441.7h.1M353.7 414.3h.1M354.9 414.7h.1M347.0 414.6h.1M357.2 410.7h.1M345.5 418.4h.1M351.4 422.7h.1M359.0 414.5h.1M358.8 417.9h.1M353.9 437.5h.1M350.7 415.6h.1M348.3 433.5h.1M356.9 412.3h.1M349.1 426.3h.1M355.1 421.3h.1M353.4 427.8h.1M353.6 428.7h.1M365.7 399.8h.1M355.8 418.6h.1M356.0 416.5h.1M356.1 407.4h.1M358.9 412.5h.1M354.5 430.5h.1M347.8 426.2h.1M352.7 434.6h.1M353.7 428.1h.1M356.0 423.3h.1M355.0 408.1h.1M352.8 416.9h.1M356.8 413.5h.1M356.6 428.1h.1M355.2 418.7h.1M351.5 402.5h.1M355.5 424.7h.1M356.5 417.6h.1M352.6 412.1h.1M349.7 426.1h.1M356.2 418.5h.1M360.5 404.5h.1M349.3 420.3h.1M356.7 407.9h.1M355.4 421.9h.1M354.5 416.9h.1M359.7 414.7h.1M357.7 422.6h.1M349.1 418.6h.1M355.6 416.3h.1M358.6 420.2h.1M351.2 414.6h.1M353.6 420.8h.1M353.3 409.6h.1M354.1 425.1h.1M350.3 425.9h.1M354.6 409.8h.1M361.0 408.7h.1M352.9 420.0h.1M351.6 414.9h.1M358.7 413.3h.1M358.3 413.4h.1M357.3 428.5h.1M355.1 418.0h.1M356.1 416.8h.1M352.7 429.5h.1M360.9 404.0h.1M347.5 410.2h.1M356.1 405.4h.1M360.0 413.0h.1M353.2 412.3h.1M359.5 422.6h.1M349.6 426.0h.1M349.5 417.5h.1M358.0 440.2h.1M355.2 407.3h.1M358.8 415.6h.1M354.4 424.3h.1M350.5 422.3h.1M358.2 422.0h.1M346.9 416.4h.1M354.1 431.7h.1M346.2 430.5h.1M352.7 406.4h.1M351.3 425.2h.1M354.3 419.3h.1M355.9 407.7h.1M351.4 424.1h.1M354.7 407.7h.1M363.4 417.2h.1M354.9 413.9h.1M350.1 433.2h.1M344.8 424.8h.1M353.9 423.2h.1M355.0 409.5h.1M360.1 425.0h.1M357.5 423.5h.1M358.3 414.7h.1M359.2 398.3h.1M361.7 413.9h.1M353.1 414.3h.1M355.1 418.9h.1M359.7 431.1h.1M351.4 412.2h.1M350.9 427.2h.1M344.7 439.3h.1M357.9 422.1h.1M358.2 409.9h.1M348.3 422.8h.1M357.5 416.6h.1M364.5 415.6h.1M356.3 408.5h.1M357.0 416.5h.1M358.5 422.4h.1M357.6 413.2h.1M349.7 419.2h.1M357.4 412.2h.1M349.6 414.4h.1M355.6 412.3h.1M350.5 424.1h.1M357.5 413.8h.1M357.8 413.4h.1M360.6 422.5h.1M350.8 428.3h.1M349.1 433.1h.1M351.4 433.7h.1M353.0 413.5h.1M353.0 418.4h.1M353.2 417.0h.1M357.0 411.9h.1M355.3 421.0h.1M356.4 427.8h.1M360.3 412.9h.1M352.1 439.0h.1M347.1 432.2h.1M351.7 408.7h.1M349.0 429.1h.1M361.2 430.5h.1M356.3 422.9h.1M357.0 426.6h.1M357.5 419.6h.1M351.2 420.1h.1M346.4 449.3h.1M359.6 410.1h.1M355.7 416.0h.1M359.1 420.3h.1M348.8 431.7h.1M357.3 406.9h.1M349.5 420.0h.1M359.3 403.8h.1M360.6 398.5h.1M355.6 405.2h.1M359.9 400.9h.1M356.9 424.2h.1M347.7 445.6h.1M363.1 422.2h.1M358.6 406.9h.1M363.0 415.3h.1M352.0 432.5h.1M352.6 408.3h.1M355.2 418.0h.1M353.4 415.9h.1M354.6 422.8h.1M350.5 417.1h.1M345.3 428.4h.1M352.5 426.3h.1M354.9 407.8h.1M357.9 406.7h.1M350.1 427.4h.1M354.9 426.6h.1M347.8 412.9h.1M346.1 416.1h.1M355.3 399.5h.1M351.7 419.9h.1M352.3 434.3h.1M356.3 429.7h.1M356.8 405.1h.1M360.1 419.6h.1M355.4 418.6h.1M354.5 427.5h.1M354.9 423.9h.1M360.6 415.7h.1M352.2 420.4h.1M358.4 414.9h.1M356.5 428.2h.1M354.4 416.4h.1M360.2 407.6h.1M357.1 410.4h.1M351.8 419.9h.1M350.0 421.2h.1M347.9 426.2h.1M348.5 413.6h.1M348.8 427.2h.1M357.2 409.7h.1M356.0 411.8h.1M352.6 411.3h.1M358.8 400.0h.1M353.6 399.5h.1M361.4 409.1h.1M359.3 419.9h.1M352.8 427.4h.1M358.5 413.5h.1M353.3 422.2h.1M346.0 422.7h.1M349.9 424.2h.1M354.8 415.6h.1M355.8 404.3h.1M357.0 424.4h.1M369.8 381.4h.1M371.4 392.7h.1M374.2 407.2h.1M368.4 420.5h.1M365.3 396.0h.1M373.2 384.7h.1M368.4 385.3h.1M376.0 381.5h.1M353.3 424.9h.1M366.4 420.3h.1M371.2 429.5h.1M371.2 396.0h.1M360.2 376.6h.1M370.0 393.4h.1M360.8 412.8h.1M359.6 415.9h.1M375.1 374.9h.1M363.1 421.5h.1M367.9 398.4h.1M368.5 410.0h.1M365.7 413.1h.1M359.5 438.2h.1M364.5 414.8h.1M357.0 402.0h.1M371.4 395.2h.1M352.1 435.1h.1M356.9 424.5h.1M374.4 376.7h.1M352.2 422.4h.1M377.2 404.4h.1M353.3 427.7h.1M372.7 379.9h.1M371.9 386.7h.1M366.4 397.2h.1M371.9 381.3h.1M368.3 419.7h.1M360.2 427.6h.1M365.4 399.8h.1M371.0 412.6h.1M367.0 402.3h.1M381.8 402.5h.1M364.6 398.2h.1M369.3 404.8h.1M369.2 385.1h.1M374.4 382.0h.1M366.2 404.6h.1M372.8 372.9h.1M368.9 428.3h.1M356.6 423.8h.1M361.4 420.5h.1M383.7 382.1h.1M363.7 411.6h.1M368.9 402.0h.1M355.2 429.1h.1M364.7 406.4h.1M368.9 399.4h.1M375.3 400.6h.1M355.0 401.7h.1M376.4 384.9h.1M374.8 398.7h.1M368.7 398.1h.1M376.1 386.0h.1M377.9 388.9h.1M363.0 424.2h.1M366.3 416.5h.1M372.8 388.4h.1M371.9 390.6h.1M368.9 393.1h.1M360.6 447.3h.1M373.7 412.4h.1M355.6 423.3h.1M360.6 401.2h.1M367.5 398.0h.1M349.6 430.7h.1M376.1 391.9h.1M373.7 403.6h.1M371.8 371.8h.1M368.7 391.3h.1M362.9 412.6h.1M361.0 437.9h.1M349.8 430.2h.1M380.2 386.4h.1M373.8 399.1h.1M383.4 377.8h.1M369.8 431.6h.1M376.5 391.1h.1M359.1 411.3h.1M366.7 391.5h.1M379.9 403.3h.1M361.2 404.7h.1M369.5 389.0h.1M367.3 406.8h.1M374.8 390.2h.1M367.1 406.8h.1M386.4 381.9h.1M367.1 389.9h.1M357.5 414.3h.1M354.1 420.7h.1M380.1 386.0h.1M357.2 410.6h.1M364.2 411.5h.1M372.9 387.5h.1M380.0 378.1h.1M373.3 400.3h.1M356.4 432.9h.1M368.8 405.2h.1M359.5 432.6h.1M362.1 411.4h.1M357.6 406.8h.1M363.8 425.4h.1M356.6 430.2h.1M361.5 421.7h.1M356.8 421.8h.1M369.2 406.1h.1M357.7 426.9h.1M361.0 400.2h.1M363.7 400.8h.1M354.2 436.9h.1M366.8 385.7h.1M372.7 384.2h.1M348.1 417.1h.1M365.2 404.4h.1M378.8 382.9h.1M375.7 372.8h.1M368.5 413.9h.1M365.1 398.8h.1M362.5 409.6h.1M369.4 423.8h.1M374.6 402.3h.1M365.1 410.8h.1M377.2 374.2h.1M353.6 440.5h.1M371.2 384.1h.1M381.9 378.6h.1M369.5 395.0h.1M379.7 380.7h.1M380.1 374.1h.1M367.6 430.8h.1M386.5 380.2h.1M369.7 413.3h.1M367.4 418.7h.1M379.5 370.4h.1M375.9 391.9h.1M370.8 409.3h.1M356.5 422.6h.1M359.0 415.9h.1M365.0 408.0h.1M357.6 419.2h.1M364.4 409.1h.1M365.9 410.0h.1M357.0 431.7h.1M384.1 360.0h.1M370.4 408.5h.1M359.8 421.4h.1M361.8 434.5h.1M372.2 400.5h.1M374.7 382.7h.1M367.8 391.5h.1M380.9 404.5h.1M360.5 409.1h.1M366.6 398.3h.1M356.9 432.0h.1M359.4 411.4h.1M369.2 405.6h.1M359.8 416.1h.1M365.2 385.3h.1M364.6 422.3h.1M369.6 396.2h.1M357.1 412.5h.1M369.0 394.1h.1M368.8 411.3h.1M381.1 384.4h.1M370.2 395.8h.1M363.8 408.8h.1M369.1 408.7h.1M355.3 413.5h.1M354.0 412.3h.1M363.3 397.2h.1M365.6 414.8h.1M352.3 428.6h.1M352.2 456.5h.1M381.3 387.9h.1M376.0 396.1h.1M368.0 383.6h.1M376.4 387.7h.1M378.5 398.4h.1M363.9 396.4h.1M358.9 419.5h.1M359.0 402.8h.1M373.8 382.5h.1M361.9 408.7h.1M348.7 427.2h.1M363.6 399.0h.1M359.6 433.2h.1M361.2 418.6h.1M356.6 435.2h.1M380.3 396.7h.1M372.2 436.0h.1M347.2 439.8h.1M367.0 424.4h.1M366.0 404.8h.1M370.9 382.7h.1M374.2 397.8h.1M352.6 426.9h.1M363.1 398.0h.1M368.3 395.7h.1M364.0 417.7h.1M372.0 389.4h.1M350.6 420.4h.1M361.5 415.1h.1M362.2 381.0h.1M370.8 412.8h.1M355.4 414.2h.1M350.5 421.1h.1M351.3 428.8h.1M365.1 391.8h.1M361.2 416.9h.1M353.3 435.6h.1M358.7 434.9h.1M378.5 391.3h.1M376.4 386.0h.1M348.7 423.9h.1M352.5 422.6h.1M358.5 422.5h.1M364.0 412.1h.1M358.4 429.3h.1M373.6 377.0h.1M361.2 417.6h.1M360.4 388.8h.1M361.6 407.1h.1M362.6 414.2h.1M369.4 400.2h.1M370.5 388.1h.1M369.7 397.6h.1M345.6 441.5h.1M367.3 382.1h.1M370.4 411.4h.1M367.6 423.9h.1M371.7 399.2h.1M366.9 409.9h.1M369.9 382.8h.1M360.5 408.2h.1M382.8 387.4h.1M374.8 397.2h.1M363.2 396.2h.1M377.8 373.8h.1M354.6 434.5h.1M370.4 419.1h.1M368.4 385.1h.1M373.5 396.0h.1M367.9 382.3h.1M353.6 425.3h.1M379.9 392.3h.1M359.0 416.1h.1M364.2 422.8h.1M368.3 394.8h.1M355.9 437.1h.1M364.7 426.5h.1M356.8 433.3h.1M376.2 397.4h.1M381.8 397.2h.1M364.8 400.3h.1M367.9 417.0h.1M365.3 400.3h.1M368.9 396.7h.1M361.8 400.0h.1M361.1 414.1h.1M360.6 416.1h.1M361.4 431.5h.1M365.4 428.0h.1M371.8 398.3h.1M371.6 392.5h.1M361.8 412.1h.1M379.5 394.9h.1M381.9 374.8h.1M368.5 399.2h.1M369.2 395.2h.1M363.2 413.5h.1M348.4 424.4h.1M358.4 429.5h.1M353.4 414.2h.1M361.5 387.4h.1M385.2 370.5h.1M354.2 429.6h.1M357.4 408.5h.1M364.4 442.3h.1M351.5 435.4h.1M360.5 434.1h.1M356.0 438.5h.1M377.9 381.3h.1M354.5 414.1h.1M356.0 424.4h.1M369.0 395.8h.1M375.8 393.5h.1M361.7 414.7h.1M367.7 399.8h.1M371.4 394.8h.1M352.8 422.4h.1M380.7 374.2h.1M362.0 401.8h.1M360.4 411.9h.1M356.7 432.4h.1M378.3 415.2h.1M352.4 434.6h.1M362.3 408.6h.1M362.0 426.6h.1M363.9 403.4h.1M353.6 434.8h.1M365.0 413.2h.1M361.5 412.9h.1M354.4 427.3h.1M373.4 383.8h.1M374.1 384.6h.1M355.6 411.5h.1M355.0 417.0h.1M363.0 397.7h.1M369.9 396.7h.1M366.0 395.7h.1M385.9 395.3h.1M379.0 368.3h.1M366.5 419.8h.1M378.0 408.7h.1M366.3 401.3h.1M358.5 410.3h.1M358.0 392.5h.1M366.5 403.6h.1M367.4 400.7h.1M355.0 397.3h.1M377.4 384.6h.1M361.3 398.5h.1M348.8 449.8h.1M378.0 372.3h.1M375.3 384.0h.1M364.0 380.1h.1M373.1 380.7h.1M351.9 414.9h.1M356.2 429.5h.1M369.4 413.4h.1M361.2 423.8h.1M384.8 352.6h.1M365.4 409.6h.1M377.7 372.8h.1M350.0 399.9h.1M372.7 393.3h.1M367.0 416.7h.1M359.9 391.7h.1M379.6 387.6h.1M361.8 405.7h.1M363.8 417.3h.1M358.6 387.7h.1M350.5 440.3h.1M369.4 403.1h.1M359.6 407.9h.1M367.6 419.2h.1M363.6 408.5h.1M382.0 354.9h.1M351.5 386.9h.1M372.0 407.6h.1M348.9 432.6h.1M370.3 391.6h.1M357.8 394.5h.1M363.7 404.2h.1M353.7 446.4h.1M359.5 411.5h.1M356.7 427.0h.1M398.9 361.9h.1M367.2 432.2h.1M360.5 415.2h.1M364.8 388.2h.1M354.2 397.5h.1M370.3 403.8h.1M359.0 404.2h.1M366.6 391.3h.1M358.3 438.0h.1M352.8 403.5h.1M375.2 402.3h.1M366.9 399.3h.1M362.8 414.1h.1M362.1 401.1h.1M381.6 370.2h.1M358.5 402.8h.1M376.9 366.8h.1M348.2 444.6h.1M388.1 374.2h.1M352.4 449.6h.1M370.0 395.6h.1M346.6 445.7h.1M372.2 399.3h.1M366.1 380.5h.1M359.0 383.4h.1M368.2 383.3h.1M347.2 441.9h.1M371.5 419.0h.1M354.8 416.2h.1M365.1 404.1h.1M352.8 439.9h.1M359.3 405.3h.1M361.2 422.2h.1M378.1 390.3h.1M370.0 345.7h.1M369.7 388.7h.1M374.7 355.0h.1M354.0 442.2h.1M373.4 375.0h.1M362.9 425.5h.1M368.2 417.7h.1M372.8 409.2h.1M350.1 400.1h.1M353.2 398.4h.1M352.0 414.0h.1M373.4 406.3h.1M374.6 376.4h.1M350.4 430.6h.1M363.2 397.2h.1M371.7 406.4h.1M360.3 399.1h.1M364.6 365.9h.1M367.8 373.5h.1M357.5 407.8h.1M356.0 421.4h.1M379.9 379.6h.1M378.0 372.7h.1M347.7 410.3h.1M378.1 379.1h.1M345.3 444.8h.1M355.0 408.6h.1M357.8 410.4h.1M340.0 437.8h.1M374.6 401.7h.1M379.2 365.2h.1M355.9 436.2h.1M371.8 395.9h.1M377.5 377.3h.1M354.8 428.1h.1M367.3 384.4h.1M373.1 397.8h.1M357.5 415.3h.1M358.4 413.9h.1M338.2 448.4h.1M369.0 402.0h.1M367.4 333.8h.1M393.1 338.3h.1M386.3 286.5h.1M398.5 279.2h.1M343.7 381.9h.1M341.0 368.1h.1M387.0 281.0h.1M376.3 309.1h.1M344.5 390.8h.1M366.8 394.1h.1M402.2 295.7h.1M401.5 312.5h.1M394.8 325.3h.1M366.8 316.8h.1M365.8 381.5h.1M330.5 351.4h.1M352.9 328.4h.1M389.6 294.7h.1M358.2 277.9h.1M327.7 374.6h.1M392.1 325.0h.1M378.6 339.5h.1M354.9 293.2h.1M428.3 308.5h.1M364.3 372.9h.1M338.8 367.0h.1M389.5 298.7h.1M412.8 279.7h.1M352.8 378.2h.1M337.2 403.8h.1M347.7 350.2h.1M351.7 280.5h.1M354.5 395.2h.1M332.1 346.7h.1M382.4 359.7h.1M347.6 354.7h.1M388.6 284.9h.1M369.3 298.5h.1M363.2 344.8h.1M358.0 358.6h.1M353.7 378.1h.1M367.7 295.4h.1M367.7 285.9h.1M368.1 360.6h.1M384.2 379.7h.1M414.6 306.3h.1M379.9 348.8h.1M367.9 357.3h.1M329.2 413.5h.1M366.9 377.5h.1M359.8 292.4h.1M348.7 308.2h.1M330.0 390.3h.1M390.9 313.3h.1M355.5 291.2h.1M364.2 390.3h.1M401.3 275.9h.1M375.1 391.7h.1M349.3 382.2h.1M366.0 303.7h.1M353.8 385.1h.1M336.8 306.3h.1M403.4 311.0h.1M374.0 333.0h.1M405.6 339.9h.1M356.6 283.9h.1M433.2 288.6h.1M335.6 376.7h.1M347.6 325.2h.1M413.6 283.7h.1M346.7 385.2h.1M408.3 300.6h.1M361.1 380.4h.1M345.0 328.0h.1M391.9 305.0h.1M370.6 316.6h.1M353.9 257.5h.1M365.7 371.8h.1M345.5 390.5h.1M347.1 299.5h.1M393.0 379.1h.1M376.5 323.0h.1M381.1 261.4h.1M393.5 348.1h.1M380.5 358.0h.1M389.0 304.8h.1M438.5 281.7h.1M358.1 353.2h.1M358.0 311.5h.1M345.9 377.6h.1M396.5 330.3h.1M345.6 367.0h.1M360.5 400.7h.1M397.7 317.3h.1M337.7 371.2h.1M342.5 412.9h.1M357.0 266.4h.1M384.6 336.4h.1M397.4 332.3h.1M378.3 328.1h.1M373.2 282.5h.1M391.4 300.2h.1M381.7 396.2h.1M359.2 292.1h.1M343.4 341.2h.1M336.8 414.7h.1M402.3 254.8h.1M334.1 390.2h.1M331.6 406.1h.1M354.5 295.6h.1M423.7 307.7h.1M338.3 349.7h.1M369.1 358.1h.1M372.4 324.3h.1M337.7 304.8h.1M337.9 387.8h.1M364.1 335.9h.1M332.9 363.6h.1M391.7 318.7h.1M341.7 318.0h.1M335.2 346.4h.1M410.6 309.0h.1M405.4 284.2h.1M345.9 403.4h.1M374.1 314.5h.1M370.7 352.8h.1M339.5 358.3h.1M365.5 338.9h.1M328.8 410.7h.1M354.6 357.5h.1M358.7 339.7h.1M359.7 313.5h.1M337.9 414.7h.1M360.6 380.2h.1M332.7 376.0h.1M355.8 381.4h.1M378.5 317.6h.1M336.2 366.0h.1M345.4 257.8h.1M359.5 282.4h.1M370.7 393.4h.1M373.5 295.2h.1M362.6 381.3h.1M381.5 276.6h.1M399.7 285.9h.1M392.7 386.9h.1M343.4 367.9h.1M327.6 392.5h.1M373.3 353.9h.1M354.5 272.4h.1M359.3 320.3h.1M351.7 304.4h.1M333.2 318.7h.1M379.4 260.4h.1M372.8 401.2h.1M361.6 344.8h.1M335.2 399.1h.1M359.9 374.1h.1M350.0 275.4h.1M344.2 353.5h.1M332.9 388.3h.1M414.2 269.1h.1M340.5 357.0h.1M392.2 347.0h.1M391.6 326.0h.1M347.5 287.4h.1M356.0 333.6h.1M400.2 324.9h.1M341.3 367.1h.1M342.1 289.2h.1M346.6 384.2h.1M338.4 276.7h.1M336.7 383.2h.1M341.3 376.7h.1M347.5 375.1h.1M357.1 377.3h.1M368.9 323.7h.1M334.9 421.2h.1M343.4 339.0h.1M367.4 266.8h.1M372.5 309.2h.1M374.8 355.3h.1M349.8 369.9h.1M355.7 281.0h.1M339.0 360.7h.1M368.7 346.2h.1M390.6 260.0h.1M357.0 301.7h.1M409.5 282.9h.1M385.5 379.5h.1M395.6 304.9h.1M373.5 300.7h.1M358.7 374.3h.1M369.6 325.3h.1M356.8 301.3h.1M335.6 256.8h.1M333.3 346.3h.1M370.1 371.1h.1M361.8 329.6h.1M338.6 361.6h.1M345.2 390.2h.1M358.7 336.3h.1M388.5 286.6h.1M355.4 303.9h.1M398.3 293.9h.1M406.4 302.1h.1M364.7 266.0h.1M372.4 265.4h.1M359.6 353.5h.1M375.9 299.9h.1M373.7 411.7h.1M356.7 388.1h.1M397.0 332.7h.1M367.4 336.8h.1M380.7 294.5h.1M401.7 324.2h.1M342.4 323.9h.1M346.2 267.9h.1M332.0 378.3h.1M375.1 405.0h.1M347.6 389.1h.1M338.3 341.9h.1M352.9 279.9h.1M327.2 402.4h.1M412.4 350.8h.1M332.0 362.5h.1M358.6 351.8h.1M342.4 361.6h.1M364.9 390.9h.1M342.8 413.3h.1M378.1 296.7h.1M363.7 308.1h.1M358.1 335.4h.1M342.6 391.1h.1M366.4 389.0h.1M349.7 291.4h.1M366.5 332.1h.1M329.7 403.3h.1M368.8 297.2h.1M363.2 335.0h.1M327.9 382.4h.1M381.4 368.1h.1M342.8 381.2h.1M343.6 289.6h.1M344.8 381.7h.1M361.1 333.9h.1M375.5 389.5h.1M343.1 350.1h.1M396.5 351.6h.1M357.1 347.8h.1M333.8 409.0h.1M340.3 335.3h.1M340.3 394.3h.1M369.9 396.0h.1M356.0 321.7h.1M345.0 310.2h.1M341.0 413.1h.1M350.2 416.6h.1M383.8 330.4h.1M342.8 382.8h.1M405.5 277.9h.1M334.4 316.2h.1M342.3 342.7h.1M348.8 279.1h.1M373.6 298.2h.1M343.7 381.2h.1M381.3 390.1h.1M371.8 263.2h.1M373.1 280.9h.1M381.7 266.7h.1M348.7 412.9h.1M346.7 343.5h.1M339.4 299.5h.1M393.8 349.5h.1M340.2 342.1h.1M333.3 374.8h.1M368.6 330.6h.1M358.6 363.3h.1M338.8 407.1h.1M357.0 395.1h.1M341.8 361.7h.1M397.4 304.7h.1M360.7 326.7h.1M371.2 346.8h.1M391.7 304.9h.1M333.4 395.4h.1M366.0 299.3h.1M372.5 310.9h.1M352.3 345.1h.1M381.6 369.0h.1M340.6 410.9h.1M382.7 364.5h.1M347.1 386.3h.1M401.2 312.9h.1M378.1 323.1h.1M367.5 360.1h.1M365.1 388.7h.1M344.3 301.3h.1M381.3 277.9h.1M365.7 287.8h.1M385.9 341.1h.1M362.9 349.1h.1M347.3 327.1h.1M387.8 350.0h.1M348.5 347.7h.1M335.6 350.2h.1M383.6 293.7h.1M328.6 362.4h.1M398.2 307.1h.1M428.9 300.9h.1M367.9 363.2h.1M370.7 380.1h.1M396.6 262.8h.1M389.3 311.6h.1M354.6 386.5h.1M393.7 322.6h.1M358.7 266.0h.1M372.6 308.2h.1M357.0 332.1h.1M403.2 299.5h.1M370.3 300.9h.1M345.8 324.8h.1M344.9 312.0h.1M389.8 346.1h.1M342.3 353.7h.1M354.2 283.3h.1M331.8 382.6h.1M401.1 264.4h.1M370.2 393.2h.1M349.8 305.2h.1M376.1 309.7h.1M408.7 258.7h.1M384.9 359.5h.1M390.2 336.4h.1M357.9 359.2h.1M334.9 420.6h.1M345.3 289.1h.1M364.9 362.8h.1M335.9 347.8h.1M349.0 418.8h.1M341.7 324.1h.1M331.5 379.9h.1M349.4 308.9h.1M339.1 332.6h.1M367.2 282.2h.1M393.2 340.8h.1M370.3 291.1h.1M335.5 360.9h.1M347.3 380.8h.1M337.6 361.3h.1M357.5 317.5h.1M348.3 375.6h.1M364.6 405.3h.1M375.3 363.9h.1M357.7 297.8h.1M340.1 338.4h.1M365.0 349.5h.1M412.7 305.6h.1M425.3 297.6h.1M373.1 332.4h.1M375.6 388.2h.1M352.5 270.0h.1M333.7 339.7h.1M338.0 367.6h.1M411.9 309.7h.1M394.4 348.0h.1M369.0 314.0h.1M345.2 349.2h.1M359.0 428.6h.1M327.7 335.5h.1M343.1 415.5h.1M338.5 333.0h.1M348.1 330.5h.1M404.4 288.2h.1M331.7 342.4h.1M401.2 292.4h.1M369.9 315.6h.1M365.9 366.7h.1M360.2 395.9h.1M381.7 361.0h.1M381.7 316.9h.1M359.7 321.9h.1M370.9 366.4h.1M366.4 341.0h.1M387.3 266.3h.1M361.3 342.0h.1M386.9 339.2h.1M328.9 386.3h.1M366.6 341.8h.1M345.4 344.4h.1M363.4 344.9h.1M433.5 298.4h.1M360.3 284.6h.1M354.3 376.7h.1M404.7 358.1h.1M341.5 378.2h.1M371.2 343.8h.1M332.2 308.3h.1M344.9 364.6h.1M371.4 337.1h.1M373.8 331.0h.1M413.6 298.4h.1M407.7 293.6h.1M363.0 401.0h.1M365.9 298.5h.1M358.4 385.5h.1M366.3 366.9h.1M362.6 343.1h.1M404.5 279.0h.1M334.9 356.6h.1M349.2 329.2h.1M343.1 369.1h.1M349.2 372.4h.1M408.3 327.9h.1M402.9 259.5h.1M337.1 310.1h.1M344.0 284.2h.1M332.2 388.3h.1M348.0 279.6h.1M326.9 370.1h.1M331.1 391.5h.1M385.3 348.1h.1M335.5 378.4h.1M344.3 335.0h.1M351.7 355.3h.1M378.5 257.3h.1M354.7 314.1h.1M380.5 390.4h.1M381.2 377.5h.1M346.4 318.8h.1M357.6 310.2h.1M360.8 368.7h.1M357.0 323.5h.1M348.3 413.7h.1M374.4 287.8h.1M339.1 419.5h.1M334.1 332.4h.1M357.7 285.7h.1M368.2 384.8h.1M341.8 415.0h.1M380.9 316.1h.1M335.7 365.5h.1M383.3 300.2h.1M390.1 336.2h.1M344.1 393.1h.1M345.2 282.7h.1M388.3 351.9h.1M375.2 360.3h.1M327.3 410.4h.1M346.7 327.7h.1M359.7 361.1h.1M359.3 285.1h.1M373.8 282.6h.1M387.9 373.3h.1M356.8 346.0h.1M331.9 393.3h.1M356.9 370.6h.1M342.3 343.6h.1M339.2 344.7h.1M328.2 294.8h.1M327.8 385.5h.1M358.5 415.2h.1M350.1 282.9h.1M338.5 334.8h.1M393.1 287.6h.1M340.2 302.6h.1M341.4 358.4h.1M377.3 320.6h.1M329.4 272.2h.1M337.2 358.4h.1M366.2 306.5h.1M353.4 395.6h.1M375.2 281.7h.1M366.5 282.1h.1M408.3 347.1h.1M389.7 307.8h.1M376.3 336.0h.1M344.9 271.0h.1M339.1 368.1h.1M369.1 331.8h.1M393.6 363.9h.1M361.3 330.8h.1M358.8 422.7h.1M342.7 384.7h.1M360.9 315.1h.1M364.4 321.5h.1M337.1 297.5h.1M377.6 283.4h.1M362.1 355.4h.1M359.9 329.4h.1M364.3 374.0h.1M358.1 342.5h.1M421.6 263.5h.1M354.6 381.3h.1M359.3 361.7h.1M394.3 350.6h.1M429.8 300.2h.1M364.1 260.4h.1M329.4 384.9h.1M329.5 298.2h.1M332.6 340.9h.1M356.3 310.7h.1M331.7 406.5h.1M329.7 385.2h.1M352.2 334.5h.1M366.8 374.7h.1M348.5 338.4h.1M343.3 394.9h.1M356.6 285.8h.1M378.1 303.9h.1M354.1 361.7h.1M338.5 318.8h.1M368.4 367.5h.1M374.3 372.5h.1M338.4 279.2h.1M346.8 267.0h.1M357.7 345.5h.1M335.9 346.7h.1M396.6 318.7h.1M343.7 296.6h.1M409.9 311.4h.1M361.0 340.2h.1M346.7 400.7h.1M384.0 261.0h.1M358.1 365.4h.1M353.3 384.9h.1M376.3 306.8h.1M340.0 383.3h.1M337.3 387.8h.1M343.3 295.8h.1M350.8 357.6h.1M342.4 331.7h.1M367.7 277.7h.1M408.0 262.3h.1M366.6 299.6h.1M331.9 329.4h.1M371.0 262.3h.1M352.6 287.0h.1M362.0 384.4h.1M365.7 286.4h.1M384.3 342.5h.1M372.9 318.4h.1M343.8 410.9h.1M368.8 285.4h.1M371.2 390.7h.1M374.4 400.3h.1M366.6 288.4h.1M375.0 372.4h.1M339.6 276.3h.1M374.5 330.8h.1M346.6 328.0h.1M340.0 311.1h.1M363.6 396.5h.1M342.5 334.2h.1M370.7 362.7h.1M332.9 394.4h.1M417.9 326.0h.1M360.6 390.5h.1M422.8 281.2h.1M360.0 260.6h.1M336.0 371.9h.1M392.2 322.5h.1M340.4 401.7h.1M386.6 375.2h.1M365.1 360.9h.1M334.2 345.0h.1M342.3 391.5h.1M347.1 321.5h.1M333.7 312.6h.1M357.7 335.5h.1M353.0 270.0h.1M351.6 407.5h.1M386.0 343.1h.1M347.2 287.5h.1M332.8 333.0h.1M400.5 337.5h.1M376.0 376.4h.1M431.3 291.1h.1M377.8 350.3h.1M342.2 357.0h.1M342.9 391.5h.1M389.2 308.2h.1M354.6 280.1h.1M383.3 328.5h.1M348.1 370.5h.1M351.2 266.8h.1M375.0 276.5h.1M384.5 314.2h.1M364.1 347.0h.1M351.2 340.5h.1M414.6 285.8h.1M398.2 356.3h.1M362.8 373.6h.1M368.6 321.6h.1M331.7 375.4h.1M328.5 407.9h.1M345.9 305.6h.1M348.9 302.6h.1M362.1 311.8h.1M361.1 317.6h.1M384.6 296.9h.1M343.7 398.9h.1M351.1 368.1h.1M376.5 264.0h.1M358.5 421.6h.1M388.4 360.4h.1M369.6 295.7h.1M341.7 371.5h.1M351.4 271.1h.1M329.6 362.8h.1M371.1 335.6h.1M365.8 341.5h.1M343.9 346.8h.1M363.8 270.7h.1M351.2 364.0h.1M353.2 352.8h.1M391.3 329.8h.1M327.8 364.3h.1M349.2 394.9h.1M374.3 272.6h.1M346.1 290.2h.1M342.7 328.3h.1M339.6 351.7h.1M370.0 361.0h.1M329.7 393.6h.1M382.4 323.2h.1M377.5 267.4h.1M377.3 314.2h.1M346.5 351.8h.1M342.5 395.9h.1M363.8 360.4h.1M330.6 378.7h.1M353.8 408.9h.1M349.2 372.8h.1M392.1 314.8h.1M402.8 285.9h.1M333.0 298.3h.1M333.3 305.6h.1M355.7 310.4h.1M376.1 331.7h.1M346.4 365.8h.1M332.5 358.9h.1M338.9 326.3h.1M336.4 425.6h.1M342.9 365.2h.1M351.6 272.0h.1M375.8 329.1h.1M369.5 362.5h.1M356.6 411.2h.1M339.0 395.6h.1M380.3 296.9h.1M404.1 271.8h.1M346.5 344.2h.1M349.8 320.2h.1M360.1 394.9h.1M355.8 308.8h.1M355.2 264.6h.1M358.2 321.5h.1M391.7 302.0h.1M411.4 318.1h.1M352.1 292.3h.1M329.2 321.0h.1M333.8 430.5h.1M418.7 305.6h.1M352.0 266.0h.1M345.6 310.3h.1M338.7 359.8h.1M334.4 413.7h.1M407.8 311.2h.1M356.0 364.3h.1M355.4 424.8h.1M349.1 315.9h.1M337.8 354.4h.1M372.3 374.7h.1M401.4 316.4h.1M401.2 320.1h.1M359.3 273.5h.1M370.4 340.7h.1M356.9 266.1h.1M336.9 369.6h.1M391.1 329.0h.1M338.6 278.6h.1M386.2 308.0h.1M358.9 318.3h.1M340.8 364.4h.1M362.8 334.1h.1M380.7 375.5h.1M352.0 420.3h.1M381.2 343.9h.1M385.7 294.5h.1M373.3 375.0h.1M432.5 286.6h.1M367.0 375.2h.1M329.3 348.1h.1M383.6 328.0h.1M330.7 351.4h.1M331.0 346.7h.1M339.9 327.7h.1M337.4 388.1h.1M350.8 421.0h.1M339.5 407.5h.1M365.8 364.4h.1M350.6 348.0h.1M366.2 303.5h.1M337.2 372.0h.1M339.3 406.0h.1M334.5 402.6h.1M407.6 275.1h.1M361.3 263.0h.1M370.1 277.8h.1M349.1 275.8h.1M331.5 386.7h.1M392.2 336.8h.1M369.3 366.3h.1M375.8 300.7h.1M376.3 333.0h.1M331.4 360.6h.1M331.0 378.5h.1M343.0 324.7h.1M372.5 345.3h.1M400.6 316.9h.1M376.1 348.6h.1M405.8 328.7h.1M339.1 375.3h.1M378.5 388.3h.1M388.7 298.3h.1M339.1 348.6h.1M374.2 266.9h.1M361.5 306.3h.1M379.9 335.6h.1M360.4 391.2h.1M342.6 349.3h.1M355.7 327.9h.1M389.3 324.0h.1M348.6 315.8h.1M338.0 409.2h.1M364.7 365.5h.1M382.5 375.2h.1M395.7 357.1h.1M357.6 322.4h.1M342.8 373.7h.1M347.1 314.6h.1M332.2 384.1h.1M365.6 315.0h.1M388.6 331.6h.1M350.2 410.4h.1M369.1 275.5h.1M369.9 347.5h.1M373.9 355.8h.1M352.1 403.5h.1M353.4 392.0h.1M351.7 255.3h.1M377.4 300.9h.1M357.4 321.5h.1M370.9 423.8h.1M363.0 292.0h.1M360.1 271.6h.1M346.3 401.0h.1M369.3 419.8h.1M379.4 369.9h.1M326.3 337.8h.1M343.4 301.6h.1M381.0 324.6h.1M361.9 321.6h.1M328.4 340.6h.1M343.6 335.7h.1M342.0 353.0h.1M341.6 379.9h.1M332.3 358.4h.1M326.8 387.9h.1M332.4 399.7h.1M340.5 289.2h.1M372.5 256.0h.1M344.5 323.5h.1M350.5 354.9h.1M351.9 274.2h.1M352.6 316.1h.1M374.4 377.1h.1M382.1 289.7h.1M366.0 305.5h.1M368.1 289.7h.1M362.0 322.4h.1M375.4 385.0h.1M367.5 373.8h.1M367.2 260.7h.1M389.4 336.7h.1M342.3 305.7h.1M342.9 331.0h.1M365.4 345.4h.1M327.2 387.1h.1M356.0 375.9h.1M360.3 316.0h.1M382.3 281.3h.1M408.8 278.3h.1M358.5 325.2h.1M340.8 338.7h.1M375.0 354.8h.1M340.1 396.9h.1M376.3 393.9h.1M379.1 271.9h.1M377.9 306.3h.1M393.3 320.6h.1M347.8 413.1h.1M338.5 334.9h.1M397.9 366.8h.1M334.8 393.5h.1M405.4 307.3h.1M340.9 389.1h.1M383.5 379.8h.1M351.6 388.0h.1M366.2 313.0h.1M337.7 449.6h.1M328.3 271.2h.1M349.8 406.0h.1M355.3 358.0h.1M384.2 352.7h.1M377.1 318.1h.1M389.4 350.3h.1M327.3 342.8h.1M359.6 278.2h.1M349.9 309.6h.1M345.6 406.3h.1M349.3 264.0h.1M386.3 265.3h.1M349.2 291.3h.1M345.5 374.2h.1M361.3 360.6h.1M331.8 384.1h.1M380.8 337.8h.1M389.3 368.9h.1M393.6 318.2h.1M364.1 372.7h.1M357.7 261.5h.1M391.4 367.1h.1M347.3 372.1h.1M399.1 313.9h.1M353.8 378.0h.1M359.1 374.5h.1M422.5 328.3h.1M353.4 375.5h.1M371.9 366.4h.1M386.8 370.2h.1M358.2 339.7h.1M391.7 304.0h.1M394.3 273.2h.1M361.1 344.4h.1M345.0 322.5h.1M354.7 321.6h.1M356.1 363.8h.1M367.1 376.4h.1M358.9 350.1h.1M335.6 336.7h.1M362.5 291.5h.1M337.6 384.8h.1M345.7 391.2h.1M361.4 396.4h.1M336.0 340.2h.1M417.8 304.0h.1M354.6 380.0h.1M372.1 286.5h.1M371.5 353.2h.1M388.8 342.2h.1M367.9 388.3h.1M345.3 328.1h.1M405.5 264.0h.1M397.1 316.9h.1M348.4 308.6h.1M367.5 345.8h.1M340.8 381.0h.1M347.1 419.0h.1M353.2 426.8h.1M377.4 343.7h.1M364.0 407.0h.1M344.9 288.9h.1M335.3 313.6h.1M372.2 371.2h.1M339.3 377.5h.1M393.0 327.8h.1M372.0 348.6h.1M360.9 301.8h.1M359.8 292.3h.1M336.3 337.6h.1M351.9 336.5h.1M329.5 358.2h.1M398.5 364.0h.1M346.3 261.1h.1M352.5 380.8h.1M362.4 302.5h.1M362.6 398.6h.1M326.7 414.4h.1M381.5 379.9h.1M359.9 348.5h.1M375.7 342.8h.1M376.4 319.1h.1M326.0 345.7h.1M359.4 388.3h.1M359.5 390.0h.1M364.2 320.2h.1M338.9 370.4h.1M352.1 331.4h.1M387.2 375.3h.1M373.3 299.0h.1M357.3 332.5h.1M349.4 355.0h.1M368.5 327.4h.1M374.0 320.6h.1M352.4 393.0h.1M436.5 267.5h.1M404.0 266.0h.1M384.7 285.1h.1M339.8 381.4h.1M335.3 391.1h.1M364.6 294.2h.1M381.5 303.2h.1M401.2 331.3h.1M368.1 347.8h.1M362.9 377.5h.1M346.1 396.2h.1M361.3 393.5h.1M362.5 357.3h.1M362.7 289.4h.1M346.9 346.7h.1M365.6 360.2h.1M353.1 403.1h.1M328.1 390.7h.1M355.9 382.3h.1M396.0 314.7h.1M348.3 377.8h.1M332.9 343.1h.1M371.5 332.2h.1M346.2 385.9h.1M355.8 269.4h.1M356.2 291.0h.1M344.3 395.5h.1M332.6 363.5h.1M380.0 294.4h.1M395.4 265.5h.1M341.7 353.4h.1M388.2 348.7h.1M333.2 390.9h.1M370.2 378.2h.1M381.4 405.0h.1M406.5 313.7h.1M370.4 335.6h.1M370.3 399.9h.1M341.1 397.8h.1M368.9 257.9h.1M345.6 327.9h.1M359.2 291.2h.1M357.1 353.1h.1M365.3 318.4h.1M395.3 305.3h.1M428.1 254.5h.1M334.1 341.5h.1M369.6 343.7h.1M356.1 336.7h.1M347.2 379.1h.1M351.4 395.4h.1M358.5 385.6h.1M360.3 406.0h.1M355.7 400.6h.1M413.4 340.4h.1M353.6 313.2h.1M362.9 406.8h.1M366.5 265.2h.1M358.6 328.3h.1M359.8 364.0h.1M372.6 355.8h.1M357.9 387.8h.1M343.6 356.4h.1M349.4 296.4h.1M377.9 304.9h.1M355.4 333.8h.1M340.2 417.3h.1M386.9 367.8h.1M333.7 391.3h.1M387.0 339.3h.1M363.1 312.0h.1M330.6 357.3h.1M338.5 345.6h.1M331.7 375.5h.1M336.9 385.1h.1M355.1 360.8h.1M353.0 347.7h.1M384.8 289.2h.1M330.6 355.1h.1M394.1 344.8h.1M337.0 321.6h.1M361.2 328.9h.1M361.6 300.0h.1M360.2 375.6h.1M330.9 423.1h.1M353.8 383.0h.1M353.2 387.1h.1M394.1 280.1h.1M396.6 285.3h.1M432.8 320.8h.1M354.2 352.8h.1M354.9 274.0h.1M381.8 367.7h.1M344.2 396.8h.1M339.3 364.2h.1M339.6 407.6h.1M348.5 297.3h.1M350.0 377.3h.1M337.2 387.7h.1M350.9 304.4h.1M331.3 352.5h.1M407.0 317.8h.1M343.7 393.9h.1M331.2 427.3h.1M382.4 380.4h.1M386.8 353.3h.1M336.8 403.3h.1M376.9 292.4h.1M371.8 379.9h.1M353.6 387.7h.1M357.0 367.8h.1M357.2 342.1h.1M340.5 324.0h.1M341.5 340.6h.1M337.0 338.6h.1M340.7 394.5h.1M370.3 278.8h.1M336.4 372.5h.1M399.6 260.1h.1M379.3 335.1h.1M365.5 385.4h.1M337.9 325.9h.1M347.1 335.9h.1M381.6 395.6h.1M339.4 294.8h.1M387.0 315.8h.1M353.4 362.0h.1M346.3 296.0h.1M410.9 285.1h.1M343.8 359.6h.1M332.1 344.1h.1M365.3 353.3h.1M371.8 267.9h.1M340.9 410.7h.1M381.2 329.7h.1M354.4 365.4h.1M336.4 386.7h.1M337.1 336.4h.1M344.0 343.7h.1M359.2 265.1h.1M328.6 389.5h.1M375.0 326.6h.1M338.5 339.9h.1M411.8 313.7h.1M377.8 342.1h.1M378.5 398.9h.1M356.9 280.6h.1M364.9 327.2h.1M340.3 368.7h.1M354.8 379.2h.1M349.0 382.2h.1M364.5 344.7h.1M353.2 310.7h.1M339.5 274.3h.1M368.1 300.1h.1M383.1 276.1h.1M351.3 375.9h.1M349.2 271.0h.1M331.7 403.5h.1M352.2 264.4h.1M358.6 381.9h.1M336.4 414.0h.1M352.7 376.1h.1M358.2 369.9h.1M344.8 393.4h.1M390.2 328.7h.1M380.9 351.1h.1M331.3 445.1h.1M346.1 379.6h.1M342.7 367.3h.1M343.6 364.3h.1M424.4 287.2h.1M367.9 344.9h.1M373.5 290.3h.1M349.0 390.0h.1M346.8 377.5h.1M394.0 331.1h.1M374.5 304.1h.1M399.0 295.2h.1M381.7 311.2h.1M330.6 311.1h.1M370.5 337.2h.1M392.3 260.1h.1M357.4 330.0h.1M396.7 313.8h.1M380.5 399.6h.1M355.0 345.5h.1M423.7 265.1h.1M348.4 261.1h.1M372.3 376.8h.1M392.3 330.9h.1M360.3 272.9h.1M338.8 401.6h.1M355.7 395.9h.1M340.7 350.9h.1M349.2 367.8h.1M357.3 268.1h.1M366.6 377.2h.1M339.9 420.2h.1M376.5 367.0h.1M379.6 337.8h.1M347.5 289.4h.1M330.4 366.1h.1M340.5 312.3h.1M359.0 314.2h.1M370.3 383.5h.1M356.5 379.3h.1M350.8 359.8h.1M379.2 353.5h.1M362.5 357.5h.1M384.8 333.4h.1M422.1 327.5h.1M369.4 407.8h.1M385.0 316.2h.1M381.1 280.8h.1M391.1 361.4h.1M359.2 367.5h.1M385.9 286.1h.1M342.7 412.6h.1M336.9 342.2h.1M374.1 284.2h.1M349.9 349.5h.1M360.5 365.4h.1M336.4 399.7h.1M404.5 354.6h.1M389.1 340.1h.1M346.3 378.9h.1M380.2 395.4h.1M350.1 311.7h.1M345.0 285.7h.1M383.0 282.4h.1M360.7 277.2h.1M340.6 303.0h.1M344.5 378.7h.1M390.0 363.8h.1M335.4 350.1h.1M342.9 307.1h.1M362.8 353.2h.1M403.4 285.2h.1M361.5 326.8h.1M352.6 280.5h.1M370.1 387.8h.1M362.0 296.7h.1M391.0 365.7h.1M370.6 367.8h.1M337.7 394.4h.1M357.3 416.7h.1M342.5 335.1h.1M408.9 295.6h.1M352.7 389.6h.1M355.3 317.9h.1M333.0 367.8h.1M364.8 386.9h.1M372.6 402.7h.1M345.7 424.8h.1M342.9 371.9h.1M350.9 282.0h.1M328.5 358.5h.1M359.5 314.3h.1M370.1 319.7h.1M392.4 338.3h.1M364.8 396.8h.1M387.8 304.4h.1M376.4 379.3h.1M433.0 315.4h.1M350.5 376.8h.1M371.5 301.9h.1M329.8 347.9h.1M366.6 278.9h.1M398.6 368.2h.1M368.2 316.0h.1M369.8 287.4h.1M355.5 326.7h.1M358.4 388.4h.1M420.8 273.5h.1M349.8 326.7h.1M341.1 376.1h.1M376.7 311.7h.1M405.2 280.1h.1M366.7 328.1h.1M375.7 312.9h.1M345.3 329.1h.1M338.4 339.8h.1M380.2 323.7h.1M375.2 329.1h.1M357.4 364.4h.1M349.9 428.8h.1M371.0 364.2h.1M347.9 339.2h.1M358.7 361.6h.1M368.3 391.3h.1M336.6 355.3h.1M409.0 272.3h.1M375.6 332.3h.1M361.1 277.3h.1M351.9 256.4h.1M410.7 308.0h.1M339.6 366.4h.1M354.2 379.2h.1M414.0 276.4h.1M336.7 391.5h.1M378.8 254.6h.1M374.4 330.2h.1M374.7 341.4h.1M350.6 336.5h.1M340.2 321.7h.1M430.1 284.1h.1M334.0 399.7h.1M393.9 355.6h.1M384.4 322.6h.1M382.5 280.4h.1M357.6 351.4h.1M366.6 280.7h.1M418.6 282.8h.1M338.3 389.7h.1M353.6 327.9h.1M341.7 400.2h.1M371.5 272.4h.1M372.6 268.0h.1M402.9 325.3h.1M370.7 350.5h.1M339.1 390.9h.1M408.1 309.9h.1M352.6 360.4h.1M331.6 382.9h.1M373.0 387.8h.1M346.7 263.9h.1M386.8 282.2h.1M353.4 317.3h.1M376.2 313.4h.1M357.0 340.5h.1M340.9 348.6h.1M374.5 380.5h.1M362.9 384.2h.1M379.4 313.7h.1M335.7 305.7h.1M385.5 287.4h.1M376.2 340.7h.1M381.4 340.0h.1M327.7 383.9h.1M342.8 397.8h.1M356.1 328.7h.1M362.4 285.2h.1M332.3 357.9h.1M333.2 377.3h.1M357.2 319.8h.1M356.2 294.4h.1M345.9 357.9h.1M348.3 332.5h.1M370.0 257.4h.1M356.6 366.0h.1M385.9 268.2h.1M378.8 358.8h.1M356.2 255.0h.1M354.1 312.5h.1M402.2 345.3h.1M338.1 407.4h.1M355.0 328.0h.1M361.3 362.4h.1M379.1 324.4h.1M346.0 321.3h.1M381.7 337.5h.1M352.0 297.4h.1M375.5 394.3h.1M353.1 399.6h.1M359.3 365.0h.1M353.6 352.6h.1M370.6 295.7h.1M393.1 315.0h.1M335.9 334.0h.1M422.7 300.4h.1M368.8 362.7h.1M367.9 422.8h.1M366.4 327.4h.1M360.6 379.5h.1M390.1 351.8h.1M359.2 369.2h.1M332.4 393.7h.1M350.7 413.0h.1M374.9 374.7h.1M397.3 338.7h.1M329.9 321.9h.1M366.3 273.2h.1M406.3 310.9h.1M357.7 337.2h.1M351.9 273.7h.1M351.0 417.3h.1M377.6 368.8h.1M391.4 310.0h.1M360.4 390.0h.1M332.8 425.7h.1M381.5 330.6h.1M337.6 357.1h.1M328.0 367.8h.1M354.5 309.7h.1M331.6 316.2h.1M389.6 348.8h.1M337.6 377.9h.1M327.6 415.5h.1M372.5 257.7h.1M370.8 315.4h.1M394.7 308.9h.1M373.7 387.7h.1M371.5 328.0h.1M373.8 266.4h.1M342.5 447.6h.1M352.5 339.4h.1M351.9 313.5h.1M388.8 338.2h.1M327.2 330.1h.1M363.8 279.0h.1M348.7 338.3h.1M334.0 325.3h.1M347.0 335.9h.1M339.5 390.8h.1M366.0 293.3h.1M364.7 256.4h.1M374.7 262.2h.1M384.8 266.6h.1M345.5 293.1h.1M327.9 353.9h.1M354.6 416.2h.1M368.7 263.6h.1M333.5 383.5h.1M364.9 357.6h.1M403.5 255.4h.1M389.3 289.2h.1M365.8 370.4h.1M362.4 281.2h.1M343.6 376.3h.1M357.9 307.4h.1M344.9 282.2h.1M352.6 369.9h.1M358.7 352.1h.1M335.5 367.9h.1M373.8 375.8h.1M499.3 339.1h.1M392.2 310.9h.1M442.1 351.4h.1M465.6 374.0h.1M473.0 350.3h.1M439.6 331.9h.1M430.7 319.9h.1M479.4 294.2h.1M493.9 365.0h.1M483.0 277.3h.1M380.9 304.7h.1M333.7 265.8h.1M438.2 356.5h.1M425.6 295.1h.1M463.7 393.9h.1M405.5 334.5h.1M363.0 406.7h.1M442.5 277.1h.1M438.7 371.8h.1M426.8 387.9h.1M370.7 297.1h.1M341.7 298.2h.1M326.4 421.6h.1M334.3 374.8h.1M328.7 331.5h.1M327.7 396.3h.1M326.9 359.9h.1M327.7 381.0h.1M328.3 430.7h.1M331.1 339.3h.1M334.5 321.5h.1M338.5 366.1h.1M327.1 351.9h.1M333.4 361.9h.1M331.2 287.9h.1M328.3 376.5h.1M331.1 345.6h.1M329.8 382.6h.1M327.2 422.5h.1M328.5 397.1h.1M330.3 368.1h.1M337.7 402.8h.1M327.0 415.9h.1M325.8 433.6h.1M326.8 404.1h.1M327.2 397.5h.1M334.8 326.9h.1M329.7 341.9h.1M331.6 377.4h.1M336.4 406.6h.1M330.6 344.5h.1M341.8 417.9h.1M331.6 376.5h.1M329.4 384.9h.1M331.2 379.3h.1M326.8 383.7h.1M326.3 345.2h.1M329.3 341.2h.1M335.1 349.1h.1M328.7 381.5h.1M328.1 376.0h.1M328.0 376.2h.1M330.6 345.8h.1M328.4 333.6h.1M328.6 345.5h.1M326.3 344.0h.1M334.4 411.9h.1M333.7 368.8h.1M326.9 377.1h.1M331.5 409.3h.1M332.3 358.7h.1M328.3 368.7h.1M325.9 363.3h.1M329.3 403.6h.1M330.1 378.6h.1M333.8 401.6h.1M333.2 379.9h.1M332.4 397.8h.1M328.6 352.8h.1M328.5 401.3h.1M333.7 413.8h.1M329.2 320.7h.1M325.9 375.5h.1M326.1 356.9h.1M327.4 422.5h.1M326.3 383.1h.1M327.1 347.3h.1M332.3 354.4h.1M326.4 410.6h.1M329.7 301.3h.1M329.2 388.6h.1M328.2 394.0h.1M330.7 359.3h.1M334.7 380.8h.1M327.5 345.2h.1M326.3 322.6h.1M330.3 340.3h.1M331.8 375.9h.1M327.1 333.0h.1M328.2 400.9h.1M335.8 377.3h.1M336.0 364.0h.1M327.4 404.6h.1M329.4 321.4h.1M327.6 293.2h.1M329.6 365.6h.1M327.2 433.0h.1M341.9 396.3h.1M329.8 359.5h.1M330.8 397.1h.1M326.0 306.0h.1M345.6 361.9h.1M327.4 414.9h.1M328.4 394.4h.1M332.8 356.5h.1M328.4 319.3h.1M327.9 402.5h.1M339.4 349.2h.1M331.8 423.5h.1M326.2 411.2h.1M326.6 423.1h.1M326.9 358.5h.1M336.4 312.9h.1M326.6 379.2h.1M326.6 377.1h.1M329.5 352.0h.1M330.0 379.6h.1M329.5 413.3h.1M343.0 332.5h.1M330.0 316.8h.1M327.0 397.7h.1M328.5 335.1h.1M331.6 397.3h.1M329.9 369.3h.1M341.3 374.7h.1M329.3 384.2h.1M331.0 352.8h.1M340.2 426.0h.1M330.0 365.3h.1M329.9 347.6h.1M331.2 370.1h.1M327.9 348.5h.1M327.1 299.2h.1M326.7 383.0h.1M326.7 420.9h.1M336.8 366.8h.1M332.2 343.2h.1M332.2 422.5h.1M328.6 385.4h.1M327.4 404.2h.1M327.1 410.3h.1M327.7 312.1h.1M332.2 434.7h.1M326.9 348.4h.1M327.2 346.3h.1M328.8 358.6h.1M333.2 405.6h.1M326.9 437.0h.1M328.5 423.0h.1M331.2 373.7h.1M325.9 425.0h.1M327.9 375.2h.1M326.1 406.7h.1M326.6 390.5h.1M341.0 354.9h.1M329.0 384.4h.1M327.0 343.3h.1M336.0 417.2h.1M329.4 384.3h.1M326.5 430.6h.1M329.0 387.6h.1M332.7 429.6h.1M328.2 350.4h.1M328.8 436.5h.1M326.2 386.1h.1M327.4 376.7h.1M326.8 314.6h.1M326.6 356.2h.1M327.1 385.7h.1M328.3 412.9h.1M331.3 349.3h.1M331.0 300.3h.1M327.4 347.0h.1M326.2 333.9h.1M326.6 389.2h.1M331.3 411.8h.1M326.7 357.9h.1M328.2 333.1h.1M331.7 378.6h.1M327.1 369.4h.1M327.8 353.0h.1M326.9 339.3h.1M341.9 393.2h.1M330.7 362.7h.1M326.2 394.4h.1M326.9 354.0h.1M327.0 327.1h.1M329.4 334.3h.1M326.8 365.5h.1M328.8 376.5h.1M327.9 344.7h.1M333.4 314.5h.1M328.4 390.7h.1M338.2 337.7h.1M329.5 358.5h.1M334.2 312.5h.1M334.8 365.7h.1M328.9 373.1h.1M328.2 404.5h.1M326.4 346.1h.1M329.5 351.8h.1M327.4 297.0h.1M326.1 323.2h.1M347.5 352.8h.1M327.0 299.8h.1M327.1 375.8h.1M326.8 368.7h.1M327.6 381.5h.1M329.0 323.3h.1M326.7 363.9h.1M335.2 373.7h.1M327.3 307.4h.1M327.9 362.0h.1M327.2 369.2h.1M326.5 325.0h.1M329.0 334.5h.1M326.4 358.3h.1M329.7 359.5h.1M329.9 392.4h.1M329.8 286.9h.1M327.2 400.3h.1M328.3 294.0h.1M329.1 392.9h.1M332.5 288.4h.1M332.7 269.4h.1M328.0 271.1h.1M331.0 413.4h.1M327.8 355.0h.1M328.2 341.4h.1M331.4 312.2h.1M326.4 418.2h.1M329.3 271.3h.1M332.8 334.4h.1M331.8 391.9h.1M328.2 305.7h.1M336.9 316.7h.1M330.2 347.6h.1M326.0 416.2h.1M329.8 397.9h.1M333.1 367.9h.1M335.5 350.0h.1M328.9 431.0h.1M326.5 449.8h.1M327.2 458.8h.1M326.8 457.5h.1M327.0 437.8h.1M326.5 439.7h.1M327.1 448.2h.1M327.2 440.1h.1M327.0 443.1h.1M326.7 448.6h.1M327.0 449.6h.1M327.1 458.1h.1M327.1 438.2h.1M327.0 442.8h.1M327.0 445.1h.1M326.8 441.1h.1M326.8 440.0h.1M327.0 451.4h.1M326.8 440.3h.1M326.9 442.2h.1M326.9 438.7h.1M327.0 448.9h.1M327.1 439.6h.1M326.9 454.5h.1M327.1 452.2h.1M327.0 450.3h.1M327.3 456.3h.1M327.3 446.5h.1M326.9 439.4h.1M327.0 453.3h.1M327.3 456.0h.1M326.9 447.7h.1M327.1 439.9h.1M327.1 443.7h.1M326.8 447.9h.1M326.9 456.9h.1M326.9 447.1h.1M326.9 455.5h.1M327.4 445.9h.1M327.1 446.7h.1M327.0 453.1h.1M327.2 450.3h.1M327.3 454.2h.1M326.8 454.6h.1M326.7 443.2h.1M327.3 446.4h.1M326.7 444.1h.1M326.8 454.8h.1M327.1 442.6h.1M326.6 446.5h.1M326.7 442.3h.1M327.2 440.4h.1M326.8 438.0h.1M326.9 447.0h.1M327.1 451.8h.1M326.7 446.2h.1M327.1 453.3h.1M327.0 449.4h.1M327.2 439.7h.1M327.1 446.8h.1M327.0 456.7h.1M326.8 451.1h.1M327.3 448.9h.1M330.0 254.3h.1M341.7 255.0h.1M416.5 254.3h.1M325.3 255.0h.1M344.5 255.0h.1M385.3 254.3h.1M421.3 254.3h.1M327.8 254.3h.1M347.0 255.0h.1M418.7 254.3h.1M431.1 255.0h.1M346.0 254.3h.1M400.6 254.3h.1M386.8 254.3h.1M398.6 254.3h.1M333.8 254.3h.1M400.7 255.0h.1M399.0 254.3h.1M335.9 255.0h.1M407.7 254.3h.1M418.8 255.0h.1M416.6 254.3h.1M379.1 255.0h.1M389.3 255.0h.1M345.7 254.3h.1M431.8 254.3h.1M329.3 255.0h.1M338.4 255.0h.1M328.1 255.0h.1M359.8 254.3h.1M342.2 255.0h.1M370.2 254.3h.1M384.2 255.0h.1M340.5 255.0h.1M382.2 255.0h.1M424.9 255.0h.1M420.8 254.3h.1M414.6 254.3h.1M367.1 254.3h.1M402.8 255.0h.1M389.7 254.3h.1M415.9 255.0h.1M327.7 254.3h.1M411.4 254.3h.1M406.0 255.0h.1M429.5 255.0h.1M337.0 255.0h.1M377.6 254.3h.1M366.1 254.3h.1M333.8 254.3h.1M387.3 254.3h.1M344.2 254.3h.1M422.4 254.3h.1M334.2 255.0h.1M408.4 254.3h.1M416.5 254.3h.1M390.0 254.3h.1M401.4 254.3h.1M380.0 254.3h.1M398.0 254.3h.1M345.2 255.0h.1M363.1 254.3h.1M416.7 254.3h.1M394.4 254.3h.1M383.8 254.3h.1M340.5 254.3h.1M382.0 254.3h.1M360.2 254.3h.1M385.0 254.3h.1M430.3 255.0h.1M427.8 255.0h.1M381.4 254.3h.1M369.3 254.3h.1M404.7 254.3h.1M341.5 254.3h.1M430.7 254.3h.1M368.7 255.0h.1M379.2 254.3h.1M384.9 254.3h.1M390.6 255.0h.1M394.6 255.0h.1M326.4 254.3h.1M348.8 254.3h.1M385.9 254.3h.1M348.2 254.3h.1M432.1 254.3h.1M418.8 254.3h.1M414.4 255.0h.1M389.0 254.3h.1M341.7 255.0h.1M327.2 254.3h.1M388.2 255.0h.1M354.7 255.0h.1M336.1 254.3h.1M353.5 254.3h.1M352.6 255.0h.1M376.2 255.0h.1M360.4 254.3h.1M366.9 254.3h.1M388.3 255.0h.1M349.3 255.0h.1M354.5 254.3h.1M411.0 255.0h.1M425.8 254.3h.1M392.5 254.3h.1M432.7 254.3h.1M376.3 254.3h.1M376.9 254.3h.1M329.7 254.3h.1M345.4 254.3h.1M351.6 254.3h.1M369.4 255.0h.1M351.8 255.0h.1M422.3 254.3h.1M344.7 255.0h.1M330.8 254.3h.1M395.6 254.3h.1M376.5 255.0h.1M360.5 254.3h.1M333.7 254.3h.1M376.0 255.0h.1M405.3 254.3h.1M421.5 254.3h.1M425.1 255.0h.1M327.3 254.3h.1M404.2 254.3h.1M417.7 254.3h.1M393.8 254.3h.1M379.9 254.3h.1M352.3 255.0h.1M393.8 255.0h.1M373.6 254.3h.1M356.2 254.3h.1M431.8 254.3h.1M332.8 254.3h.1M417.8 254.3h.1M419.9 255.0h.1M363.3 254.3h.1M391.3 254.3h.1M364.9 255.0h.1M337.3 254.3h.1M357.8 255.0h.1M417.3 254.3h.1M340.4 255.0h.1M339.2 254.3h.1M418.7 255.0h.1M356.2 255.0h.1M328.1 254.3h.1M411.9 254.3h.1M332.8 255.0h.1M388.6 254.3h.1M413.4 255.0h.1M328.5 255.0h.1M404.3 254.3h.1M366.9 254.3h.1M417.4 254.3h.1M416.9 254.3h.1M352.0 255.0h.1M327.8 255.0h.1M413.8 254.3h.1M351.2 255.0h.1M345.3 254.3h.1M352.1 255.0h.1M365.9 255.0h.1M334.0 254.3h.1M349.4 254.3h.1M412.3 255.0h.1M391.3 255.0h.1M384.0 255.0h.1M328.0 254.3h.1M395.2 254.3h.1M398.0 254.3h.1M414.3 254.3h.1M398.9 255.0h.1M364.1 255.0h.1M344.7 254.3h.1M377.8 254.3h.1M383.1 254.3h.1M332.7 254.3h.1M417.4 254.3h.1M375.3 255.0h.1M384.5 254.3h.1M417.6 255.0h.1M414.4 254.3h.1M422.7 255.0h.1M341.3 254.3h.1M336.8 254.3h.1M362.3 255.0h.1M394.8 254.3h.1M353.4 255.0h.1M327.5 254.3h.1M386.4 254.3h.1M356.5 254.3h.1M393.8 255.0h.1M388.1 254.3h.1M377.1 254.3h.1M426.8 254.3h.1M392.7 254.3h.1M357.3 254.3h.1M400.1 255.0h.1M512.5 255.0h.1M436.1 254.3h.1M487.9 255.0h.1M483.8 254.3h.1M461.4 254.3h.1M499.3 254.3h.1M485.7 254.3h.1M463.7 255.0h.1M474.8 255.0h.1M443.0 254.3h.1M501.2 254.3h.1M452.2 254.3h.1M445.4 254.3h.1M448.4 255.0h.1M448.2 254.3h.1M475.4 254.3h.1M503.7 254.3h.1M465.2 254.3h.1M438.9 255.0h.1M508.4 254.3h.1M445.5 255.0h.1M441.8 254.3h.1M442.6 254.3h.1M443.5 254.3h.1M509.8 254.3h.1M505.8 255.0h.1M471.7 254.3h.1M478.6 254.3h.1M440.5 255.0h.1M467.3 254.3h.1M465.8 254.3h.1M485.1 254.3h.1M450.0 255.0h.1M497.0 254.3h.1M450.2 255.0h.1M474.2 254.3h.1M443.8 254.3h.1M510.6 255.0h.1M501.0 254.3h.1M512.6 255.0h.1M511.1 255.0h.1M462.5 254.3h.1M455.9 254.3h.1M441.6 254.3h.1M472.9 255.0h.1M510.6 254.3h.1M482.2 254.3h.1M450.5 254.3h.1M440.2 254.3h.1M436.6 254.3h.1M491.5 254.3h.1M462.9 254.3h.1M512.0 254.3h.1M478.1 254.3h.1M473.4 254.3h.1M485.0 254.3h.1M492.4 254.3h.1M509.7 254.3h.1M486.3 255.0h.1M482.2 254.3h.1M472.9 254.3h.1M446.5 254.3h.1M444.5 254.3h.1M445.1 254.3h.1M455.4 254.3h.1M451.9 255.0h.1M490.8 254.3h.1M506.6 254.3h.1M497.9 254.3h.1M465.4 254.3h.1M507.4 254.3h.1M492.9 255.0h.1M512.3 255.0h.1M480.1 254.3h.1M445.5 254.3h.1"/>
<polygon class="g" points="351.4,295.6 361.2,298.5 362.2,315.1 361.2,338.5 359.2,358 357.6,375 355.3,389.2 353.4,410.7 351.4,418.5 349.5,446.7 343.6,428.2 340.7,408.7 340.7,379.5 342.1,370 342.7,363.8 344.6,344.3 346.6,324.8 348.5,309.2"/>
<polygon class="g" points="371.9,366.8 375.8,371.7 390,367.8 388.5,389.2 382.6,412.6 371.9,435 368,440 349.5,446.7 351.4,418.5 353.4,410.7 359.2,393.1"/>
<polyline class="g" style="stroke-width:1" points="361.2,298.5 362.5,295 364.5,292.5"/>
<text class="r" x="378.3" y="282.5">Region 2</text>
<text class="n" x="458.6" y="280.8">(37)</text>
<text class="r" x="372.0" y="448.7">Region 1</text>
<text class="n" x="459.5" y="448.0">(31)</text>
<text class="L" x="283.9" y="267.7">D</text>
</svg>
</body></html>
